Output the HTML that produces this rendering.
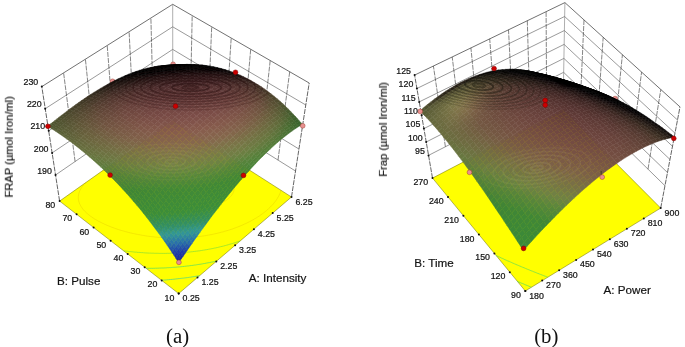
<!DOCTYPE html><html><head><meta charset="utf-8"><style>html,body{margin:0;padding:0;background:#fff}svg{display:block}
.te{stroke:#333;stroke-width:.7}.gh{stroke:#555;stroke-width:.6}.gv{stroke:#333;stroke-width:.6;stroke-dasharray:5 1}
.ev{stroke:#222;stroke-width:.7;stroke-dasharray:5 1}.eb{stroke:#777;stroke-width:.6}
text{font-family:"Liberation Sans",sans-serif;fill:#111}.tk text{font-size:8.4px;stroke:#111;stroke-width:.22}.ti text{font-size:11.1px;stroke:#111;stroke-width:.2}
.cap{font-family:"Liberation Serif",serif;font-size:20.8px}</style></head><body><svg width="685" height="347" viewBox="0 0 685 347"><g><line x1="41.8" y1="86.6" x2="172.7" y2="4.3" class="te"/><line x1="172.7" y1="4.3" x2="309.2" y2="83" class="te"/><line x1="45.2" y1="108.7" x2="172.7" y2="26.8" class="gh"/><line x1="172.7" y1="26.8" x2="305.8" y2="105" class="gh"/><line x1="48.7" y1="130.8" x2="172.7" y2="49.4" class="gh"/><line x1="172.7" y1="49.4" x2="302.4" y2="127" class="gh"/><line x1="52.1" y1="152.9" x2="172.8" y2="71.9" class="gh"/><line x1="172.8" y1="71.9" x2="298.9" y2="149" class="gh"/><line x1="55.5" y1="175" x2="172.8" y2="94.4" class="gh"/><line x1="172.8" y1="94.4" x2="295.5" y2="171" class="gh"/><line x1="75.1" y1="161.6" x2="63.6" y2="72.9" class="gv"/><line x1="94.6" y1="148.1" x2="85.4" y2="59.2" class="gv"/><line x1="114.2" y1="134.7" x2="107.2" y2="45.4" class="gv"/><line x1="133.7" y1="121.3" x2="129.1" y2="31.7" class="gv"/><line x1="153.2" y1="107.8" x2="150.9" y2="18" class="gv"/><line x1="278" y1="160.1" x2="289.7" y2="71.8" class="gv"/><line x1="260.5" y1="149.1" x2="270.2" y2="60.5" class="gv"/><line x1="242.9" y1="138.2" x2="250.7" y2="49.3" class="gv"/><line x1="225.4" y1="127.3" x2="231.2" y2="38" class="gv"/><line x1="207.9" y1="116.3" x2="211.7" y2="26.8" class="gv"/><line x1="190.3" y1="105.4" x2="192.2" y2="15.5" class="gv"/><line x1="59.6" y1="201.1" x2="41.8" y2="86.6" class="ev"/><line x1="291.5" y1="197" x2="309.2" y2="83" class="ev"/><line x1="172.8" y1="121" x2="172.7" y2="4.3" class="eb"/></g><path d="M178.7,293.6 L291.5,197 L172.8,121 L59.6,201.1 Z" fill="#ffff00" stroke="#6b6b00" stroke-width="0.5"/><g fill="none" stroke-width="0.8"><polyline points="199.6,275.7 199.2,275.8 197.6,276 197.3,276.1 195.9,276.3 195,276.5 194.3,276.6 192.7,276.8 192.6,276.8 190.9,277.1 190.4,277.2 189.3,277.3 188.2,277.5 187.6,277.6 185.9,277.8 185.9,277.8 184.2,278 183.7,278.1 182.5,278.2 181.5,278.3 180.8,278.4 179.3,278.6 179.1,278.6 177.3,278.8 177.1,278.8 175.6,279 175,279.1 173.9,279.2 172.8,279.3 172.1,279.4 170.7,279.5 170.4,279.5 168.6,279.7 168.5,279.7 166.8,279.8 166.4,279.9 165.1,280 164.3,280 163.3,280.1 162.2,280.2 161.5,280.2" stroke="#30d0a0" stroke-opacity="0.8"/><polyline points="216.7,261.1 216,261.2 214.5,261.5 214.2,261.6 212.9,261.9 211.8,262.1 211.3,262.2 209.7,262.5 209.4,262.6 208.1,262.8 207,263 206.5,263.1 204.9,263.4 204.6,263.5 203.2,263.7 202.3,263.9 201.6,264 200,264.3 199.9,264.3 198.3,264.5 197.7,264.6 196.6,264.8 195.4,265 194.9,265 193.2,265.3 193.2,265.3 191.5,265.5 191,265.6 189.8,265.7 188.8,265.9 188.1,265.9 186.6,266.1 186.4,266.1 184.7,266.3 184.4,266.4 182.9,266.5 182.3,266.6 181.2,266.7 180.1,266.8 179.4,266.9 178,267 177.7,267 175.9,267.2 175.9,267.2 174.1,267.3 173.8,267.3 172.3,267.4 171.7,267.5 170.5,267.6 169.7,267.6 168.7,267.7 167.6,267.7 166.8,267.8 165.6,267.9 165,267.9 163.5,268 163.2,268 161.5,268 161.3,268 159.5,268.1 159.5,268.1 157.6,268.2 157.5,268.2 155.7,268.2 155.5,268.2 153.8,268.3 153.5,268.3 151.9,268.3 151.6,268.3 150,268.3 149.6,268.3 148.1,268.3 147.7,268.3 146.2,268.3" stroke="#40d870" stroke-opacity="0.8"/><polyline points="167.4,124.8 168.7,124.7 169.5,124.7 170.5,124.6 171.5,124.6 172.4,124.5 173.5,124.5 174.2,124.4 175.6,124.4 176.1,124.4 177.6,124.3 177.9,124.3" stroke="#40d870" stroke-opacity="0.8"/><polyline points="240.2,240.9 239.6,241.1 238.2,241.6 237.2,242 236.8,242.1 235.4,242.6 234.3,242.9 234,243 232.5,243.5 231.4,243.8 231.1,243.9 229.6,244.3 228.6,244.6 228.1,244.8 226.6,245.2 225.9,245.4 225.2,245.6 223.6,246 223.3,246.1 222.1,246.4 220.7,246.7 220.6,246.7 219.1,247.1 218.2,247.3 217.5,247.5 216,247.8 215.7,247.9 214.4,248.1 213.2,248.4 212.8,248.5 211.2,248.8 210.8,248.9 209.6,249.1 208.4,249.3 208,249.4 206.4,249.7 206.1,249.7 204.7,250 203.8,250.1 203.1,250.2 201.5,250.5 201.4,250.5 199.7,250.8 199.2,250.8 198,251 197,251.1 196.3,251.2 194.8,251.4 194.6,251.4 192.9,251.6 192.6,251.7 191.2,251.8 190.4,251.9 189.4,252 188.3,252.1 187.7,252.2 186.2,252.3 185.9,252.4 184.1,252.5 184.1,252.5 182.3,252.7 182,252.7 180.5,252.8 180,252.8 178.7,252.9 177.9,252.9 176.8,253 175.9,253 175,253.1 173.9,253.1 173.1,253.2 171.9,253.2 171.2,253.2 169.9,253.3 169.3,253.3 168,253.3 167.4,253.3 166,253.4 165.5,253.4 164.1,253.4 163.5,253.4 162.2,253.4 161.6,253.4 160.3,253.4 159.6,253.4 158.4,253.3 157.6,253.3 156.5,253.3 155.6,253.3 154.6,253.3 153.6,253.2 152.8,253.2 151.6,253.2 150.9,253.1 149.5,253.1 149.1,253.1 147.5,253 147.3,253 145.5,252.9 145.4,252.9 143.7,252.8 143.3,252.7 141.9,252.6 141.2,252.6 140.1,252.5 139.1,252.4 138.3,252.4 136.9,252.3 136.6,252.2 134.8,252.1 134.7,252.1 133.1,251.9 132.5,251.8 131.3,251.7 130.3,251.6 129.6,251.5 128.1,251.4 127.9,251.3 126.2,251.1 125.9,251.1 124.5,250.9 123.6,250.8" stroke="#70d840" stroke-opacity="0.75"/><polyline points="145.8,140.1 146.8,140 148.2,139.7 148.4,139.7 150,139.5 150.6,139.4 151.6,139.3 153,139.1 153.2,139.1 154.9,138.9 155.3,138.8 156.5,138.7 157.6,138.5 158.2,138.5 159.8,138.3 159.9,138.3 161.5,138.1 162.2,138 163.2,137.9 164.4,137.8 164.9,137.7 166.6,137.5 166.6,137.5 168.3,137.4 168.8,137.3 170.1,137.2 171,137.1 171.8,137.1 173.1,137 173.6,136.9 175.2,136.8 175.3,136.8 177.1,136.6 177.3,136.6 178.9,136.5 179.4,136.5 180.7,136.4 181.4,136.4 182.6,136.3 183.5,136.2 184.4,136.2 185.5,136.1 186.3,136.1 187.5,136 188.2,136 189.5,136 190.1,135.9 191.4,135.9 192,135.9 193.4,135.8 193.9,135.8 195.3,135.8 195.8,135.8" stroke="#70d840" stroke-opacity="0.75"/><polyline points="101.3,171.6 102.1,171.1 103.2,170.6 104.3,170 105.4,169.5 106.5,168.9 107.7,168.4 108.2,168.1 108.8,167.8 110,167.3 111.1,166.8 112.3,166.3 113.4,165.8 113.5,165.8 114.7,165.3 115.9,164.8 117.1,164.4 118,164 118.3,163.9 119.5,163.4 120.8,163 122,162.5 122.1,162.5 123.3,162.1 124.6,161.6 125.9,161.2 125.9,161.2 127.1,160.8 128.5,160.3 129.5,160 129.8,159.9 131.1,159.5 132.4,159.1 132.9,159 133.8,158.7 135.1,158.3 136.2,158 136.5,157.9 137.9,157.6 139.2,157.2 139.3,157.2 140.6,156.8 142,156.5 142.3,156.4 143.5,156.1 144.9,155.8 145.3,155.7 146.3,155.4 147.8,155.1 148.1,155 149.2,154.8 150.7,154.4 150.9,154.4 152.2,154.1 153.6,153.8 153.7,153.8 155.2,153.5 156.2,153.3 156.7,153.2 158.2,152.9 158.8,152.8 159.8,152.7 161.3,152.4 161.3,152.4 162.9,152.1 163.8,152 164.5,151.9 166.1,151.6 166.2,151.6 167.7,151.4 168.6,151.2 169.3,151.1 170.9,150.9 171,150.9 172.6,150.7 173.2,150.6 174.3,150.5 175.5,150.3 176,150.3 177.7,150.1 177.7,150.1 179.4,149.9 179.9,149.8 181.1,149.7 182.1,149.6 182.9,149.6 184.2,149.4 184.6,149.4 186.3,149.3 186.4,149.3 188.2,149.1 188.4,149.1 190,149 190.4,149 191.9,148.9 192.4,148.9 193.8,148.8 194.4,148.8 195.7,148.7 196.4,148.7 197.6,148.6 198.3,148.6 199.5,148.6 200.2,148.6 201.5,148.6 202.1,148.5 203.5,148.5 204,148.5 205.5,148.5 205.8,148.5 207.6,148.5 207.6,148.5 209.4,148.6 209.7,148.6 211.2,148.6 211.8,148.6 213,148.7 214,148.7 214.7,148.7 216.2,148.8" stroke="#d8b000" stroke-opacity="0.35"/><polyline points="281,190.3 280.7,191.4 280.7,191.5 280.3,192.6 279.9,193.6 279.8,193.7 279.3,194.8 278.8,195.9 278.7,196.1 278.2,196.9 277.6,197.9 277,198.9 276.9,199 276.4,199.9 275.7,200.9 275,201.8 274.2,202.7 274,203 273.5,203.7 272.7,204.6 271.9,205.4 271,206.3 270.2,207.2 269.3,208 268.4,208.8 267.5,209.7 266.6,210.5 265.6,211.3 264.7,212 263.7,212.8 262.7,213.6 261.7,214.3 260.6,215 259.6,215.8 258.5,216.5 257.4,217.2 257.1,217.4 256.3,217.9 255.2,218.5 254,219.2 252.9,219.9 251.7,220.5 251.4,220.7 250.6,221.1 249.4,221.8 248.1,222.4 246.9,223 246.9,223 245.7,223.6 244.4,224.1 243.2,224.7 242.9,224.8 241.9,225.3 240.6,225.8 239.3,226.3 239.3,226.4 237.9,226.9 236.6,227.4 236,227.6 235.3,227.9 233.9,228.4 232.8,228.8 232.5,228.9 231.1,229.4 229.8,229.8 229.7,229.8 228.3,230.3 226.9,230.7 226.8,230.7 225.4,231.1 224.1,231.5 223.9,231.6 222.4,232 221.4,232.2 220.9,232.4 219.4,232.7 218.8,232.9 217.9,233.1 216.4,233.5 216.3,233.5 214.8,233.8 213.8,234.1 213.2,234.2 211.7,234.5 211.3,234.6 210.1,234.8 208.9,235 208.4,235.1 206.8,235.4 206.6,235.4 205.2,235.7 204.3,235.8 203.5,235.9 202,236.1 201.8,236.2 200.1,236.4 199.8,236.4 198.4,236.6 197.6,236.7 196.7,236.8 195.5,236.9 194.9,237 193.3,237.2 193.2,237.2 191.4,237.3 191.2,237.3 189.6,237.5 189.2,237.5 187.7,237.6 187.1,237.6 185.9,237.7 185.1,237.8 184,237.8 183.1,237.9 182.2,237.9 181.2,237.9 180.3,237.9 179.2,238 178.3,238 177.3,238 176.4,238 175.4,238 174.4,238 173.5,238 172.4,238 171.6,238 170.4,238 169.8,238 168.4,237.9 167.9,237.9 166.3,237.8 166.1,237.8 164.3,237.7 164.2,237.7 162.5,237.6 162.1,237.6 160.8,237.5 159.9,237.4 159,237.4 157.7,237.3 157.3,237.2 155.6,237.1 155.5,237.1 153.9,236.9 153.2,236.8 152.2,236.7 150.9,236.6 150.5,236.5 148.8,236.3 148.6,236.3 147.2,236.1 146.2,235.9 145.6,235.8 143.9,235.6 143.8,235.5 142.3,235.3 141.3,235.1 140.8,235 139.2,234.7 138.8,234.7 137.6,234.4 136.2,234.2 136.1,234.1 134.5,233.8 133.5,233.6 133,233.5 131.5,233.1 130.8,233 130,232.8 128.5,232.4 128,232.3 127,232 125.5,231.6 125.1,231.5 124.1,231.2 122.7,230.8 122,230.6 121.2,230.4 119.8,230 118.9,229.7 118.4,229.5 117,229.1 115.7,228.6 115.5,228.6 114.3,228.1 113,227.6 111.9,227.3 111.6,227.1 110.3,226.6 109,226.1 108,225.7 107.7,225.6 106.4,225 105.2,224.5 103.9,223.9 103.6,223.7 102.7,223.3 101.5,222.7 100.3,222.1 99.1,221.5 98.1,221 97.9,220.9 96.8,220.2 95.7,219.5 94.5,218.9 93.5,218.2 92.4,217.5 91.3,216.7 90.3,216 89.3,215.2 88.3,214.5 87.4,213.7 86.5,212.9 85.6,212 84.7,211.2 83.9,210.3 83.3,209.6 83.1,209.4 82.4,208.4 81.7,207.4 81,206.4 81,206.4 80.4,205.4 79.9,204.3 79.7,204 79.4,203.2 79,202 79,202 78.6,200.8 78.6,200.3 78.4,199.5 78.3,198.8 78.3,198.1 78.3,197.3 78.3,196.6 78.4,196 78.5,195 78.6,194.7 78.8,193.6 78.9,193.3 79.2,192.4 79.6,191.3 79.6,191.3 80,190.3 80.6,189.3 80.7,189.1 81.1,188.4 81.7,187.4 82.3,186.5 82.5,186.3 83,185.7 83.7,184.8 84.5,184 85.2,183.2 85.9,182.5" stroke="#d8b000" stroke-opacity="0.35"/><polyline points="168.4,205.1 167.9,204.8 166.7,204.2 165.7,203.6 164.6,202.9 163.6,202.2 162.7,201.4 161.9,200.6 161.4,200 161.1,199.7 160.4,198.8 159.9,197.7 159.7,197.4 159.4,196.6 159.1,195.6 159.1,195.4 159,194.2 159,194 159.1,192.9 159.2,192.4 159.4,191.7 159.8,190.6 159.9,190.4 160.4,189.6 161,188.6 161.7,187.7 162,187.4 162.4,186.9 163.2,186.1 164.1,185.3 165,184.6 166,183.9 167,183.2 168,182.6 169.1,181.9 169.2,181.9 170.2,181.4 171.4,180.8 172.6,180.2 173.8,179.7 174.2,179.6 175,179.2 176.3,178.7 177.6,178.3 177.8,178.2 179,177.8 180.4,177.4 181,177.2 181.8,177 183.2,176.6 183.8,176.5 184.7,176.3 186.2,175.9 186.5,175.9 187.8,175.6 188.9,175.4 189.4,175.4 191,175.1 191.3,175.1 192.7,174.9 193.5,174.8 194.4,174.7 195.7,174.5 196.1,174.5 197.8,174.4 198,174.4 199.8,174.3 199.8,174.3 201.7,174.2 201.8,174.2 203.6,174.2 203.8,174.2 205.4,174.2 205.9,174.2 207.1,174.3 208.1,174.3 208.8,174.4 210.4,174.5 210.5,174.5 212.1,174.7 212.8,174.8 213.7,174.9 215.2,175.1 215.5,175.2 216.7,175.4 218.1,175.7 218.5,175.8 219.5,176.1 220.8,176.4 222.1,176.8 222.2,176.9 223.3,177.3 224.5,177.8 225.7,178.3 226.8,178.9 227.9,179.5 228.9,180.1 229.8,180.8 230.7,181.6 231.5,182.4 232.2,183.2 232.5,183.7 232.8,184.2 233.4,185.2 233.6,185.8 233.8,186.3 234,187.5 234,187.5 234.1,188.9 234.1,188.9 234,190.2 233.9,190.6 233.7,191.4 233.3,192.5 233.3,192.6 232.8,193.6 232.2,194.5 231.5,195.5 231.5,195.5 230.7,196.4 229.9,197.2 229.1,198.1 228.2,198.8 227.2,199.6 226.2,200.3 225.2,201 224.1,201.7 223.2,202.2 223,202.3 221.8,203 220.6,203.5 219.4,204.1 218.7,204.4 218.1,204.6 216.8,205.2 215.5,205.7 215.2,205.7 214.1,206.1 212.7,206.6 212.2,206.7 211.2,207 209.7,207.4 209.4,207.4 208.2,207.7 206.9,208 206.7,208 205.1,208.3 204.5,208.4 203.4,208.6 202.2,208.8 201.8,208.9 200,209.1 200,209.1 198.3,209.2 197.9,209.3 196.4,209.4 195.9,209.4 194.5,209.5 193.9,209.5 192.6,209.5 192,209.5 190.6,209.5 190.2,209.5 188.5,209.4 188.4,209.4 186.6,209.3 186.3,209.3 184.9,209.2 184,209.1 183.3,209 181.7,208.8 181.6,208.8 180.1,208.6 179,208.4 178.6,208.3 177.1,208 176.1,207.7 175.7,207.6 174.3,207.2 172.9,206.8 172.8,206.8 171.6,206.4 170.3,205.9 169.1,205.4 168.4,205.1" stroke="#d09000" stroke-opacity="0.25"/></g><g fill="#111"><circle cx="178.7" cy="293.6" r="1"/><circle cx="197.5" cy="277.5" r="1"/><circle cx="216.3" cy="261.4" r="1"/><circle cx="235.1" cy="245.3" r="1"/><circle cx="253.9" cy="229.2" r="1"/><circle cx="272.7" cy="213.1" r="1"/><circle cx="291.5" cy="197" r="1"/><circle cx="178.7" cy="293.6" r="1"/><circle cx="161.7" cy="280.4" r="1"/><circle cx="144.7" cy="267.2" r="1"/><circle cx="127.7" cy="254" r="1"/><circle cx="110.6" cy="240.7" r="1"/><circle cx="93.6" cy="227.5" r="1"/><circle cx="76.6" cy="214.3" r="1"/><circle cx="59.6" cy="201.1" r="1"/><circle cx="41.8" cy="86.6" r="1"/><circle cx="45.2" cy="108.7" r="1"/><circle cx="48.7" cy="130.8" r="1"/><circle cx="52.1" cy="152.9" r="1"/><circle cx="55.5" cy="175" r="1"/></g><circle cx="173.1" cy="64.3" r="2.4" fill="#e89090" stroke="#a04030" stroke-width="0.5"/><circle cx="112.6" cy="81.3" r="2.4" fill="#e89090" stroke="#a04030" stroke-width="0.5"/><g stroke-width="0.5"><path d="M172.4 65 176 65 172.2 65.4 168.6 65.3Z" fill="#000000" stroke="#000000"/><path d="M168.7 65.2 172.4 65 168.6 65.3 164.9 65.5Z" fill="#000000" stroke="#000000"/><path d="M176.2 64.8 179.8 64.7 176 65 172.4 65Z" fill="#000000" stroke="#000000"/><path d="M165 65.6 168.7 65.2 164.9 65.5 161.3 65.8Z" fill="#000000" stroke="#000000"/><path d="M172.5 65.1 176.2 64.8 172.4 65 168.7 65.2Z" fill="#000000" stroke="#000000"/><path d="M180 64.7 183.6 64.5 179.8 64.7 176.2 64.8Z" fill="#000000" stroke="#000000"/><path d="M161.4 66.1 165 65.6 161.3 65.8 157.6 66.2Z" fill="#000000" stroke="#000000"/><path d="M168.8 65.5 172.5 65.1 168.7 65.2 165 65.6Z" fill="#000000" stroke="#000000"/><path d="M176.3 65 180 64.7 176.2 64.8 172.5 65.1Z" fill="#000000" stroke="#000000"/><path d="M183.8 64.6 187.4 64.4 183.6 64.5 180 64.7Z" fill="#000000" stroke="#000000"/><path d="M157.7 66.8 161.4 66.1 157.6 66.2 153.9 66.8Z" fill="#000000" stroke="#000000"/><path d="M165.2 66.1 168.8 65.5 165 65.6 161.4 66.1Z" fill="#000000" stroke="#000000"/><path d="M172.6 65.5 176.3 65 172.5 65.1 168.8 65.5Z" fill="#000000" stroke="#000000"/><path d="M180.1 65 183.8 64.6 180 64.7 176.3 65Z" fill="#000000" stroke="#000000"/><path d="M187.6 64.7 191.2 64.4 187.4 64.4 183.8 64.6Z" fill="#000000" stroke="#000000"/><path d="M154 67.5 157.7 66.8 153.9 66.8 150.3 67.5Z" fill="#000000" stroke="#000000"/><path d="M161.5 66.8 165.2 66.1 161.4 66.1 157.7 66.8Z" fill="#000000" stroke="#000000"/><path d="M169 66.1 172.6 65.5 168.8 65.5 165.2 66.1Z" fill="#000000" stroke="#000000"/><path d="M176.4 65.6 180.1 65 176.3 65 172.6 65.5Z" fill="#000000" stroke="#000000"/><path d="M183.9 65.2 187.6 64.7 183.8 64.6 180.1 65Z" fill="#000000" stroke="#000000"/><path d="M191.4 64.9 195.1 64.5 191.2 64.4 187.6 64.7Z" fill="#000000" stroke="#000000"/><path d="M150.4 68.5 154 67.5 150.3 67.5 146.6 68.4Z" fill="#000000" stroke="#000000"/><path d="M157.8 67.7 161.5 66.8 157.7 66.8 154 67.5Z" fill="#000000" stroke="#000000"/><path d="M165.3 66.9 169 66.1 165.2 66.1 161.5 66.8Z" fill="#000000" stroke="#000000"/><path d="M172.8 66.3 176.4 65.6 172.6 65.5 169 66.1Z" fill="#000000" stroke="#000000"/><path d="M180.3 65.8 183.9 65.2 180.1 65 176.4 65.6Z" fill="#000000" stroke="#000000"/><path d="M195.3 65.2 198.9 64.8 195.1 64.5 191.4 64.9Z" fill="#000000" stroke="#000000"/><path d="M187.8 65.4 191.4 64.9 187.6 64.7 183.9 65.2Z" fill="#000000" stroke="#000000"/><path d="M146.7 69.5 150.4 68.5 146.6 68.4 143 69.3Z" fill="#000000" stroke="#000000"/><path d="M154.2 68.6 157.8 67.7 154 67.5 150.4 68.5Z" fill="#000000" stroke="#000000"/><path d="M161.6 67.9 165.3 66.9 161.5 66.8 157.8 67.7Z" fill="#000000" stroke="#000000"/><path d="M169.1 67.2 172.8 66.3 169 66.1 165.3 66.9Z" fill="#000000" stroke="#000000"/><path d="M176.6 66.6 180.3 65.8 176.4 65.6 172.8 66.3Z" fill="#000000" stroke="#000000"/><path d="M199.1 65.6 202.7 65.1 198.9 64.8 195.3 65.2Z" fill="#000000" stroke="#000000"/><path d="M184.1 66.1 187.8 65.4 183.9 65.2 180.3 65.8Z" fill="#000000" stroke="#000000"/><path d="M191.6 65.8 195.3 65.2 191.4 64.9 187.8 65.4Z" fill="#000000" stroke="#000000"/><path d="M143.1 70.7 146.7 69.5 143 69.3 139.3 70.4Z" fill="#000000" stroke="#000000"/><path d="M150.5 69.8 154.2 68.6 150.4 68.5 146.7 69.5Z" fill="#000000" stroke="#000000"/><path d="M158 68.9 161.6 67.9 157.8 67.7 154.2 68.6Z" fill="#000000" stroke="#000000"/><path d="M165.4 68.2 169.1 67.2 165.3 66.9 161.6 67.9Z" fill="#000000" stroke="#000000"/><path d="M139.4 71.9 143.1 70.7 139.3 70.4 135.7 71.6Z" fill="#000000" stroke="#000000"/><path d="M172.9 67.5 176.6 66.6 172.8 66.3 169.1 67.2Z" fill="#000000" stroke="#000000"/><path d="M202.9 66.2 206.6 65.6 202.7 65.1 199.1 65.6Z" fill="#000000" stroke="#000000"/><path d="M180.4 67 184.1 66.1 180.3 65.8 176.6 66.6Z" fill="#000000" stroke="#000000"/><path d="M195.4 66.3 199.1 65.6 195.3 65.2 191.6 65.8Z" fill="#000000" stroke="#000000"/><path d="M187.9 66.6 191.6 65.8 187.8 65.4 184.1 66.1Z" fill="#000000" stroke="#000000"/><path d="M146.9 71 150.5 69.8 146.7 69.5 143.1 70.7Z" fill="#000000" stroke="#000000"/><path d="M154.3 70.1 158 68.9 154.2 68.6 150.5 69.8Z" fill="#000000" stroke="#000000"/><path d="M161.8 69.3 165.4 68.2 161.6 67.9 158 68.9Z" fill="#000000" stroke="#000000"/><path d="M135.8 73.3 139.4 71.9 135.7 71.6 132.1 72.9Z" fill="#000000" stroke="#000000"/><path d="M169.3 68.6 172.9 67.5 169.1 67.2 165.4 68.2Z" fill="#000000" stroke="#000000"/><path d="M176.8 68 180.4 67 176.6 66.6 172.9 67.5Z" fill="#000000" stroke="#000000"/><path d="M206.7 66.8 210.4 66.2 206.6 65.6 202.9 66.2Z" fill="#000000" stroke="#000000"/><path d="M143.2 72.3 146.9 71 143.1 70.7 139.4 71.9Z" fill="#000000" stroke="#000000"/><path d="M184.3 67.5 187.9 66.6 184.1 66.1 180.4 67Z" fill="#000000" stroke="#000000"/><path d="M199.3 66.9 202.9 66.2 199.1 65.6 195.4 66.3Z" fill="#000000" stroke="#000000"/><path d="M191.8 67.1 195.4 66.3 191.6 65.8 187.9 66.6Z" fill="#000000" stroke="#000000"/><path d="M150.7 71.4 154.3 70.1 150.5 69.8 146.9 71Z" fill="#000000" stroke="#000000"/><path d="M132.2 74.8 135.8 73.3 132.1 72.9 128.5 74.3Z" fill="#000000" stroke="#000000"/><path d="M158.1 70.6 161.8 69.3 158 68.9 154.3 70.1Z" fill="#000000" stroke="#000000"/><path d="M165.6 69.8 169.3 68.6 165.4 68.2 161.8 69.3Z" fill="#000000" stroke="#000000"/><path d="M139.6 73.8 143.2 72.3 139.4 71.9 135.8 73.3Z" fill="#000000" stroke="#000000"/><path d="M173.1 69.1 176.8 68 172.9 67.5 169.3 68.6Z" fill="#000000" stroke="#000000"/><path d="M210.6 67.6 214.2 66.9 210.4 66.2 206.7 66.8Z" fill="#000000" stroke="#000000"/><path d="M180.6 68.6 184.3 67.5 180.4 67 176.8 68Z" fill="#000000" stroke="#000000"/><path d="M203.1 67.6 206.7 66.8 202.9 66.2 199.3 66.9Z" fill="#000000" stroke="#000000"/><path d="M188.1 68.1 191.8 67.1 187.9 66.6 184.3 67.5Z" fill="#000000" stroke="#000000"/><path d="M195.6 67.8 199.3 66.9 195.4 66.3 191.8 67.1Z" fill="#000000" stroke="#000000"/><path d="M147 72.8 150.7 71.4 146.9 71 143.2 72.3Z" fill="#000000" stroke="#000000"/><path d="M128.6 76.4 132.2 74.8 128.5 74.3 124.9 75.8Z" fill="#020101" stroke="#020101"/><path d="M154.5 72 158.1 70.6 154.3 70.1 150.7 71.4Z" fill="#000000" stroke="#000000"/><path d="M136 75.3 139.6 73.8 135.8 73.3 132.2 74.8Z" fill="#020101" stroke="#020101"/><path d="M161.9 71.1 165.6 69.8 161.8 69.3 158.1 70.6Z" fill="#000000" stroke="#000000"/><path d="M169.4 70.4 173.1 69.1 169.3 68.6 165.6 69.8Z" fill="#000000" stroke="#000000"/><path d="M214.4 68.5 218 67.8 214.2 66.9 210.6 67.6Z" fill="#000000" stroke="#000000"/><path d="M143.4 74.4 147 72.8 143.2 72.3 139.6 73.8Z" fill="#020101" stroke="#020101"/><path d="M125.1 78 128.6 76.4 124.9 75.8 121.3 77.4Z" fill="#060404" stroke="#060404"/><path d="M176.9 69.8 180.6 68.6 176.8 68 173.1 69.1Z" fill="#000000" stroke="#000000"/><path d="M206.9 68.5 210.6 67.6 206.7 66.8 203.1 67.6Z" fill="#000000" stroke="#000000"/><path d="M184.4 69.2 188.1 68.1 184.3 67.5 180.6 68.6Z" fill="#000000" stroke="#000000"/><path d="M199.4 68.6 203.1 67.6 199.3 66.9 195.6 67.8Z" fill="#000000" stroke="#000000"/><path d="M191.9 68.8 195.6 67.8 191.8 67.1 188.1 68.1Z" fill="#000000" stroke="#000000"/><path d="M150.8 73.4 154.5 72 150.7 71.4 147 72.8Z" fill="#020101" stroke="#020101"/><path d="M132.4 77 136 75.3 132.2 74.8 128.6 76.4Z" fill="#060404" stroke="#060404"/><path d="M158.3 72.6 161.9 71.1 158.1 70.6 154.5 72Z" fill="#020101" stroke="#020101"/><path d="M121.5 79.8 125.1 78 121.3 77.4 117.8 79.1Z" fill="#0b0807" stroke="#0b0807"/><path d="M139.8 76 143.4 74.4 139.6 73.8 136 75.3Z" fill="#070404" stroke="#070404"/><path d="M165.7 71.8 169.4 70.4 165.6 69.8 161.9 71.1Z" fill="#020101" stroke="#020101"/><path d="M218.2 69.5 221.8 68.7 218 67.8 214.4 68.5Z" fill="#000000" stroke="#000000"/><path d="M173.2 71.1 176.9 69.8 173.1 69.1 169.4 70.4Z" fill="#010101" stroke="#010101"/><path d="M210.7 69.4 214.4 68.5 210.6 67.6 206.9 68.5Z" fill="#000000" stroke="#000000"/><path d="M180.7 70.5 184.4 69.2 180.6 68.6 176.9 69.8Z" fill="#010001" stroke="#010001"/><path d="M147.2 75.1 150.8 73.4 147 72.8 143.4 74.4Z" fill="#070404" stroke="#070404"/><path d="M203.2 69.5 206.9 68.5 203.1 67.6 199.4 68.6Z" fill="#000000" stroke="#000000"/><path d="M128.8 78.7 132.4 77 128.6 76.4 125.1 78Z" fill="#0c0807" stroke="#0c0807"/><path d="M188.2 70 191.9 68.8 188.1 68.1 184.4 69.2Z" fill="#010000" stroke="#010000"/><path d="M195.8 69.7 199.4 68.6 195.6 67.8 191.9 68.8Z" fill="#000000" stroke="#000000"/><path d="M154.6 74.2 158.3 72.6 154.5 72 150.8 73.4Z" fill="#070304" stroke="#070304"/><path d="M118 81.6 121.5 79.8 117.8 79.1 114.3 80.8Z" fill="#110c0a" stroke="#110c0a"/><path d="M136.2 77.7 139.8 76 136 75.3 132.4 77Z" fill="#0c0807" stroke="#0c0807"/><path d="M162.1 73.3 165.7 71.8 161.9 71.1 158.3 72.6Z" fill="#070304" stroke="#070304"/><path d="M221.9 70.7 225.6 69.8 221.8 68.7 218.2 69.5Z" fill="#010001" stroke="#010001"/><path d="M169.6 72.6 173.2 71.1 169.4 70.4 165.7 71.8Z" fill="#060304" stroke="#060304"/><path d="M125.3 80.5 128.8 78.7 125.1 78 121.5 79.8Z" fill="#120c0a" stroke="#120c0a"/><path d="M143.6 76.8 147.2 75.1 143.4 74.4 139.8 76Z" fill="#0d0808" stroke="#0d0808"/><path d="M214.5 70.5 218.2 69.5 214.4 68.5 210.7 69.4Z" fill="#020101" stroke="#020101"/><path d="M177.1 71.9 180.7 70.5 176.9 69.8 173.2 71.1Z" fill="#060303" stroke="#060303"/><path d="M207.1 70.5 210.7 69.4 206.9 68.5 203.2 69.5Z" fill="#030102" stroke="#030102"/><path d="M114.5 83.5 118 81.6 114.3 80.8 110.8 82.6Z" fill="#17110d" stroke="#17110d"/><path d="M184.6 71.4 188.2 70 184.4 69.2 180.7 70.5Z" fill="#050203" stroke="#050203"/><path d="M199.6 70.7 203.2 69.5 199.4 68.6 195.8 69.7Z" fill="#040202" stroke="#040202"/><path d="M192.1 71 195.8 69.7 191.9 68.8 188.2 70Z" fill="#050203" stroke="#050203"/><path d="M151 75.8 154.6 74.2 150.8 73.4 147.2 75.1Z" fill="#0d0708" stroke="#0d0708"/><path d="M132.6 79.5 136.2 77.7 132.4 77 128.8 78.7Z" fill="#130c0b" stroke="#130c0b"/><path d="M158.4 75 162.1 73.3 158.3 72.6 154.6 74.2Z" fill="#0e0708" stroke="#0e0708"/><path d="M121.8 82.4 125.3 80.5 121.5 79.8 118 81.6Z" fill="#18110e" stroke="#18110e"/><path d="M225.7 71.9 229.3 71 225.6 69.8 221.9 70.7Z" fill="#050203" stroke="#050203"/><path d="M140 78.6 143.6 76.8 139.8 76 136.2 77.7Z" fill="#140c0b" stroke="#140c0b"/><path d="M165.9 74.2 169.6 72.6 165.7 71.8 162.1 73.3Z" fill="#0e0708" stroke="#0e0708"/><path d="M111.1 85.4 114.5 83.5 110.8 82.6 107.3 84.5Z" fill="#1c1511" stroke="#1c1511"/><path d="M218.3 71.7 221.9 70.7 218.2 69.5 214.5 70.5Z" fill="#070304" stroke="#070304"/><path d="M173.4 73.5 177.1 71.9 173.2 71.1 169.6 72.6Z" fill="#0d0708" stroke="#0d0708"/><path d="M129.1 81.4 132.6 79.5 128.8 78.7 125.3 80.5Z" fill="#1a110f" stroke="#1a110f"/><path d="M147.4 77.6 151 75.8 147.2 75.1 143.6 76.8Z" fill="#150c0c" stroke="#150c0c"/><path d="M210.8 71.7 214.5 70.5 210.7 69.4 207.1 70.5Z" fill="#080405" stroke="#080405"/><path d="M180.9 72.9 184.6 71.4 180.7 70.5 177.1 71.9Z" fill="#0d0607" stroke="#0d0607"/><path d="M203.4 71.8 207.1 70.5 203.2 69.5 199.6 70.7Z" fill="#0a0506" stroke="#0a0506"/><path d="M188.4 72.4 192.1 71 188.2 70 184.6 71.4Z" fill="#0c0607" stroke="#0c0607"/><path d="M195.9 72 199.6 70.7 195.8 69.7 192.1 71Z" fill="#0b0506" stroke="#0b0506"/><path d="M118.3 84.4 121.8 82.4 118 81.6 114.5 83.5Z" fill="#1e1612" stroke="#1e1612"/><path d="M154.8 76.7 158.4 75 154.6 74.2 151 75.8Z" fill="#150c0c" stroke="#150c0c"/><path d="M136.4 80.5 140 78.6 136.2 77.7 132.6 79.5Z" fill="#1b110f" stroke="#1b110f"/><path d="M107.7 87.4 111.1 85.4 107.3 84.5 103.9 86.4Z" fill="#221a14" stroke="#221a14"/><path d="M229.4 73.3 233 72.3 229.3 71 225.7 71.9Z" fill="#0b0606" stroke="#0b0606"/><path d="M162.3 75.9 165.9 74.2 162.1 73.3 158.4 75Z" fill="#160c0c" stroke="#160c0c"/><path d="M125.6 83.4 129.1 81.4 125.3 80.5 121.8 82.4Z" fill="#201613" stroke="#201613"/><path d="M222 73 225.7 71.9 221.9 70.7 218.3 71.7Z" fill="#0e0708" stroke="#0e0708"/><path d="M143.8 79.5 147.4 77.6 143.6 76.8 140 78.6Z" fill="#1c1110" stroke="#1c1110"/><path d="M169.7 75.2 173.4 73.5 169.6 72.6 165.9 74.2Z" fill="#160b0c" stroke="#160b0c"/><path d="M114.9 86.4 118.3 84.4 114.5 83.5 111.1 85.4Z" fill="#241a15" stroke="#241a15"/><path d="M214.6 72.9 218.3 71.7 214.5 70.5 210.8 71.7Z" fill="#100809" stroke="#100809"/><path d="M177.2 74.5 180.9 72.9 177.1 71.9 173.4 73.5Z" fill="#150b0c" stroke="#150b0c"/><path d="M104.3 89.4 107.7 87.4 103.9 86.4 100.5 88.4Z" fill="#271f17" stroke="#271f17"/><path d="M207.2 73 210.8 71.7 207.1 70.5 203.4 71.8Z" fill="#11090a" stroke="#11090a"/><path d="M184.7 73.9 188.4 72.4 184.6 71.4 180.9 72.9Z" fill="#150b0c" stroke="#150b0c"/><path d="M151.2 78.6 154.8 76.7 151 75.8 147.4 77.6Z" fill="#1d1111" stroke="#1d1111"/><path d="M132.9 82.4 136.4 80.5 132.6 79.5 129.1 81.4Z" fill="#221613" stroke="#221613"/><path d="M199.7 73.2 203.4 71.8 199.6 70.7 195.9 72Z" fill="#130a0b" stroke="#130a0b"/><path d="M192.2 73.5 195.9 72 192.1 71 188.4 72.4Z" fill="#140a0b" stroke="#140a0b"/><path d="M233.1 74.8 236.7 73.8 233 72.3 229.4 73.3Z" fill="#120b0b" stroke="#120b0b"/><path d="M122.1 85.4 125.6 83.4 121.8 82.4 118.3 84.4Z" fill="#271a16" stroke="#271a16"/><path d="M158.6 77.7 162.3 75.9 158.4 75 154.8 76.7Z" fill="#1e1011" stroke="#1e1011"/><path d="M140.2 81.5 143.8 79.5 140 78.6 136.4 80.5Z" fill="#241514" stroke="#241514"/><path d="M111.4 88.5 114.9 86.4 111.1 85.4 107.7 87.4Z" fill="#2a1f18" stroke="#2a1f18"/><path d="M225.8 74.5 229.4 73.3 225.7 71.9 222 73Z" fill="#150c0c" stroke="#150c0c"/><path d="M100.9 91.5 104.3 89.4 100.5 88.4 97.2 90.4Z" fill="#2c231a" stroke="#2c231a"/><path d="M166.1 77 169.7 75.2 165.9 74.2 162.3 75.9Z" fill="#1e1011" stroke="#1e1011"/><path d="M218.4 74.3 222 73 218.3 71.7 214.6 72.9Z" fill="#180d0d" stroke="#180d0d"/><path d="M129.4 84.5 132.9 82.4 129.1 81.4 125.6 83.4Z" fill="#291a17" stroke="#291a17"/><path d="M173.6 76.3 177.2 74.5 173.4 73.5 169.7 75.2Z" fill="#1e1011" stroke="#1e1011"/><path d="M147.6 80.6 151.2 78.6 147.4 77.6 143.8 79.5Z" fill="#251515" stroke="#251515"/><path d="M211 74.3 214.6 72.9 210.8 71.7 207.2 73Z" fill="#1a0e0f" stroke="#1a0e0f"/><path d="M181.1 75.6 184.7 73.9 180.9 72.9 177.2 74.5Z" fill="#1e1011" stroke="#1e1011"/><path d="M236.8 76.4 240.4 75.3 236.7 73.8 233.1 74.8Z" fill="#1a100f" stroke="#1a100f"/><path d="M118.6 87.6 122.1 85.4 118.3 84.4 114.9 86.4Z" fill="#2d1f1a" stroke="#2d1f1a"/><path d="M203.5 74.5 207.2 73 203.4 71.8 199.7 73.2Z" fill="#1b0e0f" stroke="#1b0e0f"/><path d="M188.5 75.1 192.2 73.5 188.4 72.4 184.7 73.9Z" fill="#1d0f11" stroke="#1d0f11"/><path d="M196 74.7 199.7 73.2 195.9 72 192.2 73.5Z" fill="#1c0f10" stroke="#1c0f10"/><path d="M108.1 90.6 111.4 88.5 107.7 87.4 104.3 89.4Z" fill="#2f231b" stroke="#2f231b"/><path d="M155 79.7 158.6 77.7 154.8 76.7 151.2 78.6Z" fill="#261515" stroke="#261515"/><path d="M97.6 93.7 100.9 91.5 97.2 90.4 93.9 92.4Z" fill="#31281c" stroke="#31281c"/><path d="M136.7 83.5 140.2 81.5 136.4 80.5 132.9 82.4Z" fill="#2b1a18" stroke="#2b1a18"/><path d="M229.5 76.1 233.1 74.8 229.4 73.3 225.8 74.5Z" fill="#1d1111" stroke="#1d1111"/><path d="M162.5 78.9 166.1 77 162.3 75.9 158.6 77.7Z" fill="#261516" stroke="#261516"/><path d="M125.9 86.6 129.4 84.5 125.6 83.4 122.1 85.4Z" fill="#2f1f1b" stroke="#2f1f1b"/><path d="M144 82.6 147.6 80.6 143.8 79.5 140.2 81.5Z" fill="#2c1a19" stroke="#2c1a19"/><path d="M222.1 75.8 225.8 74.5 222 73 218.4 74.3Z" fill="#201212" stroke="#201212"/><path d="M115.2 89.7 118.6 87.6 114.9 86.4 111.4 88.5Z" fill="#32231d" stroke="#32231d"/><path d="M169.9 78.1 173.6 76.3 169.7 75.2 166.1 77Z" fill="#271516" stroke="#271516"/><path d="M104.7 92.8 108.1 90.6 104.3 89.4 100.9 91.5Z" fill="#34281e" stroke="#34281e"/><path d="M240.4 78.2 244 77 240.4 75.3 236.8 76.4Z" fill="#221513" stroke="#221513"/><path d="M94.4 95.8 97.6 93.7 93.9 92.4 90.6 94.5Z" fill="#352c1f" stroke="#352c1f"/><path d="M214.7 75.8 218.4 74.3 214.6 72.9 211 74.3Z" fill="#221213" stroke="#221213"/><path d="M177.4 77.5 181.1 75.6 177.2 74.5 173.6 76.3Z" fill="#271516" stroke="#271516"/><path d="M133.2 85.7 136.7 83.5 132.9 82.4 129.4 84.5Z" fill="#311e1c" stroke="#311e1c"/><path d="M151.4 81.7 155 79.7 151.2 78.6 147.6 80.6Z" fill="#2d1a1a" stroke="#2d1a1a"/><path d="M207.3 75.9 211 74.3 207.2 73 203.5 74.5Z" fill="#241314" stroke="#241314"/><path d="M184.9 76.9 188.5 75.1 184.7 73.9 181.1 75.6Z" fill="#261416" stroke="#261416"/><path d="M192.3 76.4 196 74.7 192.2 73.5 188.5 75.1Z" fill="#261415" stroke="#261415"/><path d="M199.8 76.1 203.5 74.5 199.7 73.2 196 74.7Z" fill="#251415" stroke="#251415"/><path d="M122.4 88.8 125.9 86.6 122.1 85.4 118.6 87.6Z" fill="#35231e" stroke="#35231e"/><path d="M233.1 77.7 236.8 76.4 233.1 74.8 229.5 76.1Z" fill="#251615" stroke="#251615"/><path d="M158.8 80.9 162.5 78.9 158.6 77.7 155 79.7Z" fill="#2e1a1a" stroke="#2e1a1a"/><path d="M111.8 91.9 115.2 89.7 111.4 88.5 108.1 90.6Z" fill="#372720" stroke="#372720"/><path d="M91.2 98 94.4 95.8 90.6 94.5 87.4 96.6Z" fill="#393021" stroke="#393021"/><path d="M101.4 95 104.7 92.8 100.9 91.5 97.6 93.7Z" fill="#382c21" stroke="#382c21"/><path d="M140.5 84.7 144 82.6 140.2 81.5 136.7 83.5Z" fill="#331e1d" stroke="#331e1d"/><path d="M244 80 247.6 78.8 244 77 240.4 78.2Z" fill="#291a17" stroke="#291a17"/><path d="M225.8 77.5 229.5 76.1 225.8 74.5 222.1 75.8Z" fill="#281717" stroke="#281717"/><path d="M166.3 80.1 169.9 78.1 166.1 77 162.5 78.9Z" fill="#2f1a1b" stroke="#2f1a1b"/><path d="M129.7 87.8 133.2 85.7 129.4 84.5 125.9 86.6Z" fill="#37231f" stroke="#37231f"/><path d="M147.9 83.8 151.4 81.7 147.6 80.6 144 82.6Z" fill="#341e1e" stroke="#341e1e"/><path d="M218.4 77.3 222.1 75.8 218.4 74.3 214.7 75.8Z" fill="#2a1718" stroke="#2a1718"/><path d="M173.7 79.4 177.4 77.5 173.6 76.3 169.9 78.1Z" fill="#2f1a1b" stroke="#2f1a1b"/><path d="M119 91 122.4 88.8 118.6 87.6 115.2 89.7Z" fill="#3a2721" stroke="#3a2721"/><path d="M88 100.2 91.2 98 87.4 96.6 84.3 98.7Z" fill="#3c3323" stroke="#3c3323"/><path d="M108.5 94.2 111.8 91.9 108.1 90.6 104.7 92.8Z" fill="#3c2b22" stroke="#3c2b22"/><path d="M181.2 78.8 184.9 76.9 181.1 75.6 177.4 77.5Z" fill="#2f191b" stroke="#2f191b"/><path d="M211 77.4 214.7 75.8 211 74.3 207.3 75.9Z" fill="#2c1819" stroke="#2c1819"/><path d="M98.2 97.2 101.4 95 97.6 93.7 94.4 95.8Z" fill="#3d3023" stroke="#3d3023"/><path d="M236.8 79.5 240.4 78.2 236.8 76.4 233.1 77.7Z" fill="#2d1b19" stroke="#2d1b19"/><path d="M188.7 78.3 192.3 76.4 188.5 75.1 184.9 76.9Z" fill="#2e191a" stroke="#2e191a"/><path d="M203.6 77.5 207.3 75.9 203.5 74.5 199.8 76.1Z" fill="#2d181a" stroke="#2d181a"/><path d="M196.1 77.8 199.8 76.1 196 74.7 192.3 76.4Z" fill="#2e191a" stroke="#2e191a"/><path d="M137 86.9 140.5 84.7 136.7 83.5 133.2 85.7Z" fill="#392320" stroke="#392320"/><path d="M155.2 83 158.8 80.9 155 79.7 151.4 81.7Z" fill="#351e1e" stroke="#351e1e"/><path d="M247.5 82 251.2 80.7 247.6 78.8 244 80Z" fill="#301f1b" stroke="#301f1b"/><path d="M126.2 90.1 129.7 87.8 125.9 86.6 122.4 88.8Z" fill="#3d2723" stroke="#3d2723"/><path d="M229.5 79.2 233.1 77.7 229.5 76.1 225.8 77.5Z" fill="#301c1b" stroke="#301c1b"/><path d="M162.7 82.2 166.3 80.1 162.5 78.9 158.8 80.9Z" fill="#361e1f" stroke="#361e1f"/><path d="M84.9 102.4 88 100.2 84.3 98.7 81.2 100.8Z" fill="#3f3725" stroke="#3f3725"/><path d="M115.6 93.3 119 91 115.2 89.7 111.8 91.9Z" fill="#3f2b24" stroke="#3f2b24"/><path d="M144.3 86 147.9 83.8 144 82.6 140.5 84.7Z" fill="#3b2321" stroke="#3b2321"/><path d="M95 99.5 98.2 97.2 94.4 95.8 91.2 98Z" fill="#403325" stroke="#403325"/><path d="M105.2 96.4 108.5 94.2 104.7 92.8 101.4 95Z" fill="#402f25" stroke="#402f25"/><path d="M222.1 79 225.8 77.5 222.1 75.8 218.4 77.3Z" fill="#321c1c" stroke="#321c1c"/><path d="M170.1 81.5 173.7 79.4 169.9 78.1 166.3 80.1Z" fill="#361e1f" stroke="#361e1f"/><path d="M240.4 81.4 244 80 240.4 78.2 236.8 79.5Z" fill="#34201d" stroke="#34201d"/><path d="M133.5 89.2 137 86.9 133.2 85.7 129.7 87.8Z" fill="#3f2724" stroke="#3f2724"/><path d="M177.6 80.8 181.2 78.8 177.4 77.5 173.7 79.4Z" fill="#361e1f" stroke="#361e1f"/><path d="M214.8 79 218.4 77.3 214.7 75.8 211 77.4Z" fill="#341d1d" stroke="#341d1d"/><path d="M251 84 254.6 82.7 251.2 80.7 247.5 82Z" fill="#36251f" stroke="#36251f"/><path d="M151.7 85.2 155.2 83 151.4 81.7 147.9 83.8Z" fill="#3c2322" stroke="#3c2322"/><path d="M81.9 104.6 84.9 102.4 81.2 100.8 78.1 103Z" fill="#423a27" stroke="#423a27"/><path d="M185 80.2 188.7 78.3 184.9 76.9 181.2 78.8Z" fill="#361e1f" stroke="#361e1f"/><path d="M207.4 79.1 211 77.4 207.3 75.9 203.6 77.5Z" fill="#351d1e" stroke="#351d1e"/><path d="M122.8 92.4 126.2 90.1 122.4 88.8 119 91Z" fill="#422b26" stroke="#422b26"/><path d="M192.5 79.7 196.1 77.8 192.3 76.4 188.7 78.3Z" fill="#361d1f" stroke="#361d1f"/><path d="M199.9 79.4 203.6 77.5 199.8 76.1 196.1 77.8Z" fill="#351d1e" stroke="#351d1e"/><path d="M91.8 101.8 95 99.5 91.2 98 88 100.2Z" fill="#433727" stroke="#433727"/><path d="M112.3 95.6 115.6 93.3 111.8 91.9 108.5 94.2Z" fill="#442e27" stroke="#442e27"/><path d="M101.9 98.8 105.2 96.4 101.4 95 98.2 97.2Z" fill="#443327" stroke="#443327"/><path d="M233.1 81.1 236.8 79.5 233.1 77.7 229.5 79.2Z" fill="#37211f" stroke="#37211f"/><path d="M159.1 84.4 162.7 82.2 158.8 80.9 155.2 83Z" fill="#3c2222" stroke="#3c2222"/><path d="M140.8 88.3 144.3 86 140.5 84.7 137 86.9Z" fill="#412725" stroke="#412725"/><path d="M243.9 83.4 247.5 82 244 80 240.4 81.4Z" fill="#3a2521" stroke="#3a2521"/><path d="M78.9 106.8 81.9 104.6 78.1 103 75.2 105.1Z" fill="#443d28" stroke="#443d28"/><path d="M225.8 80.8 229.5 79.2 225.8 77.5 222.1 79Z" fill="#392121" stroke="#392121"/><path d="M130 91.5 133.5 89.2 129.7 87.8 126.2 90.1Z" fill="#442b27" stroke="#442b27"/><path d="M254.5 86.2 258.1 84.8 254.6 82.7 251 84Z" fill="#3c2a22" stroke="#3c2a22"/><path d="M166.5 83.6 170.1 81.5 166.3 80.1 162.7 82.2Z" fill="#3d2223" stroke="#3d2223"/><path d="M88.7 104 91.8 101.8 88 100.2 84.9 102.4Z" fill="#463a29" stroke="#463a29"/><path d="M119.4 94.8 122.8 92.4 119 91 115.6 93.3Z" fill="#462e28" stroke="#462e28"/><path d="M148.1 87.5 151.7 85.2 147.9 83.8 144.3 86Z" fill="#422626" stroke="#422626"/><path d="M98.7 101.1 101.9 98.8 98.2 97.2 95 99.5Z" fill="#473629" stroke="#473629"/><path d="M109 98 112.3 95.6 108.5 94.2 105.2 96.4Z" fill="#483229" stroke="#483229"/><path d="M173.9 82.9 177.6 80.8 173.7 79.4 170.1 81.5Z" fill="#3d2223" stroke="#3d2223"/><path d="M218.5 80.8 222.1 79 218.4 77.3 214.8 79Z" fill="#3b2121" stroke="#3b2121"/><path d="M236.7 83 240.4 81.4 236.8 79.5 233.1 81.1Z" fill="#3e2523" stroke="#3e2523"/><path d="M181.4 82.3 185 80.2 181.2 78.8 177.6 80.8Z" fill="#3d2223" stroke="#3d2223"/><path d="M211.1 80.8 214.8 79 211 77.4 207.4 79.1Z" fill="#3c2122" stroke="#3c2122"/><path d="M76 109 78.9 106.8 75.2 105.1 72.3 107.2Z" fill="#47402a" stroke="#47402a"/><path d="M137.3 90.7 140.8 88.3 137 86.9 133.5 89.2Z" fill="#462a28" stroke="#462a28"/><path d="M188.8 81.8 192.5 79.7 188.7 78.3 185 80.2Z" fill="#3d2223" stroke="#3d2223"/><path d="M155.5 86.6 159.1 84.4 155.2 83 151.7 85.2Z" fill="#422626" stroke="#422626"/><path d="M203.7 81 207.4 79.1 203.6 77.5 199.9 79.4Z" fill="#3c2123" stroke="#3c2123"/><path d="M196.2 81.4 199.9 79.4 196.1 77.8 192.5 79.7Z" fill="#3d2123" stroke="#3d2123"/><path d="M257.9 88.4 261.5 86.9 258.1 84.8 254.5 86.2Z" fill="#412f25" stroke="#412f25"/><path d="M247.4 85.5 251 84 247.5 82 243.9 83.4Z" fill="#402a25" stroke="#402a25"/><path d="M85.7 106.3 88.7 104 84.9 102.4 81.9 104.6Z" fill="#493e2a" stroke="#493e2a"/><path d="M126.6 93.9 130 91.5 126.2 90.1 122.8 92.4Z" fill="#492e2a" stroke="#492e2a"/><path d="M95.6 103.4 98.7 101.1 95 99.5 91.8 101.8Z" fill="#4a3a2b" stroke="#4a3a2b"/><path d="M116.1 97.2 119.4 94.8 115.6 93.3 112.3 95.6Z" fill="#4b322b" stroke="#4b322b"/><path d="M229.4 82.8 233.1 81.1 229.5 79.2 225.8 80.8Z" fill="#402625" stroke="#402625"/><path d="M105.7 100.4 109 98 105.2 96.4 101.9 98.8Z" fill="#4b362b" stroke="#4b362b"/><path d="M162.9 85.9 166.5 83.6 162.7 82.2 159.1 84.4Z" fill="#432626" stroke="#432626"/><path d="M144.6 89.8 148.1 87.5 144.3 86 140.8 88.3Z" fill="#472a29" stroke="#472a29"/><path d="M73.2 111.2 76 109 72.3 107.2 69.4 109.3Z" fill="#48432b" stroke="#48432b"/><path d="M222.1 82.6 225.8 80.8 222.1 79 218.5 80.8Z" fill="#412625" stroke="#412625"/><path d="M170.3 85.1 173.9 82.9 170.1 81.5 166.5 83.6Z" fill="#432627" stroke="#432627"/><path d="M240.3 85.1 243.9 83.4 240.4 81.4 236.7 83Z" fill="#442a27" stroke="#442a27"/><path d="M82.7 108.6 85.7 106.3 81.9 104.6 78.9 106.8Z" fill="#4b412b" stroke="#4b412b"/><path d="M261.2 90.7 264.8 89.2 261.5 86.9 257.9 88.4Z" fill="#453428" stroke="#453428"/><path d="M133.8 93.1 137.3 90.7 133.5 89.2 130 91.5Z" fill="#4b2e2b" stroke="#4b2e2b"/><path d="M250.8 87.7 254.5 86.2 251 84 247.4 85.5Z" fill="#462f28" stroke="#462f28"/><path d="M92.5 105.8 95.6 103.4 91.8 101.8 88.7 104Z" fill="#4d3d2c" stroke="#4d3d2c"/><path d="M151.9 89 155.5 86.6 151.7 85.2 148.1 87.5Z" fill="#482a29" stroke="#482a29"/><path d="M177.7 84.5 181.4 82.3 177.6 80.8 173.9 82.9Z" fill="#432627" stroke="#432627"/><path d="M123.2 96.4 126.6 93.9 122.8 92.4 119.4 94.8Z" fill="#4d322c" stroke="#4d322c"/><path d="M214.8 82.7 218.5 80.8 214.8 79 211.1 80.8Z" fill="#422526" stroke="#422526"/><path d="M102.5 102.8 105.7 100.4 101.9 98.8 98.7 101.1Z" fill="#4f392d" stroke="#4f392d"/><path d="M112.8 99.6 116.1 97.2 112.3 95.6 109 98Z" fill="#4f352d" stroke="#4f352d"/><path d="M70.4 113.3 73.2 111.2 69.4 109.3 66.7 111.4Z" fill="#4a462c" stroke="#4a462c"/><path d="M185.1 83.9 188.8 81.8 185 80.2 181.4 82.3Z" fill="#432527" stroke="#432527"/><path d="M207.4 82.8 211.1 80.8 207.4 79.1 203.7 81Z" fill="#432526" stroke="#432526"/><path d="M192.6 83.5 196.2 81.4 192.5 79.7 188.8 81.8Z" fill="#432527" stroke="#432527"/><path d="M200 83.1 203.7 81 199.9 79.4 196.2 81.4Z" fill="#432527" stroke="#432527"/><path d="M233 84.8 236.7 83 233.1 81.1 229.4 82.8Z" fill="#472a28" stroke="#472a28"/><path d="M79.8 110.9 82.7 108.6 78.9 106.8 76 109Z" fill="#4d442d" stroke="#4d442d"/><path d="M141.1 92.2 144.6 89.8 140.8 88.3 137.3 90.7Z" fill="#4d2e2c" stroke="#4d2e2c"/><path d="M159.3 88.2 162.9 85.9 159.1 84.4 155.5 86.6Z" fill="#482a2a" stroke="#482a2a"/><path d="M264.4 93.1 268 91.6 264.8 89.2 261.2 90.7Z" fill="#48392a" stroke="#48392a"/><path d="M89.5 108.1 92.5 105.8 88.7 104 85.7 106.3Z" fill="#4f402e" stroke="#4f402e"/><path d="M243.8 87.3 247.4 85.5 243.9 83.4 240.3 85.1Z" fill="#492e2a" stroke="#492e2a"/><path d="M67.8 115.4 70.4 113.3 66.7 111.4 64 113.4Z" fill="#4b492d" stroke="#4b492d"/><path d="M130.4 95.5 133.8 93.1 130 91.5 126.6 93.9Z" fill="#50322d" stroke="#50322d"/><path d="M254.2 90 257.9 88.4 254.5 86.2 250.8 87.7Z" fill="#4b332b" stroke="#4b332b"/><path d="M99.4 105.2 102.5 102.8 98.7 101.1 95.6 103.4Z" fill="#513c2f" stroke="#513c2f"/><path d="M225.8 84.6 229.4 82.8 225.8 80.8 222.1 82.6Z" fill="#482a29" stroke="#482a29"/><path d="M166.7 87.5 170.3 85.1 166.5 83.6 162.9 85.9Z" fill="#49292a" stroke="#49292a"/><path d="M119.9 98.8 123.2 96.4 119.4 94.8 116.1 97.2Z" fill="#51352e" stroke="#51352e"/><path d="M109.5 102.1 112.8 99.6 109 98 105.7 100.4Z" fill="#52382f" stroke="#52382f"/><path d="M148.4 91.4 151.9 89 148.1 87.5 144.6 89.8Z" fill="#4d2d2c" stroke="#4d2d2c"/><path d="M77 113.1 79.8 110.9 76 109 73.2 111.2Z" fill="#4e462e" stroke="#4e462e"/><path d="M267.6 95.6 271.2 94 268 91.6 264.4 93.1Z" fill="#4b3e2b" stroke="#4b3e2b"/><path d="M174.1 86.8 177.7 84.5 173.9 82.9 170.3 85.1Z" fill="#49292a" stroke="#49292a"/><path d="M218.5 84.6 222.1 82.6 218.5 80.8 214.8 82.7Z" fill="#48292a" stroke="#48292a"/><path d="M65.2 117.4 67.8 115.4 64 113.4 61.4 115.4Z" fill="#4c4b2e" stroke="#4c4b2e"/><path d="M86.5 110.5 89.5 108.1 85.7 106.3 82.7 108.6Z" fill="#51432f" stroke="#51432f"/><path d="M236.6 86.9 240.3 85.1 236.7 83 233 84.8Z" fill="#4d2e2b" stroke="#4d2e2b"/><path d="M137.6 94.7 141.1 92.2 137.3 90.7 133.8 93.1Z" fill="#51312e" stroke="#51312e"/><path d="M181.5 86.2 185.1 83.9 181.4 82.3 177.7 84.5Z" fill="#49292a" stroke="#49292a"/><path d="M211.1 84.7 214.8 82.7 211.1 80.8 207.4 82.8Z" fill="#49292a" stroke="#49292a"/><path d="M257.6 92.4 261.2 90.7 257.9 88.4 254.2 90Z" fill="#4f382d" stroke="#4f382d"/><path d="M155.8 90.6 159.3 88.2 155.5 86.6 151.9 89Z" fill="#4e2d2d" stroke="#4e2d2d"/><path d="M96.3 107.6 99.4 105.2 95.6 103.4 92.5 105.8Z" fill="#543f30" stroke="#543f30"/><path d="M188.9 85.7 192.6 83.5 188.8 81.8 185.1 83.9Z" fill="#49292a" stroke="#49292a"/><path d="M247.2 89.5 250.8 87.7 247.4 85.5 243.8 87.3Z" fill="#4f332d" stroke="#4f332d"/><path d="M203.7 84.9 207.4 82.8 203.7 81 200 83.1Z" fill="#49292a" stroke="#49292a"/><path d="M127 98 130.4 95.5 126.6 93.9 123.2 96.4Z" fill="#543530" stroke="#543530"/><path d="M196.3 85.2 200 83.1 196.2 81.4 192.6 83.5Z" fill="#49292a" stroke="#49292a"/><path d="M74.2 115.3 77 113.1 73.2 111.2 70.4 113.3Z" fill="#50492f" stroke="#50492f"/><path d="M270.7 98.1 274.3 96.4 271.2 94 267.6 95.6Z" fill="#4d432d" stroke="#4d432d"/><path d="M106.3 104.5 109.5 102.1 105.7 100.4 102.5 102.8Z" fill="#553c31" stroke="#553c31"/><path d="M116.6 101.3 119.9 98.8 116.1 97.2 112.8 99.6Z" fill="#553830" stroke="#553830"/><path d="M62.7 119.4 65.2 117.4 61.4 115.4 58.9 117.3Z" fill="#4d4e2e" stroke="#4d4e2e"/><path d="M229.4 86.7 233 84.8 229.4 82.8 225.8 84.6Z" fill="#4d2e2c" stroke="#4d2e2c"/><path d="M163.1 89.9 166.7 87.5 162.9 85.9 159.3 88.2Z" fill="#4e2d2d" stroke="#4e2d2d"/><path d="M144.9 93.9 148.4 91.4 144.6 89.8 141.1 92.2Z" fill="#52312f" stroke="#52312f"/><path d="M83.6 112.8 86.5 110.5 82.7 108.6 79.8 110.9Z" fill="#534630" stroke="#534630"/><path d="M273.8 100.7 277.4 99 274.3 96.4 270.7 98.1Z" fill="#4f472e" stroke="#4f472e"/><path d="M260.8 94.9 264.4 93.1 261.2 90.7 257.6 92.4Z" fill="#523c2f" stroke="#523c2f"/><path d="M93.3 110 96.3 107.6 92.5 105.8 89.5 108.1Z" fill="#564331" stroke="#564331"/><path d="M71.5 117.5 74.2 115.3 70.4 113.3 67.8 115.4Z" fill="#514c30" stroke="#514c30"/><path d="M134.2 97.3 137.6 94.7 133.8 93.1 130.4 95.5Z" fill="#563431" stroke="#563431"/><path d="M240.1 89.1 243.8 87.3 240.3 85.1 236.6 86.9Z" fill="#52322f" stroke="#52322f"/><path d="M170.5 89.2 174.1 86.8 170.3 85.1 166.7 87.5Z" fill="#4e2d2d" stroke="#4e2d2d"/><path d="M222.1 86.6 225.8 84.6 222.1 82.6 218.5 84.6Z" fill="#4e2d2d" stroke="#4e2d2d"/><path d="M60.4 121.3 62.7 119.4 58.9 117.3 56.6 119.2Z" fill="#4e502f" stroke="#4e502f"/><path d="M250.6 91.9 254.2 90 250.8 87.7 247.2 89.5Z" fill="#53372f" stroke="#53372f"/><path d="M103.2 107 106.3 104.5 102.5 102.8 99.4 105.2Z" fill="#583f32" stroke="#583f32"/><path d="M123.7 100.6 127 98 123.2 96.4 119.9 98.8Z" fill="#583832" stroke="#583832"/><path d="M113.3 103.9 116.6 101.3 112.8 99.6 109.5 102.1Z" fill="#583b32" stroke="#583b32"/><path d="M152.2 93.1 155.8 90.6 151.9 89 148.4 91.4Z" fill="#52302f" stroke="#52302f"/><path d="M177.9 88.6 181.5 86.2 177.7 84.5 174.1 86.8Z" fill="#4f2d2d" stroke="#4f2d2d"/><path d="M80.8 115.1 83.6 112.8 79.8 110.9 77 113.1Z" fill="#544931" stroke="#544931"/><path d="M276.7 103.3 280.3 101.5 277.4 99 273.8 100.7Z" fill="#504c2f" stroke="#504c2f"/><path d="M214.8 86.7 218.5 84.6 214.8 82.7 211.1 84.7Z" fill="#4e2d2d" stroke="#4e2d2d"/><path d="M58.2 123.2 60.4 121.3 56.6 119.2 54.4 120.9Z" fill="#4e522f" stroke="#4e522f"/><path d="M185.3 88 188.9 85.7 185.1 83.9 181.5 86.2Z" fill="#4f2d2d" stroke="#4f2d2d"/><path d="M69 119.6 71.5 117.5 67.8 115.4 65.2 117.4Z" fill="#524e30" stroke="#524e30"/><path d="M264 97.4 267.6 95.6 264.4 93.1 260.8 94.9Z" fill="#544130" stroke="#544130"/><path d="M207.4 86.9 211.1 84.7 207.4 82.8 203.7 84.9Z" fill="#4f2d2d" stroke="#4f2d2d"/><path d="M232.9 88.9 236.6 86.9 233 84.8 229.4 86.7Z" fill="#53322f" stroke="#53322f"/><path d="M90.3 112.5 93.3 110 89.5 108.1 86.5 110.5Z" fill="#574632" stroke="#574632"/><path d="M192.7 87.5 196.3 85.2 192.6 83.5 188.9 85.7Z" fill="#4f2d2d" stroke="#4f2d2d"/><path d="M200.1 87.1 203.7 84.9 200 83.1 196.3 85.2Z" fill="#4f2d2d" stroke="#4f2d2d"/><path d="M141.5 96.5 144.9 93.9 141.1 92.2 137.6 94.7Z" fill="#563431" stroke="#563431"/><path d="M159.6 92.4 163.1 89.9 159.3 88.2 155.8 90.6Z" fill="#533030" stroke="#533030"/><path d="M279.6 105.9 283.2 104.1 280.3 101.5 276.7 103.3Z" fill="#505030" stroke="#505030"/><path d="M100.1 109.5 103.2 107 99.4 105.2 96.3 107.6Z" fill="#5a4233" stroke="#5a4233"/><path d="M253.9 94.3 257.6 92.4 254.2 90 250.6 91.9Z" fill="#573b32" stroke="#573b32"/><path d="M130.8 99.8 134.2 97.3 130.4 95.5 127 98Z" fill="#5a3833" stroke="#5a3833"/><path d="M243.5 91.5 247.2 89.5 243.8 87.3 240.1 89.1Z" fill="#573731" stroke="#573731"/><path d="M78 117.4 80.8 115.1 77 113.1 74.2 115.3Z" fill="#554c32" stroke="#554c32"/><path d="M110.1 106.4 113.3 103.9 109.5 102.1 106.3 104.5Z" fill="#5b3e34" stroke="#5b3e34"/><path d="M56.1 124.9 58.2 123.2 54.4 120.9 52.3 122.6Z" fill="#4f5430" stroke="#4f5430"/><path d="M120.4 103.2 123.7 100.6 119.9 98.8 116.6 101.3Z" fill="#5b3b34" stroke="#5b3b34"/><path d="M66.5 121.6 69 119.6 65.2 117.4 62.7 119.4Z" fill="#525031" stroke="#525031"/><path d="M282.3 108.6 285.9 106.7 283.2 104.1 279.6 105.9Z" fill="#505530" stroke="#505530"/><path d="M267.1 100 270.7 98.1 267.6 95.6 264 97.4Z" fill="#564632" stroke="#564632"/><path d="M225.7 88.8 229.4 86.7 225.8 84.6 222.1 86.6Z" fill="#533130" stroke="#533130"/><path d="M166.9 91.7 170.5 89.2 166.7 87.5 163.1 89.9Z" fill="#533030" stroke="#533030"/><path d="M148.7 95.7 152.2 93.1 148.4 91.4 144.9 93.9Z" fill="#573432" stroke="#573432"/><path d="M87.4 114.8 90.3 112.5 86.5 110.5 83.6 112.8Z" fill="#594933" stroke="#594933"/><path d="M285 111.2 288.5 109.3 285.9 106.7 282.3 108.6Z" fill="#4d5830" stroke="#4d5830"/><path d="M54.2 126.4 56.1 124.9 52.3 122.6 50.4 124.1Z" fill="#4f5630" stroke="#4f5630"/><path d="M174.3 91 177.9 88.6 174.1 86.8 170.5 89.2Z" fill="#543030" stroke="#543030"/><path d="M218.4 88.8 222.1 86.6 218.5 84.6 214.8 86.7Z" fill="#543130" stroke="#543130"/><path d="M75.3 119.6 78 117.4 74.2 115.3 71.5 117.5Z" fill="#564e32" stroke="#564e32"/><path d="M97 112 100.1 109.5 96.3 107.6 93.3 110Z" fill="#5c4534" stroke="#5c4534"/><path d="M138 99.1 141.5 96.5 137.6 94.7 134.2 97.3Z" fill="#5a3734" stroke="#5a3734"/><path d="M64.2 123.6 66.5 121.6 62.7 119.4 60.4 121.3Z" fill="#535331" stroke="#535331"/><path d="M287.5 113.8 291.1 111.9 288.5 109.3 285 111.2Z" fill="#495b2f" stroke="#495b2f"/><path d="M257.2 96.8 260.8 94.9 257.6 92.4 253.9 94.3Z" fill="#5a3f33" stroke="#5a3f33"/><path d="M236.4 91.2 240.1 89.1 236.6 86.9 232.9 88.9Z" fill="#583632" stroke="#583632"/><path d="M270.2 102.6 273.8 100.7 270.7 98.1 267.1 100Z" fill="#574b32" stroke="#574b32"/><path d="M107 109 110.1 106.4 106.3 104.5 103.2 107Z" fill="#5d4135" stroke="#5d4135"/><path d="M181.7 90.4 185.3 88 181.5 86.2 177.9 88.6Z" fill="#543030" stroke="#543030"/><path d="M246.9 93.9 250.6 91.9 247.2 89.5 243.5 91.5Z" fill="#5b3b34" stroke="#5b3b34"/><path d="M127.5 102.5 130.8 99.8 127 98 123.7 100.6Z" fill="#5d3b35" stroke="#5d3b35"/><path d="M289.9 116.3 293.4 114.4 291.1 111.9 287.5 113.8Z" fill="#455d2e" stroke="#455d2e"/><path d="M52.6 127.7 54.2 126.4 50.4 124.1 48.8 125.4Z" fill="#4e5730" stroke="#4e5730"/><path d="M211.1 88.9 214.8 86.7 211.1 84.7 207.4 86.9Z" fill="#543030" stroke="#543030"/><path d="M156 95 159.6 92.4 155.8 90.6 152.2 93.1Z" fill="#573333" stroke="#573333"/><path d="M117.1 105.8 120.4 103.2 116.6 101.3 113.3 103.9Z" fill="#5e3e35" stroke="#5e3e35"/><path d="M292.1 118.8 295.7 116.8 293.4 114.4 289.9 116.3Z" fill="#415f2d" stroke="#415f2d"/><path d="M189 89.9 192.7 87.5 188.9 85.7 185.3 88Z" fill="#543030" stroke="#543030"/><path d="M84.6 117.2 87.4 114.8 83.6 112.8 80.8 115.1Z" fill="#5a4c34" stroke="#5a4c34"/><path d="M203.8 89.2 207.4 86.9 203.7 84.9 200.1 87.1Z" fill="#543030" stroke="#543030"/><path d="M196.4 89.5 200.1 87.1 196.3 85.2 192.7 87.5Z" fill="#543030" stroke="#543030"/><path d="M294.2 121.2 297.7 119.1 295.7 116.8 292.1 118.8Z" fill="#3e612c" stroke="#3e612c"/><path d="M296.1 123.3 299.6 121.2 297.7 119.1 294.2 121.2Z" fill="#3b632c" stroke="#3b632c"/><path d="M51.6 128.7 52.6 127.7 48.8 125.4 47.8 126.3Z" fill="#4e5830" stroke="#4e5830"/><path d="M297.7 125.2 301.2 123.1 299.6 121.2 296.1 123.3Z" fill="#39642c" stroke="#39642c"/><path d="M298.7 126.5 302.3 124.4 301.2 123.1 297.7 125.2Z" fill="#36652c" stroke="#36652c"/><path d="M61.9 125.5 64.2 123.6 60.4 121.3 58.2 123.2Z" fill="#535532" stroke="#535532"/><path d="M273.1 105.2 276.7 103.3 273.8 100.7 270.2 102.6Z" fill="#584f33" stroke="#584f33"/><path d="M72.8 121.8 75.3 119.6 71.5 117.5 69 119.6Z" fill="#575133" stroke="#575133"/><path d="M229.2 91 232.9 88.9 229.4 86.7 225.7 88.8Z" fill="#583533" stroke="#583533"/><path d="M145.3 98.3 148.7 95.7 144.9 93.9 141.5 96.5Z" fill="#5b3734" stroke="#5b3734"/><path d="M94.1 114.5 97 112 93.3 110 90.3 112.5Z" fill="#5d4835" stroke="#5d4835"/><path d="M163.4 94.3 166.9 91.7 163.1 89.9 159.6 92.4Z" fill="#583333" stroke="#583333"/><path d="M260.4 99.4 264 97.4 260.8 94.9 257.2 96.8Z" fill="#5d4435" stroke="#5d4435"/><path d="M103.9 111.6 107 109 103.2 107 100.1 109.5Z" fill="#5f4436" stroke="#5f4436"/><path d="M134.6 101.7 138 99.1 134.2 97.3 130.8 99.8Z" fill="#5e3a36" stroke="#5e3a36"/><path d="M276 107.9 279.6 105.9 276.7 103.3 273.1 105.2Z" fill="#585334" stroke="#585334"/><path d="M239.9 93.6 243.5 91.5 240.1 89.1 236.4 91.2Z" fill="#5d3a35" stroke="#5d3a35"/><path d="M59.9 127.2 61.9 125.5 58.2 123.2 56.1 124.9Z" fill="#535732" stroke="#535732"/><path d="M81.8 119.6 84.6 117.2 80.8 115.1 78 117.4Z" fill="#5a4e34" stroke="#5a4e34"/><path d="M250.3 96.3 253.9 94.3 250.6 91.9 246.9 93.9Z" fill="#5e3f36" stroke="#5e3f36"/><path d="M113.9 108.4 117.1 105.8 113.3 103.9 110.1 106.4Z" fill="#604137" stroke="#604137"/><path d="M124.2 105.1 127.5 102.5 123.7 100.6 120.4 103.2Z" fill="#603e37" stroke="#603e37"/><path d="M222 91 225.7 88.8 222.1 86.6 218.4 88.8Z" fill="#593433" stroke="#593433"/><path d="M170.7 93.6 174.3 91 170.5 89.2 166.9 91.7Z" fill="#583333" stroke="#583333"/><path d="M70.3 123.9 72.8 121.8 69 119.6 66.5 121.6Z" fill="#575333" stroke="#575333"/><path d="M152.5 97.6 156 95 152.2 93.1 148.7 95.7Z" fill="#5b3635" stroke="#5b3635"/><path d="M278.7 110.6 282.3 108.6 279.6 105.9 276 107.9Z" fill="#575834" stroke="#575834"/><path d="M263.5 102 267.1 100 264 97.4 260.4 99.4Z" fill="#5e4836" stroke="#5e4836"/><path d="M91.2 117 94.1 114.5 90.3 112.5 87.4 114.8Z" fill="#5e4b36" stroke="#5e4b36"/><path d="M178 93 181.7 90.4 177.9 88.6 174.3 91Z" fill="#583333" stroke="#583333"/><path d="M58 128.8 59.9 127.2 56.1 124.9 54.2 126.4Z" fill="#535832" stroke="#535832"/><path d="M214.7 91.1 218.4 88.8 214.8 86.7 211.1 88.9Z" fill="#593433" stroke="#593433"/><path d="M281.4 113.3 285 111.2 282.3 108.6 278.7 110.6Z" fill="#565c34" stroke="#565c34"/><path d="M79.1 121.9 81.8 119.6 78 117.4 75.3 119.6Z" fill="#5b5135" stroke="#5b5135"/><path d="M68 125.9 70.3 123.9 66.5 121.6 64.2 123.6Z" fill="#575534" stroke="#575534"/><path d="M185.4 92.4 189 89.9 185.3 88 181.7 90.4Z" fill="#593333" stroke="#593333"/><path d="M141.8 101 145.3 98.3 141.5 96.5 138 99.1Z" fill="#5f3a36" stroke="#5f3a36"/><path d="M100.9 114.1 103.9 111.6 100.1 109.5 97 112Z" fill="#614738" stroke="#614738"/><path d="M232.8 93.4 236.4 91.2 232.9 88.9 229.2 91Z" fill="#5d3935" stroke="#5d3935"/><path d="M207.4 91.3 211.1 88.9 207.4 86.9 203.8 89.2Z" fill="#593333" stroke="#593333"/><path d="M192.8 92 196.4 89.5 192.7 87.5 189 89.9Z" fill="#593333" stroke="#593333"/><path d="M200.1 91.6 203.8 89.2 200.1 87.1 196.4 89.5Z" fill="#593333" stroke="#593333"/><path d="M253.5 98.9 257.2 96.8 253.9 94.3 250.3 96.3Z" fill="#614237" stroke="#614237"/><path d="M56.4 130.2 58 128.8 54.2 126.4 52.6 127.7Z" fill="#535a33" stroke="#535a33"/><path d="M159.8 96.9 163.4 94.3 159.6 92.4 156 95Z" fill="#5c3635" stroke="#5c3635"/><path d="M283.9 115.9 287.5 113.8 285 111.2 281.4 113.3Z" fill="#535f33" stroke="#535f33"/><path d="M110.8 111 113.9 108.4 110.1 106.4 107 109Z" fill="#624438" stroke="#624438"/><path d="M131.3 104.4 134.6 101.7 130.8 99.8 127.5 102.5Z" fill="#623d38" stroke="#623d38"/><path d="M266.5 104.7 270.2 102.6 267.1 100 263.5 102Z" fill="#5f4d37" stroke="#5f4d37"/><path d="M243.3 96 246.9 93.9 243.5 91.5 239.9 93.6Z" fill="#613e37" stroke="#613e37"/><path d="M120.9 107.8 124.2 105.1 120.4 103.2 117.1 105.8Z" fill="#634138" stroke="#634138"/><path d="M286.3 118.5 289.9 116.3 287.5 113.8 283.9 115.9Z" fill="#4f6132" stroke="#4f6132"/><path d="M88.4 119.4 91.2 117 87.4 114.8 84.6 117.2Z" fill="#5f4e37" stroke="#5f4e37"/><path d="M55.4 131.1 56.4 130.2 52.6 127.7 51.6 128.7Z" fill="#535b33" stroke="#535b33"/><path d="M65.8 127.9 68 125.9 64.2 123.6 61.9 125.5Z" fill="#575734" stroke="#575734"/><path d="M288.5 121 292.1 118.8 289.9 116.3 286.3 118.5Z" fill="#4a6430" stroke="#4a6430"/><path d="M76.6 124.1 79.1 121.9 75.3 119.6 72.8 121.8Z" fill="#5b5335" stroke="#5b5335"/><path d="M225.6 93.3 229.2 91 225.7 88.8 222 91Z" fill="#5d3836" stroke="#5d3836"/><path d="M290.6 123.4 294.2 121.2 292.1 118.8 288.5 121Z" fill="#45652f" stroke="#45652f"/><path d="M167.1 96.2 170.7 93.6 166.9 91.7 163.4 94.3Z" fill="#5c3635" stroke="#5c3635"/><path d="M292.5 125.6 296.1 123.3 294.2 121.2 290.6 123.4Z" fill="#42672f" stroke="#42672f"/><path d="M295.2 128.8 298.7 126.5 297.7 125.2 294.1 127.5Z" fill="#3c692e" stroke="#3c692e"/><path d="M294.1 127.5 297.7 125.2 296.1 123.3 292.5 125.6Z" fill="#3f682e" stroke="#3f682e"/><path d="M149.1 100.3 152.5 97.6 148.7 95.7 145.3 98.3Z" fill="#5f3937" stroke="#5f3937"/><path d="M269.5 107.4 273.1 105.2 270.2 102.6 266.5 104.7Z" fill="#5f5237" stroke="#5f5237"/><path d="M97.9 116.7 100.9 114.1 97 112 94.1 114.5Z" fill="#624a38" stroke="#624a38"/><path d="M256.7 101.5 260.4 99.4 257.2 96.8 253.5 98.9Z" fill="#644639" stroke="#644639"/><path d="M107.7 113.7 110.8 111 107 109 103.9 111.6Z" fill="#644739" stroke="#644739"/><path d="M138.5 103.7 141.8 101 138 99.1 134.6 101.7Z" fill="#623d38" stroke="#623d38"/><path d="M63.7 129.7 65.8 127.9 61.9 125.5 59.9 127.2Z" fill="#575934" stroke="#575934"/><path d="M218.3 93.4 222 91 218.4 88.8 214.7 91.1Z" fill="#5e3736" stroke="#5e3736"/><path d="M174.5 95.6 178 93 174.3 91 170.7 93.6Z" fill="#5d3635" stroke="#5d3635"/><path d="M236.2 95.8 239.9 93.6 236.4 91.2 232.8 93.4Z" fill="#623c38" stroke="#623c38"/><path d="M85.6 121.8 88.4 119.4 84.6 117.2 81.8 119.6Z" fill="#5f5137" stroke="#5f5137"/><path d="M246.6 98.6 250.3 96.3 246.9 93.9 243.3 96Z" fill="#654139" stroke="#654139"/><path d="M117.7 110.5 120.9 107.8 117.1 105.8 113.9 108.4Z" fill="#65433a" stroke="#65433a"/><path d="M128 107.2 131.3 104.4 127.5 102.5 124.2 105.1Z" fill="#654039" stroke="#654039"/><path d="M74.1 126.3 76.6 124.1 72.8 121.8 70.3 123.9Z" fill="#5b5636" stroke="#5b5636"/><path d="M272.4 110.1 276 107.9 273.1 105.2 269.5 107.4Z" fill="#5f5637" stroke="#5f5637"/><path d="M156.3 99.6 159.8 96.9 156 95 152.5 97.6Z" fill="#603937" stroke="#603937"/><path d="M181.8 95 185.4 92.4 181.7 90.4 178 93Z" fill="#5d3635" stroke="#5d3635"/><path d="M211.1 93.5 214.7 91.1 211.1 88.9 207.4 91.3Z" fill="#5e3736" stroke="#5e3736"/><path d="M61.8 131.3 63.7 129.7 59.9 127.2 58 128.8Z" fill="#575b34" stroke="#575b34"/><path d="M95 119.2 97.9 116.7 94.1 114.5 91.2 117Z" fill="#634d39" stroke="#634d39"/><path d="M189.1 94.5 192.8 92 189 89.9 185.4 92.4Z" fill="#5d3635" stroke="#5d3635"/><path d="M259.9 104.2 263.5 102 260.4 99.4 256.7 101.5Z" fill="#664a3a" stroke="#664a3a"/><path d="M203.8 93.8 207.4 91.3 203.8 89.2 200.1 91.6Z" fill="#5d3636" stroke="#5d3636"/><path d="M275.1 112.8 278.7 110.6 276 107.9 272.4 110.1Z" fill="#5e5a37" stroke="#5e5a37"/><path d="M196.5 94.1 200.1 91.6 196.4 89.5 192.8 92Z" fill="#5d3636" stroke="#5d3636"/><path d="M229.1 95.7 232.8 93.4 229.2 91 225.6 93.3Z" fill="#623b38" stroke="#623b38"/><path d="M83 124.2 85.6 121.8 81.8 119.6 79.1 121.9Z" fill="#605337" stroke="#605337"/><path d="M71.8 128.3 74.1 126.3 70.3 123.9 68 125.9Z" fill="#5b5836" stroke="#5b5836"/><path d="M145.6 103.1 149.1 100.3 145.3 98.3 141.8 101Z" fill="#633c39" stroke="#633c39"/><path d="M104.7 116.3 107.7 113.7 103.9 111.6 100.9 114.1Z" fill="#66493a" stroke="#66493a"/><path d="M163.6 98.9 167.1 96.2 163.4 94.3 159.8 96.9Z" fill="#603937" stroke="#603937"/><path d="M277.8 115.5 281.4 113.3 278.7 110.6 275.1 112.8Z" fill="#5d5e37" stroke="#5d5e37"/><path d="M60.3 132.7 61.8 131.3 58 128.8 56.4 130.2Z" fill="#575d35" stroke="#575d35"/><path d="M249.9 101.2 253.5 98.9 250.3 96.3 246.6 98.6Z" fill="#67453b" stroke="#67453b"/><path d="M135.1 106.5 138.5 103.7 134.6 101.7 131.3 104.4Z" fill="#663f3a" stroke="#663f3a"/><path d="M114.6 113.2 117.7 110.5 113.9 108.4 110.8 111Z" fill="#67463b" stroke="#67463b"/><path d="M239.6 98.3 243.3 96 239.9 93.6 236.2 95.8Z" fill="#66403a" stroke="#66403a"/><path d="M124.8 109.9 128 107.2 124.2 105.1 120.9 107.8Z" fill="#68433b" stroke="#68433b"/><path d="M280.3 118.2 283.9 115.9 281.4 113.3 277.8 115.5Z" fill="#5b6237" stroke="#5b6237"/><path d="M262.9 106.9 266.5 104.7 263.5 102 259.9 104.2Z" fill="#664f3b" stroke="#664f3b"/><path d="M59.2 133.7 60.3 132.7 56.4 130.2 55.4 131.1Z" fill="#575e35" stroke="#575e35"/><path d="M92.2 121.7 95 119.2 91.2 117 88.4 119.4Z" fill="#645039" stroke="#645039"/><path d="M221.9 95.7 225.6 93.3 222 91 218.3 93.4Z" fill="#623a39" stroke="#623a39"/><path d="M69.6 130.3 71.8 128.3 68 125.9 65.8 127.9Z" fill="#5b5a36" stroke="#5b5a36"/><path d="M282.7 120.9 286.3 118.5 283.9 115.9 280.3 118.2Z" fill="#576536" stroke="#576536"/><path d="M170.9 98.3 174.5 95.6 170.7 93.6 167.1 96.2Z" fill="#613838" stroke="#613838"/><path d="M80.4 126.5 83 124.2 79.1 121.9 76.6 124.1Z" fill="#605637" stroke="#605637"/><path d="M285 123.4 288.5 121 286.3 118.5 282.7 120.9Z" fill="#526734" stroke="#526734"/><path d="M152.9 102.4 156.3 99.6 152.5 97.6 149.1 100.3Z" fill="#633b3a" stroke="#633b3a"/><path d="M287 125.8 290.6 123.4 288.5 121 285 123.4Z" fill="#4c6932" stroke="#4c6932"/><path d="M291.6 131.3 295.2 128.8 294.1 127.5 290.5 130Z" fill="#426c30" stroke="#426c30"/><path d="M288.9 128 292.5 125.6 290.6 123.4 287 125.8Z" fill="#486b31" stroke="#486b31"/><path d="M290.5 130 294.1 127.5 292.5 125.6 288.9 128Z" fill="#446c31" stroke="#446c31"/><path d="M101.7 118.9 104.7 116.3 100.9 114.1 97.9 116.7Z" fill="#674c3b" stroke="#674c3b"/><path d="M265.9 109.7 269.5 107.4 266.5 104.7 262.9 106.9Z" fill="#66533b" stroke="#66533b"/><path d="M214.7 95.8 218.3 93.4 214.7 91.1 211.1 93.5Z" fill="#623a38" stroke="#623a38"/><path d="M178.2 97.7 181.8 95 178 93 174.5 95.6Z" fill="#613838" stroke="#613838"/><path d="M253.1 103.8 256.7 101.5 253.5 98.9 249.9 101.2Z" fill="#69493c" stroke="#69493c"/><path d="M67.5 132.2 69.6 130.3 65.8 127.9 63.7 129.7Z" fill="#5b5c36" stroke="#5b5c36"/><path d="M142.3 105.9 145.6 103.1 141.8 101 138.5 103.7Z" fill="#663f3b" stroke="#663f3b"/><path d="M232.5 98.2 236.2 95.8 232.8 93.4 229.1 95.7Z" fill="#663f3b" stroke="#663f3b"/><path d="M111.5 115.9 114.6 113.2 110.8 111 107.7 113.7Z" fill="#69493c" stroke="#69493c"/><path d="M89.4 124.2 92.2 121.7 88.4 119.4 85.6 121.8Z" fill="#645339" stroke="#645339"/><path d="M185.5 97.2 189.1 94.5 185.4 92.4 181.8 95Z" fill="#613938" stroke="#613938"/><path d="M207.4 96.1 211.1 93.5 207.4 91.3 203.8 93.8Z" fill="#623938" stroke="#623938"/><path d="M77.9 128.7 80.4 126.5 76.6 124.1 74.1 126.3Z" fill="#605838" stroke="#605838"/><path d="M242.9 100.9 246.6 98.6 243.3 96 239.6 98.3Z" fill="#6a443c" stroke="#6a443c"/><path d="M131.8 109.3 135.1 106.5 131.3 104.4 128 107.2Z" fill="#69423c" stroke="#69423c"/><path d="M121.5 112.7 124.8 109.9 120.9 107.8 117.7 110.5Z" fill="#6a463c" stroke="#6a463c"/><path d="M160.1 101.7 163.6 98.9 159.8 96.9 156.3 99.6Z" fill="#643b3a" stroke="#643b3a"/><path d="M192.8 96.8 196.5 94.1 192.8 92 189.1 94.5Z" fill="#613938" stroke="#613938"/><path d="M200.1 96.4 203.8 93.8 200.1 91.6 196.5 94.1Z" fill="#623938" stroke="#623938"/><path d="M268.7 112.4 272.4 110.1 269.5 107.4 265.9 109.7Z" fill="#65583a" stroke="#65583a"/><path d="M65.7 133.9 67.5 132.2 63.7 129.7 61.8 131.3Z" fill="#5b5e36" stroke="#5b5e36"/><path d="M98.8 121.5 101.7 118.9 97.9 116.7 95 119.2Z" fill="#684f3b" stroke="#684f3b"/><path d="M256.2 106.6 259.9 104.2 256.7 101.5 253.1 103.8Z" fill="#6b4d3d" stroke="#6b4d3d"/><path d="M225.4 98.2 229.1 95.7 225.6 93.3 221.9 95.7Z" fill="#663d3b" stroke="#663d3b"/><path d="M271.5 115.2 275.1 112.8 272.4 110.1 268.7 112.4Z" fill="#645c3a" stroke="#645c3a"/><path d="M75.6 130.9 77.9 128.7 74.1 126.3 71.8 128.3Z" fill="#5f5a38" stroke="#5f5a38"/><path d="M149.4 105.2 152.9 102.4 149.1 100.3 145.6 103.1Z" fill="#673e3b" stroke="#673e3b"/><path d="M86.8 126.6 89.4 124.2 85.6 121.8 83 124.2Z" fill="#64563a" stroke="#64563a"/><path d="M167.4 101.1 170.9 98.3 167.1 96.2 163.6 98.9Z" fill="#643b3a" stroke="#643b3a"/><path d="M64.1 135.3 65.7 133.9 61.8 131.3 60.3 132.7Z" fill="#5a5f36" stroke="#5a5f36"/><path d="M108.5 118.6 111.5 115.9 107.7 113.7 104.7 116.3Z" fill="#6a4c3d" stroke="#6a4c3d"/><path d="M274.1 118 277.8 115.5 275.1 112.8 271.5 115.2Z" fill="#62603a" stroke="#62603a"/><path d="M138.9 108.7 142.3 105.9 138.5 103.7 135.1 106.5Z" fill="#69423c" stroke="#69423c"/><path d="M246.2 103.6 249.9 101.2 246.6 98.6 242.9 100.9Z" fill="#6d473e" stroke="#6d473e"/><path d="M235.9 100.8 239.6 98.3 236.2 95.8 232.5 98.2Z" fill="#6a423d" stroke="#6a423d"/><path d="M118.4 115.5 121.5 112.7 117.7 110.5 114.6 113.2Z" fill="#6c493d" stroke="#6c493d"/><path d="M128.6 112.1 131.8 109.3 128 107.2 124.8 109.9Z" fill="#6c453d" stroke="#6c453d"/><path d="M218.2 98.3 221.9 95.7 218.3 93.4 214.7 95.8Z" fill="#663d3b" stroke="#663d3b"/><path d="M63 136.3 64.1 135.3 60.3 132.7 59.2 133.7Z" fill="#5a6036" stroke="#5a6036"/><path d="M174.6 100.5 178.2 97.7 174.5 95.6 170.9 98.3Z" fill="#653b3a" stroke="#653b3a"/><path d="M96 124.1 98.8 121.5 95 119.2 92.2 121.7Z" fill="#68523c" stroke="#68523c"/><path d="M259.3 109.3 262.9 106.9 259.9 104.2 256.2 106.6Z" fill="#6c503e" stroke="#6c503e"/><path d="M276.7 120.7 280.3 118.2 277.8 115.5 274.1 118Z" fill="#60643a" stroke="#60643a"/><path d="M73.4 132.9 75.6 130.9 71.8 128.3 69.6 130.3Z" fill="#5f5c38" stroke="#5f5c38"/><path d="M84.2 129 86.8 126.6 83 124.2 80.4 126.5Z" fill="#64583a" stroke="#64583a"/><path d="M156.6 104.6 160.1 101.7 156.3 99.6 152.9 102.4Z" fill="#673e3c" stroke="#673e3c"/><path d="M279.1 123.4 282.7 120.9 280.3 118.2 276.7 120.7Z" fill="#5e6839" stroke="#5e6839"/><path d="M211 98.5 214.7 95.8 211.1 93.5 207.4 96.1Z" fill="#663c3b" stroke="#663c3b"/><path d="M181.9 100 185.5 97.2 181.8 95 178.2 97.7Z" fill="#653b3a" stroke="#653b3a"/><path d="M281.3 125.9 285 123.4 282.7 120.9 279.1 123.4Z" fill="#596a37" stroke="#596a37"/><path d="M288 134 291.6 131.3 290.5 130 286.9 132.6Z" fill="#467032" stroke="#467032"/><path d="M283.4 128.4 287 125.8 285 123.4 281.3 125.9Z" fill="#536c36" stroke="#536c36"/><path d="M286.9 132.6 290.5 130 288.9 128 285.3 130.6Z" fill="#496f32" stroke="#496f32"/><path d="M285.3 130.6 288.9 128 287 125.8 283.4 128.4Z" fill="#4d6e33" stroke="#4d6e33"/><path d="M105.5 121.3 108.5 118.6 104.7 116.3 101.7 118.9Z" fill="#6b4e3d" stroke="#6b4e3d"/><path d="M189.2 99.5 192.8 96.8 189.1 94.5 185.5 97.2Z" fill="#653b3a" stroke="#653b3a"/><path d="M203.8 98.7 207.4 96.1 203.8 93.8 200.1 96.4Z" fill="#663c3a" stroke="#663c3a"/><path d="M196.5 99.1 200.1 96.4 196.5 94.1 192.8 96.8Z" fill="#653b3a" stroke="#653b3a"/><path d="M228.9 100.7 232.5 98.2 229.1 95.7 225.4 98.2Z" fill="#6a413d" stroke="#6a413d"/><path d="M71.3 134.8 73.4 132.9 69.6 130.3 67.5 132.2Z" fill="#5e5e38" stroke="#5e5e38"/><path d="M262.2 112.1 265.9 109.7 262.9 106.9 259.3 109.3Z" fill="#6c553e" stroke="#6c553e"/><path d="M146 108.1 149.4 105.2 145.6 103.1 142.3 105.9Z" fill="#6a413d" stroke="#6a413d"/><path d="M249.4 106.3 253.1 103.8 249.9 101.2 246.2 103.6Z" fill="#6f4b3f" stroke="#6f4b3f"/><path d="M115.3 118.2 118.4 115.5 114.6 113.2 111.5 115.9Z" fill="#6d4b3e" stroke="#6d4b3e"/><path d="M93.2 126.6 96 124.1 92.2 121.7 89.4 124.2Z" fill="#68553c" stroke="#68553c"/><path d="M163.9 104 167.4 101.1 163.6 98.9 160.1 101.7Z" fill="#683e3c" stroke="#683e3c"/><path d="M81.7 131.3 84.2 129 80.4 126.5 77.9 128.7Z" fill="#635b3a" stroke="#635b3a"/><path d="M239.3 103.4 242.9 100.9 239.6 98.3 235.9 100.8Z" fill="#6e463f" stroke="#6e463f"/><path d="M135.6 111.6 138.9 108.7 135.1 106.5 131.8 109.3Z" fill="#6c453e" stroke="#6c453e"/><path d="M125.4 115 128.6 112.1 124.8 109.9 121.5 112.7Z" fill="#6e483f" stroke="#6e483f"/><path d="M69.5 136.5 71.3 134.8 67.5 132.2 65.7 133.9Z" fill="#5e6038" stroke="#5e6038"/><path d="M265.1 115 268.7 112.4 265.9 109.7 262.2 112.1Z" fill="#6b5a3e" stroke="#6b5a3e"/><path d="M221.7 100.8 225.4 98.2 221.9 95.7 218.2 98.3Z" fill="#6a403d" stroke="#6a403d"/><path d="M102.6 124 105.5 121.3 101.7 118.9 98.8 121.5Z" fill="#6c513e" stroke="#6c513e"/><path d="M171.1 103.4 174.6 100.5 170.9 98.3 167.4 101.1Z" fill="#683e3c" stroke="#683e3c"/><path d="M252.5 109.1 256.2 106.6 253.1 103.8 249.4 106.3Z" fill="#704f40" stroke="#704f40"/><path d="M153.2 107.5 156.6 104.6 152.9 102.4 149.4 105.2Z" fill="#6a413e" stroke="#6a413e"/><path d="M79.4 133.4 81.7 131.3 77.9 128.7 75.6 130.9Z" fill="#635d3a" stroke="#635d3a"/><path d="M90.6 129.1 93.2 126.6 89.4 124.2 86.8 126.6Z" fill="#68583c" stroke="#68583c"/><path d="M267.8 117.8 271.5 115.2 268.7 112.4 265.1 115Z" fill="#6a5e3d" stroke="#6a5e3d"/><path d="M67.9 138 69.5 136.5 65.7 133.9 64.1 135.3Z" fill="#5d6238" stroke="#5d6238"/><path d="M112.3 121 115.3 118.2 111.5 115.9 108.5 118.6Z" fill="#6e4e3f" stroke="#6e4e3f"/><path d="M214.6 101 218.2 98.3 214.7 95.8 211 98.5Z" fill="#6a3f3d" stroke="#6a3f3d"/><path d="M232.3 103.4 235.9 100.8 232.5 98.2 228.9 100.7Z" fill="#6e443f" stroke="#6e443f"/><path d="M178.4 102.8 181.9 100 178.2 97.7 174.6 100.5Z" fill="#683e3c" stroke="#683e3c"/><path d="M142.7 111 146 108.1 142.3 105.9 138.9 108.7Z" fill="#6d443f" stroke="#6d443f"/><path d="M242.5 106.2 246.2 103.6 242.9 100.9 239.3 103.4Z" fill="#714a40" stroke="#714a40"/><path d="M122.2 117.8 125.4 115 121.5 112.7 118.4 115.5Z" fill="#704b40" stroke="#704b40"/><path d="M270.5 120.6 274.1 118 271.5 115.2 267.8 117.8Z" fill="#68623d" stroke="#68623d"/><path d="M66.8 139 67.9 138 64.1 135.3 63 136.3Z" fill="#5d6338" stroke="#5d6338"/><path d="M132.3 114.5 135.6 111.6 131.8 109.3 128.6 112.1Z" fill="#6f473f" stroke="#6f473f"/><path d="M207.4 101.2 211 98.5 207.4 96.1 203.8 98.7Z" fill="#6a3f3d" stroke="#6a3f3d"/><path d="M185.6 102.3 189.2 99.5 185.5 97.2 181.9 100Z" fill="#693e3c" stroke="#693e3c"/><path d="M77.2 135.5 79.4 133.4 75.6 130.9 73.4 132.9Z" fill="#625f3a" stroke="#625f3a"/><path d="M99.8 126.6 102.6 124 98.8 121.5 96 124.1Z" fill="#6c543e" stroke="#6c543e"/><path d="M255.6 111.9 259.3 109.3 256.2 106.6 252.5 109.1Z" fill="#715340" stroke="#715340"/><path d="M273 123.3 276.7 120.7 274.1 118 270.5 120.6Z" fill="#65663c" stroke="#65663c"/><path d="M160.4 106.9 163.9 104 160.1 101.7 156.6 104.6Z" fill="#6b403e" stroke="#6b403e"/><path d="M200.1 101.5 203.8 98.7 200.1 96.4 196.5 99.1Z" fill="#693e3c" stroke="#693e3c"/><path d="M192.9 101.9 196.5 99.1 192.8 96.8 189.2 99.5Z" fill="#693e3c" stroke="#693e3c"/><path d="M88 131.5 90.6 129.1 86.8 126.6 84.2 129Z" fill="#675b3c" stroke="#675b3c"/><path d="M275.4 126 279.1 123.4 276.7 120.7 273 123.3Z" fill="#636a3b" stroke="#636a3b"/><path d="M284.4 136.8 288 134 286.9 132.6 283.3 135.4Z" fill="#4a7234" stroke="#4a7234"/><path d="M277.7 128.6 281.3 125.9 279.1 123.4 275.4 126Z" fill="#5f6d3a" stroke="#5f6d3a"/><path d="M283.3 135.4 286.9 132.6 285.3 130.6 281.7 133.4Z" fill="#4d7234" stroke="#4d7234"/><path d="M279.8 131.1 283.4 128.4 281.3 125.9 277.7 128.6Z" fill="#596f38" stroke="#596f38"/><path d="M281.7 133.4 285.3 130.6 283.4 128.4 279.8 131.1Z" fill="#537036" stroke="#537036"/><path d="M225.2 103.4 228.9 100.7 225.4 98.2 221.7 100.8Z" fill="#6e433f" stroke="#6e433f"/><path d="M109.3 123.8 112.3 121 108.5 118.6 105.5 121.3Z" fill="#6f513f" stroke="#6f513f"/><path d="M75.2 137.5 77.2 135.5 73.4 132.9 71.3 134.8Z" fill="#62613a" stroke="#62613a"/><path d="M149.8 110.4 153.2 107.5 149.4 105.2 146 108.1Z" fill="#6e433f" stroke="#6e433f"/><path d="M245.7 108.9 249.4 106.3 246.2 103.6 242.5 106.2Z" fill="#734d42" stroke="#734d42"/><path d="M258.6 114.8 262.2 112.1 259.3 109.3 255.6 111.9Z" fill="#715641" stroke="#715641"/><path d="M167.6 106.3 171.1 103.4 167.4 101.1 163.9 104Z" fill="#6b403e" stroke="#6b403e"/><path d="M119.1 120.7 122.2 117.8 118.4 115.5 115.3 118.2Z" fill="#714e40" stroke="#714e40"/><path d="M235.6 106.1 239.3 103.4 235.9 100.8 232.3 103.4Z" fill="#714841" stroke="#714841"/><path d="M97 129.2 99.8 126.6 96 124.1 93.2 126.6Z" fill="#6c573e" stroke="#6c573e"/><path d="M85.6 133.9 88 131.5 84.2 129 81.7 131.3Z" fill="#675d3b" stroke="#675d3b"/><path d="M139.4 113.9 142.7 111 138.9 108.7 135.6 111.6Z" fill="#704740" stroke="#704740"/><path d="M129.1 117.4 132.3 114.5 128.6 112.1 125.4 115Z" fill="#724a41" stroke="#724a41"/><path d="M218.1 103.5 221.7 100.8 218.2 98.3 214.6 101Z" fill="#6d423f" stroke="#6d423f"/><path d="M73.3 139.3 75.2 137.5 71.3 134.8 69.5 136.5Z" fill="#61633a" stroke="#61633a"/><path d="M174.8 105.7 178.4 102.8 174.6 100.5 171.1 103.4Z" fill="#6c403e" stroke="#6c403e"/><path d="M261.4 117.6 265.1 115 262.2 112.1 258.6 114.8Z" fill="#705b40" stroke="#705b40"/><path d="M106.4 126.5 109.3 123.8 105.5 121.3 102.6 124Z" fill="#705340" stroke="#705340"/><path d="M157 109.8 160.4 106.9 156.6 104.6 153.2 107.5Z" fill="#6e4340" stroke="#6e4340"/><path d="M248.9 111.8 252.5 109.1 249.4 106.3 245.7 108.9Z" fill="#745142" stroke="#745142"/><path d="M210.9 103.7 214.6 101 211 98.5 207.4 101.2Z" fill="#6d423f" stroke="#6d423f"/><path d="M83.2 136.1 85.6 133.9 81.7 131.3 79.4 133.4Z" fill="#665f3b" stroke="#665f3b"/><path d="M71.7 140.8 73.3 139.3 69.5 136.5 67.9 138Z" fill="#60643a" stroke="#60643a"/><path d="M182.1 105.2 185.6 102.3 181.9 100 178.4 102.8Z" fill="#6c403e" stroke="#6c403e"/><path d="M94.4 131.7 97 129.2 93.2 126.6 90.6 129.1Z" fill="#6b5a3e" stroke="#6b5a3e"/><path d="M264.2 120.5 267.8 117.8 265.1 115 261.4 117.6Z" fill="#6e603f" stroke="#6e603f"/><path d="M228.6 106.1 232.3 103.4 228.9 100.7 225.2 103.4Z" fill="#714641" stroke="#714641"/><path d="M116.1 123.5 119.1 120.7 115.3 118.2 112.3 121Z" fill="#725041" stroke="#725041"/><path d="M203.7 104 207.4 101.2 203.8 98.7 200.1 101.5Z" fill="#6d413f" stroke="#6d413f"/><path d="M189.3 104.8 192.9 101.9 189.2 99.5 185.6 102.3Z" fill="#6c403e" stroke="#6c403e"/><path d="M146.5 113.4 149.8 110.4 146 108.1 142.7 111Z" fill="#704641" stroke="#704641"/><path d="M238.9 108.9 242.5 106.2 239.3 103.4 235.6 106.1Z" fill="#744c42" stroke="#744c42"/><path d="M196.5 104.4 200.1 101.5 196.5 99.1 192.9 101.9Z" fill="#6d413e" stroke="#6d413e"/><path d="M70.7 141.8 71.7 140.8 67.9 138 66.8 139Z" fill="#60653a" stroke="#60653a"/><path d="M126 120.3 129.1 117.4 125.4 115 122.2 117.8Z" fill="#734d42" stroke="#734d42"/><path d="M266.8 123.3 270.5 120.6 267.8 117.8 264.2 120.5Z" fill="#6c643f" stroke="#6c643f"/><path d="M136.1 116.9 139.4 113.9 135.6 111.6 132.3 114.5Z" fill="#734a41" stroke="#734a41"/><path d="M164.1 109.3 167.6 106.3 163.9 104 160.4 106.9Z" fill="#6e4340" stroke="#6e4340"/><path d="M81 138.3 83.2 136.1 79.4 133.4 77.2 135.5Z" fill="#65613b" stroke="#65613b"/><path d="M103.6 129.2 106.4 126.5 102.6 124 99.8 126.6Z" fill="#705640" stroke="#705640"/><path d="M251.9 114.6 255.6 111.9 252.5 109.1 248.9 111.8Z" fill="#755543" stroke="#755543"/><path d="M269.4 126.1 273 123.3 270.5 120.6 266.8 123.3Z" fill="#69683e" stroke="#69683e"/><path d="M91.8 134.2 94.4 131.7 90.6 129.1 88 131.5Z" fill="#6a5d3d" stroke="#6a5d3d"/><path d="M280.7 139.7 284.4 136.8 283.3 135.4 279.6 138.3Z" fill="#4d7535" stroke="#4d7535"/><path d="M221.5 106.2 225.2 103.4 221.7 100.8 218.1 103.5Z" fill="#714541" stroke="#714541"/><path d="M271.8 128.9 275.4 126 273 123.3 269.4 126.1Z" fill="#676c3d" stroke="#676c3d"/><path d="M279.6 138.3 283.3 135.4 281.7 133.4 278 136.3Z" fill="#517436" stroke="#517436"/><path d="M274.1 131.5 277.7 128.6 275.4 126 271.8 128.9Z" fill="#636f3d" stroke="#636f3d"/><path d="M278 136.3 281.7 133.4 279.8 131.1 276.1 134Z" fill="#577338" stroke="#577338"/><path d="M276.1 134 279.8 131.1 277.7 128.6 274.1 131.5Z" fill="#5d713a" stroke="#5d713a"/><path d="M113.1 126.3 116.1 123.5 112.3 121 109.3 123.8Z" fill="#725341" stroke="#725341"/><path d="M171.3 108.7 174.8 105.7 171.1 103.4 167.6 106.3Z" fill="#6f4340" stroke="#6f4340"/><path d="M153.6 112.8 157 109.8 153.2 107.5 149.8 110.4Z" fill="#714641" stroke="#714641"/><path d="M79 140.3 81 138.3 77.2 135.5 75.2 137.5Z" fill="#64633b" stroke="#64633b"/><path d="M242.1 111.7 245.7 108.9 242.5 106.2 238.9 108.9Z" fill="#774f44" stroke="#774f44"/><path d="M231.9 108.9 235.6 106.1 232.3 103.4 228.6 106.1Z" fill="#744a43" stroke="#744a43"/><path d="M254.9 117.5 258.6 114.8 255.6 111.9 251.9 114.6Z" fill="#755843" stroke="#755843"/><path d="M122.9 123.2 126 120.3 122.2 117.8 119.1 120.7Z" fill="#745042" stroke="#745042"/><path d="M214.4 106.4 218.1 103.5 214.6 101 210.9 103.7Z" fill="#714441" stroke="#714441"/><path d="M100.9 131.8 103.6 129.2 99.8 126.6 97 129.2Z" fill="#6f5940" stroke="#6f5940"/><path d="M89.4 136.6 91.8 134.2 88 131.5 85.6 133.9Z" fill="#6a603d" stroke="#6a603d"/><path d="M143.2 116.4 146.5 113.4 142.7 111 139.4 113.9Z" fill="#734942" stroke="#734942"/><path d="M132.9 119.9 136.1 116.9 132.3 114.5 129.1 117.4Z" fill="#754d43" stroke="#754d43"/><path d="M178.5 108.2 182.1 105.2 178.4 102.8 174.8 105.7Z" fill="#6f4340" stroke="#6f4340"/><path d="M77.1 142.1 79 140.3 75.2 137.5 73.3 139.3Z" fill="#63653b" stroke="#63653b"/><path d="M207.3 106.6 210.9 103.7 207.4 101.2 203.7 104Z" fill="#704441" stroke="#704441"/><path d="M257.8 120.4 261.4 117.6 258.6 114.8 254.9 117.5Z" fill="#745d43" stroke="#745d43"/><path d="M185.7 107.8 189.3 104.8 185.6 102.3 182.1 105.2Z" fill="#6f4340" stroke="#6f4340"/><path d="M160.7 112.3 164.1 109.3 160.4 106.9 157 109.8Z" fill="#714542" stroke="#714542"/><path d="M110.2 129.1 113.1 126.3 109.3 123.8 106.4 126.5Z" fill="#735542" stroke="#735542"/><path d="M200.1 106.9 203.7 104 200.1 101.5 196.5 104.4Z" fill="#704340" stroke="#704340"/><path d="M192.9 107.3 196.5 104.4 192.9 101.9 189.3 104.8Z" fill="#704340" stroke="#704340"/><path d="M245.2 114.6 248.9 111.8 245.7 108.9 242.1 111.7Z" fill="#785344" stroke="#785344"/><path d="M87.1 138.9 89.4 136.6 85.6 133.9 83.2 136.1Z" fill="#69623d" stroke="#69623d"/><path d="M75.6 143.7 77.1 142.1 73.3 139.3 71.7 140.8Z" fill="#62673b" stroke="#62673b"/><path d="M224.9 109 228.6 106.1 225.2 103.4 221.5 106.2Z" fill="#744943" stroke="#744943"/><path d="M98.2 134.4 100.9 131.8 97 129.2 94.4 131.7Z" fill="#6e5c3f" stroke="#6e5c3f"/><path d="M260.5 123.3 264.2 120.5 261.4 117.6 257.8 120.4Z" fill="#726242" stroke="#726242"/><path d="M119.9 126.1 122.9 123.2 119.1 120.7 116.1 123.5Z" fill="#755343" stroke="#755343"/><path d="M235.2 111.7 238.9 108.9 235.6 106.1 231.9 108.9Z" fill="#784e44" stroke="#784e44"/><path d="M150.2 115.9 153.6 112.8 149.8 110.4 146.5 113.4Z" fill="#744843" stroke="#744843"/><path d="M74.5 144.7 75.6 143.7 71.7 140.8 70.7 141.8Z" fill="#62683b" stroke="#62683b"/><path d="M167.9 111.8 171.3 108.7 167.6 106.3 164.1 109.3Z" fill="#724542" stroke="#724542"/><path d="M129.8 122.8 132.9 119.9 129.1 117.4 126 120.3Z" fill="#774f43" stroke="#774f43"/><path d="M263.2 126.2 266.8 123.3 264.2 120.5 260.5 123.3Z" fill="#706641" stroke="#706641"/><path d="M139.9 119.4 143.2 116.4 139.4 113.9 136.1 116.9Z" fill="#764c43" stroke="#764c43"/><path d="M84.9 141.1 87.1 138.9 83.2 136.1 81 138.3Z" fill="#68643d" stroke="#68643d"/><path d="M107.4 131.9 110.2 129.1 106.4 126.5 103.6 129.2Z" fill="#735842" stroke="#735842"/><path d="M217.9 109.1 221.5 106.2 218.1 103.5 214.4 106.4Z" fill="#744743" stroke="#744743"/><path d="M248.3 117.5 251.9 114.6 248.9 111.8 245.2 114.6Z" fill="#795745" stroke="#795745"/><path d="M265.7 129.1 269.4 126.1 266.8 123.3 263.2 126.2Z" fill="#6d6a40" stroke="#6d6a40"/><path d="M277.1 142.8 280.7 139.7 279.6 138.3 276 141.4Z" fill="#507736" stroke="#507736"/><path d="M95.7 137 98.2 134.4 94.4 131.7 91.8 134.2Z" fill="#6d5f3f" stroke="#6d5f3f"/><path d="M276 141.4 279.6 138.3 278 136.3 274.4 139.4Z" fill="#547738" stroke="#547738"/><path d="M268.1 131.8 271.8 128.9 269.4 126.1 265.7 129.1Z" fill="#6a6e3f" stroke="#6a6e3f"/><path d="M274.4 139.4 278 136.3 276.1 134 272.5 137Z" fill="#5a753a" stroke="#5a753a"/><path d="M175 111.3 178.5 108.2 174.8 105.7 171.3 108.7Z" fill="#724542" stroke="#724542"/><path d="M270.4 134.5 274.1 131.5 271.8 128.9 268.1 131.8Z" fill="#66713e" stroke="#66713e"/><path d="M272.5 137 276.1 134 274.1 131.5 270.4 134.5Z" fill="#61743c" stroke="#61743c"/><path d="M157.3 115.4 160.7 112.3 157 109.8 153.6 112.8Z" fill="#744843" stroke="#744843"/><path d="M82.8 143.1 84.9 141.1 81 138.3 79 140.3Z" fill="#66663d" stroke="#66663d"/><path d="M116.9 129 119.9 126.1 116.1 123.5 113.1 126.3Z" fill="#755543" stroke="#755543"/><path d="M210.8 109.3 214.4 106.4 210.9 103.7 207.3 106.6Z" fill="#744743" stroke="#744743"/><path d="M228.3 111.8 231.9 108.9 228.6 106.1 224.9 109Z" fill="#774c45" stroke="#774c45"/><path d="M238.4 114.6 242.1 111.7 238.9 108.9 235.2 111.7Z" fill="#7b5146" stroke="#7b5146"/><path d="M182.2 110.8 185.7 107.8 182.1 105.2 178.5 108.2Z" fill="#724542" stroke="#724542"/><path d="M251.2 120.4 254.9 117.5 251.9 114.6 248.3 117.5Z" fill="#795a45" stroke="#795a45"/><path d="M203.7 109.6 207.3 106.6 203.7 104 200.1 106.9Z" fill="#734642" stroke="#734642"/><path d="M146.9 119 150.2 115.9 146.5 113.4 143.2 116.4Z" fill="#764b44" stroke="#764b44"/><path d="M126.7 125.8 129.8 122.8 126 120.3 122.9 123.2Z" fill="#775244" stroke="#775244"/><path d="M93.2 139.4 95.7 137 91.8 134.2 89.4 136.6Z" fill="#6c623e" stroke="#6c623e"/><path d="M104.7 134.6 107.4 131.9 103.6 129.2 100.9 131.8Z" fill="#725c41" stroke="#725c41"/><path d="M189.4 110.4 192.9 107.3 189.3 104.8 185.7 107.8Z" fill="#734542" stroke="#734542"/><path d="M136.7 122.4 139.9 119.4 136.1 116.9 132.9 119.9Z" fill="#784f44" stroke="#784f44"/><path d="M196.5 110 200.1 106.9 196.5 104.4 192.9 107.3Z" fill="#734642" stroke="#734642"/><path d="M81 145 82.8 143.1 79 140.3 77.1 142.1Z" fill="#65683c" stroke="#65683c"/><path d="M164.4 114.9 167.9 111.8 164.1 109.3 160.7 112.3Z" fill="#754843" stroke="#754843"/><path d="M254.1 123.4 257.8 120.4 254.9 117.5 251.2 120.4Z" fill="#785f44" stroke="#785f44"/><path d="M221.3 111.9 224.9 109 221.5 106.2 217.9 109.1Z" fill="#774b45" stroke="#774b45"/><path d="M114 131.8 116.9 129 113.1 126.3 110.2 129.1Z" fill="#765843" stroke="#765843"/><path d="M241.5 117.5 245.2 114.6 242.1 111.7 238.4 114.6Z" fill="#7b5546" stroke="#7b5546"/><path d="M79.4 146.6 81 145 77.1 142.1 75.6 143.7Z" fill="#64693c" stroke="#64693c"/><path d="M90.9 141.8 93.2 139.4 89.4 136.6 87.1 138.9Z" fill="#6b643e" stroke="#6b643e"/><path d="M102 137.2 104.7 134.6 100.9 131.8 98.2 134.4Z" fill="#715f41" stroke="#715f41"/><path d="M256.9 126.3 260.5 123.3 257.8 120.4 254.1 123.4Z" fill="#756343" stroke="#756343"/><path d="M231.5 114.7 235.2 111.7 231.9 108.9 228.3 111.8Z" fill="#7a5046" stroke="#7a5046"/><path d="M154 118.5 157.3 115.4 153.6 112.8 150.2 115.9Z" fill="#774b44" stroke="#774b44"/><path d="M171.6 114.4 175 111.3 171.3 108.7 167.9 111.8Z" fill="#754843" stroke="#754843"/><path d="M123.7 128.8 126.7 125.8 122.9 123.2 119.9 126.1Z" fill="#785544" stroke="#785544"/><path d="M78.3 147.7 79.4 146.6 75.6 143.7 74.5 144.7Z" fill="#636b3c" stroke="#636b3c"/><path d="M214.2 112.1 217.9 109.1 214.4 106.4 210.8 109.3Z" fill="#774a45" stroke="#774a45"/><path d="M259.5 129.3 263.2 126.2 260.5 123.3 256.9 126.3Z" fill="#736842" stroke="#736842"/><path d="M143.7 122 146.9 119 143.2 116.4 139.9 119.4Z" fill="#794e45" stroke="#794e45"/><path d="M133.6 125.5 136.7 122.4 132.9 119.9 129.8 122.8Z" fill="#7a5245" stroke="#7a5245"/><path d="M273.4 146.1 277.1 142.8 276 141.4 272.3 144.6Z" fill="#517a37" stroke="#517a37"/><path d="M88.7 144 90.9 141.8 87.1 138.9 84.9 141.1Z" fill="#6a673e" stroke="#6a673e"/><path d="M244.6 120.5 248.3 117.5 245.2 114.6 241.5 117.5Z" fill="#7c5946" stroke="#7c5946"/><path d="M272.3 144.6 276 141.4 274.4 139.4 270.7 142.6Z" fill="#567939" stroke="#567939"/><path d="M262.1 132.1 265.7 129.1 263.2 126.2 259.5 129.3Z" fill="#6f6c41" stroke="#6f6c41"/><path d="M178.7 113.9 182.2 110.8 178.5 108.2 175 111.3Z" fill="#754844" stroke="#754844"/><path d="M111.2 134.6 114 131.8 110.2 129.1 107.4 131.9Z" fill="#755b43" stroke="#755b43"/><path d="M270.7 142.6 274.4 139.4 272.5 137 268.9 140.2Z" fill="#5c773b" stroke="#5c773b"/><path d="M264.5 134.9 268.1 131.8 265.7 129.1 262.1 132.1Z" fill="#6c7040" stroke="#6c7040"/><path d="M99.5 139.8 102 137.2 98.2 134.4 95.7 137Z" fill="#6f6240" stroke="#6f6240"/><path d="M268.9 140.2 272.5 137 270.4 134.5 266.8 137.6Z" fill="#63763d" stroke="#63763d"/><path d="M207.2 112.4 210.8 109.3 207.3 106.6 203.7 109.6Z" fill="#774944" stroke="#774944"/><path d="M266.8 137.6 270.4 134.5 268.1 131.8 264.5 134.9Z" fill="#69743f" stroke="#69743f"/><path d="M185.8 113.5 189.4 110.4 185.7 107.8 182.2 110.8Z" fill="#764844" stroke="#764844"/><path d="M161 118 164.4 114.9 160.7 112.3 157.3 115.4Z" fill="#774a45" stroke="#774a45"/><path d="M224.6 114.8 228.3 111.8 224.9 109 221.3 111.9Z" fill="#7a4e46" stroke="#7a4e46"/><path d="M200.1 112.7 203.7 109.6 200.1 106.9 196.5 110Z" fill="#764844" stroke="#764844"/><path d="M234.8 117.6 238.4 114.6 235.2 111.7 231.5 114.7Z" fill="#7d5347" stroke="#7d5347"/><path d="M193 113.1 196.5 110 192.9 107.3 189.4 110.4Z" fill="#764844" stroke="#764844"/><path d="M86.6 146.1 88.7 144 84.9 141.1 82.8 143.1Z" fill="#68693e" stroke="#68693e"/><path d="M120.7 131.7 123.7 128.8 119.9 126.1 116.9 129Z" fill="#785844" stroke="#785844"/><path d="M247.6 123.5 251.2 120.4 248.3 117.5 244.6 120.5Z" fill="#7b5c46" stroke="#7b5c46"/><path d="M150.7 121.6 154 118.5 150.2 115.9 146.9 119Z" fill="#794e46" stroke="#794e46"/><path d="M97 142.3 99.5 139.8 95.7 137 93.2 139.4Z" fill="#6e6540" stroke="#6e6540"/><path d="M130.5 128.5 133.6 125.5 129.8 122.8 126.7 125.8Z" fill="#7a5545" stroke="#7a5545"/><path d="M108.5 137.4 111.2 134.6 107.4 131.9 104.7 134.6Z" fill="#745e43" stroke="#745e43"/><path d="M140.5 125.1 143.7 122 139.9 119.4 136.7 122.4Z" fill="#7b5146" stroke="#7b5146"/><path d="M84.8 148 86.6 146.1 82.8 143.1 81 145Z" fill="#676a3d" stroke="#676a3d"/><path d="M168.1 117.5 171.6 114.4 167.9 111.8 164.4 114.9Z" fill="#784a45" stroke="#784a45"/><path d="M217.6 115 221.3 111.9 217.9 109.1 214.2 112.1Z" fill="#7a4d46" stroke="#7a4d46"/><path d="M250.4 126.5 254.1 123.4 251.2 120.4 247.6 123.5Z" fill="#7a6146" stroke="#7a6146"/><path d="M237.9 120.6 241.5 117.5 238.4 114.6 234.8 117.6Z" fill="#7e5748" stroke="#7e5748"/><path d="M117.8 134.6 120.7 131.7 116.9 129 114 131.8Z" fill="#785a45" stroke="#785a45"/><path d="M83.2 149.6 84.8 148 81 145 79.4 146.6Z" fill="#666c3d" stroke="#666c3d"/><path d="M94.7 144.7 97 142.3 93.2 139.4 90.9 141.8Z" fill="#6d673f" stroke="#6d673f"/><path d="M227.9 117.7 231.5 114.7 228.3 111.8 224.6 114.8Z" fill="#7d5248" stroke="#7d5248"/><path d="M175.2 117.1 178.7 113.9 175 111.3 171.6 114.4Z" fill="#784a45" stroke="#784a45"/><path d="M253.2 129.4 256.9 126.3 254.1 123.4 250.4 126.5Z" fill="#786545" stroke="#786545"/><path d="M105.8 140.1 108.5 137.4 104.7 134.6 102 137.2Z" fill="#736142" stroke="#736142"/><path d="M157.7 121.2 161 118 157.3 115.4 154 118.5Z" fill="#7a4d46" stroke="#7a4d46"/><path d="M210.6 115.2 214.2 112.1 210.8 109.3 207.2 112.4Z" fill="#7a4c46" stroke="#7a4c46"/><path d="M269.8 149.4 273.4 146.1 272.3 144.6 268.7 148Z" fill="#527c38" stroke="#527c38"/><path d="M82.1 150.8 83.2 149.6 79.4 146.6 78.3 147.7Z" fill="#656d3d" stroke="#656d3d"/><path d="M127.4 131.6 130.5 128.5 126.7 125.8 123.7 128.8Z" fill="#7a5746" stroke="#7a5746"/><path d="M255.9 132.4 259.5 129.3 256.9 126.3 253.2 129.4Z" fill="#756a43" stroke="#756a43"/><path d="M182.3 116.6 185.8 113.5 182.2 110.8 178.7 113.9Z" fill="#784a45" stroke="#784a45"/><path d="M268.7 148 272.3 144.6 270.7 142.6 267.1 145.9Z" fill="#577b39" stroke="#577b39"/><path d="M147.4 124.8 150.7 121.6 146.9 119 143.7 122Z" fill="#7c5147" stroke="#7c5147"/><path d="M203.6 115.5 207.2 112.4 203.7 109.6 200.1 112.7Z" fill="#794b46" stroke="#794b46"/><path d="M137.3 128.2 140.5 125.1 136.7 122.4 133.6 125.5Z" fill="#7c5447" stroke="#7c5447"/><path d="M267.1 145.9 270.7 142.6 268.9 140.2 265.2 143.5Z" fill="#5d793c" stroke="#5d793c"/><path d="M258.4 135.3 262.1 132.1 259.5 129.3 255.9 132.4Z" fill="#716e42" stroke="#716e42"/><path d="M240.9 123.6 244.6 120.5 241.5 117.5 237.9 120.6Z" fill="#7e5b48" stroke="#7e5b48"/><path d="M92.5 147 94.7 144.7 90.9 141.8 88.7 144Z" fill="#6b693f" stroke="#6b693f"/><path d="M189.4 116.2 193 113.1 189.4 110.4 185.8 113.5Z" fill="#794b46" stroke="#794b46"/><path d="M196.5 115.9 200.1 112.7 196.5 110 193 113.1Z" fill="#794b46" stroke="#794b46"/><path d="M265.2 143.5 268.9 140.2 266.8 137.6 263.1 140.9Z" fill="#64783e" stroke="#64783e"/><path d="M260.8 138.2 264.5 134.9 262.1 132.1 258.4 135.3Z" fill="#6e7241" stroke="#6e7241"/><path d="M263.1 140.9 266.8 137.6 264.5 134.9 260.8 138.2Z" fill="#6a7640" stroke="#6a7640"/><path d="M115 137.5 117.8 134.6 114 131.8 111.2 134.6Z" fill="#775d44" stroke="#775d44"/><path d="M221 117.9 224.6 114.8 221.3 111.9 217.6 115Z" fill="#7d5148" stroke="#7d5148"/><path d="M103.3 142.8 105.8 140.1 102 137.2 99.5 139.8Z" fill="#716541" stroke="#716541"/><path d="M164.7 120.7 168.1 117.5 164.4 114.9 161 118Z" fill="#7a4d46" stroke="#7a4d46"/><path d="M231.1 120.7 234.8 117.6 231.5 114.7 227.9 117.7Z" fill="#805649" stroke="#805649"/><path d="M90.5 149.2 92.5 147 88.7 144 86.6 146.1Z" fill="#696b3f" stroke="#696b3f"/><path d="M243.9 126.6 247.6 123.5 244.6 120.5 240.9 123.6Z" fill="#7e5e48" stroke="#7e5e48"/><path d="M124.5 134.6 127.4 131.6 123.7 128.8 120.7 131.7Z" fill="#7a5a46" stroke="#7a5a46"/><path d="M154.4 124.4 157.7 121.2 154 118.5 150.7 121.6Z" fill="#7c5047" stroke="#7c5047"/><path d="M171.8 120.3 175.2 117.1 171.6 114.4 168.1 117.5Z" fill="#7b4d47" stroke="#7b4d47"/><path d="M214 118.1 217.6 115 214.2 112.1 210.6 115.2Z" fill="#7d4f48" stroke="#7d4f48"/><path d="M100.8 145.3 103.3 142.8 99.5 139.8 97 142.3Z" fill="#706741" stroke="#706741"/><path d="M134.2 131.3 137.3 128.2 133.6 125.5 130.5 128.5Z" fill="#7d5747" stroke="#7d5747"/><path d="M112.2 140.3 115 137.5 111.2 134.6 108.5 137.4Z" fill="#766144" stroke="#766144"/><path d="M144.2 127.9 147.4 124.8 143.7 122 140.5 125.1Z" fill="#7e5448" stroke="#7e5448"/><path d="M88.6 151.1 90.5 149.2 86.6 146.1 84.8 148Z" fill="#686d3e" stroke="#686d3e"/><path d="M246.8 129.6 250.4 126.5 247.6 123.5 243.9 126.6Z" fill="#7c6347" stroke="#7c6347"/><path d="M234.2 123.7 237.9 120.6 234.8 117.6 231.1 120.7Z" fill="#805949" stroke="#805949"/><path d="M178.8 119.9 182.3 116.6 178.7 113.9 175.2 117.1Z" fill="#7b4d47" stroke="#7b4d47"/><path d="M224.3 120.9 227.9 117.7 224.6 114.8 221 117.9Z" fill="#805449" stroke="#805449"/><path d="M207 118.4 210.6 115.2 207.2 112.4 203.6 115.5Z" fill="#7c4e48" stroke="#7c4e48"/><path d="M87 152.8 88.6 151.1 84.8 148 83.2 149.6Z" fill="#676f3e" stroke="#676f3e"/><path d="M266.2 152.9 269.8 149.4 268.7 148 265.1 151.4Z" fill="#527d38" stroke="#527d38"/><path d="M249.6 132.7 253.2 129.4 250.4 126.5 246.8 129.6Z" fill="#796846" stroke="#796846"/><path d="M121.6 137.5 124.5 134.6 120.7 131.7 117.8 134.6Z" fill="#7a5d46" stroke="#7a5d46"/><path d="M98.5 147.8 100.8 145.3 97 142.3 94.7 144.7Z" fill="#6e6a40" stroke="#6e6a40"/><path d="M161.4 124 164.7 120.7 161 118 157.7 121.2Z" fill="#7d5048" stroke="#7d5048"/><path d="M185.9 119.5 189.4 116.2 185.8 113.5 182.3 116.6Z" fill="#7b4d47" stroke="#7b4d47"/><path d="M200 118.7 203.6 115.5 200.1 112.7 196.5 115.9Z" fill="#7c4e48" stroke="#7c4e48"/><path d="M265.1 151.4 268.7 148 267.1 145.9 263.5 149.3Z" fill="#567d39" stroke="#567d39"/><path d="M193 119.1 196.5 115.9 193 113.1 189.4 116.2Z" fill="#7c4d48" stroke="#7c4d48"/><path d="M109.6 143.1 112.2 140.3 108.5 137.4 105.8 140.1Z" fill="#746443" stroke="#746443"/><path d="M252.2 135.7 255.9 132.4 253.2 129.4 249.6 132.7Z" fill="#766d44" stroke="#766d44"/><path d="M86 153.9 87 152.8 83.2 149.6 82.1 150.8Z" fill="#65703e" stroke="#65703e"/><path d="M263.5 149.3 267.1 145.9 265.2 143.5 261.6 146.9Z" fill="#5d7b3c" stroke="#5d7b3c"/><path d="M131.2 134.4 134.2 131.3 130.5 128.5 127.4 131.6Z" fill="#7c5a47" stroke="#7c5a47"/><path d="M261.6 146.9 265.2 143.5 263.1 140.9 259.5 144.3Z" fill="#657a3f" stroke="#657a3f"/><path d="M151.1 127.6 154.4 124.4 150.7 121.6 147.4 124.8Z" fill="#7e5348" stroke="#7e5348"/><path d="M254.8 138.6 258.4 135.3 255.9 132.4 252.2 135.7Z" fill="#737143" stroke="#737143"/><path d="M237.3 126.8 240.9 123.6 237.9 120.6 234.2 123.7Z" fill="#805d49" stroke="#805d49"/><path d="M259.5 144.3 263.1 140.9 260.8 138.2 257.2 141.5Z" fill="#6b7841" stroke="#6b7841"/><path d="M257.2 141.5 260.8 138.2 258.4 135.3 254.8 138.6Z" fill="#6f7442" stroke="#6f7442"/><path d="M141 131.1 144.2 127.9 140.5 125.1 137.3 128.2Z" fill="#7f5748" stroke="#7f5748"/><path d="M96.3 150.1 98.5 147.8 94.7 144.7 92.5 147Z" fill="#6c6c40" stroke="#6c6c40"/><path d="M217.4 121.1 221 117.9 217.6 115 214 118.1Z" fill="#7f5349" stroke="#7f5349"/><path d="M168.4 123.6 171.8 120.3 168.1 117.5 164.7 120.7Z" fill="#7d5048" stroke="#7d5048"/><path d="M118.8 140.5 121.6 137.5 117.8 134.6 115 137.5Z" fill="#796045" stroke="#796045"/><path d="M227.5 123.9 231.1 120.7 227.9 117.7 224.3 120.9Z" fill="#82584a" stroke="#82584a"/><path d="M107.1 145.8 109.6 143.1 105.8 140.1 103.3 142.8Z" fill="#726742" stroke="#726742"/><path d="M240.3 129.9 243.9 126.6 240.9 123.6 237.3 126.8Z" fill="#806149" stroke="#806149"/><path d="M94.3 152.3 96.3 150.1 92.5 147 90.5 149.2Z" fill="#6a6e3f" stroke="#6a6e3f"/><path d="M210.4 121.4 214 118.1 210.6 115.2 207 118.4Z" fill="#7f5249" stroke="#7f5249"/><path d="M175.4 123.2 178.8 119.9 175.2 117.1 171.8 120.3Z" fill="#7d5048" stroke="#7d5048"/><path d="M128.2 137.5 131.2 134.4 127.4 131.6 124.5 134.6Z" fill="#7c5d47" stroke="#7c5d47"/><path d="M158.1 127.2 161.4 124 157.7 121.2 154.4 124.4Z" fill="#7f5349" stroke="#7f5349"/><path d="M138 134.3 141 131.1 137.3 128.2 134.2 131.3Z" fill="#7f5a48" stroke="#7f5a48"/><path d="M104.6 148.4 107.1 145.8 103.3 142.8 100.8 145.3Z" fill="#706a41" stroke="#706a41"/><path d="M147.9 130.8 151.1 127.6 147.4 124.8 144.2 127.9Z" fill="#805749" stroke="#805749"/><path d="M243.1 133 246.8 129.6 243.9 126.6 240.3 129.9Z" fill="#7e6548" stroke="#7e6548"/><path d="M203.5 121.7 207 118.4 203.6 115.5 200 118.7Z" fill="#7f5149" stroke="#7f5149"/><path d="M182.4 122.8 185.9 119.5 182.3 116.6 178.8 119.9Z" fill="#7e5049" stroke="#7e5049"/><path d="M116 143.4 118.8 140.5 115 137.5 112.2 140.3Z" fill="#776444" stroke="#776444"/><path d="M92.4 154.3 94.3 152.3 90.5 149.2 88.6 151.1Z" fill="#69703f" stroke="#69703f"/><path d="M262.5 156.5 266.2 152.9 265.1 151.4 261.4 155Z" fill="#517f38" stroke="#517f38"/><path d="M230.6 127 234.2 123.7 231.1 120.7 227.5 123.9Z" fill="#825c4a" stroke="#825c4a"/><path d="M220.7 124.2 224.3 120.9 221 117.9 217.4 121.1Z" fill="#82574a" stroke="#82574a"/><path d="M189.5 122.4 193 119.1 189.4 116.2 185.9 119.5Z" fill="#7e5049" stroke="#7e5049"/><path d="M196.5 122 200 118.7 196.5 115.9 193 119.1Z" fill="#7e5049" stroke="#7e5049"/><path d="M261.4 155 265.1 151.4 263.5 149.3 259.8 152.9Z" fill="#557e39" stroke="#557e39"/><path d="M245.9 136 249.6 132.7 246.8 129.6 243.1 133Z" fill="#7b6a47" stroke="#7b6a47"/><path d="M165 126.9 168.4 123.6 164.7 120.7 161.4 124Z" fill="#7f5349" stroke="#7f5349"/><path d="M90.9 156 92.4 154.3 88.6 151.1 87 152.8Z" fill="#67723e" stroke="#67723e"/><path d="M259.8 152.9 263.5 149.3 261.6 146.9 257.9 150.4Z" fill="#5c7d3c" stroke="#5c7d3c"/><path d="M125.3 140.5 128.2 137.5 124.5 134.6 121.6 137.5Z" fill="#7c6047" stroke="#7c6047"/><path d="M102.3 150.9 104.6 148.4 100.8 145.3 98.5 147.8Z" fill="#6f6d41" stroke="#6f6d41"/><path d="M248.6 139.1 252.2 135.7 249.6 132.7 245.9 136Z" fill="#776f45" stroke="#776f45"/><path d="M257.9 150.4 261.6 146.9 259.5 144.3 255.8 147.8Z" fill="#647c3f" stroke="#647c3f"/><path d="M113.4 146.2 116 143.4 112.2 140.3 109.6 143.1Z" fill="#756744" stroke="#756744"/><path d="M255.8 147.8 259.5 144.3 257.2 141.5 253.6 145Z" fill="#6b7a41" stroke="#6b7a41"/><path d="M89.8 157.2 90.9 156 87 152.8 86 153.9Z" fill="#66733e" stroke="#66733e"/><path d="M251.1 142.1 254.8 138.6 252.2 135.7 248.6 139.1Z" fill="#737344" stroke="#737344"/><path d="M253.6 145 257.2 141.5 254.8 138.6 251.1 142.1Z" fill="#6f7743" stroke="#6f7743"/><path d="M233.7 130.1 237.3 126.8 234.2 123.7 230.6 127Z" fill="#825f4a" stroke="#825f4a"/><path d="M213.8 124.4 217.4 121.1 214 118.1 210.4 121.4Z" fill="#82554a" stroke="#82554a"/><path d="M154.8 130.5 158.1 127.2 154.4 124.4 151.1 127.6Z" fill="#815649" stroke="#815649"/><path d="M134.9 137.4 138 134.3 134.2 131.3 131.2 134.4Z" fill="#7e5c48" stroke="#7e5c48"/><path d="M172 126.5 175.4 123.2 171.8 120.3 168.4 123.6Z" fill="#805349" stroke="#805349"/><path d="M144.8 134 147.9 130.8 144.2 127.9 141 131.1Z" fill="#805949" stroke="#805949"/><path d="M100.1 153.3 102.3 150.9 98.5 147.8 96.3 150.1Z" fill="#6d6f40" stroke="#6d6f40"/><path d="M223.9 127.2 227.5 123.9 224.3 120.9 220.7 124.2Z" fill="#845a4b" stroke="#845a4b"/><path d="M122.5 143.5 125.3 140.5 121.6 137.5 118.8 140.5Z" fill="#7a6346" stroke="#7a6346"/><path d="M206.9 124.7 210.4 121.4 207 118.4 203.5 121.7Z" fill="#82554a" stroke="#82554a"/><path d="M110.8 148.9 113.4 146.2 109.6 143.1 107.1 145.8Z" fill="#736b43" stroke="#736b43"/><path d="M236.6 133.2 240.3 129.9 237.3 126.8 233.7 130.1Z" fill="#81634a" stroke="#81634a"/><path d="M179 126.1 182.4 122.8 178.8 119.9 175.4 123.2Z" fill="#80534a" stroke="#80534a"/><path d="M98.1 155.5 100.1 153.3 96.3 150.1 94.3 152.3Z" fill="#6b7140" stroke="#6b7140"/><path d="M258.9 160.1 262.5 156.5 261.4 155 257.8 158.7Z" fill="#508038" stroke="#508038"/><path d="M199.9 125 203.5 121.7 200 118.7 196.5 122Z" fill="#81544a" stroke="#81544a"/><path d="M161.7 130.2 165 126.9 161.4 124 158.1 127.2Z" fill="#82564a" stroke="#82564a"/><path d="M186 125.7 189.5 122.4 185.9 119.5 182.4 122.8Z" fill="#81534a" stroke="#81534a"/><path d="M193 125.4 196.5 122 193 119.1 189.5 122.4Z" fill="#81534a" stroke="#81534a"/><path d="M132 140.5 134.9 137.4 131.2 134.4 128.2 137.5Z" fill="#7e5f48" stroke="#7e5f48"/><path d="M257.8 158.7 261.4 155 259.8 152.9 256.2 156.5Z" fill="#548039" stroke="#548039"/><path d="M239.5 136.4 243.1 133 240.3 129.9 236.6 133.2Z" fill="#7e6848" stroke="#7e6848"/><path d="M217.1 127.5 220.7 124.2 217.4 121.1 213.8 124.4Z" fill="#85594b" stroke="#85594b"/><path d="M227 130.4 230.6 127 227.5 123.9 223.9 127.2Z" fill="#835e4b" stroke="#835e4b"/><path d="M151.6 133.8 154.8 130.5 151.1 127.6 147.9 130.8Z" fill="#82594a" stroke="#82594a"/><path d="M141.7 137.3 144.8 134 141 131.1 138 134.3Z" fill="#805c49" stroke="#805c49"/><path d="M108.4 151.6 110.8 148.9 107.1 145.8 104.6 148.4Z" fill="#716d42" stroke="#716d42"/><path d="M96.2 157.5 98.1 155.5 94.3 152.3 92.4 154.3Z" fill="#69733f" stroke="#69733f"/><path d="M119.8 146.5 122.5 143.5 118.8 140.5 116 143.4Z" fill="#786745" stroke="#786745"/><path d="M256.2 156.5 259.8 152.9 257.9 150.4 254.3 154Z" fill="#5a7f3b" stroke="#5a7f3b"/><path d="M242.3 139.5 245.9 136 243.1 133 239.5 136.4Z" fill="#7b6d47" stroke="#7b6d47"/><path d="M254.3 154 257.9 150.4 255.8 147.8 252.2 151.4Z" fill="#627e3e" stroke="#627e3e"/><path d="M168.7 129.8 172 126.5 168.4 123.6 165 126.9Z" fill="#82564a" stroke="#82564a"/><path d="M245 142.5 248.6 139.1 245.9 136 242.3 139.5Z" fill="#777245" stroke="#777245"/><path d="M94.7 159.3 96.2 157.5 92.4 154.3 90.9 156Z" fill="#67753f" stroke="#67753f"/><path d="M252.2 151.4 255.8 147.8 253.6 145 249.9 148.5Z" fill="#6a7c41" stroke="#6a7c41"/><path d="M247.5 145.6 251.1 142.1 248.6 139.1 245 142.5Z" fill="#737544" stroke="#737544"/><path d="M249.9 148.5 253.6 145 251.1 142.1 247.5 145.6Z" fill="#6f7943" stroke="#6f7943"/><path d="M210.2 127.8 213.8 124.4 210.4 121.4 206.9 124.7Z" fill="#84584b" stroke="#84584b"/><path d="M106.1 154.1 108.4 151.6 104.6 148.4 102.3 150.9Z" fill="#6f6f41" stroke="#6f6f41"/><path d="M129.1 143.6 132 140.5 128.2 137.5 125.3 140.5Z" fill="#7d6347" stroke="#7d6347"/><path d="M230.1 133.5 233.7 130.1 230.6 127 227 130.4Z" fill="#83624b" stroke="#83624b"/><path d="M93.6 160.5 94.7 159.3 90.9 156 89.8 157.2Z" fill="#64763e" stroke="#64763e"/><path d="M117.1 149.3 119.8 146.5 116 143.4 113.4 146.2Z" fill="#766a44" stroke="#766a44"/><path d="M175.6 129.5 179 126.1 175.4 123.2 172 126.5Z" fill="#82564b" stroke="#82564b"/><path d="M158.5 133.5 161.7 130.2 158.1 127.2 154.8 130.5Z" fill="#83594b" stroke="#83594b"/><path d="M220.3 130.6 223.9 127.2 220.7 124.2 217.1 127.5Z" fill="#855d4c" stroke="#855d4c"/><path d="M138.6 140.5 141.7 137.3 138 134.3 134.9 137.4Z" fill="#805f49" stroke="#805f49"/><path d="M203.3 128.1 206.9 124.7 203.5 121.7 199.9 125Z" fill="#84574b" stroke="#84574b"/><path d="M148.4 137.1 151.6 133.8 147.9 130.8 144.8 134Z" fill="#825c4a" stroke="#825c4a"/><path d="M255.3 163.9 258.9 160.1 257.8 158.7 254.2 162.4Z" fill="#4e8238" stroke="#4e8238"/><path d="M103.9 156.6 106.1 154.1 102.3 150.9 100.1 153.3Z" fill="#6d7241" stroke="#6d7241"/><path d="M182.5 129.1 186 125.7 182.4 122.8 179 126.1Z" fill="#83564b" stroke="#83564b"/><path d="M196.4 128.4 199.9 125 196.5 122 193 125.4Z" fill="#84574b" stroke="#84574b"/><path d="M233 136.7 236.6 133.2 233.7 130.1 230.1 133.5Z" fill="#82664a" stroke="#82664a"/><path d="M189.5 128.8 193 125.4 189.5 122.4 186 125.7Z" fill="#83564b" stroke="#83564b"/><path d="M254.2 162.4 257.8 158.7 256.2 156.5 252.6 160.2Z" fill="#528139" stroke="#528139"/><path d="M126.3 146.7 129.1 143.6 125.3 140.5 122.5 143.5Z" fill="#7a6646" stroke="#7a6646"/><path d="M114.6 152.1 117.1 149.3 113.4 146.2 110.8 148.9Z" fill="#736d43" stroke="#736d43"/><path d="M165.3 133.2 168.7 129.8 165 126.9 161.7 130.2Z" fill="#84594b" stroke="#84594b"/><path d="M101.8 158.8 103.9 156.6 100.1 153.3 98.1 155.5Z" fill="#6a7440" stroke="#6a7440"/><path d="M252.6 160.2 256.2 156.5 254.3 154 250.7 157.7Z" fill="#57813a" stroke="#57813a"/><path d="M213.5 130.9 217.1 127.5 213.8 124.4 210.2 127.8Z" fill="#865c4c" stroke="#865c4c"/><path d="M235.9 139.9 239.5 136.4 236.6 133.2 233 136.7Z" fill="#7e6b49" stroke="#7e6b49"/><path d="M223.4 133.8 227 130.4 223.9 127.2 220.3 130.6Z" fill="#84604b" stroke="#84604b"/><path d="M135.7 143.6 138.6 140.5 134.9 137.4 132 140.5Z" fill="#7f6249" stroke="#7f6249"/><path d="M250.7 157.7 254.3 154 252.2 151.4 248.6 155Z" fill="#5f803d" stroke="#5f803d"/><path d="M178.7 262.6 179.8 261.1 178.7 259.3 177.6 260.9Z" fill="#16239c" stroke="#16239c"/><path d="M155.3 136.9 158.5 133.5 154.8 130.5 151.6 133.8Z" fill="#835c4b" stroke="#835c4b"/><path d="M238.7 143 242.3 139.5 239.5 136.4 235.9 139.9Z" fill="#7b7047" stroke="#7b7047"/><path d="M145.4 140.4 148.4 137.1 144.8 134 141.7 137.3Z" fill="#815f4a" stroke="#815f4a"/><path d="M100 160.9 101.8 158.8 98.1 155.5 96.2 157.5Z" fill="#687640" stroke="#687640"/><path d="M112.1 154.8 114.6 152.1 110.8 148.9 108.4 151.6Z" fill="#717042" stroke="#717042"/><path d="M248.6 155 252.2 151.4 249.9 148.5 246.3 152.2Z" fill="#677e40" stroke="#677e40"/><path d="M172.2 132.9 175.6 129.5 172 126.5 168.7 129.8Z" fill="#85594c" stroke="#85594c"/><path d="M123.5 149.7 126.3 146.7 122.5 143.5 119.8 146.5Z" fill="#786a45" stroke="#786a45"/><path d="M241.4 146.1 245 142.5 242.3 139.5 238.7 143Z" fill="#777446" stroke="#777446"/><path d="M246.3 152.2 249.9 148.5 247.5 145.6 243.9 149.2Z" fill="#6e7c43" stroke="#6e7c43"/><path d="M206.7 131.2 210.2 127.8 206.9 124.7 203.3 128.1Z" fill="#875b4c" stroke="#875b4c"/><path d="M243.9 149.2 247.5 145.6 245 142.5 241.4 146.1Z" fill="#737844" stroke="#737844"/><path d="M179.8 261.1 181.3 258.8 180.2 257.1 178.7 259.3Z" fill="#17289f" stroke="#17289f"/><path d="M98.4 162.6 100 160.9 96.2 157.5 94.7 159.3Z" fill="#65773e" stroke="#65773e"/><path d="M251.7 167.7 255.3 163.9 254.2 162.4 250.6 166.2Z" fill="#4b8338" stroke="#4b8338"/><path d="M226.5 137 230.1 133.5 227 130.4 223.4 133.8Z" fill="#84644b" stroke="#84644b"/><path d="M179.1 132.6 182.5 129.1 179 126.1 175.6 129.5Z" fill="#85594c" stroke="#85594c"/><path d="M109.8 157.4 112.1 154.8 108.4 151.6 106.1 154.1Z" fill="#6e7342" stroke="#6e7342"/><path d="M199.8 131.6 203.3 128.1 199.9 125 196.4 128.4Z" fill="#865a4c" stroke="#865a4c"/><path d="M132.8 146.8 135.7 143.6 132 140.5 129.1 143.6Z" fill="#7d6647" stroke="#7d6647"/><path d="M216.7 134.1 220.3 130.6 217.1 127.5 213.5 130.9Z" fill="#865f4c" stroke="#865f4c"/><path d="M97.4 163.9 98.4 162.6 94.7 159.3 93.6 160.5Z" fill="#62783d" stroke="#62783d"/><path d="M177.6 260.9 178.7 259.3 177 256.8 176 258.4Z" fill="#182aa0" stroke="#182aa0"/><path d="M162.1 136.6 165.3 133.2 161.7 130.2 158.5 133.5Z" fill="#845c4b" stroke="#845c4b"/><path d="M186 132.2 189.5 128.8 186 125.7 182.5 129.1Z" fill="#85594c" stroke="#85594c"/><path d="M250.6 166.2 254.2 162.4 252.6 160.2 249 164Z" fill="#4f8339" stroke="#4f8339"/><path d="M181.3 258.8 183.2 256.2 182 254.5 180.2 257.1Z" fill="#1a2ea3" stroke="#1a2ea3"/><path d="M192.9 131.9 196.4 128.4 193 125.4 189.5 128.8Z" fill="#865a4c" stroke="#865a4c"/><path d="M120.9 152.6 123.5 149.7 119.8 146.5 117.1 149.3Z" fill="#766e44" stroke="#766e44"/><path d="M142.3 143.6 145.4 140.4 141.7 137.3 138.6 140.5Z" fill="#816249" stroke="#816249"/><path d="M152.1 140.2 155.3 136.9 151.6 133.8 148.4 137.1Z" fill="#835f4a" stroke="#835f4a"/><path d="M229.4 140.2 233 136.7 230.1 133.5 226.5 137Z" fill="#81694a" stroke="#81694a"/><path d="M249 164 252.6 160.2 250.7 157.7 247.1 161.5Z" fill="#54823a" stroke="#54823a"/><path d="M178.7 259.3 180.2 257.1 178.6 254.6 177 256.8Z" fill="#1a2fa3" stroke="#1a2fa3"/><path d="M107.6 159.9 109.8 157.4 106.1 154.1 103.9 156.6Z" fill="#6c7541" stroke="#6c7541"/><path d="M183.2 256.2 185.2 253.3 184 251.6 182 254.5Z" fill="#1c35a7" stroke="#1c35a7"/><path d="M168.9 136.3 172.2 132.9 168.7 129.8 165.3 133.2Z" fill="#865c4c" stroke="#865c4c"/><path d="M209.9 134.4 213.5 130.9 210.2 127.8 206.7 131.2Z" fill="#865f4c" stroke="#865f4c"/><path d="M247.1 161.5 250.7 157.7 248.6 155 245 158.8Z" fill="#5b813c" stroke="#5b813c"/><path d="M130 149.9 132.8 146.8 129.1 143.6 126.3 146.7Z" fill="#7a6a46" stroke="#7a6a46"/><path d="M232.3 143.4 235.9 139.9 233 136.7 229.4 140.2Z" fill="#7e6e48" stroke="#7e6e48"/><path d="M118.3 155.4 120.9 152.6 117.1 149.3 114.6 152.1Z" fill="#737043" stroke="#737043"/><path d="M219.8 137.3 223.4 133.8 220.3 130.6 216.7 134.1Z" fill="#85634c" stroke="#85634c"/><path d="M180.2 257.1 182 254.5 180.4 252 178.6 254.6Z" fill="#1c35a7" stroke="#1c35a7"/><path d="M105.6 162.2 107.6 159.9 103.9 156.6 101.8 158.8Z" fill="#6a7740" stroke="#6a7740"/><path d="M245 158.8 248.6 155 246.3 152.2 242.7 155.9Z" fill="#64803f" stroke="#64803f"/><path d="M248.2 171.7 251.7 167.7 250.6 166.2 247.1 170.1Z" fill="#478437" stroke="#478437"/><path d="M235.1 146.6 238.7 143 235.9 139.9 232.3 143.4Z" fill="#7a7347" stroke="#7a7347"/><path d="M176 258.4 177 256.8 175.1 253.9 174.1 255.4Z" fill="#1b32a5" stroke="#1b32a5"/><path d="M242.7 155.9 246.3 152.2 243.9 149.2 240.3 152.9Z" fill="#6c7e42" stroke="#6c7e42"/><path d="M139.4 146.8 142.3 143.6 138.6 140.5 135.7 143.6Z" fill="#7f6649" stroke="#7f6649"/><path d="M158.9 140 162.1 136.6 158.5 133.5 155.3 136.9Z" fill="#845f4b" stroke="#845f4b"/><path d="M175.8 136 179.1 132.6 175.6 129.5 172.2 132.9Z" fill="#865c4c" stroke="#865c4c"/><path d="M185.2 253.3 187.3 250.2 186.2 248.5 184 251.6Z" fill="#1e3dac" stroke="#1e3dac"/><path d="M237.8 149.8 241.4 146.1 238.7 143 235.1 146.6Z" fill="#767745" stroke="#767745"/><path d="M203.2 134.8 206.7 131.2 203.3 128.1 199.8 131.6Z" fill="#875e4d" stroke="#875e4d"/><path d="M240.3 152.9 243.9 149.2 241.4 146.1 237.8 149.8Z" fill="#727b44" stroke="#727b44"/><path d="M149 143.5 152.1 140.2 148.4 137.1 145.4 140.4Z" fill="#82624a" stroke="#82624a"/><path d="M103.8 164.3 105.6 162.2 101.8 158.8 100 160.9Z" fill="#66793f" stroke="#66793f"/><path d="M247.1 170.1 250.6 166.2 249 164 245.5 167.9Z" fill="#4c8438" stroke="#4c8438"/><path d="M115.9 158.2 118.3 155.4 114.6 152.1 112.1 154.8Z" fill="#707343" stroke="#707343"/><path d="M182 254.5 184 251.6 182.4 249.1 180.4 252Z" fill="#1e3bac" stroke="#1e3bac"/><path d="M177 256.8 178.6 254.6 176.7 251.7 175.1 253.9Z" fill="#1c37a8" stroke="#1c37a8"/><path d="M182.6 135.7 186 132.2 182.5 129.1 179.1 132.6Z" fill="#875c4d" stroke="#875c4d"/><path d="M127.2 152.9 130 149.9 126.3 146.7 123.5 149.7Z" fill="#786e45" stroke="#786e45"/><path d="M196.3 135.1 199.8 131.6 196.4 128.4 192.9 131.9Z" fill="#875d4d" stroke="#875d4d"/><path d="M222.9 140.6 226.5 137 223.4 133.8 219.8 137.3Z" fill="#84674b" stroke="#84674b"/><path d="M189.5 135.4 192.9 131.9 189.5 128.8 186 132.2Z" fill="#875d4d" stroke="#875d4d"/><path d="M213.2 137.7 216.7 134.1 213.5 130.9 209.9 134.4Z" fill="#86624c" stroke="#86624c"/><path d="M102.2 166.1 103.8 164.3 100 160.9 98.4 162.6Z" fill="#62793d" stroke="#62793d"/><path d="M245.5 167.9 249 164 247.1 161.5 243.6 165.4Z" fill="#518339" stroke="#518339"/><path d="M187.3 250.2 189.6 246.9 188.5 245.2 186.2 248.5Z" fill="#214cac" stroke="#214cac"/><path d="M165.7 139.8 168.9 136.3 165.3 133.2 162.1 136.6Z" fill="#855f4c" stroke="#855f4c"/><path d="M113.6 160.8 115.9 158.2 112.1 154.8 109.8 157.4Z" fill="#6e7642" stroke="#6e7642"/><path d="M178.6 254.6 180.4 252 178.5 249 176.7 251.7Z" fill="#1e3dac" stroke="#1e3dac"/><path d="M101.1 167.3 102.2 166.1 98.4 162.6 97.4 163.9Z" fill="#5f7a3c" stroke="#5f7a3c"/><path d="M136.5 150 139.4 146.8 135.7 143.6 132.8 146.8Z" fill="#7c6a47" stroke="#7c6a47"/><path d="M184 251.6 186.2 248.5 184.6 246 182.4 249.1Z" fill="#2149ad" stroke="#2149ad"/><path d="M225.9 143.8 229.4 140.2 226.5 137 222.9 140.6Z" fill="#806c4a" stroke="#806c4a"/><path d="M243.6 165.4 247.1 161.5 245 158.8 241.5 162.6Z" fill="#56833b" stroke="#56833b"/><path d="M124.6 155.9 127.2 152.9 123.5 149.7 120.9 152.6Z" fill="#757144" stroke="#757144"/><path d="M244.7 175.6 248.2 171.7 247.1 170.1 243.5 174.1Z" fill="#438537" stroke="#438537"/><path d="M155.7 143.4 158.9 140 155.3 136.9 152.1 140.2Z" fill="#83624b" stroke="#83624b"/><path d="M174.1 255.4 175.1 253.9 173 250.7 171.9 252.2Z" fill="#1e3bab" stroke="#1e3bab"/><path d="M146 146.8 149 143.5 145.4 140.4 142.3 143.6Z" fill="#81654a" stroke="#81654a"/><path d="M206.4 138 209.9 134.4 206.7 131.2 203.2 134.8Z" fill="#87614d" stroke="#87614d"/><path d="M189.6 246.9 192 243.5 190.9 241.8 188.5 245.2Z" fill="#255dac" stroke="#255dac"/><path d="M241.5 162.6 245 158.8 242.7 155.9 239.2 159.7Z" fill="#5f823e" stroke="#5f823e"/><path d="M111.4 163.3 113.6 160.8 109.8 157.4 107.6 159.9Z" fill="#6b7841" stroke="#6b7841"/><path d="M172.5 139.5 175.8 136 172.2 132.9 168.9 136.3Z" fill="#865f4c" stroke="#865f4c"/><path d="M228.7 147.1 232.3 143.4 229.4 140.2 225.9 143.8Z" fill="#7d7248" stroke="#7d7248"/><path d="M180.4 252 182.4 249.1 180.5 246.2 178.5 249Z" fill="#214aac" stroke="#214aac"/><path d="M216.3 140.9 219.8 137.3 216.7 134.1 213.2 137.7Z" fill="#85664c" stroke="#85664c"/><path d="M243.5 174.1 247.1 170.1 245.5 167.9 241.9 171.9Z" fill="#488538" stroke="#488538"/><path d="M186.2 248.5 188.5 245.2 186.9 242.7 184.6 246Z" fill="#2459ac" stroke="#2459ac"/><path d="M175.1 253.9 176.7 251.7 174.5 248.5 173 250.7Z" fill="#1f42ad" stroke="#1f42ad"/><path d="M239.2 159.7 242.7 155.9 240.3 152.9 236.8 156.6Z" fill="#688041" stroke="#688041"/><path d="M231.5 150.3 235.1 146.6 232.3 143.4 228.7 147.1Z" fill="#797647" stroke="#797647"/><path d="M133.7 153.2 136.5 150 132.8 146.8 130 149.9Z" fill="#7a6e46" stroke="#7a6e46"/><path d="M199.7 138.3 203.2 134.8 199.8 131.6 196.3 135.1Z" fill="#87614d" stroke="#87614d"/><path d="M236.8 156.6 240.3 152.9 237.8 149.8 234.2 153.5Z" fill="#707e44" stroke="#707e44"/><path d="M122 158.8 124.6 155.9 120.9 152.6 118.3 155.4Z" fill="#727443" stroke="#727443"/><path d="M234.2 153.5 237.8 149.8 235.1 146.6 231.5 150.3Z" fill="#747a45" stroke="#747a45"/><path d="M179.3 139.2 182.6 135.7 179.1 132.6 175.8 136Z" fill="#875f4d" stroke="#875f4d"/><path d="M109.3 165.7 111.4 163.3 107.6 159.9 105.6 162.2Z" fill="#677a40" stroke="#677a40"/><path d="M241.9 171.9 245.5 167.9 243.6 165.4 240 169.3Z" fill="#4d8539" stroke="#4d8539"/><path d="M192 243.5 194.5 239.9 193.4 238.2 190.9 241.8Z" fill="#286eac" stroke="#286eac"/><path d="M192.9 138.6 196.3 135.1 192.9 131.9 189.5 135.4Z" fill="#87604d" stroke="#87604d"/><path d="M162.5 143.2 165.7 139.8 162.1 136.6 158.9 140Z" fill="#85624c" stroke="#85624c"/><path d="M186.1 138.9 189.5 135.4 186 132.2 182.6 135.7Z" fill="#87604d" stroke="#87604d"/><path d="M182.4 249.1 184.6 246 182.6 243.1 180.5 246.2Z" fill="#2459ac" stroke="#2459ac"/><path d="M176.7 251.7 178.5 249 176.3 245.9 174.5 248.5Z" fill="#224eac" stroke="#224eac"/><path d="M143 150.1 146 146.8 142.3 143.6 139.4 146.8Z" fill="#7e6a48" stroke="#7e6a48"/><path d="M241.2 179.6 244.7 175.6 243.5 174.1 240 178.1Z" fill="#408636" stroke="#408636"/><path d="M188.5 245.2 190.9 241.8 189.3 239.3 186.9 242.7Z" fill="#276aac" stroke="#276aac"/><path d="M219.3 144.2 222.9 140.6 219.8 137.3 216.3 140.9Z" fill="#836b4b" stroke="#836b4b"/><path d="M152.6 146.8 155.7 143.4 152.1 140.2 149 143.5Z" fill="#83654b" stroke="#83654b"/><path d="M107.5 167.8 109.3 165.7 105.6 162.2 103.8 164.3Z" fill="#627b3e" stroke="#627b3e"/><path d="M209.6 141.3 213.2 137.7 209.9 134.4 206.4 138Z" fill="#86654c" stroke="#86654c"/><path d="M119.6 161.6 122 158.8 118.3 155.4 115.9 158.2Z" fill="#6f7643" stroke="#6f7643"/><path d="M240 169.3 243.6 165.4 241.5 162.6 237.9 166.5Z" fill="#53843a" stroke="#53843a"/><path d="M130.9 156.3 133.7 153.2 130 149.9 127.2 152.9Z" fill="#777145" stroke="#777145"/><path d="M171.9 252.2 173 250.7 170.7 247.3 169.6 248.8Z" fill="#214cac" stroke="#214cac"/><path d="M194.5 239.9 197.2 236.2 196.1 234.5 193.4 238.2Z" fill="#2c7ca6" stroke="#2c7ca6"/><path d="M240 178.1 243.5 174.1 241.9 171.9 238.4 175.8Z" fill="#438637" stroke="#438637"/><path d="M106 169.6 107.5 167.8 103.8 164.3 102.2 166.1Z" fill="#5e7b3c" stroke="#5e7b3c"/><path d="M184.6 246 186.9 242.7 184.9 239.8 182.6 243.1Z" fill="#2769ac" stroke="#2769ac"/><path d="M178.5 249 180.5 246.2 178.4 243 176.3 245.9Z" fill="#255cac" stroke="#255cac"/><path d="M169.2 143 172.5 139.5 168.9 136.3 165.7 139.8Z" fill="#85624c" stroke="#85624c"/><path d="M222.3 147.5 225.9 143.8 222.9 140.6 219.3 144.2Z" fill="#7f7049" stroke="#7f7049"/><path d="M237.9 166.5 241.5 162.6 239.2 159.7 235.6 163.5Z" fill="#5a833c" stroke="#5a833c"/><path d="M190.9 241.8 193.4 238.2 191.8 235.7 189.3 239.3Z" fill="#2b78a8" stroke="#2b78a8"/><path d="M173 250.7 174.5 248.5 172.2 245.1 170.7 247.3Z" fill="#2356ac" stroke="#2356ac"/><path d="M104.9 170.9 106 169.6 102.2 166.1 101.1 167.3Z" fill="#5b7c3b" stroke="#5b7c3b"/><path d="M117.3 164.3 119.6 161.6 115.9 158.2 113.6 160.8Z" fill="#6c7942" stroke="#6c7942"/><path d="M203 141.6 206.4 138 203.2 134.8 199.7 138.3Z" fill="#86644d" stroke="#86644d"/><path d="M140.1 153.4 143 150.1 139.4 146.8 136.5 150Z" fill="#7b6e47" stroke="#7b6e47"/><path d="M235.6 163.5 239.2 159.7 236.8 156.6 233.2 160.5Z" fill="#63823f" stroke="#63823f"/><path d="M237.7 183.7 241.2 179.6 240 178.1 236.6 182.1Z" fill="#3f8737" stroke="#3f8737"/><path d="M238.4 175.8 241.9 171.9 240 169.3 236.5 173.3Z" fill="#498638" stroke="#498638"/><path d="M225.2 150.8 228.7 147.1 225.9 143.8 222.3 147.5Z" fill="#7b7547" stroke="#7b7547"/><path d="M159.3 146.7 162.5 143.2 158.9 140 155.7 143.4Z" fill="#84654b" stroke="#84654b"/><path d="M176 142.8 179.3 139.2 175.8 136 172.5 139.5Z" fill="#86634c" stroke="#86634c"/><path d="M197.2 236.2 199.9 232.4 198.8 230.8 196.1 234.5Z" fill="#2f8a9e" stroke="#2f8a9e"/><path d="M128.3 159.3 130.9 156.3 127.2 152.9 124.6 155.9Z" fill="#747444" stroke="#747444"/><path d="M212.8 144.6 216.3 140.9 213.2 137.7 209.6 141.3Z" fill="#84694c" stroke="#84694c"/><path d="M149.6 150.1 152.6 146.8 149 143.5 146 146.8Z" fill="#806949" stroke="#806949"/><path d="M180.5 246.2 182.6 243.1 180.5 239.9 178.4 243Z" fill="#286bac" stroke="#286bac"/><path d="M186.9 242.7 189.3 239.3 187.4 236.4 184.9 239.8Z" fill="#2a78a8" stroke="#2a78a8"/><path d="M233.2 160.5 236.8 156.6 234.2 153.5 230.7 157.3Z" fill="#6c8043" stroke="#6c8043"/><path d="M196.2 141.9 199.7 138.3 196.3 135.1 192.9 138.6Z" fill="#87644d" stroke="#87644d"/><path d="M228 154.1 231.5 150.3 228.7 147.1 225.2 150.8Z" fill="#777946" stroke="#777946"/><path d="M230.7 157.3 234.2 153.5 231.5 150.3 228 154.1Z" fill="#727d45" stroke="#727d45"/><path d="M174.5 248.5 176.3 245.9 174 242.5 172.2 245.1Z" fill="#2662ac" stroke="#2662ac"/><path d="M115.1 166.8 117.3 164.3 113.6 160.8 111.4 163.3Z" fill="#687b40" stroke="#687b40"/><path d="M193.4 238.2 196.1 234.5 194.4 232.1 191.8 235.7Z" fill="#2e86a0" stroke="#2e86a0"/><path d="M182.7 142.5 186.1 138.9 182.6 135.7 179.3 139.2Z" fill="#87634d" stroke="#87634d"/><path d="M189.5 142.2 192.9 138.6 189.5 135.4 186.1 138.9Z" fill="#87634d" stroke="#87634d"/><path d="M236.6 182.1 240 178.1 238.4 175.8 235 179.9Z" fill="#408736" stroke="#408736"/><path d="M236.5 173.3 240 169.3 237.9 166.5 234.4 170.4Z" fill="#4f8539" stroke="#4f8539"/><path d="M199.9 232.4 202.7 228.6 201.6 226.9 198.8 230.8Z" fill="#329796" stroke="#329796"/><path d="M137.3 156.6 140.1 153.4 136.5 150 133.7 153.2Z" fill="#787246" stroke="#787246"/><path d="M125.7 162.3 128.3 159.3 124.6 155.9 122 158.8Z" fill="#717743" stroke="#717743"/><path d="M169.6 248.8 170.7 247.3 168.2 243.7 167.2 245.2Z" fill="#2661ac" stroke="#2661ac"/><path d="M166 146.5 169.2 143 165.7 139.8 162.5 143.2Z" fill="#85654c" stroke="#85654c"/><path d="M113.1 169.2 115.1 166.8 111.4 163.3 109.3 165.7Z" fill="#637c3e" stroke="#637c3e"/><path d="M182.6 243.1 184.9 239.8 182.8 236.7 180.5 239.9Z" fill="#2b79a7" stroke="#2b79a7"/><path d="M215.8 147.9 219.3 144.2 216.3 140.9 212.8 144.6Z" fill="#816e4a" stroke="#816e4a"/><path d="M234.2 187.8 237.7 183.7 236.6 182.1 233.1 186.2Z" fill="#3f8937" stroke="#3f8937"/><path d="M189.3 239.3 191.8 235.7 189.9 232.9 187.4 236.4Z" fill="#2e85a1" stroke="#2e85a1"/><path d="M176.3 245.9 178.4 243 176.1 239.6 174 242.5Z" fill="#2970ac" stroke="#2970ac"/><path d="M206.2 144.9 209.6 141.3 206.4 138 203 141.6Z" fill="#86684c" stroke="#86684c"/><path d="M196.1 234.5 198.8 230.8 197.1 228.3 194.4 232.1Z" fill="#329499" stroke="#329499"/><path d="M234.4 170.4 237.9 166.5 235.6 163.5 232.1 167.5Z" fill="#55853b" stroke="#55853b"/><path d="M146.6 153.5 149.6 150.1 146 146.8 143 150.1Z" fill="#7d6e48" stroke="#7d6e48"/><path d="M235 179.9 238.4 175.8 236.5 173.3 233.1 177.3Z" fill="#448737" stroke="#448737"/><path d="M156.2 150.1 159.3 146.7 155.7 143.4 152.6 146.8Z" fill="#81694a" stroke="#81694a"/><path d="M202.7 228.6 205.6 224.7 204.4 223 201.6 226.9Z" fill="#329481" stroke="#329481"/><path d="M111.2 171.4 113.1 169.2 109.3 165.7 107.5 167.8Z" fill="#5e7d3c" stroke="#5e7d3c"/><path d="M170.7 247.3 172.2 245.1 169.8 241.5 168.2 243.7Z" fill="#276aac" stroke="#276aac"/><path d="M123.3 165.1 125.7 162.3 122 158.8 119.6 161.6Z" fill="#6e7a42" stroke="#6e7a42"/><path d="M218.8 151.3 222.3 147.5 219.3 144.2 215.8 147.9Z" fill="#7d7448" stroke="#7d7448"/><path d="M233.1 186.2 236.6 182.1 235 179.9 231.5 183.9Z" fill="#3f8837" stroke="#3f8837"/><path d="M172.7 146.3 176 142.8 172.5 139.5 169.2 143Z" fill="#85664c" stroke="#85664c"/><path d="M232.1 167.5 235.6 163.5 233.2 160.5 229.7 164.3Z" fill="#5d833d" stroke="#5d833d"/><path d="M184.9 239.8 187.4 236.4 185.2 233.3 182.8 236.7Z" fill="#2e86a1" stroke="#2e86a1"/><path d="M134.6 159.7 137.3 156.6 133.7 153.2 130.9 156.3Z" fill="#757545" stroke="#757545"/><path d="M191.8 235.7 194.4 232.1 192.5 229.2 189.9 232.9Z" fill="#31939a" stroke="#31939a"/><path d="M230.9 191.9 234.2 187.8 233.1 186.2 229.7 190.3Z" fill="#3e8a38" stroke="#3e8a38"/><path d="M199.5 145.3 203 141.6 199.7 138.3 196.2 141.9Z" fill="#86674d" stroke="#86674d"/><path d="M178.4 243 180.5 239.9 178.2 236.6 176.1 239.6Z" fill="#2b7ba6" stroke="#2b7ba6"/><path d="M198.8 230.8 201.6 226.9 199.9 224.5 197.1 228.3Z" fill="#329588" stroke="#329588"/><path d="M109.7 173.2 111.2 171.4 107.5 167.8 106 169.6Z" fill="#597e3b" stroke="#597e3b"/><path d="M205.6 224.7 208.5 220.7 207.4 219 204.4 223Z" fill="#32906d" stroke="#32906d"/><path d="M233.1 177.3 236.5 173.3 234.4 170.4 230.9 174.4Z" fill="#4a8638" stroke="#4a8638"/><path d="M221.7 154.6 225.2 150.8 222.3 147.5 218.8 151.3Z" fill="#797847" stroke="#797847"/><path d="M229.7 164.3 233.2 160.5 230.7 157.3 227.2 161.2Z" fill="#678241" stroke="#678241"/><path d="M172.2 245.1 174 242.5 171.6 238.9 169.8 241.5Z" fill="#2a75a9" stroke="#2a75a9"/><path d="M179.4 146.1 182.7 142.5 179.3 139.2 176 142.8Z" fill="#86664c" stroke="#86664c"/><path d="M209.3 148.3 212.8 144.6 209.6 141.3 206.2 144.9Z" fill="#826d4b" stroke="#826d4b"/><path d="M108.6 174.5 109.7 173.2 106 169.6 104.9 170.9Z" fill="#567e39" stroke="#567e39"/><path d="M192.8 145.6 196.2 141.9 192.9 138.6 189.5 142.2Z" fill="#86674d" stroke="#86674d"/><path d="M227.2 161.2 230.7 157.3 228 154.1 224.5 157.9Z" fill="#708044" stroke="#708044"/><path d="M224.5 157.9 228 154.1 225.2 150.8 221.7 154.6Z" fill="#747c46" stroke="#747c46"/><path d="M121 167.8 123.3 165.1 119.6 161.6 117.3 164.3Z" fill="#697c41" stroke="#697c41"/><path d="M186.1 145.9 189.5 142.2 186.1 138.9 182.7 142.5Z" fill="#86664d" stroke="#86664d"/><path d="M143.7 156.8 146.6 153.5 143 150.1 140.1 153.4Z" fill="#7a7247" stroke="#7a7247"/><path d="M162.9 150 166 146.5 162.5 143.2 159.3 146.7Z" fill="#83694b" stroke="#83694b"/><path d="M227.5 196.1 230.9 191.9 229.7 190.3 226.4 194.5Z" fill="#3e8b38" stroke="#3e8b38"/><path d="M231.5 183.9 235 179.9 233.1 177.3 229.6 181.3Z" fill="#408737" stroke="#408737"/><path d="M208.5 220.7 211.5 216.6 210.4 215 207.4 219Z" fill="#348e5d" stroke="#348e5d"/><path d="M201.6 226.9 204.4 223 202.8 220.6 199.9 224.5Z" fill="#329174" stroke="#329174"/><path d="M229.7 190.3 233.1 186.2 231.5 183.9 228.1 188Z" fill="#3f8937" stroke="#3f8937"/><path d="M194.4 232.1 197.1 228.3 195.2 225.5 192.5 229.2Z" fill="#32958b" stroke="#32958b"/><path d="M187.4 236.4 189.9 232.9 187.8 229.8 185.2 233.3Z" fill="#31939a" stroke="#31939a"/><path d="M153.2 153.5 156.2 150.1 152.6 146.8 149.6 150.1Z" fill="#7e6e49" stroke="#7e6e49"/><path d="M180.5 239.9 182.8 236.7 180.5 233.3 178.2 236.6Z" fill="#2e88a0" stroke="#2e88a0"/><path d="M131.9 162.8 134.6 159.7 130.9 156.3 128.3 159.3Z" fill="#727744" stroke="#727744"/><path d="M230.9 174.4 234.4 170.4 232.1 167.5 228.7 171.4Z" fill="#51863a" stroke="#51863a"/><path d="M167.2 245.2 168.2 243.7 165.7 240 164.6 241.5Z" fill="#2a74a9" stroke="#2a74a9"/><path d="M174 242.5 176.1 239.6 173.6 236.1 171.6 238.9Z" fill="#2c80a4" stroke="#2c80a4"/><path d="M224.2 200.2 227.5 196.1 226.4 194.5 223.1 198.6Z" fill="#3d8b39" stroke="#3d8b39"/><path d="M211.5 216.6 214.6 212.6 213.5 210.9 210.4 215Z" fill="#368e52" stroke="#368e52"/><path d="M118.8 170.4 121 167.8 117.3 164.3 115.1 166.8Z" fill="#647d3f" stroke="#647d3f"/><path d="M212.4 151.7 215.8 147.9 212.8 144.6 209.3 148.3Z" fill="#7f7349" stroke="#7f7349"/><path d="M204.4 223 207.4 219 205.8 216.6 202.8 220.6Z" fill="#338f61" stroke="#338f61"/><path d="M214.6 212.6 217.8 208.5 216.6 206.8 213.5 210.9Z" fill="#398e46" stroke="#398e46"/><path d="M221 204.3 224.2 200.2 223.1 198.6 219.8 202.7Z" fill="#3c8c39" stroke="#3c8c39"/><path d="M202.7 148.6 206.2 144.9 203 141.6 199.5 145.3Z" fill="#846c4b" stroke="#846c4b"/><path d="M217.8 208.5 221 204.3 219.8 202.7 216.6 206.8Z" fill="#3b8d3b" stroke="#3b8d3b"/><path d="M226.4 194.5 229.7 190.3 228.1 188 224.8 192.1Z" fill="#3e8a38" stroke="#3e8a38"/><path d="M169.5 149.9 172.7 146.3 169.2 143 166 146.5Z" fill="#84694b" stroke="#84694b"/><path d="M197.1 228.3 199.9 224.5 198 221.7 195.2 225.5Z" fill="#329276" stroke="#329276"/><path d="M168.2 243.7 169.8 241.5 167.2 237.8 165.7 240Z" fill="#2c7ca5" stroke="#2c7ca5"/><path d="M229.6 181.3 233.1 177.3 230.9 174.4 227.5 178.4Z" fill="#458737" stroke="#458737"/><path d="M228.7 171.4 232.1 167.5 229.7 164.3 226.2 168.3Z" fill="#57853b" stroke="#57853b"/><path d="M189.9 232.9 192.5 229.2 190.4 226.1 187.8 229.8Z" fill="#32958b" stroke="#32958b"/><path d="M140.9 160 143.7 156.8 140.1 153.4 137.3 156.6Z" fill="#777546" stroke="#777546"/><path d="M228.1 188 231.5 183.9 229.6 181.3 226.2 185.4Z" fill="#408837" stroke="#408837"/><path d="M182.8 236.7 185.2 233.3 182.9 230 180.5 233.3Z" fill="#329499" stroke="#329499"/><path d="M129.4 165.8 131.9 162.8 128.3 159.3 125.7 162.3Z" fill="#6f7a43" stroke="#6f7a43"/><path d="M116.8 172.8 118.8 170.4 115.1 166.8 113.1 169.2Z" fill="#5e7e3d" stroke="#5e7e3d"/><path d="M207.4 219 210.4 215 208.8 212.6 205.8 216.6Z" fill="#368e55" stroke="#368e55"/><path d="M176.1 239.6 178.2 236.6 175.8 233.1 173.6 236.1Z" fill="#2f8b9e" stroke="#2f8b9e"/><path d="M215.3 155 218.8 151.3 215.8 147.9 212.4 151.7Z" fill="#7b7748" stroke="#7b7748"/><path d="M223.1 198.6 226.4 194.5 224.8 192.1 221.5 196.3Z" fill="#3e8b38" stroke="#3e8b38"/><path d="M196.1 149 199.5 145.3 196.2 141.9 192.8 145.6Z" fill="#846b4c" stroke="#846b4c"/><path d="M159.8 153.5 162.9 150 159.3 146.7 156.2 150.1Z" fill="#806e49" stroke="#806e49"/><path d="M150.2 156.9 153.2 153.5 149.6 150.1 146.6 153.5Z" fill="#7b7247" stroke="#7b7247"/><path d="M176.2 149.7 179.4 146.1 176 142.8 172.7 146.3Z" fill="#846a4c" stroke="#846a4c"/><path d="M226.2 168.3 229.7 164.3 227.2 161.2 223.7 165Z" fill="#60843e" stroke="#60843e"/><path d="M199.9 224.5 202.8 220.6 200.9 217.8 198 221.7Z" fill="#338f63" stroke="#338f63"/><path d="M210.4 215 213.5 210.9 211.9 208.5 208.8 212.6Z" fill="#388e4a" stroke="#388e4a"/><path d="M114.9 175 116.8 172.8 113.1 169.2 111.2 171.4Z" fill="#597f3b" stroke="#597f3b"/><path d="M169.8 241.5 171.6 238.9 169 235.3 167.2 237.8Z" fill="#2e85a1" stroke="#2e85a1"/><path d="M219.8 202.7 223.1 198.6 221.5 196.3 218.2 200.4Z" fill="#3d8c39" stroke="#3d8c39"/><path d="M218.2 158.4 221.7 154.6 218.8 151.3 215.3 155Z" fill="#767b46" stroke="#767b46"/><path d="M213.5 210.9 216.6 206.8 215 204.5 211.9 208.5Z" fill="#3b8d3e" stroke="#3b8d3e"/><path d="M189.5 149.2 192.8 145.6 189.5 142.2 186.1 145.9Z" fill="#856b4c" stroke="#856b4c"/><path d="M192.5 229.2 195.2 225.5 193.1 222.4 190.4 226.1Z" fill="#329277" stroke="#329277"/><path d="M227.5 178.4 230.9 174.4 228.7 171.4 225.2 175.4Z" fill="#4c8639" stroke="#4c8639"/><path d="M182.8 149.5 186.1 145.9 182.7 142.5 179.4 146.1Z" fill="#856a4c" stroke="#856a4c"/><path d="M223.7 165 227.2 161.2 224.5 157.9 221 161.8Z" fill="#6a8242" stroke="#6a8242"/><path d="M216.6 206.8 219.8 202.7 218.2 200.4 215 204.5Z" fill="#3c8d39" stroke="#3c8d39"/><path d="M127 168.7 129.4 165.8 125.7 162.3 123.3 165.1Z" fill="#6b7d41" stroke="#6b7d41"/><path d="M224.8 192.1 228.1 188 226.2 185.4 222.9 189.5Z" fill="#3f8938" stroke="#3f8938"/><path d="M221 161.8 224.5 157.9 221.7 154.6 218.2 158.4Z" fill="#727f45" stroke="#727f45"/><path d="M205.9 152 209.3 148.3 206.2 144.9 202.7 148.6Z" fill="#80714a" stroke="#80714a"/><path d="M185.2 233.3 187.8 229.8 185.5 226.5 182.9 230Z" fill="#329589" stroke="#329589"/><path d="M113.4 176.9 114.9 175 111.2 171.4 109.7 173.2Z" fill="#547f39" stroke="#547f39"/><path d="M138.2 163.2 140.9 160 137.3 156.6 134.6 159.7Z" fill="#737844" stroke="#737844"/><path d="M226.2 185.4 229.6 181.3 227.5 178.4 224.1 182.5Z" fill="#408837" stroke="#408837"/><path d="M178.2 236.6 180.5 233.3 178.1 229.8 175.8 233.1Z" fill="#329797" stroke="#329797"/><path d="M202.8 220.6 205.8 216.6 203.9 213.8 200.9 217.8Z" fill="#358e57" stroke="#358e57"/><path d="M112.3 178.2 113.4 176.9 109.7 173.2 108.6 174.5Z" fill="#528039" stroke="#528039"/><path d="M164.6 241.5 165.7 240 163 236.2 161.9 237.7Z" fill="#2e85a0" stroke="#2e85a0"/><path d="M171.6 238.9 173.6 236.1 171 232.4 169 235.3Z" fill="#30909b" stroke="#30909b"/><path d="M166.4 153.4 169.5 149.9 166 146.5 162.9 150Z" fill="#816e4a" stroke="#816e4a"/><path d="M221.5 196.3 224.8 192.1 222.9 189.5 219.6 193.6Z" fill="#3e8a38" stroke="#3e8a38"/><path d="M195.2 225.5 198 221.7 195.9 218.6 193.1 222.4Z" fill="#328f64" stroke="#328f64"/><path d="M225.2 175.4 228.7 171.4 226.2 168.3 222.8 172.2Z" fill="#52863a" stroke="#52863a"/><path d="M124.6 171.4 127 168.7 123.3 165.1 121 167.8Z" fill="#647e3f" stroke="#647e3f"/><path d="M205.8 216.6 208.8 212.6 206.9 209.8 203.9 213.8Z" fill="#388e4c" stroke="#388e4c"/><path d="M147.3 160.3 150.2 156.9 146.6 153.5 143.7 156.8Z" fill="#787546" stroke="#787546"/><path d="M187.8 229.8 190.4 226.1 188.1 222.8 185.5 226.5Z" fill="#329276" stroke="#329276"/><path d="M156.7 157 159.8 153.5 156.2 150.1 153.2 153.5Z" fill="#7c7248" stroke="#7c7248"/><path d="M208.9 155.5 212.4 151.7 209.3 148.3 205.9 152Z" fill="#7c7648" stroke="#7c7648"/><path d="M199.3 152.4 202.7 148.6 199.5 145.3 196.1 149Z" fill="#81704a" stroke="#81704a"/><path d="M165.7 240 167.2 237.8 164.5 234 163 236.2Z" fill="#308c9d" stroke="#308c9d"/><path d="M218.2 200.4 221.5 196.3 219.6 193.6 216.3 197.7Z" fill="#3e8b39" stroke="#3e8b39"/><path d="M208.8 212.6 211.9 208.5 210 205.8 206.9 209.8Z" fill="#3a8e40" stroke="#3a8e40"/><path d="M135.6 166.3 138.2 163.2 134.6 159.7 131.9 162.8Z" fill="#707b43" stroke="#707b43"/><path d="M180.5 233.3 182.9 230 180.5 226.5 178.1 229.8Z" fill="#329486" stroke="#329486"/><path d="M222.9 189.5 226.2 185.4 224.1 182.5 220.8 186.6Z" fill="#408937" stroke="#408937"/><path d="M224.1 182.5 227.5 178.4 225.2 175.4 221.8 179.4Z" fill="#468738" stroke="#468738"/><path d="M215 204.5 218.2 200.4 216.3 197.7 213.1 201.7Z" fill="#3d8c39" stroke="#3d8c39"/><path d="M211.9 208.5 215 204.5 213.1 201.7 210 205.8Z" fill="#3c8d3a" stroke="#3c8d3a"/><path d="M222.8 172.2 226.2 168.3 223.7 165 220.2 169Z" fill="#59853c" stroke="#59853c"/><path d="M122.5 174.1 124.6 171.4 121 167.8 118.8 170.4Z" fill="#5e7f3d" stroke="#5e7f3d"/><path d="M173 153.3 176.2 149.7 172.7 146.3 169.5 149.9Z" fill="#816e4a" stroke="#816e4a"/><path d="M198 221.7 200.9 217.8 198.8 214.7 195.9 218.6Z" fill="#358e58" stroke="#358e58"/><path d="M173.6 236.1 175.8 233.1 173.2 229.4 171 232.4Z" fill="#329792" stroke="#329792"/><path d="M211.9 158.9 215.3 155 212.4 151.7 208.9 155.5Z" fill="#787a47" stroke="#787a47"/><path d="M192.8 152.7 196.1 149 192.8 145.6 189.5 149.2Z" fill="#82704a" stroke="#82704a"/><path d="M190.4 226.1 193.1 222.4 190.8 219.1 188.1 222.8Z" fill="#338f63" stroke="#338f63"/><path d="M167.2 237.8 169 235.3 166.3 231.5 164.5 234Z" fill="#329698" stroke="#329698"/><path d="M220.2 169 223.7 165 221 161.8 217.6 165.7Z" fill="#638440" stroke="#638440"/><path d="M179.6 153.1 182.8 149.5 179.4 146.1 176.2 149.7Z" fill="#826e4b" stroke="#826e4b"/><path d="M186.2 152.9 189.5 149.2 186.1 145.9 182.8 149.5Z" fill="#826f4b" stroke="#826f4b"/><path d="M219.6 193.6 222.9 189.5 220.8 186.6 217.5 190.6Z" fill="#3f8a38" stroke="#3f8a38"/><path d="M120.4 176.5 122.5 174.1 118.8 170.4 116.8 172.8Z" fill="#58803b" stroke="#58803b"/><path d="M144.5 163.6 147.3 160.3 143.7 156.8 140.9 160Z" fill="#747845" stroke="#747845"/><path d="M200.9 217.8 203.9 213.8 201.7 210.8 198.8 214.7Z" fill="#388e4c" stroke="#388e4c"/><path d="M214.8 162.3 218.2 158.4 215.3 155 211.9 158.9Z" fill="#737f45" stroke="#737f45"/><path d="M133 169.4 135.6 166.3 131.9 162.8 129.4 165.8Z" fill="#6c7e42" stroke="#6c7e42"/><path d="M217.6 165.7 221 161.8 218.2 158.4 214.8 162.3Z" fill="#6d8243" stroke="#6d8243"/><path d="M182.9 230 185.5 226.5 183 223 180.5 226.5Z" fill="#329173" stroke="#329173"/><path d="M163.3 157 166.4 153.4 162.9 150 159.8 153.5Z" fill="#7d7248" stroke="#7d7248"/><path d="M221.8 179.4 225.2 175.4 222.8 172.2 219.4 176.2Z" fill="#4d8739" stroke="#4d8739"/><path d="M202.5 155.8 205.9 152 202.7 148.6 199.3 152.4Z" fill="#7d7649" stroke="#7d7649"/><path d="M153.8 160.4 156.7 157 153.2 153.5 150.2 156.9Z" fill="#797647" stroke="#797647"/><path d="M220.8 186.6 224.1 182.5 221.8 179.4 218.5 183.5Z" fill="#408837" stroke="#408837"/><path d="M175.8 233.1 178.1 229.8 175.5 226.2 173.2 229.4Z" fill="#329481" stroke="#329481"/><path d="M118.6 178.7 120.4 176.5 116.8 172.8 114.9 175Z" fill="#548139" stroke="#548139"/><path d="M203.9 213.8 206.9 209.8 204.8 206.8 201.7 210.8Z" fill="#3a8e41" stroke="#3a8e41"/><path d="M216.3 197.7 219.6 193.6 217.5 190.6 214.2 194.7Z" fill="#3e8b38" stroke="#3e8b38"/><path d="M193.1 222.4 195.9 218.6 193.6 215.3 190.8 219.1Z" fill="#358e57" stroke="#358e57"/><path d="M161.9 237.7 163 236.2 160.2 232.3 159.1 233.8Z" fill="#329698" stroke="#329698"/><path d="M169 235.3 171 232.4 168.3 228.7 166.3 231.5Z" fill="#32958a" stroke="#32958a"/><path d="M206.9 209.8 210 205.8 207.8 202.8 204.8 206.8Z" fill="#3c8d3a" stroke="#3c8d3a"/><path d="M213.1 201.7 216.3 197.7 214.2 194.7 211 198.8Z" fill="#3e8c39" stroke="#3e8c39"/><path d="M130.6 172.3 133 169.4 129.4 165.8 127 168.7Z" fill="#657f40" stroke="#657f40"/><path d="M117 180.7 118.6 178.7 114.9 175 113.4 176.9Z" fill="#508139" stroke="#508139"/><path d="M210 205.8 213.1 201.7 211 198.8 207.8 202.8Z" fill="#3d8c39" stroke="#3d8c39"/><path d="M185.5 226.5 188.1 222.8 185.7 219.4 183 223Z" fill="#338f62" stroke="#338f62"/><path d="M219.4 176.2 222.8 172.2 220.2 169 216.8 172.9Z" fill="#54863b" stroke="#54863b"/><path d="M141.8 166.8 144.5 163.6 140.9 160 138.2 163.2Z" fill="#717c44" stroke="#717c44"/><path d="M169.8 156.9 173 153.3 169.5 149.9 166.4 153.4Z" fill="#7e7349" stroke="#7e7349"/><path d="M116 182 117 180.7 113.4 176.9 112.3 178.2Z" fill="#4e8138" stroke="#4e8138"/><path d="M205.5 159.3 208.9 155.5 205.9 152 202.5 155.8Z" fill="#797a47" stroke="#797a47"/><path d="M196 156.1 199.3 152.4 196.1 149 192.8 152.7Z" fill="#7e7549" stroke="#7e7549"/><path d="M163 236.2 164.5 234 161.7 230.2 160.2 232.3Z" fill="#32968e" stroke="#32968e"/><path d="M217.5 190.6 220.8 186.6 218.5 183.5 215.2 187.5Z" fill="#408937" stroke="#408937"/><path d="M195.9 218.6 198.8 214.7 196.5 211.5 193.6 215.3Z" fill="#388e4c" stroke="#388e4c"/><path d="M178.1 229.8 180.5 226.5 177.9 222.9 175.5 226.2Z" fill="#32906f" stroke="#32906f"/><path d="M218.5 183.5 221.8 179.4 219.4 176.2 216 180.2Z" fill="#478738" stroke="#478738"/><path d="M128.3 175.1 130.6 172.3 127 168.7 124.6 171.4Z" fill="#5e803d" stroke="#5e803d"/><path d="M171 232.4 173.2 229.4 170.5 225.7 168.3 228.7Z" fill="#32927a" stroke="#32927a"/><path d="M150.9 163.8 153.8 160.4 150.2 156.9 147.3 160.3Z" fill="#757946" stroke="#757946"/><path d="M216.8 172.9 220.2 169 217.6 165.7 214.2 169.6Z" fill="#5c853d" stroke="#5c853d"/><path d="M160.2 160.5 163.3 157 159.8 153.5 156.7 157Z" fill="#7a7647" stroke="#7a7647"/><path d="M176.4 156.8 179.6 153.1 176.2 149.7 173 153.3Z" fill="#7f7349" stroke="#7f7349"/><path d="M189.4 156.4 192.8 152.7 189.5 149.2 186.2 152.9Z" fill="#7f7449" stroke="#7f7449"/><path d="M208.5 162.7 211.9 158.9 208.9 155.5 205.5 159.3Z" fill="#757e46" stroke="#757e46"/><path d="M188.1 222.8 190.8 219.1 188.4 215.7 185.7 219.4Z" fill="#358e56" stroke="#358e56"/><path d="M198.8 214.7 201.7 210.8 199.5 207.6 196.5 211.5Z" fill="#3a8e40" stroke="#3a8e40"/><path d="M182.9 156.6 186.2 152.9 182.8 149.5 179.6 153.1Z" fill="#7f7349" stroke="#7f7349"/><path d="M214.2 194.7 217.5 190.6 215.2 187.5 211.9 191.6Z" fill="#3f8a38" stroke="#3f8a38"/><path d="M214.2 169.6 217.6 165.7 214.8 162.3 211.4 166.2Z" fill="#668441" stroke="#668441"/><path d="M139.2 170 141.8 166.8 138.2 163.2 135.6 166.3Z" fill="#6d7e43" stroke="#6d7e43"/><path d="M164.5 234 166.3 231.5 163.5 227.6 161.7 230.2Z" fill="#329381" stroke="#329381"/><path d="M211.4 166.2 214.8 162.3 211.9 158.9 208.5 162.7Z" fill="#708244" stroke="#708244"/><path d="M126.1 177.8 128.3 175.1 124.6 171.4 122.5 174.1Z" fill="#58813b" stroke="#58813b"/><path d="M180.5 226.5 183 223 180.5 219.4 177.9 222.9Z" fill="#338f60" stroke="#338f60"/><path d="M201.7 210.8 204.8 206.8 202.5 203.6 199.5 207.6Z" fill="#3c8d3a" stroke="#3c8d3a"/><path d="M211 198.8 214.2 194.7 211.9 191.6 208.7 195.6Z" fill="#3f8b38" stroke="#3f8b38"/><path d="M199.1 159.6 202.5 155.8 199.3 152.4 196 156.1Z" fill="#7a7948" stroke="#7a7948"/><path d="M216 180.2 219.4 176.2 216.8 172.9 213.5 176.9Z" fill="#4e873a" stroke="#4e873a"/><path d="M204.8 206.8 207.8 202.8 205.6 199.6 202.5 203.6Z" fill="#3d8c39" stroke="#3d8c39"/><path d="M215.2 187.5 218.5 183.5 216 180.2 212.7 184.3Z" fill="#418837" stroke="#418837"/><path d="M173.2 229.4 175.5 226.2 172.8 222.5 170.5 225.7Z" fill="#328f69" stroke="#328f69"/><path d="M207.8 202.8 211 198.8 208.7 195.6 205.6 199.6Z" fill="#3e8c39" stroke="#3e8c39"/><path d="M190.8 219.1 193.6 215.3 191.2 211.9 188.4 215.7Z" fill="#388e4b" stroke="#388e4b"/><path d="M124.1 180.3 126.1 177.8 122.5 174.1 120.4 176.5Z" fill="#538239" stroke="#538239"/><path d="M166.7 160.5 169.8 156.9 166.4 153.4 163.3 157Z" fill="#7b7647" stroke="#7b7647"/><path d="M148.1 167.1 150.9 163.8 147.3 160.3 144.5 163.6Z" fill="#727c44" stroke="#727c44"/><path d="M159.1 233.8 160.2 232.3 157.3 228.4 156.2 229.9Z" fill="#329380" stroke="#329380"/><path d="M136.6 173 139.2 170 135.6 166.3 133 169.4Z" fill="#658040" stroke="#658040"/><path d="M166.3 231.5 168.3 228.7 165.5 224.8 163.5 227.6Z" fill="#329172" stroke="#329172"/><path d="M157.3 164 160.2 160.5 156.7 157 153.8 160.4Z" fill="#767946" stroke="#767946"/><path d="M122.2 182.5 124.1 180.3 120.4 176.5 118.6 178.7Z" fill="#4f8239" stroke="#4f8239"/><path d="M183 223 185.7 219.4 183.1 215.8 180.5 219.4Z" fill="#368e55" stroke="#368e55"/><path d="M213.5 176.9 216.8 172.9 214.2 169.6 210.8 173.5Z" fill="#55863b" stroke="#55863b"/><path d="M193.6 215.3 196.5 211.5 194.1 208.1 191.2 211.9Z" fill="#3b8e40" stroke="#3b8e40"/><path d="M192.7 159.9 196 156.1 192.8 152.7 189.4 156.4Z" fill="#7b7848" stroke="#7b7848"/><path d="M202.2 163.1 205.5 159.3 202.5 155.8 199.1 159.6Z" fill="#767d46" stroke="#767d46"/><path d="M211.9 191.6 215.2 187.5 212.7 184.3 209.5 188.3Z" fill="#408937" stroke="#408937"/><path d="M160.2 232.3 161.7 230.2 158.8 226.2 157.3 228.4Z" fill="#329176" stroke="#329176"/><path d="M173.2 160.4 176.4 156.8 173 153.3 169.8 156.9Z" fill="#7b7748" stroke="#7b7748"/><path d="M120.7 184.5 122.2 182.5 118.6 178.7 117 180.7Z" fill="#4c8238" stroke="#4c8238"/><path d="M175.5 226.2 177.9 222.9 175.2 219.2 172.8 222.5Z" fill="#348e5d" stroke="#348e5d"/><path d="M134.2 176 136.6 173 133 169.4 130.6 172.3Z" fill="#5e813d" stroke="#5e813d"/><path d="M212.7 184.3 216 180.2 213.5 176.9 210.2 180.9Z" fill="#498838" stroke="#498838"/><path d="M119.6 185.8 120.7 184.5 117 180.7 116 182Z" fill="#498337" stroke="#498337"/><path d="M210.8 173.5 214.2 169.6 211.4 166.2 208 170.1Z" fill="#5e853e" stroke="#5e853e"/><path d="M186.2 160.1 189.4 156.4 186.2 152.9 182.9 156.6Z" fill="#7b7848" stroke="#7b7848"/><path d="M196.5 211.5 199.5 207.6 197 204.2 194.1 208.1Z" fill="#3c8d3a" stroke="#3c8d3a"/><path d="M168.3 228.7 170.5 225.7 167.7 221.8 165.5 224.8Z" fill="#328e63" stroke="#328e63"/><path d="M179.7 160.3 182.9 156.6 179.6 153.1 176.4 156.8Z" fill="#7b7748" stroke="#7b7748"/><path d="M205.1 166.6 208.5 162.7 205.5 159.3 202.2 163.1Z" fill="#718145" stroke="#718145"/><path d="M145.3 170.4 148.1 167.1 144.5 163.6 141.8 166.8Z" fill="#6d7f43" stroke="#6d7f43"/><path d="M208.7 195.6 211.9 191.6 209.5 188.3 206.3 192.3Z" fill="#3f8a38" stroke="#3f8a38"/><path d="M185.7 219.4 188.4 215.7 185.8 212.1 183.1 215.8Z" fill="#388e49" stroke="#388e49"/><path d="M208 170.1 211.4 166.2 208.5 162.7 205.1 166.6Z" fill="#688341" stroke="#688341"/><path d="M199.5 207.6 202.5 203.6 200 200.3 197 204.2Z" fill="#3d8c39" stroke="#3d8c39"/><path d="M161.7 230.2 163.5 227.6 160.6 223.7 158.8 226.2Z" fill="#328f69" stroke="#328f69"/><path d="M205.6 199.6 208.7 195.6 206.3 192.3 203.1 196.3Z" fill="#3f8b38" stroke="#3f8b38"/><path d="M163.7 164.1 166.7 160.5 163.3 157 160.2 160.5Z" fill="#777a46" stroke="#777a46"/><path d="M131.9 178.8 134.2 176 130.6 172.3 128.3 175.1Z" fill="#57823b" stroke="#57823b"/><path d="M202.5 203.6 205.6 199.6 203.1 196.3 200 200.3Z" fill="#3e8c39" stroke="#3e8c39"/><path d="M154.4 167.4 157.3 164 153.8 160.4 150.9 163.8Z" fill="#727d45" stroke="#727d45"/><path d="M177.9 222.9 180.5 219.4 177.8 215.7 175.2 219.2Z" fill="#368e52" stroke="#368e52"/><path d="M195.8 163.4 199.1 159.6 196 156.1 192.7 159.9Z" fill="#777c46" stroke="#777c46"/><path d="M210.2 180.9 213.5 176.9 210.8 173.5 207.5 177.5Z" fill="#50873a" stroke="#50873a"/><path d="M209.5 188.3 212.7 184.3 210.2 180.9 206.9 184.9Z" fill="#438837" stroke="#438837"/><path d="M188.4 215.7 191.2 211.9 188.6 208.4 185.8 212.1Z" fill="#3b8e3e" stroke="#3b8e3e"/><path d="M170.5 225.7 172.8 222.5 170 218.7 167.7 221.8Z" fill="#358e59" stroke="#358e59"/><path d="M142.7 173.6 145.3 170.4 141.8 166.8 139.2 170Z" fill="#668040" stroke="#668040"/><path d="M129.7 181.5 131.9 178.8 128.3 175.1 126.1 177.8Z" fill="#53823a" stroke="#53823a"/><path d="M156.2 229.9 157.3 228.4 154.3 224.4 153.2 225.9Z" fill="#328f68" stroke="#328f68"/><path d="M163.5 227.6 165.5 224.8 162.6 220.9 160.6 223.7Z" fill="#338e5f" stroke="#338e5f"/><path d="M170.1 164.1 173.2 160.4 169.8 156.9 166.7 160.5Z" fill="#777a46" stroke="#777a46"/><path d="M127.7 184.1 129.7 181.5 126.1 177.8 124.1 180.3Z" fill="#4e8339" stroke="#4e8339"/><path d="M180.5 219.4 183.1 215.8 180.4 212.1 177.8 215.7Z" fill="#398e47" stroke="#398e47"/><path d="M189.4 163.7 192.7 159.9 189.4 156.4 186.2 160.1Z" fill="#777c47" stroke="#777c47"/><path d="M191.2 211.9 194.1 208.1 191.5 204.6 188.6 208.4Z" fill="#3c8d3a" stroke="#3c8d3a"/><path d="M198.9 167 202.2 163.1 199.1 159.6 195.8 163.4Z" fill="#728145" stroke="#728145"/><path d="M207.5 177.5 210.8 173.5 208 170.1 204.7 174Z" fill="#57863b" stroke="#57863b"/><path d="M206.3 192.3 209.5 188.3 206.9 184.9 203.7 188.9Z" fill="#408937" stroke="#408937"/><path d="M151.6 170.8 154.4 167.4 150.9 163.8 148.1 167.1Z" fill="#6e8043" stroke="#6e8043"/><path d="M157.3 228.4 158.8 226.2 155.8 222.2 154.3 224.4Z" fill="#338e60" stroke="#338e60"/><path d="M140.2 176.7 142.7 173.6 139.2 170 136.6 173Z" fill="#5f823d" stroke="#5f823d"/><path d="M176.5 164 179.7 160.3 176.4 156.8 173.2 160.4Z" fill="#777b47" stroke="#777b47"/><path d="M125.8 186.3 127.7 184.1 124.1 180.3 122.2 182.5Z" fill="#4a8338" stroke="#4a8338"/><path d="M160.7 167.6 163.7 164.1 160.2 160.5 157.3 164Z" fill="#737d45" stroke="#737d45"/><path d="M183 163.9 186.2 160.1 182.9 156.6 179.7 160.3Z" fill="#777b47" stroke="#777b47"/><path d="M172.8 222.5 175.2 219.2 172.4 215.4 170 218.7Z" fill="#378e4f" stroke="#378e4f"/><path d="M204.7 174 208 170.1 205.1 166.6 201.8 170.5Z" fill="#60853f" stroke="#60853f"/><path d="M201.8 170.5 205.1 166.6 202.2 163.1 198.9 167Z" fill="#6a8342" stroke="#6a8342"/><path d="M194.1 208.1 197 204.2 194.4 200.7 191.5 204.6Z" fill="#3d8c39" stroke="#3d8c39"/><path d="M206.9 184.9 210.2 180.9 207.5 177.5 204.2 181.5Z" fill="#4a8839" stroke="#4a8839"/><path d="M203.1 196.3 206.3 192.3 203.7 188.9 200.6 192.9Z" fill="#408a38" stroke="#408a38"/><path d="M124.3 188.3 125.8 186.3 122.2 182.5 120.7 184.5Z" fill="#478437" stroke="#478437"/><path d="M165.5 224.8 167.7 221.8 164.8 218 162.6 220.9Z" fill="#358e55" stroke="#358e55"/><path d="M197 204.2 200 200.3 197.5 196.8 194.4 200.7Z" fill="#3e8c39" stroke="#3e8c39"/><path d="M200 200.3 203.1 196.3 200.6 192.9 197.5 196.8Z" fill="#3f8b38" stroke="#3f8b38"/><path d="M183.1 215.8 185.8 212.1 183.1 208.5 180.4 212.1Z" fill="#3b8e3c" stroke="#3b8e3c"/><path d="M123.2 189.7 124.3 188.3 120.7 184.5 119.6 185.8Z" fill="#448436" stroke="#448436"/><path d="M137.7 179.8 140.2 176.7 136.6 173 134.2 176Z" fill="#57833b" stroke="#57833b"/><path d="M158.8 226.2 160.6 223.7 157.6 219.8 155.8 222.2Z" fill="#358e59" stroke="#358e59"/><path d="M192.5 167.3 195.8 163.4 192.7 159.9 189.4 163.7Z" fill="#738045" stroke="#738045"/><path d="M148.8 174.1 151.6 170.8 148.1 167.1 145.3 170.4Z" fill="#668140" stroke="#668140"/><path d="M175.2 219.2 177.8 215.7 175 211.9 172.4 215.4Z" fill="#398e45" stroke="#398e45"/><path d="M167.1 167.7 170.1 164.1 166.7 160.5 163.7 164.1Z" fill="#737e45" stroke="#737e45"/><path d="M204.2 181.5 207.5 177.5 204.7 174 201.5 177.9Z" fill="#51873a" stroke="#51873a"/><path d="M203.7 188.9 206.9 184.9 204.2 181.5 201 185.4Z" fill="#448837" stroke="#448837"/><path d="M185.8 212.1 188.6 208.4 185.9 204.8 183.1 208.5Z" fill="#3c8d39" stroke="#3c8d39"/><path d="M135.4 182.6 137.7 179.8 134.2 176 131.9 178.8Z" fill="#52833a" stroke="#52833a"/><path d="M167.7 221.8 170 218.7 167.1 214.8 164.8 218Z" fill="#388e4c" stroke="#388e4c"/><path d="M157.8 171.1 160.7 167.6 157.3 164 154.4 167.4Z" fill="#6e8044" stroke="#6e8044"/><path d="M153.2 225.9 154.3 224.4 151.2 220.4 150.1 221.8Z" fill="#358e58" stroke="#358e58"/><path d="M186.2 167.5 189.4 163.7 186.2 160.1 183 163.9Z" fill="#737f45" stroke="#737f45"/><path d="M195.6 170.8 198.9 167 195.8 163.4 192.5 167.3Z" fill="#6c8343" stroke="#6c8343"/><path d="M160.6 223.7 162.6 220.9 159.7 217 157.6 219.8Z" fill="#368e51" stroke="#368e51"/><path d="M173.5 167.7 176.5 164 173.2 160.4 170.1 164.1Z" fill="#737e45" stroke="#737e45"/><path d="M201.5 177.9 204.7 174 201.8 170.5 198.6 174.4Z" fill="#58863c" stroke="#58863c"/><path d="M133.2 185.4 135.4 182.6 131.9 178.8 129.7 181.5Z" fill="#4e8439" stroke="#4e8439"/><path d="M188.6 208.4 191.5 204.6 188.8 201 185.9 204.8Z" fill="#3d8c39" stroke="#3d8c39"/><path d="M200.6 192.9 203.7 188.9 201 185.4 197.9 189.4Z" fill="#408937" stroke="#408937"/><path d="M146.2 177.4 148.8 174.1 145.3 170.4 142.7 173.6Z" fill="#5f823e" stroke="#5f823e"/><path d="M177.8 215.7 180.4 212.1 177.6 208.4 175 211.9Z" fill="#3c8d3a" stroke="#3c8d3a"/><path d="M179.8 167.6 183 163.9 179.7 160.3 176.5 164Z" fill="#737f45" stroke="#737f45"/><path d="M198.6 174.4 201.8 170.5 198.9 167 195.6 170.8Z" fill="#62853f" stroke="#62853f"/><path d="M154.3 224.4 155.8 222.2 152.8 218.2 151.2 220.4Z" fill="#368d53" stroke="#368d53"/><path d="M131.2 187.9 133.2 185.4 129.7 181.5 127.7 184.1Z" fill="#498438" stroke="#498438"/><path d="M191.5 204.6 194.4 200.7 191.8 197.2 188.8 201Z" fill="#3e8c39" stroke="#3e8c39"/><path d="M197.5 196.8 200.6 192.9 197.9 189.4 194.8 193.3Z" fill="#408a38" stroke="#408a38"/><path d="M201 185.4 204.2 181.5 201.5 177.9 198.2 181.9Z" fill="#4b8839" stroke="#4b8839"/><path d="M170 218.7 172.4 215.4 169.5 211.5 167.1 214.8Z" fill="#3a8d42" stroke="#3a8d42"/><path d="M194.4 200.7 197.5 196.8 194.8 193.3 191.8 197.2Z" fill="#3f8b38" stroke="#3f8b38"/><path d="M129.4 190.2 131.2 187.9 127.7 184.1 125.8 186.3Z" fill="#458437" stroke="#458437"/><path d="M164.1 171.2 167.1 167.7 163.7 164.1 160.7 167.6Z" fill="#6f8144" stroke="#6f8144"/><path d="M155 174.5 157.8 171.1 154.4 167.4 151.6 170.8Z" fill="#678241" stroke="#678241"/><path d="M162.6 220.9 164.8 218 161.8 214 159.7 217Z" fill="#398d48" stroke="#398d48"/><path d="M127.8 192.2 129.4 190.2 125.8 186.3 124.3 188.3Z" fill="#418536" stroke="#418536"/><path d="M143.7 180.5 146.2 177.4 142.7 173.6 140.2 176.7Z" fill="#57833b" stroke="#57833b"/><path d="M180.4 212.1 183.1 208.5 180.3 204.8 177.6 208.4Z" fill="#3d8d39" stroke="#3d8d39"/><path d="M189.3 171.1 192.5 167.3 189.4 163.7 186.2 167.5Z" fill="#6d8343" stroke="#6d8343"/><path d="M126.8 193.6 127.8 192.2 124.3 188.3 123.2 189.7Z" fill="#3f8536" stroke="#3f8536"/><path d="M155.8 222.2 157.6 219.8 154.6 215.8 152.8 218.2Z" fill="#388d4b" stroke="#388d4b"/><path d="M198.2 181.9 201.5 177.9 198.6 174.4 195.4 178.3Z" fill="#52873b" stroke="#52873b"/><path d="M197.9 189.4 201 185.4 198.2 181.9 195.1 185.8Z" fill="#458838" stroke="#458838"/><path d="M172.4 215.4 175 211.9 172.1 208.1 169.5 211.5Z" fill="#3c8d3a" stroke="#3c8d3a"/><path d="M141.2 183.6 143.7 180.5 140.2 176.7 137.7 179.8Z" fill="#52843a" stroke="#52843a"/><path d="M170.4 171.3 173.5 167.7 170.1 164.1 167.1 167.7Z" fill="#6f8244" stroke="#6f8244"/><path d="M150.1 221.8 151.2 220.4 148.1 216.3 147 217.8Z" fill="#388d4b" stroke="#388d4b"/><path d="M183.1 208.5 185.9 204.8 183.1 201.1 180.3 204.8Z" fill="#3d8c39" stroke="#3d8c39"/><path d="M192.4 174.7 195.6 170.8 192.5 167.3 189.3 171.1Z" fill="#638440" stroke="#638440"/><path d="M183 171.2 186.2 167.5 183 163.9 179.8 167.6Z" fill="#6e8244" stroke="#6e8244"/><path d="M195.4 178.3 198.6 174.4 195.6 170.8 192.4 174.7Z" fill="#59863c" stroke="#59863c"/><path d="M164.8 218 167.1 214.8 164.1 210.9 161.8 214Z" fill="#3b8d3e" stroke="#3b8d3e"/><path d="M152.3 177.8 155 174.5 151.6 170.8 148.8 174.1Z" fill="#5e833e" stroke="#5e833e"/><path d="M176.7 171.3 179.8 167.6 176.5 164 173.5 167.7Z" fill="#6e8244" stroke="#6e8244"/><path d="M157.6 219.8 159.7 217 156.6 213 154.6 215.8Z" fill="#398d43" stroke="#398d43"/><path d="M138.9 186.5 141.2 183.6 137.7 179.8 135.4 182.6Z" fill="#4d8439" stroke="#4d8439"/><path d="M194.8 193.3 197.9 189.4 195.1 185.8 192 189.7Z" fill="#408937" stroke="#408937"/><path d="M161.2 174.8 164.1 171.2 160.7 167.6 157.8 171.1Z" fill="#678241" stroke="#678241"/><path d="M185.9 204.8 188.8 201 186 197.3 183.1 201.1Z" fill="#3e8b38" stroke="#3e8b38"/><path d="M151.2 220.4 152.8 218.2 149.6 214.2 148.1 216.3Z" fill="#398d45" stroke="#398d45"/><path d="M191.8 197.2 194.8 193.3 192 189.7 189 193.5Z" fill="#408a38" stroke="#408a38"/><path d="M175 211.9 177.6 208.4 174.7 204.6 172.1 208.1Z" fill="#3d8d39" stroke="#3d8d39"/><path d="M188.8 201 191.8 197.2 189 193.5 186 197.3Z" fill="#3f8b38" stroke="#3f8b38"/><path d="M136.7 189.2 138.9 186.5 135.4 182.6 133.2 185.4Z" fill="#488538" stroke="#488538"/><path d="M195.1 185.8 198.2 181.9 195.4 178.3 192.2 182.2Z" fill="#4c8839" stroke="#4c8839"/><path d="M134.7 191.8 136.7 189.2 133.2 185.4 131.2 187.9Z" fill="#438537" stroke="#438537"/><path d="M149.7 181.1 152.3 177.8 148.8 174.1 146.2 177.4Z" fill="#57843b" stroke="#57843b"/><path d="M167.1 214.8 169.5 211.5 166.6 207.7 164.1 210.9Z" fill="#3c8d39" stroke="#3c8d39"/><path d="M186.2 174.9 189.3 171.1 186.2 167.5 183 171.2Z" fill="#648440" stroke="#648440"/><path d="M132.9 194.2 134.7 191.8 131.2 187.9 129.4 190.2Z" fill="#3f8636" stroke="#3f8636"/><path d="M159.7 217 161.8 214 158.8 210.1 156.6 213Z" fill="#3b8d3a" stroke="#3b8d3a"/><path d="M131.3 196.2 132.9 194.2 129.4 190.2 127.8 192.2Z" fill="#3f8636" stroke="#3f8636"/><path d="M130.3 197.6 131.3 196.2 127.8 192.2 126.8 193.6Z" fill="#3f8636" stroke="#3f8636"/><path d="M152.8 218.2 154.6 215.8 151.4 211.7 149.6 214.2Z" fill="#3b8d3e" stroke="#3b8d3e"/><path d="M167.5 174.9 170.4 171.3 167.1 167.7 164.1 171.2Z" fill="#668341" stroke="#668341"/><path d="M177.6 208.4 180.3 204.8 177.4 201 174.7 204.6Z" fill="#3e8c39" stroke="#3e8c39"/><path d="M192.2 182.2 195.4 178.3 192.4 174.7 189.2 178.5Z" fill="#53873b" stroke="#53873b"/><path d="M158.4 178.2 161.2 174.8 157.8 171.1 155 174.5Z" fill="#5e843e" stroke="#5e843e"/><path d="M189.2 178.5 192.4 174.7 189.3 171.1 186.2 174.9Z" fill="#5b863d" stroke="#5b863d"/><path d="M147 217.8 148.1 216.3 144.8 212.3 143.8 213.7Z" fill="#3b8c3d" stroke="#3b8c3d"/><path d="M179.9 175 183 171.2 179.8 167.6 176.7 171.3Z" fill="#658440" stroke="#658440"/><path d="M192 189.7 195.1 185.8 192.2 182.2 189.1 186Z" fill="#468838" stroke="#468838"/><path d="M147.1 184.3 149.7 181.1 146.2 177.4 143.7 180.5Z" fill="#51853a" stroke="#51853a"/><path d="M173.7 175 176.7 171.3 173.5 167.7 170.4 171.3Z" fill="#668341" stroke="#668341"/><path d="M169.5 211.5 172.1 208.1 169.1 204.3 166.6 207.7Z" fill="#3d8c39" stroke="#3d8c39"/><path d="M180.3 204.8 183.1 201.1 180.2 197.4 177.4 201Z" fill="#3e8b38" stroke="#3e8b38"/><path d="M161.8 214 164.1 210.9 161.1 207 158.8 210.1Z" fill="#3c8c39" stroke="#3c8c39"/><path d="M148.1 216.3 149.6 214.2 146.4 210.2 144.8 212.3Z" fill="#3c8c39" stroke="#3c8c39"/><path d="M154.6 215.8 156.6 213 153.4 209 151.4 211.7Z" fill="#3c8c39" stroke="#3c8c39"/><path d="M144.7 187.4 147.1 184.3 143.7 180.5 141.2 183.6Z" fill="#4c8539" stroke="#4c8539"/><path d="M189 193.5 192 189.7 189.1 186 186.1 189.9Z" fill="#418937" stroke="#418937"/><path d="M183.1 201.1 186 197.3 183.1 193.6 180.2 197.4Z" fill="#3f8a38" stroke="#3f8a38"/><path d="M186 197.3 189 193.5 186.1 189.9 183.1 193.6Z" fill="#408a37" stroke="#408a37"/><path d="M155.7 181.6 158.4 178.2 155 174.5 152.3 177.8Z" fill="#57853b" stroke="#57853b"/><path d="M189.1 186 192.2 182.2 189.2 178.5 186.1 182.4Z" fill="#4d8739" stroke="#4d8739"/><path d="M142.4 190.4 144.7 187.4 141.2 183.6 138.9 186.5Z" fill="#478638" stroke="#478638"/><path d="M164.6 178.5 167.5 174.9 164.1 171.2 161.2 174.8Z" fill="#5e843e" stroke="#5e843e"/><path d="M183.1 178.7 186.2 174.9 183 171.2 179.9 175Z" fill="#5c863d" stroke="#5c863d"/><path d="M133.7 201.6 134.8 200.2 131.3 196.2 130.3 197.6Z" fill="#3e8837" stroke="#3e8837"/><path d="M172.1 208.1 174.7 204.6 171.7 200.8 169.1 204.3Z" fill="#3e8c39" stroke="#3e8c39"/><path d="M134.8 200.2 136.3 198.1 132.9 194.2 131.3 196.2Z" fill="#3e8737" stroke="#3e8737"/><path d="M140.2 193.1 142.4 190.4 138.9 186.5 136.7 189.2Z" fill="#428636" stroke="#428636"/><path d="M143.8 213.7 144.8 212.3 141.5 208.2 140.5 209.6Z" fill="#3c8b39" stroke="#3c8b39"/><path d="M136.3 198.1 138.2 195.8 134.7 191.8 132.9 194.2Z" fill="#3f8737" stroke="#3f8737"/><path d="M149.6 214.2 151.4 211.7 148.2 207.7 146.4 210.2Z" fill="#3c8c39" stroke="#3c8c39"/><path d="M138.2 195.8 140.2 193.1 136.7 189.2 134.7 191.8Z" fill="#3f8636" stroke="#3f8636"/><path d="M186.1 182.4 189.2 178.5 186.2 174.9 183.1 178.7Z" fill="#54873b" stroke="#54873b"/><path d="M156.6 213 158.8 210.1 155.6 206.1 153.4 209Z" fill="#3c8c39" stroke="#3c8c39"/><path d="M164.1 210.9 166.6 207.7 163.5 203.8 161.1 207Z" fill="#3d8c39" stroke="#3d8c39"/><path d="M170.7 178.7 173.7 175 170.4 171.3 167.5 174.9Z" fill="#5d853d" stroke="#5d853d"/><path d="M176.9 178.7 179.9 175 176.7 171.3 173.7 175Z" fill="#5d853d" stroke="#5d853d"/><path d="M153.1 184.9 155.7 181.6 152.3 177.8 149.7 181.1Z" fill="#51853a" stroke="#51853a"/><path d="M144.8 212.3 146.4 210.2 143.1 206.1 141.5 208.2Z" fill="#3c8b39" stroke="#3c8b39"/><path d="M186.1 189.9 189.1 186 186.1 182.4 183.1 186.1Z" fill="#478838" stroke="#478838"/><path d="M174.7 204.6 177.4 201 174.5 197.2 171.7 200.8Z" fill="#3e8b38" stroke="#3e8b38"/><path d="M137.1 205.6 138.2 204.2 134.8 200.2 133.7 201.6Z" fill="#3d8938" stroke="#3d8938"/><path d="M140.5 209.6 141.5 208.2 138.2 204.2 137.1 205.6Z" fill="#3d8a38" stroke="#3d8a38"/><path d="M151.4 211.7 153.4 209 150.2 205 148.2 207.7Z" fill="#3d8b39" stroke="#3d8b39"/><path d="M161.8 182 164.6 178.5 161.2 174.8 158.4 178.2Z" fill="#56853b" stroke="#56853b"/><path d="M138.2 204.2 139.8 202.1 136.3 198.1 134.8 200.2Z" fill="#3e8937" stroke="#3e8937"/><path d="M150.5 188.2 153.1 184.9 149.7 181.1 147.1 184.3Z" fill="#4b8639" stroke="#4b8639"/><path d="M177.4 201 180.2 197.4 177.3 193.6 174.5 197.2Z" fill="#3f8a38" stroke="#3f8a38"/><path d="M183.1 193.6 186.1 189.9 183.1 186.1 180.2 189.9Z" fill="#418937" stroke="#418937"/><path d="M141.5 208.2 143.1 206.1 139.8 202.1 138.2 204.2Z" fill="#3d8a38" stroke="#3d8a38"/><path d="M166.6 207.7 169.1 204.3 166 200.4 163.5 203.8Z" fill="#3e8b38" stroke="#3e8b38"/><path d="M158.8 210.1 161.1 207 157.9 203.1 155.6 206.1Z" fill="#3d8b39" stroke="#3d8b39"/><path d="M180.1 182.4 183.1 178.7 179.9 175 176.9 178.7Z" fill="#55863b" stroke="#55863b"/><path d="M146.4 210.2 148.2 207.7 144.9 203.7 143.1 206.1Z" fill="#3d8b38" stroke="#3d8b38"/><path d="M139.8 202.1 141.6 199.7 138.2 195.8 136.3 198.1Z" fill="#3e8837" stroke="#3e8837"/><path d="M183.1 186.1 186.1 182.4 183.1 178.7 180.1 182.4Z" fill="#4e873a" stroke="#4e873a"/><path d="M180.2 197.4 183.1 193.6 180.2 189.9 177.3 193.6Z" fill="#408937" stroke="#408937"/><path d="M148.1 191.3 150.5 188.2 147.1 184.3 144.7 187.4Z" fill="#468637" stroke="#468637"/><path d="M141.6 199.7 143.6 197.1 140.2 193.1 138.2 195.8Z" fill="#3f8837" stroke="#3f8837"/><path d="M167.9 182.3 170.7 178.7 167.5 174.9 164.6 178.5Z" fill="#56863b" stroke="#56863b"/><path d="M143.6 197.1 145.8 194.3 142.4 190.4 140.2 193.1Z" fill="#3f8737" stroke="#3f8737"/><path d="M143.1 206.1 144.9 203.7 141.6 199.7 139.8 202.1Z" fill="#3e8938" stroke="#3e8938"/><path d="M145.8 194.3 148.1 191.3 144.7 187.4 142.4 190.4Z" fill="#408736" stroke="#408736"/><path d="M174 182.4 176.9 178.7 173.7 175 170.7 178.7Z" fill="#55863b" stroke="#55863b"/><path d="M153.4 209 155.6 206.1 152.4 202.2 150.2 205Z" fill="#3d8b38" stroke="#3d8b38"/><path d="M159 185.4 161.8 182 158.4 178.2 155.7 181.6Z" fill="#50863a" stroke="#50863a"/><path d="M169.1 204.3 171.7 200.8 168.7 197 166 200.4Z" fill="#3e8b38" stroke="#3e8b38"/><path d="M148.2 207.7 150.2 205 146.9 201.1 144.9 203.7Z" fill="#3d8a38" stroke="#3d8a38"/><path d="M161.1 207 163.5 203.8 160.4 199.9 157.9 203.1Z" fill="#3e8b38" stroke="#3e8b38"/><path d="M180.2 189.9 183.1 186.1 180.1 182.4 177.1 186.2Z" fill="#478838" stroke="#478838"/><path d="M144.9 203.7 146.9 201.1 143.6 197.1 141.6 199.7Z" fill="#3e8938" stroke="#3e8938"/><path d="M177.1 186.2 180.1 182.4 176.9 178.7 174 182.4Z" fill="#4f873a" stroke="#4f873a"/><path d="M171.7 200.8 174.5 197.2 171.4 193.4 168.7 197Z" fill="#3f8a38" stroke="#3f8a38"/><path d="M156.4 188.8 159 185.4 155.7 181.6 153.1 184.9Z" fill="#4b8639" stroke="#4b8639"/><path d="M155.6 206.1 157.9 203.1 154.7 199.1 152.4 202.2Z" fill="#3e8a38" stroke="#3e8a38"/><path d="M146.9 201.1 149.1 198.2 145.8 194.3 143.6 197.1Z" fill="#3f8837" stroke="#3f8837"/><path d="M177.3 193.6 180.2 189.9 177.1 186.2 174.2 189.8Z" fill="#418837" stroke="#418837"/><path d="M150.2 205 152.4 202.2 149.1 198.2 146.9 201.1Z" fill="#3e8a38" stroke="#3e8a38"/><path d="M165 185.8 167.9 182.3 164.6 178.5 161.8 182Z" fill="#50863a" stroke="#50863a"/><path d="M174.5 197.2 177.3 193.6 174.2 189.8 171.4 193.4Z" fill="#408937" stroke="#408937"/><path d="M163.5 203.8 166 200.4 162.9 196.5 160.4 199.9Z" fill="#3f8a38" stroke="#3f8a38"/><path d="M171.1 186 174 182.4 170.7 178.7 167.9 182.3Z" fill="#4f873a" stroke="#4f873a"/><path d="M153.9 192 156.4 188.8 153.1 184.9 150.5 188.2Z" fill="#458737" stroke="#458737"/><path d="M149.1 198.2 151.4 195.2 148.1 191.3 145.8 194.3Z" fill="#3f8837" stroke="#3f8837"/><path d="M151.4 195.2 153.9 192 150.5 188.2 148.1 191.3Z" fill="#408736" stroke="#408736"/><path d="M174.2 189.8 177.1 186.2 174 182.4 171.1 186Z" fill="#488838" stroke="#488838"/><path d="M152.4 202.2 154.7 199.1 151.4 195.2 149.1 198.2Z" fill="#3f8937" stroke="#3f8937"/><path d="M157.9 203.1 160.4 199.9 157.1 195.9 154.7 199.1Z" fill="#3f8a38" stroke="#3f8a38"/><path d="M162.3 189.3 165 185.8 161.8 182 159 185.4Z" fill="#4a8739" stroke="#4a8739"/><path d="M166 200.4 168.7 197 165.5 193.1 162.9 196.5Z" fill="#3f8937" stroke="#3f8937"/><path d="M171.4 193.4 174.2 189.8 171.1 186 168.3 189.6Z" fill="#428837" stroke="#428837"/><path d="M168.3 189.6 171.1 186 167.9 182.3 165 185.8Z" fill="#498738" stroke="#498738"/><path d="M154.7 199.1 157.1 195.9 153.9 192 151.4 195.2Z" fill="#3f8837" stroke="#3f8837"/><path d="M168.7 197 171.4 193.4 168.3 189.6 165.5 193.1Z" fill="#408937" stroke="#408937"/><path d="M159.7 192.7 162.3 189.3 159 185.4 156.4 188.8Z" fill="#448737" stroke="#448737"/><path d="M160.4 199.9 162.9 196.5 159.7 192.7 157.1 195.9Z" fill="#3f8937" stroke="#3f8937"/><path d="M157.1 195.9 159.7 192.7 156.4 188.8 153.9 192Z" fill="#408837" stroke="#408837"/><path d="M165.5 193.1 168.3 189.6 165 185.8 162.3 189.3Z" fill="#438837" stroke="#438837"/><path d="M162.9 196.5 165.5 193.1 162.3 189.3 159.7 192.7Z" fill="#408837" stroke="#408837"/></g><clipPath id="clipa"><path d="M47.5,126.9 49,125.5 50.5,124.2 52,122.9 53.5,122 55,120.7 56.5,119.4 58,118.1 59.5,117.2 61,115.9 62.5,114.7 64,113.4 65.5,112.6 67,111.4 68.5,110.1 70,108.9 71.5,108.1 73,106.9 74.5,105.8 76,104.6 77.5,103.8 79,102.7 80.5,101.6 82,100.4 83.5,99.7 85,98.6 86.5,97.5 88,96.5 89.5,95.4 91,94.7 92.5,93.7 94,92.7 95.5,91.7 97,90.7 98.5,89.7 100,89.1 101.5,88.2 103,87.2 104.5,86.3 106,85.4 107.5,84.6 109,84 110.5,83.2 112,82.3 113.5,81.5 115,80.8 116.5,80 118,79.2 119.5,78.5 121,78 122.5,77.3 124,76.6 125.5,76 127,75.3 128.5,74.7 130,74.1 131.5,73.5 133,73 134.5,72.4 136,71.9 137.5,71.4 139,70.9 140.5,70.5 142,70 143.5,69.6 145,69.2 146.5,68.8 148,68.5 149.5,68.2 151,67.9 152.5,67.6 154,67.3 155.5,67.1 157,66.9 158.5,66.7 160,66.5 161.5,66.3 163,66.2 164.5,66.1 166,66 167.5,65.9 169,65.8 170.5,65.7 172,65.6 173.5,65.5 175,65.4 176.5,65.3 178,65.3 179.5,65.2 181,65.2 182.5,65.1 184,65.1 185.5,65 187,65 188.5,65 190,65 191.5,65 193,65 194.5,65.1 196,65.2 197.5,65.2 199,65.3 200.5,65.5 202,65.6 203.5,65.8 205,66 206.5,66.2 208,66.4 209.5,66.6 211,66.8 212.5,67.1 214,67.4 215.5,67.7 217,68 218.5,68.4 220,68.8 221.5,69.2 223,69.5 224.5,69.9 226,70.4 227.5,70.9 229,71.3 230.5,71.8 232,72.4 233.5,72.8 235,73.5 236.5,74.1 238,74.8 239.5,75.3 241,76 242.5,76.8 244,77.3 245.5,78.1 247,78.9 248.5,79.5 250,80.4 251.5,81.3 253,82 254.5,82.9 256,83.9 257.5,84.6 259,85.7 260.5,86.8 262,87.5 263.5,88.7 265,89.4 266.5,90.6 268,91.9 269.5,92.7 271,94 272.5,95.3 274,96.2 275.5,97.6 277,99 278.5,100 280,101.4 281.5,102.9 283,103.9 284.5,105.5 286,107.1 287.5,108.2 289,109.8 290.5,111.5 292,112.7 293.5,114.4 295,116.2 296.5,118 298,119.3 299.5,121.1 301,123.1 301,124.9 299.5,125.7 298,126.9 296.5,127.8 295,128.7 293.5,129.7 292,130.7 290.5,132 289,133.1 287.5,134.2 286,135.3 284.5,136.5 283,137.6 281.5,138.8 280,140.1 278.5,141.3 277,142.6 275.5,143.9 274,145.3 272.5,146.6 271,148 269.5,149.4 268,150.9 266.5,152.4 265,153.8 263.5,155.4 262,156.9 260.5,158.5 259,160.1 257.5,161.7 256,163.3 254.5,165 253,166.1 251.5,167.8 250,169.5 248.5,171.2 247,173 245.5,174.7 244,176.5 242.5,177.8 241,179.6 239.5,181.4 238,183.3 236.5,185.2 235,187.1 233.5,188.4 232,190.3 230.5,192.3 229,194.2 227.5,196.2 226,198.2 224.5,199.6 223,201.6 221.5,203.7 220,205.7 218.5,207.8 217,209.2 215.5,211.3 214,213.4 212.5,215.5 211,217.7 209.5,219.1 208,221.3 206.5,223.5 205,225.6 203.5,227.8 202,229.3 200.5,231.5 199,233.8 197.5,236 196,238.3 194.5,239.8 193,242 191.5,244.3 190,246.6 188.5,248.9 187,250.4 185.5,252.7 184,255 182.5,257.4 181,259.7 179.5,261.2 178,262 176.5,259.4 175,256.8 173.5,255.1 172,252.5 170.5,250 169,248.3 167.5,245.8 166,243.3 164.5,241.7 163,239.2 161.5,236.8 160,235.2 158.5,232.9 157,231.3 155.5,229 154,226.6 152.5,225.1 151,222.9 149.5,221.4 148,219.1 146.5,216.9 145,215.5 143.5,213.3 142,211.2 140.5,209.8 139,207.7 137.5,206.3 136,204.3 134.5,202.2 133,200.9 131.5,198.9 130,197 128.5,195.7 127,193.7 125.5,191.8 124,190.6 122.5,188.7 121,186.9 119.5,185.7 118,183.9 116.5,182.1 115,181 113.5,179.3 112,177.5 110.5,176.4 109,174.8 107.5,173.1 106,172 104.5,170.4 103,168.9 101.5,167.3 100,166.3 98.5,164.8 97,163.3 95.5,161.8 94,160.8 92.5,159.4 91,157.9 89.5,156.6 88,155.6 86.5,154.3 85,152.9 83.5,151.6 82,150.3 80.5,149.4 79,148.2 77.5,146.9 76,145.7 74.5,144.5 73,143.3 71.5,142.1 70,141 68.5,139.8 67,139.1 65.5,138 64,136.9 62.5,135.8 61,134.8 59.5,133.7 58,132.7 56.5,131.7 55,130.7 53.5,129.7 52,128.8 50.5,127.8 49,126.9 47.5,126Z"/></clipPath><g clip-path="url(#clipa)"><g transform="translate(190.5 87.5) rotate(0)" fill="none" stroke="#200808"><ellipse cx="0" cy="0" rx="8" ry="1.6" stroke-width="2.2" stroke-opacity="0.35"/><ellipse cx="0" cy="0" rx="18.4" ry="3.8" stroke-width="1.8" stroke-opacity="0.45"/><ellipse cx="0" cy="0" rx="30.7" ry="6.6" stroke-width="1.8" stroke-opacity="0.4"/><ellipse cx="0" cy="0" rx="40.4" ry="9.2" stroke-width="1.8" stroke-opacity="0.38"/><ellipse cx="0" cy="0" rx="49.5" ry="11.8" stroke-width="1.6" stroke-opacity="0.34"/><ellipse cx="0" cy="0" rx="57.5" ry="14.2" stroke-width="1.5" stroke-opacity="0.3"/><ellipse cx="0" cy="0" rx="65" ry="16.8" stroke-width="1.4" stroke-opacity="0.26"/><ellipse cx="0" cy="0" rx="72" ry="19.5" stroke-width="1.3" stroke-opacity="0.22"/><ellipse cx="0" cy="0" rx="79" ry="22.5" stroke-width="1.2" stroke-opacity="0.18"/></g><g transform="translate(171.3 161.7) rotate(0)" fill="none" stroke="#e0e0a0"><ellipse cx="0" cy="0" rx="6" ry="2" stroke-width="2" stroke-opacity="0.07"/><ellipse cx="0" cy="0" rx="14" ry="4.6" stroke-width="1.8" stroke-opacity="0.07"/><ellipse cx="0" cy="0" rx="24" ry="8" stroke-width="1.8" stroke-opacity="0.065"/><ellipse cx="0" cy="0" rx="34" ry="11.2" stroke-width="1.8" stroke-opacity="0.06"/><ellipse cx="0" cy="0" rx="44" ry="14.5" stroke-width="1.6" stroke-opacity="0.05"/><ellipse cx="0" cy="0" rx="54" ry="18" stroke-width="1.5" stroke-opacity="0.045"/></g></g><circle cx="178.9" cy="262.3" r="2.4" fill="#e89090" stroke="#a04030" stroke-width="0.5"/><circle cx="302.7" cy="125.8" r="2.4" fill="#e89090" stroke="#a04030" stroke-width="0.5"/><circle cx="47.9" cy="126.3" r="2.4" fill="#cc0000" stroke="#800000" stroke-width="0.5"/><circle cx="243.5" cy="175.4" r="2.4" fill="#cc0000" stroke="#800000" stroke-width="0.5"/><circle cx="110.1" cy="175.1" r="2.4" fill="#cc0000" stroke="#800000" stroke-width="0.5"/><circle cx="235.5" cy="72.3" r="2.4" fill="#cc0000" stroke="#800000" stroke-width="0.5"/><circle cx="175.5" cy="106.2" r="2.4" fill="#cc0000" stroke="#800000" stroke-width="0.5"/><g class="tk" opacity="0.99"><text transform="matrix(1.05 0 0 1 182.6 301.1)">0.25</text><text transform="matrix(1.05 0 0 1 201.4 285)">1.25</text><text transform="matrix(1.05 0 0 1 220.2 268.9)">2.25</text><text transform="matrix(1.05 0 0 1 239 252.8)">3.25</text><text transform="matrix(1.05 0 0 1 257.8 236.7)">4.25</text><text transform="matrix(1.05 0 0 1 276.6 220.6)">5.25</text><text transform="matrix(1.05 0 0 1 295.4 204.5)">6.25</text><text transform="matrix(1.05 0 0 1 174.3 300.6)" text-anchor="end">10</text><text transform="matrix(1.05 0 0 1 157.3 287.4)" text-anchor="end">20</text><text transform="matrix(1.05 0 0 1 140.3 274.2)" text-anchor="end">30</text><text transform="matrix(1.05 0 0 1 123.3 261)" text-anchor="end">40</text><text transform="matrix(1.05 0 0 1 106.2 247.7)" text-anchor="end">50</text><text transform="matrix(1.05 0 0 1 89.2 234.5)" text-anchor="end">60</text><text transform="matrix(1.05 0 0 1 72.2 221.3)" text-anchor="end">70</text><text transform="matrix(1.05 0 0 1 55.2 208.1)" text-anchor="end">80</text><text transform="matrix(1.05 0 0 1 38.2 85.2)" text-anchor="end">230</text><text transform="matrix(1.05 0 0 1 41.6 107.3)" text-anchor="end">220</text><text transform="matrix(1.05 0 0 1 45.1 129.4)" text-anchor="end">210</text><text transform="matrix(1.05 0 0 1 48.5 151.5)" text-anchor="end">200</text><text transform="matrix(1.05 0 0 1 51.9 173.6)" text-anchor="end">190</text></g><g class="ti" opacity="0.99"><text transform="matrix(1.05 0 0 1 248.8 281.9)">A: Intensity</text><text transform="matrix(1.05 0 0 1 57 285.3)">B: Pulse</text><text transform="matrix(0 -1 1.05 0 12.3 197.4)">FRAP (µmol Iron/ml)</text></g><text class="cap" x="166.0" y="342.5">(a)</text><g><line x1="414.6" y1="75.1" x2="564.9" y2="2.6" class="te"/><line x1="564.9" y1="2.6" x2="680" y2="106.9" class="te"/><line x1="416.9" y1="88.5" x2="564.6" y2="16.5" class="gh"/><line x1="564.6" y1="16.5" x2="677.5" y2="120" class="gh"/><line x1="419.2" y1="101.9" x2="564.4" y2="30.5" class="gh"/><line x1="564.4" y1="30.5" x2="675" y2="133.2" class="gh"/><line x1="421.6" y1="115.2" x2="564.1" y2="44.4" class="gh"/><line x1="564.1" y1="44.4" x2="672.5" y2="146.3" class="gh"/><line x1="423.9" y1="128.6" x2="563.9" y2="58.4" class="gh"/><line x1="563.9" y1="58.4" x2="670" y2="159.5" class="gh"/><line x1="426.2" y1="142" x2="563.6" y2="72.3" class="gh"/><line x1="563.6" y1="72.3" x2="667.5" y2="172.6" class="gh"/><line x1="428.5" y1="155.4" x2="563.4" y2="86.3" class="gh"/><line x1="563.4" y1="86.3" x2="665" y2="185.8" class="gh"/><line x1="445.4" y1="146.7" x2="433.4" y2="66" class="gv"/><line x1="462.3" y1="138.1" x2="452.2" y2="57" class="gv"/><line x1="479.1" y1="129.5" x2="470.9" y2="47.9" class="gv"/><line x1="496" y1="120.8" x2="489.7" y2="38.8" class="gv"/><line x1="512.8" y1="112.2" x2="508.5" y2="29.8" class="gv"/><line x1="529.7" y1="103.6" x2="527.3" y2="20.7" class="gv"/><line x1="546.6" y1="94.9" x2="546.1" y2="11.7" class="gv"/><line x1="648" y1="169.2" x2="660.8" y2="89.5" class="gv"/><line x1="631.1" y1="152.6" x2="641.6" y2="72.1" class="gv"/><line x1="614.2" y1="136" x2="622.4" y2="54.8" class="gv"/><line x1="597.3" y1="119.4" x2="603.2" y2="37.4" class="gv"/><line x1="580.3" y1="102.9" x2="584" y2="20" class="gv"/><line x1="432.5" y1="178.1" x2="414.6" y2="75.1" class="ev"/><line x1="660.7" y1="208.1" x2="680" y2="106.9" class="ev"/><line x1="563" y1="110" x2="564.9" y2="2.6" class="eb"/></g><path d="M525.3,291 L660.7,208.1 L563,110 L432.5,178.1 Z" fill="#ffff00" stroke="#6b6b00" stroke-width="0.5"/><g fill="none" stroke-width="0.8"><polyline points="531.4,287.2 530.3,286.8 530.1,286.7 528.7,286.1 527.7,285.7 527.3,285.5 525.9,285 525.2,284.7 524.5,284.4 523.2,283.8 522.6,283.6 521.8,283.3 520.4,282.7 520,282.5 519,282.1 517.7,281.5 517.4,281.4" stroke="#40d870" stroke-opacity="0.8"/><polyline points="535.8,124.2 535.9,124.2 537.4,124.6 538,124.8 539,125 540.2,125.3 540.6,125.5 542.2,125.9 542.4,125.9 543.8,126.3 544.6,126.5 545.4,126.7 546.8,127.1 547,127.2 548.5,127.6 549.1,127.8 550.1,128.1 551.4,128.4 551.6,128.5 553.2,128.9 553.6,129.1 554.7,129.4 556,129.8 556.2,129.9 557.8,130.3 558.3,130.5 559.3,130.8 560.7,131.2 560.8,131.2 562.3,131.7 563,131.9 563.8,132.2 565.3,132.6 565.4,132.7 566.7,133.1 567.9,133.5 568.2,133.6 569.7,134 570.3,134.3 571.1,134.5 572.6,135 572.8,135.1 574,135.5 575.3,135.9 575.5,136 576.9,136.5 577.8,136.8 578.3,136.9 579.8,137.4 580.4,137.6 581.2,137.9 582.6,138.4 582.9,138.5 584,138.9 585.4,139.4 585.5,139.4 586.8,139.9 588.2,140.4 588.2,140.4 589.6,140.9 590.8,141.3 591,141.4 592.4,141.9 593.5,142.3 593.8,142.4 595.1,142.9 596.2,143.3" stroke="#40d870" stroke-opacity="0.8"/><polyline points="547.8,277.2 546.4,276.7 545.4,276.3 545,276.2 543.6,275.6 542.9,275.3 542.2,275.1 540.8,274.5 540.3,274.4 539.4,274 538,273.4 537.8,273.4 536.6,272.9 535.2,272.3 535.2,272.3 533.8,271.8 532.7,271.3 532.4,271.2 531,270.7 530.1,270.3 529.6,270.1 528.2,269.5 527.6,269.3 526.9,269 525.5,268.4 525,268.2 524.1,267.8 522.7,267.3 522.5,267.2 521.3,266.7 520,266.1 519.9,266.1 518.6,265.5 517.3,265 517.2,265 515.9,264.4 514.7,263.9 514.5,263.8 513.1,263.2 512.1,262.8 511.8,262.6 510.4,262 509.5,261.6 509.1,261.4 507.7,260.9 506.8,260.5 506.4,260.3 505,259.7 504.2,259.3 503.7,259 502.4,258.4 501.5,258.1 501,257.8 499.7,257.2 498.9,256.8 498.4,256.6 497.1,256 496.2,255.6" stroke="#50d860" stroke-opacity="0.8"/><polyline points="522.4,131.2 523.1,131.4 524.1,131.6 525.1,131.8 525.8,132 527.2,132.3 527.5,132.3 529.2,132.7 529.3,132.7 530.9,133.1 531.3,133.2 532.6,133.5 533.4,133.7 534.2,133.9 535.6,134.2 535.9,134.3 537.5,134.7 537.7,134.8 539.1,135.1 539.9,135.3 540.7,135.6 542.1,135.9 542.3,136 543.9,136.4 544.3,136.5 545.5,136.8 546.5,137.1 547.1,137.3 548.6,137.7 548.8,137.8 550.2,138.2 551.1,138.4 551.7,138.6 553.2,139.1 553.4,139.1 554.8,139.5 555.7,139.8 556.3,140 557.8,140.4 558.1,140.5 559.3,140.9 560.4,141.3 560.8,141.4 562.3,141.8 562.8,142 563.8,142.3 565.2,142.8 565.3,142.8 566.7,143.3 567.7,143.6 568.1,143.8 569.6,144.2 570.2,144.4 571,144.7 572.5,145.2 572.7,145.3 573.9,145.7 575.2,146.2 575.3,146.2 576.8,146.7 577.8,147.1 578.2,147.2 579.6,147.7 580.4,148 581,148.2 582.4,148.7 583,149 583.8,149.2 585.2,149.7 585.7,149.9 586.5,150.2 587.9,150.8 588.4,150.9 589.3,151.3 590.6,151.8 591.1,152 592,152.3 593.4,152.8 593.8,153 594.7,153.4 596.1,153.9 596.6,154.1 597.4,154.4 598.7,154.9 599.4,155.2 600.1,155.5 601.4,156 602.2,156.3 602.7,156.5 604.1,157.1 605.1,157.5 605.4,157.6 606.7,158.1 608,158.7 608,158.7 609.3,159.2 610.6,159.7 610.9,159.9 611.9,160.3 613.2,160.8 613.9,161.1" stroke="#50d860" stroke-opacity="0.8"/></g><g fill="#111"><circle cx="525.3" cy="291" r="1"/><circle cx="542.2" cy="280.6" r="1"/><circle cx="559.1" cy="270.3" r="1"/><circle cx="576.1" cy="259.9" r="1"/><circle cx="593" cy="249.6" r="1"/><circle cx="609.9" cy="239.2" r="1"/><circle cx="626.9" cy="228.8" r="1"/><circle cx="643.8" cy="218.5" r="1"/><circle cx="660.7" cy="208.1" r="1"/><circle cx="525.3" cy="291" r="1"/><circle cx="509.8" cy="272.2" r="1"/><circle cx="494.4" cy="253.4" r="1"/><circle cx="478.9" cy="234.6" r="1"/><circle cx="463.4" cy="215.7" r="1"/><circle cx="448" cy="196.9" r="1"/><circle cx="432.5" cy="178.1" r="1"/><circle cx="414.6" cy="75.1" r="1"/><circle cx="416.9" cy="88.5" r="1"/><circle cx="419.2" cy="101.9" r="1"/><circle cx="421.6" cy="115.2" r="1"/><circle cx="423.9" cy="128.6" r="1"/><circle cx="426.2" cy="142" r="1"/><circle cx="428.5" cy="155.4" r="1"/></g><circle cx="615.1" cy="98.6" r="2.4" fill="#e89090" stroke="#a04030" stroke-width="0.5"/><g stroke-width="0.5"><path d="M562.7 85 565.8 87.1 563.4 87.3 560.3 85.1Z" fill="#030210" stroke="#030210"/><path d="M565.1 84.9 568.2 87 565.8 87.1 562.7 85Z" fill="#02020b" stroke="#02020b"/><path d="M559.6 82.9 562.7 85 560.3 85.1 557.2 83Z" fill="#010109" stroke="#010109"/><path d="M567.6 85 570.7 87 568.2 87 565.1 84.9Z" fill="#010105" stroke="#010105"/><path d="M562 83 565.1 84.9 562.7 85 559.6 82.9Z" fill="#010003" stroke="#010003"/><path d="M556.4 81.1 559.6 82.9 557.2 83 554 81.1Z" fill="#000002" stroke="#000002"/><path d="M570 85.1 573.1 87.1 570.7 87 567.6 85Z" fill="#000001" stroke="#000001"/><path d="M564.4 83.1 567.6 85 565.1 84.9 562 83Z" fill="#000000" stroke="#000000"/><path d="M558.8 81.1 562 83 559.6 82.9 556.4 81.1Z" fill="#000000" stroke="#000000"/><path d="M553.1 79.3 556.4 81.1 554 81.1 550.8 79.3Z" fill="#000000" stroke="#000000"/><path d="M572.5 85.3 575.6 87.2 573.1 87.1 570 85.1Z" fill="#000000" stroke="#000000"/><path d="M566.9 83.2 570 85.1 567.6 85 564.4 83.1Z" fill="#000000" stroke="#000000"/><path d="M561.2 81.3 564.4 83.1 562 83 558.8 81.1Z" fill="#000000" stroke="#000000"/><path d="M555.5 79.5 558.8 81.1 556.4 81.1 553.1 79.3Z" fill="#000000" stroke="#000000"/><path d="M549.9 77.7 553.1 79.3 550.8 79.3 547.5 77.6Z" fill="#000000" stroke="#000000"/><path d="M575 85.6 578.1 87.5 575.6 87.2 572.5 85.3Z" fill="#000000" stroke="#000000"/><path d="M569.4 83.5 572.5 85.3 570 85.1 566.9 83.2Z" fill="#000000" stroke="#000000"/><path d="M563.7 81.5 566.9 83.2 564.4 83.1 561.2 81.3Z" fill="#000000" stroke="#000000"/><path d="M558 79.7 561.2 81.3 558.8 81.1 555.5 79.5Z" fill="#000000" stroke="#000000"/><path d="M577.6 86 580.7 87.8 578.1 87.5 575 85.6Z" fill="#000000" stroke="#000000"/><path d="M552.3 77.9 555.5 79.5 553.1 79.3 549.9 77.7Z" fill="#000000" stroke="#000000"/><path d="M546.5 76.3 549.9 77.7 547.5 77.6 544.2 76.1Z" fill="#000000" stroke="#000000"/><path d="M571.9 83.9 575 85.6 572.5 85.3 569.4 83.5Z" fill="#000000" stroke="#000000"/><path d="M566.2 81.9 569.4 83.5 566.9 83.2 563.7 81.5Z" fill="#000000" stroke="#000000"/><path d="M560.4 80 563.7 81.5 561.2 81.3 558 79.7Z" fill="#000000" stroke="#000000"/><path d="M580.1 86.4 583.2 88.2 580.7 87.8 577.6 86Z" fill="#000000" stroke="#000000"/><path d="M554.7 78.2 558 79.7 555.5 79.5 552.3 77.9Z" fill="#000000" stroke="#000000"/><path d="M548.9 76.5 552.3 77.9 549.9 77.7 546.5 76.3Z" fill="#000000" stroke="#000000"/><path d="M574.4 84.3 577.6 86 575 85.6 571.9 83.9Z" fill="#000000" stroke="#000000"/><path d="M543.2 75 546.5 76.3 544.2 76.1 540.8 74.7Z" fill="#000000" stroke="#000000"/><path d="M568.7 82.3 571.9 83.9 569.4 83.5 566.2 81.9Z" fill="#000000" stroke="#000000"/><path d="M562.9 80.4 566.2 81.9 563.7 81.5 560.4 80Z" fill="#000000" stroke="#000000"/><path d="M582.7 87 585.8 88.6 583.2 88.2 580.1 86.4Z" fill="#000000" stroke="#000000"/><path d="M557.2 78.6 560.4 80 558 79.7 554.7 78.2Z" fill="#000000" stroke="#000000"/><path d="M551.4 76.9 554.7 78.2 552.3 77.9 548.9 76.5Z" fill="#000000" stroke="#000000"/><path d="M577 84.8 580.1 86.4 577.6 86 574.4 84.3Z" fill="#000000" stroke="#000000"/><path d="M545.6 75.3 548.9 76.5 546.5 76.3 543.2 75Z" fill="#000000" stroke="#000000"/><path d="M539.8 73.8 543.2 75 540.8 74.7 537.4 73.5Z" fill="#000000" stroke="#000000"/><path d="M571.2 82.8 574.4 84.3 571.9 83.9 568.7 82.3Z" fill="#000000" stroke="#000000"/><path d="M565.4 80.9 568.7 82.3 566.2 81.9 562.9 80.4Z" fill="#000000" stroke="#000000"/><path d="M585.3 87.6 588.4 89.2 585.8 88.6 582.7 87Z" fill="#000000" stroke="#000000"/><path d="M559.6 79 562.9 80.4 560.4 80 557.2 78.6Z" fill="#000000" stroke="#000000"/><path d="M579.5 85.4 582.7 87 580.1 86.4 577 84.8Z" fill="#000000" stroke="#000000"/><path d="M553.8 77.3 557.2 78.6 554.7 78.2 551.4 76.9Z" fill="#000000" stroke="#000000"/><path d="M548 75.7 551.4 76.9 548.9 76.5 545.6 75.3Z" fill="#000000" stroke="#000000"/><path d="M573.8 83.4 577 84.8 574.4 84.3 571.2 82.8Z" fill="#000000" stroke="#000000"/><path d="M542.2 74.2 545.6 75.3 543.2 75 539.8 73.8Z" fill="#000000" stroke="#000000"/><path d="M536.3 72.8 539.8 73.8 537.4 73.5 534 72.4Z" fill="#000000" stroke="#000000"/><path d="M568 81.4 571.2 82.8 568.7 82.3 565.4 80.9Z" fill="#000000" stroke="#000000"/><path d="M587.9 88.3 591 89.8 588.4 89.2 585.3 87.6Z" fill="#000000" stroke="#000000"/><path d="M562.1 79.6 565.4 80.9 562.9 80.4 559.6 79Z" fill="#000000" stroke="#000000"/><path d="M582.1 86.1 585.3 87.6 582.7 87 579.5 85.4Z" fill="#000000" stroke="#000000"/><path d="M556.3 77.8 559.6 79 557.2 78.6 553.8 77.3Z" fill="#000000" stroke="#000000"/><path d="M550.5 76.2 553.8 77.3 551.4 76.9 548 75.7Z" fill="#000000" stroke="#000000"/><path d="M576.3 84.1 579.5 85.4 577 84.8 573.8 83.4Z" fill="#000000" stroke="#000000"/><path d="M544.6 74.7 548 75.7 545.6 75.3 542.2 74.2Z" fill="#000000" stroke="#000000"/><path d="M538.7 73.3 542.2 74.2 539.8 73.8 536.3 72.8Z" fill="#000000" stroke="#000000"/><path d="M532.9 71.9 536.3 72.8 534 72.4 530.5 71.5Z" fill="#000000" stroke="#000000"/><path d="M570.5 82.1 573.8 83.4 571.2 82.8 568 81.4Z" fill="#000000" stroke="#000000"/><path d="M590.6 89.1 593.7 90.5 591 89.8 587.9 88.3Z" fill="#000000" stroke="#000000"/><path d="M564.7 80.2 568 81.4 565.4 80.9 562.1 79.6Z" fill="#000000" stroke="#000000"/><path d="M584.8 86.9 587.9 88.3 585.3 87.6 582.1 86.1Z" fill="#000000" stroke="#000000"/><path d="M558.8 78.5 562.1 79.6 559.6 79 556.3 77.8Z" fill="#000000" stroke="#000000"/><path d="M552.9 76.8 556.3 77.8 553.8 77.3 550.5 76.2Z" fill="#000000" stroke="#000000"/><path d="M578.9 84.8 582.1 86.1 579.5 85.4 576.3 84.1Z" fill="#000000" stroke="#000000"/><path d="M547 75.2 550.5 76.2 548 75.7 544.6 74.7Z" fill="#000000" stroke="#000000"/><path d="M541.2 73.8 544.6 74.7 542.2 74.2 538.7 73.3Z" fill="#000000" stroke="#000000"/><path d="M573.1 82.8 576.3 84.1 573.8 83.4 570.5 82.1Z" fill="#000000" stroke="#000000"/><path d="M593.2 89.9 596.3 91.3 593.7 90.5 590.6 89.1Z" fill="#000000" stroke="#000000"/><path d="M535.3 72.5 538.7 73.3 536.3 72.8 532.9 71.9Z" fill="#000000" stroke="#000000"/><path d="M529.4 71.2 532.9 71.9 530.5 71.5 527 70.8Z" fill="#000000" stroke="#000000"/><path d="M567.2 80.9 570.5 82.1 568 81.4 564.7 80.2Z" fill="#000000" stroke="#000000"/><path d="M587.4 87.7 590.6 89.1 587.9 88.3 584.8 86.9Z" fill="#000000" stroke="#000000"/><path d="M561.3 79.2 564.7 80.2 562.1 79.6 558.8 78.5Z" fill="#000000" stroke="#000000"/><path d="M581.5 85.6 584.8 86.9 582.1 86.1 578.9 84.8Z" fill="#000000" stroke="#000000"/><path d="M555.4 77.5 558.8 78.5 556.3 77.8 552.9 76.8Z" fill="#000000" stroke="#000000"/><path d="M549.5 75.9 552.9 76.8 550.5 76.2 547 75.2Z" fill="#000000" stroke="#000000"/><path d="M595.9 90.8 599 92.2 596.3 91.3 593.2 89.9Z" fill="#000000" stroke="#000000"/><path d="M543.6 74.4 547 75.2 544.6 74.7 541.2 73.8Z" fill="#000000" stroke="#000000"/><path d="M575.7 83.6 578.9 84.8 576.3 84.1 573.1 82.8Z" fill="#000000" stroke="#000000"/><path d="M537.7 73.1 541.2 73.8 538.7 73.3 535.3 72.5Z" fill="#000000" stroke="#000000"/><path d="M531.8 71.8 535.3 72.5 532.9 71.9 529.4 71.2Z" fill="#000000" stroke="#000000"/><path d="M525.8 70.7 529.4 71.2 527 70.8 523.5 70.1Z" fill="#000000" stroke="#000000"/><path d="M569.8 81.7 573.1 82.8 570.5 82.1 567.2 80.9Z" fill="#000000" stroke="#000000"/><path d="M590 88.6 593.2 89.9 590.6 89.1 587.4 87.7Z" fill="#000000" stroke="#000000"/><path d="M563.9 79.9 567.2 80.9 564.7 80.2 561.3 79.2Z" fill="#000000" stroke="#000000"/><path d="M584.2 86.6 587.4 87.7 584.8 86.9 581.5 85.6Z" fill="#000000" stroke="#000000"/><path d="M557.9 78.2 561.3 79.2 558.8 78.5 555.4 77.5Z" fill="#000000" stroke="#000000"/><path d="M552 76.6 555.4 77.5 552.9 76.8 549.5 75.9Z" fill="#000000" stroke="#000000"/><path d="M598.6 91.8 601.7 93.1 599 92.2 595.9 90.8Z" fill="#000000" stroke="#000000"/><path d="M578.3 84.5 581.5 85.6 578.9 84.8 575.7 83.6Z" fill="#000000" stroke="#000000"/><path d="M546.1 75.1 549.5 75.9 547 75.2 543.6 74.4Z" fill="#000000" stroke="#000000"/><path d="M540.1 73.8 543.6 74.4 541.2 73.8 537.7 73.1Z" fill="#000000" stroke="#000000"/><path d="M534.2 72.5 537.7 73.1 535.3 72.5 531.8 71.8Z" fill="#000000" stroke="#000000"/><path d="M522.3 70.3 525.8 70.7 523.5 70.1 519.9 69.7Z" fill="#000000" stroke="#000000"/><path d="M528.2 71.3 531.8 71.8 529.4 71.2 525.8 70.7Z" fill="#000000" stroke="#000000"/><path d="M572.4 82.6 575.7 83.6 573.1 82.8 569.8 81.7Z" fill="#000000" stroke="#000000"/><path d="M592.7 89.6 595.9 90.8 593.2 89.9 590 88.6Z" fill="#000000" stroke="#000000"/><path d="M566.4 80.8 569.8 81.7 567.2 80.9 563.9 79.9Z" fill="#000000" stroke="#000000"/><path d="M586.8 87.5 590 88.6 587.4 87.7 584.2 86.6Z" fill="#000000" stroke="#000000"/><path d="M560.5 79.1 563.9 79.9 561.3 79.2 557.9 78.2Z" fill="#000000" stroke="#000000"/><path d="M601.3 92.9 604.4 94.1 601.7 93.1 598.6 91.8Z" fill="#000000" stroke="#000000"/><path d="M554.5 77.5 557.9 78.2 555.4 77.5 552 76.6Z" fill="#000000" stroke="#000000"/><path d="M580.9 85.5 584.2 86.6 581.5 85.6 578.3 84.5Z" fill="#000000" stroke="#000000"/><path d="M548.6 76 552 76.6 549.5 75.9 546.1 75.1Z" fill="#000000" stroke="#000000"/><path d="M542.6 74.6 546.1 75.1 543.6 74.4 540.1 73.8Z" fill="#000000" stroke="#000000"/><path d="M536.6 73.3 540.1 73.8 537.7 73.1 534.2 72.5Z" fill="#000000" stroke="#000000"/><path d="M518.7 70 522.3 70.3 519.9 69.7 516.3 69.4Z" fill="#000000" stroke="#000000"/><path d="M575 83.6 578.3 84.5 575.7 83.6 572.4 82.6Z" fill="#000000" stroke="#000000"/><path d="M595.4 90.7 598.6 91.8 595.9 90.8 592.7 89.6Z" fill="#000000" stroke="#000000"/><path d="M530.6 72.1 534.2 72.5 531.8 71.8 528.2 71.3Z" fill="#000000" stroke="#000000"/><path d="M524.6 71 528.2 71.3 525.8 70.7 522.3 70.3Z" fill="#000000" stroke="#000000"/><path d="M569 81.8 572.4 82.6 569.8 81.7 566.4 80.8Z" fill="#000000" stroke="#000000"/><path d="M589.5 88.6 592.7 89.6 590 88.6 586.8 87.5Z" fill="#000000" stroke="#000000"/><path d="M563 80 566.4 80.8 563.9 79.9 560.5 79.1Z" fill="#000000" stroke="#000000"/><path d="M604 94.1 607.2 95.2 604.4 94.1 601.3 92.9Z" fill="#000000" stroke="#000000"/><path d="M557.1 78.4 560.5 79.1 557.9 78.2 554.5 77.5Z" fill="#000000" stroke="#000000"/><path d="M583.6 86.6 586.8 87.5 584.2 86.6 580.9 85.5Z" fill="#000000" stroke="#000000"/><path d="M551.1 76.9 554.5 77.5 552 76.6 548.6 76Z" fill="#000000" stroke="#000000"/><path d="M545.1 75.4 548.6 76 546.1 75.1 542.6 74.6Z" fill="#000000" stroke="#000000"/><path d="M515.1 70 518.7 70 516.3 69.4 512.7 69.2Z" fill="#000000" stroke="#000000"/><path d="M598.1 91.9 601.3 92.9 598.6 91.8 595.4 90.7Z" fill="#000000" stroke="#000000"/><path d="M577.6 84.7 580.9 85.5 578.3 84.5 575 83.6Z" fill="#000000" stroke="#000000"/><path d="M539.1 74.1 542.6 74.6 540.1 73.8 536.6 73.3Z" fill="#000000" stroke="#000000"/><path d="M521 70.8 524.6 71 522.3 70.3 518.7 70Z" fill="#000000" stroke="#000000"/><path d="M533.1 72.9 536.6 73.3 534.2 72.5 530.6 72.1Z" fill="#000000" stroke="#000000"/><path d="M527 71.8 530.6 72.1 528.2 71.3 524.6 71Z" fill="#000000" stroke="#000000"/><path d="M571.6 82.8 575 83.6 572.4 82.6 569 81.8Z" fill="#000000" stroke="#000000"/><path d="M592.2 89.8 595.4 90.7 592.7 89.6 589.5 88.6Z" fill="#000000" stroke="#000000"/><path d="M565.6 81.1 569 81.8 566.4 80.8 563 80Z" fill="#000000" stroke="#000000"/><path d="M606.8 95.3 609.9 96.4 607.2 95.2 604 94.1Z" fill="#000000" stroke="#000000"/><path d="M586.2 87.7 589.5 88.6 586.8 87.5 583.6 86.6Z" fill="#000000" stroke="#000000"/><path d="M559.6 79.4 563 80 560.5 79.1 557.1 78.4Z" fill="#000000" stroke="#000000"/><path d="M553.6 77.9 557.1 78.4 554.5 77.5 551.1 76.9Z" fill="#000000" stroke="#000000"/><path d="M511.4 70 515.1 70 512.7 69.2 509.1 69.2Z" fill="#000000" stroke="#000000"/><path d="M600.9 93.1 604 94.1 601.3 92.9 598.1 91.9Z" fill="#000000" stroke="#000000"/><path d="M547.6 76.4 551.1 76.9 548.6 76 545.1 75.4Z" fill="#000000" stroke="#000000"/><path d="M580.3 85.8 583.6 86.6 580.9 85.5 577.6 84.7Z" fill="#000000" stroke="#000000"/><path d="M517.4 70.8 521 70.8 518.7 70 515.1 70Z" fill="#000000" stroke="#000000"/><path d="M541.5 75.1 545.1 75.4 542.6 74.6 539.1 74.1Z" fill="#000000" stroke="#000000"/><path d="M523.4 71.7 527 71.8 524.6 71 521 70.8Z" fill="#000000" stroke="#000000"/><path d="M535.5 73.8 539.1 74.1 536.6 73.3 533.1 72.9Z" fill="#000000" stroke="#000000"/><path d="M529.5 72.7 533.1 72.9 530.6 72.1 527 71.8Z" fill="#000000" stroke="#000000"/><path d="M574.3 83.9 577.6 84.7 575 83.6 571.6 82.8Z" fill="#000000" stroke="#000000"/><path d="M594.9 91 598.1 91.9 595.4 90.7 592.2 89.8Z" fill="#000000" stroke="#000000"/><path d="M568.2 82.2 571.6 82.8 569 81.8 565.6 81.1Z" fill="#000000" stroke="#000000"/><path d="M609.6 96.6 612.7 97.6 609.9 96.4 606.8 95.3Z" fill="#000000" stroke="#000000"/><path d="M588.9 88.9 592.2 89.8 589.5 88.6 586.2 87.7Z" fill="#000000" stroke="#000000"/><path d="M562.2 80.5 565.6 81.1 563 80 559.6 79.4Z" fill="#000000" stroke="#000000"/><path d="M556.2 78.9 559.6 79.4 557.1 78.4 553.6 77.9Z" fill="#000000" stroke="#000000"/><path d="M507.8 70.2 511.4 70 509.1 69.2 505.4 69.4Z" fill="#000000" stroke="#000000"/><path d="M603.6 94.4 606.8 95.3 604 94.1 600.9 93.1Z" fill="#000000" stroke="#000000"/><path d="M582.9 87 586.2 87.7 583.6 86.6 580.3 85.8Z" fill="#000000" stroke="#000000"/><path d="M550.1 77.5 553.6 77.9 551.1 76.9 547.6 76.4Z" fill="#000000" stroke="#000000"/><path d="M513.8 70.9 517.4 70.8 515.1 70 511.4 70Z" fill="#000000" stroke="#000000"/><path d="M544.1 76.1 547.6 76.4 545.1 75.4 541.5 75.1Z" fill="#000000" stroke="#000000"/><path d="M519.8 71.7 523.4 71.7 521 70.8 517.4 70.8Z" fill="#000000" stroke="#000000"/><path d="M538 74.8 541.5 75.1 539.1 74.1 535.5 73.8Z" fill="#000000" stroke="#000000"/><path d="M525.9 72.7 529.5 72.7 527 71.8 523.4 71.7Z" fill="#000000" stroke="#000000"/><path d="M531.9 73.7 535.5 73.8 533.1 72.9 529.5 72.7Z" fill="#000000" stroke="#000000"/><path d="M576.9 85.1 580.3 85.8 577.6 84.7 574.3 83.9Z" fill="#000000" stroke="#000000"/><path d="M597.6 92.3 600.9 93.1 598.1 91.9 594.9 91Z" fill="#000000" stroke="#000000"/><path d="M612.4 98 615.5 98.9 612.7 97.6 609.6 96.6Z" fill="#000000" stroke="#000000"/><path d="M570.9 83.4 574.3 83.9 571.6 82.8 568.2 82.2Z" fill="#000000" stroke="#000000"/><path d="M591.6 90.2 594.9 91 592.2 89.8 588.9 88.9Z" fill="#000000" stroke="#000000"/><path d="M564.8 81.7 568.2 82.2 565.6 81.1 562.2 80.5Z" fill="#000000" stroke="#000000"/><path d="M504.1 70.6 507.8 70.2 505.4 69.4 501.7 69.7Z" fill="#000000" stroke="#000000"/><path d="M558.7 80.1 562.2 80.5 559.6 79.4 556.2 78.9Z" fill="#000000" stroke="#000000"/><path d="M606.4 95.8 609.6 96.6 606.8 95.3 603.6 94.4Z" fill="#000000" stroke="#000000"/><path d="M585.6 88.3 588.9 88.9 586.2 87.7 582.9 87Z" fill="#000000" stroke="#000000"/><path d="M510.1 71.2 513.8 70.9 511.4 70 507.8 70.2Z" fill="#000000" stroke="#000000"/><path d="M552.7 78.6 556.2 78.9 553.6 77.9 550.1 77.5Z" fill="#000000" stroke="#000000"/><path d="M516.2 71.9 519.8 71.7 517.4 70.8 513.8 70.9Z" fill="#000000" stroke="#000000"/><path d="M546.6 77.2 550.1 77.5 547.6 76.4 544.1 76.1Z" fill="#000000" stroke="#000000"/><path d="M522.2 72.8 525.9 72.7 523.4 71.7 519.8 71.7Z" fill="#000000" stroke="#000000"/><path d="M540.5 75.9 544.1 76.1 541.5 75.1 538 74.8Z" fill="#000000" stroke="#000000"/><path d="M528.3 73.7 531.9 73.7 529.5 72.7 525.9 72.7Z" fill="#000000" stroke="#000000"/><path d="M534.4 74.8 538 74.8 535.5 73.8 531.9 73.7Z" fill="#000000" stroke="#000000"/><path d="M579.6 86.4 582.9 87 580.3 85.8 576.9 85.1Z" fill="#000000" stroke="#000000"/><path d="M600.4 93.7 603.6 94.4 600.9 93.1 597.6 92.3Z" fill="#000000" stroke="#000000"/><path d="M615.2 99.4 618.3 100.2 615.5 98.9 612.4 98Z" fill="#000000" stroke="#000000"/><path d="M573.5 84.6 576.9 85.1 574.3 83.9 570.9 83.4Z" fill="#000000" stroke="#000000"/><path d="M594.4 91.6 597.6 92.3 594.9 91 591.6 90.2Z" fill="#000000" stroke="#000000"/><path d="M500.4 71.1 504.1 70.6 501.7 69.7 498 70.1Z" fill="#000000" stroke="#000000"/><path d="M567.4 82.9 570.9 83.4 568.2 82.2 564.8 81.7Z" fill="#000000" stroke="#000000"/><path d="M609.2 97.2 612.4 98 609.6 96.6 606.4 95.8Z" fill="#000000" stroke="#000000"/><path d="M506.4 71.6 510.1 71.2 507.8 70.2 504.1 70.6Z" fill="#000000" stroke="#000000"/><path d="M561.3 81.3 564.8 81.7 562.2 80.5 558.7 80.1Z" fill="#000000" stroke="#000000"/><path d="M588.3 89.6 591.6 90.2 588.9 88.9 585.6 88.3Z" fill="#000000" stroke="#000000"/><path d="M512.5 72.3 516.2 71.9 513.8 70.9 510.1 71.2Z" fill="#000000" stroke="#000000"/><path d="M555.2 79.8 558.7 80.1 556.2 78.9 552.7 78.6Z" fill="#000000" stroke="#000000"/><path d="M518.6 73 522.2 72.8 519.8 71.7 516.2 71.9Z" fill="#000000" stroke="#000000"/><path d="M549.1 78.4 552.7 78.6 550.1 77.5 546.6 77.2Z" fill="#000000" stroke="#000000"/><path d="M582.3 87.8 585.6 88.3 582.9 87 579.6 86.4Z" fill="#000000" stroke="#000000"/><path d="M524.7 73.9 528.3 73.7 525.9 72.7 522.2 72.8Z" fill="#000000" stroke="#000000"/><path d="M543 77.1 546.6 77.2 544.1 76.1 540.5 75.9Z" fill="#000000" stroke="#000000"/><path d="M603.2 95.1 606.4 95.8 603.6 94.4 600.4 93.7Z" fill="#000000" stroke="#000000"/><path d="M530.8 74.9 534.4 74.8 531.9 73.7 528.3 73.7Z" fill="#000000" stroke="#000000"/><path d="M536.9 76 540.5 75.9 538 74.8 534.4 74.8Z" fill="#000000" stroke="#000000"/><path d="M618 100.9 621.1 101.7 618.3 100.2 615.2 99.4Z" fill="#000000" stroke="#000000"/><path d="M576.2 86 579.6 86.4 576.9 85.1 573.5 84.6Z" fill="#000000" stroke="#000000"/><path d="M496.7 71.8 500.4 71.1 498 70.1 494.3 70.7Z" fill="#020102" stroke="#020102"/><path d="M597.1 93.1 600.4 93.7 597.6 92.3 594.4 91.6Z" fill="#000000" stroke="#000000"/><path d="M570.1 84.3 573.5 84.6 570.9 83.4 567.4 82.9Z" fill="#000000" stroke="#000000"/><path d="M502.7 72.2 506.4 71.6 504.1 70.6 500.4 71.1Z" fill="#030202" stroke="#030202"/><path d="M612 98.7 615.2 99.4 612.4 98 609.2 97.2Z" fill="#000000" stroke="#000000"/><path d="M564 82.7 567.4 82.9 564.8 81.7 561.3 81.3Z" fill="#000000" stroke="#000000"/><path d="M591 91.1 594.4 91.6 591.6 90.2 588.3 89.6Z" fill="#000000" stroke="#000000"/><path d="M508.8 72.8 512.5 72.3 510.1 71.2 506.4 71.6Z" fill="#020102" stroke="#020102"/><path d="M557.8 81.2 561.3 81.3 558.7 80.1 555.2 79.8Z" fill="#000000" stroke="#000000"/><path d="M514.9 73.4 518.6 73 516.2 71.9 512.5 72.3Z" fill="#020101" stroke="#020101"/><path d="M551.7 79.7 555.2 79.8 552.7 78.6 549.1 78.4Z" fill="#000000" stroke="#000000"/><path d="M605.9 96.6 609.2 97.2 606.4 95.8 603.2 95.1Z" fill="#000000" stroke="#000000"/><path d="M521 74.2 524.7 73.9 522.2 72.8 518.6 73Z" fill="#010001" stroke="#010001"/><path d="M585 89.2 588.3 89.6 585.6 88.3 582.3 87.8Z" fill="#000000" stroke="#000000"/><path d="M545.6 78.4 549.1 78.4 546.6 77.2 543 77.1Z" fill="#000000" stroke="#000000"/><path d="M527.2 75.1 530.8 74.9 528.3 73.7 524.7 73.9Z" fill="#000000" stroke="#000000"/><path d="M539.4 77.2 543 77.1 540.5 75.9 536.9 76Z" fill="#000000" stroke="#000000"/><path d="M492.9 72.6 496.7 71.8 494.3 70.7 490.6 71.4Z" fill="#050404" stroke="#050404"/><path d="M533.3 76.1 536.9 76 534.4 74.8 530.8 74.9Z" fill="#000000" stroke="#000000"/><path d="M620.8 102.5 624 103.2 621.1 101.7 618 100.9Z" fill="#000000" stroke="#000000"/><path d="M578.8 87.4 582.3 87.8 579.6 86.4 576.2 86Z" fill="#000000" stroke="#000000"/><path d="M599.9 94.6 603.2 95.1 600.4 93.7 597.1 93.1Z" fill="#000000" stroke="#000000"/><path d="M499 72.9 502.7 72.2 500.4 71.1 496.7 71.8Z" fill="#070605" stroke="#070605"/><path d="M572.7 85.7 576.2 86 573.5 84.6 570.1 84.3Z" fill="#000000" stroke="#000000"/><path d="M614.8 100.3 618 100.9 615.2 99.4 612 98.7Z" fill="#000000" stroke="#000000"/><path d="M505.1 73.4 508.8 72.8 506.4 71.6 502.7 72.2Z" fill="#070505" stroke="#070505"/><path d="M593.8 92.6 597.1 93.1 594.4 91.6 591 91.1Z" fill="#000000" stroke="#000000"/><path d="M566.6 84.1 570.1 84.3 567.4 82.9 564 82.7Z" fill="#000000" stroke="#000000"/><path d="M511.2 74 514.9 73.4 512.5 72.3 508.8 72.8Z" fill="#070404" stroke="#070404"/><path d="M489.2 73.5 492.9 72.6 490.6 71.4 486.9 72.3Z" fill="#090706" stroke="#090706"/><path d="M560.4 82.6 564 82.7 561.3 81.3 557.8 81.2Z" fill="#000000" stroke="#000000"/><path d="M517.4 74.7 521 74.2 518.6 73 514.9 73.4Z" fill="#060304" stroke="#060304"/><path d="M608.7 98.2 612 98.7 609.2 97.2 605.9 96.6Z" fill="#000000" stroke="#000000"/><path d="M554.3 81.1 557.8 81.2 555.2 79.8 551.7 79.7Z" fill="#000000" stroke="#000000"/><path d="M587.7 90.7 591 91.1 588.3 89.6 585 89.2Z" fill="#000000" stroke="#000000"/><path d="M523.5 75.5 527.2 75.1 524.7 73.9 521 74.2Z" fill="#040203" stroke="#040203"/><path d="M548.1 79.8 551.7 79.7 549.1 78.4 545.6 78.4Z" fill="#000000" stroke="#000000"/><path d="M529.7 76.4 533.3 76.1 530.8 74.9 527.2 75.1Z" fill="#030202" stroke="#030202"/><path d="M623.7 104.1 626.8 104.7 624 103.2 620.8 102.5Z" fill="#000000" stroke="#000000"/><path d="M542 78.6 545.6 78.4 543 77.1 539.4 77.2Z" fill="#010001" stroke="#010001"/><path d="M535.8 77.4 539.4 77.2 536.9 76 533.3 76.1Z" fill="#020101" stroke="#020101"/><path d="M495.3 73.8 499 72.9 496.7 71.8 492.9 72.6Z" fill="#0d0b09" stroke="#0d0b09"/><path d="M581.5 88.9 585 89.2 582.3 87.8 578.8 87.4Z" fill="#000000" stroke="#000000"/><path d="M602.6 96.2 605.9 96.6 603.2 95.1 599.9 94.6Z" fill="#000000" stroke="#000000"/><path d="M501.4 74.2 505.1 73.4 502.7 72.2 499 72.9Z" fill="#0e0b09" stroke="#0e0b09"/><path d="M575.4 87.2 578.8 87.4 576.2 86 572.7 85.7Z" fill="#000000" stroke="#000000"/><path d="M617.6 101.9 620.8 102.5 618 100.9 614.8 100.3Z" fill="#000000" stroke="#000000"/><path d="M485.4 74.6 489.2 73.5 486.9 72.3 483.1 73.4Z" fill="#0c0a08" stroke="#0c0a08"/><path d="M507.5 74.7 511.2 74 508.8 72.8 505.1 73.4Z" fill="#0d0a09" stroke="#0d0a09"/><path d="M596.5 94.2 599.9 94.6 597.1 93.1 593.8 92.6Z" fill="#000000" stroke="#000000"/><path d="M569.2 85.6 572.7 85.7 570.1 84.3 566.6 84.1Z" fill="#000000" stroke="#000000"/><path d="M513.7 75.3 517.4 74.7 514.9 73.4 511.2 74Z" fill="#0d0908" stroke="#0d0908"/><path d="M563.1 84.1 566.6 84.1 564 82.7 560.4 82.6Z" fill="#000000" stroke="#000000"/><path d="M491.5 74.8 495.3 73.8 492.9 72.6 489.2 73.5Z" fill="#14110d" stroke="#14110d"/><path d="M611.5 99.8 614.8 100.3 612 98.7 608.7 98.2Z" fill="#000000" stroke="#000000"/><path d="M590.4 92.3 593.8 92.6 591 91.1 587.7 90.7Z" fill="#000000" stroke="#000000"/><path d="M519.8 76 523.5 75.5 521 74.2 517.4 74.7Z" fill="#0b0707" stroke="#0b0707"/><path d="M556.9 82.6 560.4 82.6 557.8 81.2 554.3 81.1Z" fill="#010001" stroke="#010001"/><path d="M626.5 105.8 629.7 106.3 626.8 104.7 623.7 104.1Z" fill="#000000" stroke="#000000"/><path d="M526 76.9 529.7 76.4 527.2 75.1 523.5 75.5Z" fill="#0a0606" stroke="#0a0606"/><path d="M550.7 81.3 554.3 81.1 551.7 79.7 548.1 79.8Z" fill="#030102" stroke="#030102"/><path d="M532.2 77.8 535.8 77.4 533.3 76.1 529.7 76.4Z" fill="#080505" stroke="#080505"/><path d="M544.5 80 548.1 79.8 545.6 78.4 542 78.6Z" fill="#040203" stroke="#040203"/><path d="M538.4 78.9 542 78.6 539.4 77.2 535.8 77.4Z" fill="#060304" stroke="#060304"/><path d="M497.6 75.1 501.4 74.2 499 72.9 495.3 73.8Z" fill="#15120e" stroke="#15120e"/><path d="M584.3 90.5 587.7 90.7 585 89.2 581.5 88.9Z" fill="#000000" stroke="#000000"/><path d="M481.7 75.9 485.4 74.6 483.1 73.4 479.4 74.6Z" fill="#110e0b" stroke="#110e0b"/><path d="M605.4 97.8 608.7 98.2 605.9 96.6 602.6 96.2Z" fill="#000000" stroke="#000000"/><path d="M578.1 88.8 581.5 88.9 578.8 87.4 575.4 87.2Z" fill="#000000" stroke="#000000"/><path d="M503.8 75.6 507.5 74.7 505.1 73.4 501.4 74.2Z" fill="#15110d" stroke="#15110d"/><path d="M620.5 103.6 623.7 104.1 620.8 102.5 617.6 101.9Z" fill="#000000" stroke="#000000"/><path d="M599.3 95.9 602.6 96.2 599.9 94.6 596.5 94.2Z" fill="#000000" stroke="#000000"/><path d="M487.8 76 491.5 74.8 489.2 73.5 485.4 74.6Z" fill="#1b1711" stroke="#1b1711"/><path d="M571.9 87.2 575.4 87.2 572.7 85.7 569.2 85.6Z" fill="#010001" stroke="#010001"/><path d="M509.9 76.1 513.7 75.3 511.2 74 507.5 74.7Z" fill="#150f0d" stroke="#150f0d"/><path d="M565.7 85.6 569.2 85.6 566.6 84.1 563.1 84.1Z" fill="#030102" stroke="#030102"/><path d="M516.1 76.7 519.8 76 517.4 74.7 513.7 75.3Z" fill="#140e0c" stroke="#140e0c"/><path d="M614.4 101.6 617.6 101.9 614.8 100.3 611.5 99.8Z" fill="#000000" stroke="#000000"/><path d="M477.9 77.3 481.7 75.9 479.4 74.6 475.6 75.9Z" fill="#15110d" stroke="#15110d"/><path d="M593.2 94 596.5 94.2 593.8 92.6 590.4 92.3Z" fill="#000000" stroke="#000000"/><path d="M493.9 76.2 497.6 75.1 495.3 73.8 491.5 74.8Z" fill="#1d1912" stroke="#1d1912"/><path d="M559.5 84.2 563.1 84.1 560.4 82.6 556.9 82.6Z" fill="#050203" stroke="#050203"/><path d="M522.3 77.5 526 76.9 523.5 75.5 519.8 76Z" fill="#120c0b" stroke="#120c0b"/><path d="M629.4 107.6 632.6 108 629.7 106.3 626.5 105.8Z" fill="#000000" stroke="#000000"/><path d="M553.3 82.8 556.9 82.6 554.3 81.1 550.7 81.3Z" fill="#070404" stroke="#070404"/><path d="M528.5 78.3 532.2 77.8 529.7 76.4 526 76.9Z" fill="#100a0a" stroke="#100a0a"/><path d="M547.1 81.5 550.7 81.3 548.1 79.8 544.5 80Z" fill="#0a0506" stroke="#0a0506"/><path d="M534.7 79.3 538.4 78.9 535.8 77.4 532.2 77.8Z" fill="#0e0909" stroke="#0e0909"/><path d="M540.9 80.4 544.5 80 542 78.6 538.4 78.9Z" fill="#0c0707" stroke="#0c0707"/><path d="M587 92.2 590.4 92.3 587.7 90.7 584.3 90.5Z" fill="#010000" stroke="#010000"/><path d="M608.3 99.5 611.5 99.8 608.7 98.2 605.4 97.8Z" fill="#000000" stroke="#000000"/><path d="M500 76.6 503.8 75.6 501.4 74.2 497.6 75.1Z" fill="#1e1812" stroke="#1e1812"/><path d="M484 77.3 487.8 76 485.4 74.6 481.7 75.9Z" fill="#221e15" stroke="#221e15"/><path d="M623.3 105.4 626.5 105.8 623.7 104.1 620.5 103.6Z" fill="#000000" stroke="#000000"/><path d="M580.8 90.5 584.3 90.5 581.5 88.9 578.1 88.8Z" fill="#020101" stroke="#020101"/><path d="M474.2 78.8 477.9 77.3 475.6 75.9 471.9 77.3Z" fill="#191510" stroke="#191510"/><path d="M506.2 77 509.9 76.1 507.5 74.7 503.8 75.6Z" fill="#1d1612" stroke="#1d1612"/><path d="M602.1 97.6 605.4 97.8 602.6 96.2 599.3 95.9Z" fill="#000000" stroke="#000000"/><path d="M574.6 88.8 578.1 88.8 575.4 87.2 571.9 87.2Z" fill="#040203" stroke="#040203"/><path d="M490.1 77.4 493.9 76.2 491.5 74.8 487.8 76Z" fill="#252017" stroke="#252017"/><path d="M512.4 77.6 516.1 76.7 513.7 75.3 509.9 76.1Z" fill="#1c1411" stroke="#1c1411"/><path d="M617.2 103.3 620.5 103.6 617.6 101.9 614.4 101.6Z" fill="#000000" stroke="#000000"/><path d="M568.4 87.3 571.9 87.2 569.2 85.6 565.7 85.6Z" fill="#070304" stroke="#070304"/><path d="M595.9 95.7 599.3 95.9 596.5 94.2 593.2 94Z" fill="#010001" stroke="#010001"/><path d="M518.6 78.2 522.3 77.5 519.8 76 516.1 76.7Z" fill="#1a1310" stroke="#1a1310"/><path d="M480.2 78.7 484 77.3 481.7 75.9 477.9 77.3Z" fill="#292419" stroke="#292419"/><path d="M632.3 109.4 635.5 109.8 632.6 108 629.4 107.6Z" fill="#000000" stroke="#000000"/><path d="M562.2 85.8 565.7 85.6 563.1 84.1 559.5 84.2Z" fill="#0a0506" stroke="#0a0506"/><path d="M496.3 77.7 500 76.6 497.6 75.1 493.9 76.2Z" fill="#261f17" stroke="#261f17"/><path d="M470.4 80.4 474.2 78.8 471.9 77.3 468.1 78.9Z" fill="#1e1912" stroke="#1e1912"/><path d="M524.8 79 528.5 78.3 526 76.9 522.3 77.5Z" fill="#19110f" stroke="#19110f"/><path d="M556 84.4 559.5 84.2 556.9 82.6 553.3 82.8Z" fill="#0d0708" stroke="#0d0708"/><path d="M531 79.9 534.7 79.3 532.2 77.8 528.5 78.3Z" fill="#170f0d" stroke="#170f0d"/><path d="M549.7 83.2 553.3 82.8 550.7 81.3 547.1 81.5Z" fill="#0f0909" stroke="#0f0909"/><path d="M537.3 80.9 540.9 80.4 538.4 78.9 534.7 79.3Z" fill="#140d0c" stroke="#140d0c"/><path d="M589.7 93.9 593.2 94 590.4 92.3 587 92.2Z" fill="#030102" stroke="#030102"/><path d="M543.5 82 547.1 81.5 544.5 80 540.9 80.4Z" fill="#120b0b" stroke="#120b0b"/><path d="M611.1 101.3 614.4 101.6 611.5 99.8 608.3 99.5Z" fill="#000000" stroke="#000000"/><path d="M502.5 78.1 506.2 77 503.8 75.6 500 76.6Z" fill="#251d16" stroke="#251d16"/><path d="M486.4 78.8 490.1 77.4 487.8 76 484 77.3Z" fill="#2d271b" stroke="#2d271b"/><path d="M626.2 107.2 629.4 107.6 626.5 105.8 623.3 105.4Z" fill="#000000" stroke="#000000"/><path d="M583.5 92.2 587 92.2 584.3 90.5 580.8 90.5Z" fill="#060304" stroke="#060304"/><path d="M476.5 80.3 480.2 78.7 477.9 77.3 474.2 78.8Z" fill="#302b1d" stroke="#302b1d"/><path d="M466.6 82.2 470.4 80.4 468.1 78.9 464.3 80.7Z" fill="#221c15" stroke="#221c15"/><path d="M508.7 78.6 512.4 77.6 509.9 76.1 506.2 77Z" fill="#241b15" stroke="#241b15"/><path d="M604.9 99.4 608.3 99.5 605.4 97.8 602.1 97.6Z" fill="#020101" stroke="#020101"/><path d="M577.3 90.5 580.8 90.5 578.1 88.8 574.6 88.8Z" fill="#090505" stroke="#090505"/><path d="M492.5 79 496.3 77.7 493.9 76.2 490.1 77.4Z" fill="#2e261b" stroke="#2e261b"/><path d="M514.9 79.2 518.6 78.2 516.1 76.7 512.4 77.6Z" fill="#231915" stroke="#231915"/><path d="M620.1 105.2 623.3 105.4 620.5 103.6 617.2 103.3Z" fill="#000000" stroke="#000000"/><path d="M571.1 89 574.6 88.8 571.9 87.2 568.4 87.3Z" fill="#0c0707" stroke="#0c0707"/><path d="M598.7 97.5 602.1 97.6 599.3 95.9 595.9 95.7Z" fill="#040203" stroke="#040203"/><path d="M521.1 79.8 524.8 79 522.3 77.5 518.6 78.2Z" fill="#211714" stroke="#211714"/><path d="M635.2 111.2 638.4 111.6 635.5 109.8 632.3 109.4Z" fill="#000000" stroke="#000000"/><path d="M482.6 80.3 486.4 78.8 484 77.3 480.2 78.7Z" fill="#352e20" stroke="#352e20"/><path d="M564.9 87.5 568.4 87.3 565.7 85.6 562.2 85.8Z" fill="#0f0909" stroke="#0f0909"/><path d="M462.9 84.2 466.6 82.2 464.3 80.7 460.6 82.5Z" fill="#261f17" stroke="#261f17"/><path d="M498.7 79.3 502.5 78.1 500 76.6 496.3 77.7Z" fill="#2d241b" stroke="#2d241b"/><path d="M472.7 82.1 476.5 80.3 474.2 78.8 470.4 80.4Z" fill="#373221" stroke="#373221"/><path d="M527.3 80.6 531 79.9 528.5 78.3 524.8 79Z" fill="#1f1512" stroke="#1f1512"/><path d="M558.6 86.1 562.2 85.8 559.5 84.2 556 84.4Z" fill="#130b0b" stroke="#130b0b"/><path d="M533.6 81.5 537.3 80.9 534.7 79.3 531 79.9Z" fill="#1d1311" stroke="#1d1311"/><path d="M592.5 95.7 595.9 95.7 593.2 94 589.7 93.9Z" fill="#070405" stroke="#070405"/><path d="M552.3 84.8 556 84.4 553.3 82.8 549.7 83.2Z" fill="#160d0d" stroke="#160d0d"/><path d="M613.9 103.2 617.2 103.3 614.4 101.6 611.1 101.3Z" fill="#020101" stroke="#020101"/><path d="M539.8 82.6 543.5 82 540.9 80.4 537.3 80.9Z" fill="#1b1110" stroke="#1b1110"/><path d="M546.1 83.7 549.7 83.2 547.1 81.5 543.5 82Z" fill="#180f0e" stroke="#180f0e"/><path d="M504.9 79.7 508.7 78.6 506.2 77 502.5 78.1Z" fill="#2c221a" stroke="#2c221a"/><path d="M629.1 109.1 632.3 109.4 629.4 107.6 626.2 107.2Z" fill="#010000" stroke="#010000"/><path d="M488.8 80.4 492.5 79 490.1 77.4 486.4 78.8Z" fill="#352d20" stroke="#352d20"/><path d="M459.1 86.2 462.9 84.2 460.6 82.5 456.8 84.5Z" fill="#292219" stroke="#292219"/><path d="M586.3 94 589.7 93.9 587 92.2 583.5 92.2Z" fill="#0b0607" stroke="#0b0607"/><path d="M607.7 101.2 611.1 101.3 608.3 99.5 604.9 99.4Z" fill="#050203" stroke="#050203"/><path d="M478.8 82 482.6 80.3 480.2 78.7 476.5 80.3Z" fill="#3c3624" stroke="#3c3624"/><path d="M468.9 83.9 472.7 82.1 470.4 80.4 466.6 82.2Z" fill="#3d3825" stroke="#3d3825"/><path d="M511.1 80.2 514.9 79.2 512.4 77.6 508.7 78.6Z" fill="#2b2019" stroke="#2b2019"/><path d="M580 92.4 583.5 92.2 580.8 90.5 577.3 90.5Z" fill="#0e0809" stroke="#0e0809"/><path d="M494.9 80.6 498.7 79.3 496.3 77.7 492.5 79Z" fill="#352b1f" stroke="#352b1f"/><path d="M623 107.1 626.2 107.2 623.3 105.4 620.1 105.2Z" fill="#020102" stroke="#020102"/><path d="M455.3 88.4 459.1 86.2 456.8 84.5 453.1 86.7Z" fill="#2c251a" stroke="#2c251a"/><path d="M517.4 80.8 521.1 79.8 518.6 78.2 514.9 79.2Z" fill="#291e18" stroke="#291e18"/><path d="M573.8 90.8 577.3 90.5 574.6 88.8 571.1 89Z" fill="#120a0b" stroke="#120a0b"/><path d="M601.5 99.4 604.9 99.4 602.1 97.6 598.7 97.5Z" fill="#090505" stroke="#090505"/><path d="M638.2 113.2 641.4 113.4 638.4 111.6 635.2 111.2Z" fill="#000000" stroke="#000000"/><path d="M523.6 81.5 527.3 80.6 524.8 79 521.1 79.8Z" fill="#281c17" stroke="#281c17"/><path d="M567.5 89.3 571.1 89 568.4 87.3 564.9 87.5Z" fill="#150d0d" stroke="#150d0d"/><path d="M485 82 488.8 80.4 486.4 78.8 482.6 80.3Z" fill="#3d3524" stroke="#3d3524"/><path d="M465.2 85.9 468.9 83.9 466.6 82.2 462.9 84.2Z" fill="#433e28" stroke="#433e28"/><path d="M501.1 81 504.9 79.7 502.5 78.1 498.7 79.3Z" fill="#34281e" stroke="#34281e"/><path d="M529.9 82.4 533.6 81.5 531 79.9 527.3 80.6Z" fill="#261a16" stroke="#261a16"/><path d="M475.1 83.8 478.8 82 476.5 80.3 472.7 82.1Z" fill="#443e29" stroke="#443e29"/><path d="M561.3 87.9 564.9 87.5 562.2 85.8 558.6 86.1Z" fill="#190f0e" stroke="#190f0e"/><path d="M451.6 90.7 455.3 88.4 453.1 86.7 449.3 88.9Z" fill="#2e271c" stroke="#2e271c"/><path d="M595.3 97.6 598.7 97.5 595.9 95.7 592.5 95.7Z" fill="#0c0707" stroke="#0c0707"/><path d="M616.8 105.1 620.1 105.2 617.2 103.3 613.9 103.2Z" fill="#050303" stroke="#050303"/><path d="M536.2 83.3 539.8 82.6 537.3 80.9 533.6 81.5Z" fill="#241815" stroke="#241815"/><path d="M555 86.6 558.6 86.1 556 84.4 552.3 84.8Z" fill="#1c1110" stroke="#1c1110"/><path d="M542.4 84.3 546.1 83.7 543.5 82 539.8 82.6Z" fill="#211613" stroke="#211613"/><path d="M548.7 85.4 552.3 84.8 549.7 83.2 546.1 83.7Z" fill="#1f1312" stroke="#1f1312"/><path d="M632 111.1 635.2 111.2 632.3 109.4 629.1 109.1Z" fill="#020101" stroke="#020101"/><path d="M507.4 81.4 511.1 80.2 508.7 78.6 504.9 79.7Z" fill="#32261d" stroke="#32261d"/><path d="M447.9 93.1 451.6 90.7 449.3 88.9 445.6 91.3Z" fill="#30291d" stroke="#30291d"/><path d="M589 95.9 592.5 95.7 589.7 93.9 586.3 94Z" fill="#10090a" stroke="#10090a"/><path d="M491.2 82.1 494.9 80.6 492.5 79 488.8 80.4Z" fill="#3d3224" stroke="#3d3224"/><path d="M461.4 88 465.2 85.9 462.9 84.2 459.1 86.2Z" fill="#48442b" stroke="#48442b"/><path d="M610.6 103.2 613.9 103.2 611.1 101.3 607.7 101.2Z" fill="#090506" stroke="#090506"/><path d="M481.2 83.7 485 82 482.6 80.3 478.8 82Z" fill="#463d29" stroke="#463d29"/><path d="M471.3 85.7 475.1 83.8 472.7 82.1 468.9 83.9Z" fill="#4c452d" stroke="#4c452d"/><path d="M444.1 95.7 447.9 93.1 445.6 91.3 441.9 93.8Z" fill="#312a1d" stroke="#312a1d"/><path d="M513.6 81.9 517.4 80.8 514.9 79.2 511.1 80.2Z" fill="#31241c" stroke="#31241c"/><path d="M582.8 94.2 586.3 94 583.5 92.2 580 92.4Z" fill="#140c0c" stroke="#140c0c"/><path d="M625.8 109.1 629.1 109.1 626.2 107.2 623 107.1Z" fill="#050303" stroke="#050303"/><path d="M457.7 90.2 461.4 88 459.1 86.2 455.3 88.4Z" fill="#4d492e" stroke="#4d492e"/><path d="M497.4 82.4 501.1 81 498.7 79.3 494.9 80.6Z" fill="#3b2f23" stroke="#3b2f23"/><path d="M440.4 98.3 444.1 95.7 441.9 93.8 438.2 96.4Z" fill="#352e20" stroke="#352e20"/><path d="M576.5 92.7 580 92.4 577.3 90.5 573.8 90.8Z" fill="#180e0e" stroke="#180e0e"/><path d="M519.9 82.6 523.6 81.5 521.1 79.8 517.4 80.8Z" fill="#2f221b" stroke="#2f221b"/><path d="M604.3 101.3 607.7 101.2 604.9 99.4 601.5 99.4Z" fill="#0d0808" stroke="#0d0808"/><path d="M641.1 115.2 644.3 115.3 641.4 113.4 638.2 113.2Z" fill="#020101" stroke="#020101"/><path d="M436.7 101.1 440.4 98.3 438.2 96.4 434.5 99.1Z" fill="#3b3624" stroke="#3b3624"/><path d="M570.2 91.2 573.8 90.8 571.1 89 567.5 89.3Z" fill="#1c1110" stroke="#1c1110"/><path d="M526.2 83.3 529.9 82.4 527.3 80.6 523.6 81.5Z" fill="#2e201b" stroke="#2e201b"/><path d="M467.5 87.7 471.3 85.7 468.9 83.9 465.2 85.9Z" fill="#534d31" stroke="#534d31"/><path d="M433.1 103.9 436.7 101.1 434.5 99.1 430.8 101.9Z" fill="#423e28" stroke="#423e28"/><path d="M487.4 83.8 491.2 82.1 488.8 80.4 485 82Z" fill="#453a28" stroke="#453a28"/><path d="M422.1 113.1 425.7 110 423.5 107.8 419.9 110.9Z" fill="#545833" stroke="#545833"/><path d="M429.4 106.9 433.1 103.9 430.8 101.9 427.1 104.8Z" fill="#48462b" stroke="#48462b"/><path d="M425.7 110 429.4 106.9 427.1 104.8 423.5 107.8Z" fill="#4e4f2f" stroke="#4e4f2f"/><path d="M563.9 89.8 567.5 89.3 564.9 87.5 561.3 87.9Z" fill="#1f1312" stroke="#1f1312"/><path d="M453.9 92.6 457.7 90.2 455.3 88.4 451.6 90.7Z" fill="#504c30" stroke="#504c30"/><path d="M532.5 84.2 536.2 83.3 533.6 81.5 529.9 82.4Z" fill="#2c1e19" stroke="#2c1e19"/><path d="M477.4 85.6 481.2 83.7 478.8 82 475.1 83.8Z" fill="#4e452e" stroke="#4e452e"/><path d="M503.6 82.7 507.4 81.4 504.9 79.7 501.1 81Z" fill="#3a2c21" stroke="#3a2c21"/><path d="M598.1 99.5 601.5 99.4 598.7 97.5 595.3 97.6Z" fill="#120a0a" stroke="#120a0a"/><path d="M619.6 107.1 623 107.1 620.1 105.2 616.8 105.1Z" fill="#090506" stroke="#090506"/><path d="M557.6 88.5 561.3 87.9 558.6 86.1 555 86.6Z" fill="#221514" stroke="#221514"/><path d="M538.8 85.1 542.4 84.3 539.8 82.6 536.2 83.3Z" fill="#2a1c18" stroke="#2a1c18"/><path d="M551.4 87.3 555 86.6 552.3 84.8 548.7 85.4Z" fill="#251815" stroke="#251815"/><path d="M545 86.1 548.7 85.4 546.1 83.7 542.4 84.3Z" fill="#281a17" stroke="#281a17"/><path d="M634.9 113.1 638.2 113.2 635.2 111.2 632 111.1Z" fill="#050303" stroke="#050303"/><path d="M450.2 95.1 453.9 92.6 451.6 90.7 447.9 93.1Z" fill="#534f31" stroke="#534f31"/><path d="M591.8 97.8 595.3 97.6 592.5 95.7 589 95.9Z" fill="#160d0d" stroke="#160d0d"/><path d="M509.9 83.2 513.6 81.9 511.1 80.2 507.4 81.4Z" fill="#382921" stroke="#382921"/><path d="M463.7 89.9 467.5 87.7 465.2 85.9 461.4 88Z" fill="#595435" stroke="#595435"/><path d="M493.6 84 497.4 82.4 494.9 80.6 491.2 82.1Z" fill="#433627" stroke="#433627"/><path d="M613.4 105.2 616.8 105.1 613.9 103.2 610.6 103.2Z" fill="#0e0808" stroke="#0e0808"/><path d="M446.4 97.7 450.2 95.1 447.9 93.1 444.1 95.7Z" fill="#545132" stroke="#545132"/><path d="M473.7 87.5 477.4 85.6 475.1 83.8 471.3 85.7Z" fill="#564e33" stroke="#564e33"/><path d="M483.6 85.5 487.4 83.8 485 82 481.2 83.7Z" fill="#4e422d" stroke="#4e422d"/><path d="M585.5 96.2 589 95.9 586.3 94 582.8 94.2Z" fill="#1a100f" stroke="#1a100f"/><path d="M516.1 83.8 519.9 82.6 517.4 80.8 513.6 81.9Z" fill="#372720" stroke="#372720"/><path d="M628.7 111.1 632 111.1 629.1 109.1 625.8 109.1Z" fill="#090506" stroke="#090506"/><path d="M442.7 100.4 446.4 97.7 444.1 95.7 440.4 98.3Z" fill="#555233" stroke="#555233"/><path d="M460 92.2 463.7 89.9 461.4 88 457.7 90.2Z" fill="#5e5a38" stroke="#5e5a38"/><path d="M607.2 103.3 610.6 103.2 607.7 101.2 604.3 101.3Z" fill="#120b0b" stroke="#120b0b"/><path d="M579.3 94.6 582.8 94.2 580 92.4 576.5 92.7Z" fill="#1e1211" stroke="#1e1211"/><path d="M499.8 84.2 503.6 82.7 501.1 81 497.4 82.4Z" fill="#413226" stroke="#413226"/><path d="M522.4 84.4 526.2 83.3 523.6 81.5 519.9 82.6Z" fill="#36251f" stroke="#36251f"/><path d="M644.1 117.2 647.3 117.3 644.3 115.3 641.1 115.2Z" fill="#030202" stroke="#030202"/><path d="M439 103.2 442.7 100.4 440.4 98.3 436.7 101.1Z" fill="#575534" stroke="#575534"/><path d="M424.4 115.4 428 112.2 425.7 110 422.1 113.1Z" fill="#5a5e37" stroke="#5a5e37"/><path d="M435.3 106.1 439 103.2 436.7 101.1 433.1 103.9Z" fill="#585734" stroke="#585734"/><path d="M573 93.1 576.5 92.7 573.8 90.8 570.2 91.2Z" fill="#221513" stroke="#221513"/><path d="M428 112.2 431.7 109.1 429.4 106.9 425.7 110Z" fill="#595b36" stroke="#595b36"/><path d="M431.7 109.1 435.3 106.1 433.1 103.9 429.4 106.9Z" fill="#595935" stroke="#595935"/><path d="M528.7 85.2 532.5 84.2 529.9 82.4 526.2 83.3Z" fill="#34231e" stroke="#34231e"/><path d="M469.9 89.6 473.7 87.5 471.3 85.7 467.5 87.7Z" fill="#5e5637" stroke="#5e5637"/><path d="M489.8 85.6 493.6 84 491.2 82.1 487.4 83.8Z" fill="#4b3d2c" stroke="#4b3d2c"/><path d="M456.2 94.6 460 92.2 457.7 90.2 453.9 92.6Z" fill="#625e3a" stroke="#625e3a"/><path d="M566.6 91.7 570.2 91.2 567.5 89.3 563.9 89.8Z" fill="#251715" stroke="#251715"/><path d="M600.9 101.6 604.3 101.3 601.5 99.4 598.1 99.5Z" fill="#170e0e" stroke="#170e0e"/><path d="M622.5 109.1 625.8 109.1 623 107.1 619.6 107.1Z" fill="#0e0908" stroke="#0e0908"/><path d="M535 86.1 538.8 85.1 536.2 83.3 532.5 84.2Z" fill="#32211d" stroke="#32211d"/><path d="M479.8 87.4 483.6 85.5 481.2 83.7 477.4 85.6Z" fill="#564b32" stroke="#564b32"/><path d="M506.1 84.6 509.9 83.2 507.4 81.4 503.6 82.7Z" fill="#3f2f25" stroke="#3f2f25"/><path d="M560.3 90.4 563.9 89.8 561.3 87.9 557.6 88.5Z" fill="#281917" stroke="#281917"/><path d="M541.4 87 545 86.1 542.4 84.3 538.8 85.1Z" fill="#301f1c" stroke="#301f1c"/><path d="M554 89.2 557.6 88.5 555 86.6 551.4 87.3Z" fill="#2b1b19" stroke="#2b1b19"/><path d="M547.7 88.1 551.4 87.3 548.7 85.4 545 86.1Z" fill="#2e1d1a" stroke="#2e1d1a"/><path d="M637.9 115.2 641.1 115.2 638.2 113.2 634.9 113.1Z" fill="#070505" stroke="#070505"/><path d="M452.5 97.1 456.2 94.6 453.9 92.6 450.2 95.1Z" fill="#64613b" stroke="#64613b"/><path d="M594.6 99.8 598.1 99.5 595.3 97.6 591.8 97.8Z" fill="#1b1110" stroke="#1b1110"/><path d="M466.1 91.9 469.9 89.6 467.5 87.7 463.7 89.9Z" fill="#665e3b" stroke="#665e3b"/><path d="M512.4 85.1 516.1 83.8 513.6 81.9 509.9 83.2Z" fill="#3e2c24" stroke="#3e2c24"/><path d="M616.3 107.2 619.6 107.1 616.8 105.1 613.4 105.2Z" fill="#130c0b" stroke="#130c0b"/><path d="M496.1 85.8 499.8 84.2 497.4 82.4 493.6 84Z" fill="#49382a" stroke="#49382a"/><path d="M448.8 99.8 452.5 97.1 450.2 95.1 446.4 97.7Z" fill="#65623c" stroke="#65623c"/><path d="M588.3 98.2 591.8 97.8 589 95.9 585.5 96.2Z" fill="#201412" stroke="#201412"/><path d="M476 89.5 479.8 87.4 477.4 85.6 473.7 87.5Z" fill="#5f5437" stroke="#5f5437"/><path d="M486 87.5 489.8 85.6 487.4 83.8 483.6 85.5Z" fill="#544531" stroke="#544531"/><path d="M518.7 85.7 522.4 84.4 519.9 82.6 516.1 83.8Z" fill="#3d2a23" stroke="#3d2a23"/><path d="M445 102.5 448.8 99.8 446.4 97.7 442.7 100.4Z" fill="#65623b" stroke="#65623b"/><path d="M631.7 113.2 634.9 113.1 632 111.1 628.7 111.1Z" fill="#0d0808" stroke="#0d0808"/><path d="M462.3 94.2 466.1 91.9 463.7 89.9 460 92.2Z" fill="#6b653f" stroke="#6b653f"/><path d="M426.7 117.8 430.3 114.6 428 112.2 424.4 115.4Z" fill="#5e6139" stroke="#5e6139"/><path d="M610 105.4 613.4 105.2 610.6 103.2 607.2 103.3Z" fill="#180f0e" stroke="#180f0e"/><path d="M582 96.6 585.5 96.2 582.8 94.2 579.3 94.6Z" fill="#241615" stroke="#241615"/><path d="M441.3 105.4 445 102.5 442.7 100.4 439 103.2Z" fill="#64623b" stroke="#64623b"/><path d="M502.3 86.2 506.1 84.6 503.6 82.7 499.8 84.2Z" fill="#473429" stroke="#473429"/><path d="M430.3 114.6 434 111.4 431.7 109.1 428 112.2Z" fill="#606139" stroke="#606139"/><path d="M437.6 108.3 441.3 105.4 439 103.2 435.3 106.1Z" fill="#62613a" stroke="#62613a"/><path d="M525 86.4 528.7 85.2 526.2 83.3 522.4 84.4Z" fill="#3b2822" stroke="#3b2822"/><path d="M647 119.3 650.2 119.3 647.3 117.3 644.1 117.2Z" fill="#050303" stroke="#050303"/><path d="M434 111.4 437.6 108.3 435.3 106.1 431.7 109.1Z" fill="#61613a" stroke="#61613a"/><path d="M575.7 95.2 579.3 94.6 576.5 92.7 573 93.1Z" fill="#271817" stroke="#271817"/><path d="M531.3 87.1 535 86.1 532.5 84.2 528.7 85.2Z" fill="#3a2621" stroke="#3a2621"/><path d="M472.3 91.6 476 89.5 473.7 87.5 469.9 89.6Z" fill="#685d3c" stroke="#685d3c"/><path d="M458.6 96.7 462.3 94.2 460 92.2 456.2 94.6Z" fill="#6f6941" stroke="#6f6941"/><path d="M492.3 87.6 496.1 85.8 493.6 84 489.8 85.6Z" fill="#513f2f" stroke="#513f2f"/><path d="M603.7 103.6 607.2 103.3 604.3 101.3 600.9 101.6Z" fill="#1c1211" stroke="#1c1211"/><path d="M569.4 93.8 573 93.1 570.2 91.2 566.6 91.7Z" fill="#2b1b19" stroke="#2b1b19"/><path d="M625.4 111.2 628.7 111.1 625.8 109.1 622.5 109.1Z" fill="#120c0b" stroke="#120c0b"/><path d="M537.7 88 541.4 87 538.8 85.1 535 86.1Z" fill="#382420" stroke="#382420"/><path d="M482.3 89.4 486 87.5 483.6 85.5 479.8 87.4Z" fill="#5d4e36" stroke="#5d4e36"/><path d="M508.6 86.6 512.4 85.1 509.9 83.2 506.1 84.6Z" fill="#453127" stroke="#453127"/><path d="M563 92.4 566.6 91.7 563.9 89.8 560.3 90.4Z" fill="#2e1d1a" stroke="#2e1d1a"/><path d="M544 89 547.7 88.1 545 86.1 541.4 87Z" fill="#36221f" stroke="#36221f"/><path d="M556.7 91.2 560.3 90.4 557.6 88.5 554 89.2Z" fill="#311e1c" stroke="#311e1c"/><path d="M550.3 90.1 554 89.2 551.4 87.3 547.7 88.1Z" fill="#34201e" stroke="#34201e"/><path d="M454.8 99.3 458.6 96.7 456.2 94.6 452.5 97.1Z" fill="#716c42" stroke="#716c42"/><path d="M640.8 117.3 644.1 117.2 641.1 115.2 637.9 115.2Z" fill="#0b0707" stroke="#0b0707"/><path d="M597.4 101.9 600.9 101.6 598.1 99.5 594.6 99.8Z" fill="#211513" stroke="#211513"/><path d="M468.5 93.9 472.3 91.6 469.9 89.6 466.1 91.9Z" fill="#706640" stroke="#706640"/><path d="M514.9 87.1 518.7 85.7 516.1 83.8 512.4 85.1Z" fill="#432e27" stroke="#432e27"/><path d="M619.2 109.3 622.5 109.1 619.6 107.1 616.3 107.2Z" fill="#18100e" stroke="#18100e"/><path d="M498.5 87.8 502.3 86.2 499.8 84.2 496.1 85.8Z" fill="#4e3a2d" stroke="#4e3a2d"/><path d="M451.1 101.9 454.8 99.3 452.5 97.1 448.8 99.8Z" fill="#716d42" stroke="#716d42"/><path d="M591.1 100.3 594.6 99.8 591.8 97.8 588.3 98.2Z" fill="#251816" stroke="#251816"/><path d="M478.5 91.5 482.3 89.4 479.8 87.4 476 89.5Z" fill="#67573b" stroke="#67573b"/><path d="M429 120.3 432.6 117 430.3 114.6 426.7 117.8Z" fill="#62643b" stroke="#62643b"/><path d="M447.4 104.8 451.1 101.9 448.8 99.8 445 102.5Z" fill="#6f6c41" stroke="#6f6c41"/><path d="M488.5 89.5 492.3 87.6 489.8 85.6 486 87.5Z" fill="#594733" stroke="#594733"/><path d="M521.2 87.7 525 86.4 522.4 84.4 518.7 85.7Z" fill="#422c26" stroke="#422c26"/><path d="M634.6 115.3 637.9 115.2 634.9 113.1 631.7 113.2Z" fill="#110b0a" stroke="#110b0a"/><path d="M432.6 117 436.3 113.8 434 111.4 430.3 114.6Z" fill="#64653c" stroke="#64653c"/><path d="M443.7 107.7 447.4 104.8 445 102.5 441.3 105.4Z" fill="#6d6a40" stroke="#6d6a40"/><path d="M464.7 96.3 468.5 93.9 466.1 91.9 462.3 94.2Z" fill="#756c44" stroke="#756c44"/><path d="M436.3 113.8 440 110.7 437.6 108.3 434 111.4Z" fill="#67663d" stroke="#67663d"/><path d="M440 110.7 443.7 107.7 441.3 105.4 437.6 108.3Z" fill="#6a683e" stroke="#6a683e"/><path d="M612.9 107.5 616.3 107.2 613.4 105.2 610 105.4Z" fill="#1d1311" stroke="#1d1311"/><path d="M584.8 98.7 588.3 98.2 585.5 96.2 582 96.6Z" fill="#291a18" stroke="#291a18"/><path d="M504.8 88.2 508.6 86.6 506.1 84.6 502.3 86.2Z" fill="#4b352b" stroke="#4b352b"/><path d="M650 121.4 653.2 121.4 650.2 119.3 647 119.3Z" fill="#070505" stroke="#070505"/><path d="M527.6 88.4 531.3 87.1 528.7 85.2 525 86.4Z" fill="#412a25" stroke="#412a25"/><path d="M578.4 97.3 582 96.6 579.3 94.6 575.7 95.2Z" fill="#2d1c1a" stroke="#2d1c1a"/><path d="M461 98.8 464.7 96.3 462.3 94.2 458.6 96.7Z" fill="#797146" stroke="#797146"/><path d="M474.7 93.7 478.5 91.5 476 89.5 472.3 91.6Z" fill="#6f6040" stroke="#6f6040"/><path d="M533.9 89.2 537.7 88 535 86.1 531.3 87.1Z" fill="#3f2824" stroke="#3f2824"/><path d="M606.6 105.8 610 105.4 607.2 103.3 603.7 103.6Z" fill="#221614" stroke="#221614"/><path d="M494.8 89.7 498.5 87.8 496.1 85.8 492.3 87.6Z" fill="#554031" stroke="#554031"/><path d="M628.3 113.4 631.7 113.2 628.7 111.1 625.4 111.2Z" fill="#170f0e" stroke="#170f0e"/><path d="M572.1 95.9 575.7 95.2 573 93.1 569.4 93.8Z" fill="#311e1c" stroke="#311e1c"/><path d="M484.7 91.5 488.5 89.5 486 87.5 482.3 89.4Z" fill="#624f39" stroke="#624f39"/><path d="M540.3 90.1 544 89 541.4 87 537.7 88Z" fill="#3d2723" stroke="#3d2723"/><path d="M511.1 88.6 514.9 87.1 512.4 85.1 508.6 86.6Z" fill="#4a322a" stroke="#4a322a"/><path d="M565.7 94.5 569.4 93.8 566.6 91.7 563 92.4Z" fill="#34201e" stroke="#34201e"/><path d="M546.6 91.1 550.3 90.1 547.7 88.1 544 89Z" fill="#3b2522" stroke="#3b2522"/><path d="M559.4 93.3 563 92.4 560.3 90.4 556.7 91.2Z" fill="#37221f" stroke="#37221f"/><path d="M457.2 101.5 461 98.8 458.6 96.7 454.8 99.3Z" fill="#7a7447" stroke="#7a7447"/><path d="M553 92.1 556.7 91.2 554 89.2 550.3 90.1Z" fill="#392321" stroke="#392321"/><path d="M643.8 119.4 647 119.3 644.1 117.2 640.8 117.3Z" fill="#0e0a09" stroke="#0e0a09"/><path d="M600.2 104.1 603.7 103.6 600.9 101.6 597.4 101.9Z" fill="#261916" stroke="#261916"/><path d="M470.9 96.1 474.7 93.7 472.3 91.6 468.5 93.9Z" fill="#776944" stroke="#776944"/><path d="M453.5 104.2 457.2 101.5 454.8 99.3 451.1 101.9Z" fill="#7a7447" stroke="#7a7447"/><path d="M431.3 122.8 435 119.5 432.6 117 429 120.3Z" fill="#65673c" stroke="#65673c"/><path d="M622 111.5 625.4 111.2 622.5 109.1 619.2 109.3Z" fill="#1c1311" stroke="#1c1311"/><path d="M517.5 89.1 521.2 87.7 518.7 85.7 514.9 87.1Z" fill="#483029" stroke="#483029"/><path d="M501 89.9 504.8 88.2 502.3 86.2 498.5 87.8Z" fill="#523a2f" stroke="#523a2f"/><path d="M449.7 107.1 453.5 104.2 451.1 101.9 447.4 104.8Z" fill="#777245" stroke="#777245"/><path d="M435 119.5 438.6 116.3 436.3 113.8 432.6 117Z" fill="#68683e" stroke="#68683e"/><path d="M593.9 102.5 597.4 101.9 594.6 99.8 591.1 100.3Z" fill="#2b1b19" stroke="#2b1b19"/><path d="M480.9 93.7 484.7 91.5 482.3 89.4 478.5 91.5Z" fill="#6b583e" stroke="#6b583e"/><path d="M446 110 449.7 107.1 447.4 104.8 443.7 107.7Z" fill="#736f43" stroke="#736f43"/><path d="M438.6 116.3 442.3 113.1 440 110.7 436.3 113.8Z" fill="#6b6a3f" stroke="#6b6a3f"/><path d="M491 91.6 494.8 89.7 492.3 87.6 488.5 89.5Z" fill="#5d4735" stroke="#5d4735"/><path d="M442.3 113.1 446 110 443.7 107.7 440 110.7Z" fill="#6f6c41" stroke="#6f6c41"/><path d="M523.8 89.8 527.6 88.4 525 86.4 521.2 87.7Z" fill="#472e28" stroke="#472e28"/><path d="M467.1 98.5 470.9 96.1 468.5 93.9 464.7 96.3Z" fill="#7d7048" stroke="#7d7048"/><path d="M637.5 117.5 640.8 117.3 637.9 115.2 634.6 115.3Z" fill="#150f0d" stroke="#150f0d"/><path d="M615.7 109.7 619.2 109.3 616.3 107.2 612.9 107.5Z" fill="#221714" stroke="#221714"/><path d="M587.6 100.9 591.1 100.3 588.3 98.2 584.8 98.7Z" fill="#2f1d1b" stroke="#2f1d1b"/><path d="M507.4 90.3 511.1 88.6 508.6 86.6 504.8 88.2Z" fill="#50362e" stroke="#50362e"/><path d="M653 123.6 656.2 123.5 653.2 121.4 650 121.4Z" fill="#0a0706" stroke="#0a0706"/><path d="M530.2 90.5 533.9 89.2 531.3 87.1 527.6 88.4Z" fill="#452c28" stroke="#452c28"/><path d="M581.2 99.4 584.8 98.7 582 96.6 578.4 97.3Z" fill="#331f1d" stroke="#331f1d"/><path d="M463.4 101.1 467.1 98.5 464.7 96.3 461 98.8Z" fill="#80754a" stroke="#80754a"/><path d="M477.1 95.9 480.9 93.7 478.5 91.5 474.7 93.7Z" fill="#746142" stroke="#746142"/><path d="M536.5 91.3 540.3 90.1 537.7 88 533.9 89.2Z" fill="#442b27" stroke="#442b27"/><path d="M609.4 108 612.9 107.5 610 105.4 606.6 105.8Z" fill="#271a16" stroke="#271a16"/><path d="M497.3 91.8 501 89.9 498.5 87.8 494.8 89.7Z" fill="#594033" stroke="#594033"/><path d="M631.3 115.6 634.6 115.3 631.7 113.2 628.3 113.4Z" fill="#1b1310" stroke="#1b1310"/><path d="M574.8 98 578.4 97.3 575.7 95.2 572.1 95.9Z" fill="#36211f" stroke="#36211f"/><path d="M487.2 93.7 491 91.6 488.5 89.5 484.7 91.5Z" fill="#664e3a" stroke="#664e3a"/><path d="M542.9 92.2 546.6 91.1 544 89 540.3 90.1Z" fill="#422926" stroke="#422926"/><path d="M459.6 103.8 463.4 101.1 461 98.8 457.2 101.5Z" fill="#81774a" stroke="#81774a"/><path d="M568.5 96.7 572.1 95.9 569.4 93.8 565.7 94.5Z" fill="#392321" stroke="#392321"/><path d="M513.7 90.7 517.5 89.1 514.9 87.1 511.1 88.6Z" fill="#4e342c" stroke="#4e342c"/><path d="M549.3 93.2 553 92.1 550.3 90.1 546.6 91.1Z" fill="#402825" stroke="#402825"/><path d="M562.1 95.4 565.7 94.5 563 92.4 559.4 93.3Z" fill="#3c2422" stroke="#3c2422"/><path d="M433.7 125.5 437.4 122.1 435 119.5 431.3 122.8Z" fill="#67693d" stroke="#67693d"/><path d="M555.7 94.3 559.4 93.3 556.7 91.2 553 92.1Z" fill="#3e2623" stroke="#3e2623"/><path d="M646.8 121.7 650 121.4 647 119.3 643.8 119.4Z" fill="#110c0b" stroke="#110c0b"/><path d="M455.9 106.6 459.6 103.8 457.2 101.5 453.5 104.2Z" fill="#80774a" stroke="#80774a"/><path d="M603.1 106.3 606.6 105.8 603.7 103.6 600.2 104.1Z" fill="#2c1c19" stroke="#2c1c19"/><path d="M473.3 98.3 477.1 95.9 474.7 93.7 470.9 96.1Z" fill="#7b6947" stroke="#7b6947"/><path d="M437.4 122.1 441 118.8 438.6 116.3 435 119.5Z" fill="#6b6a3f" stroke="#6b6a3f"/><path d="M624.9 113.8 628.3 113.4 625.4 111.2 622 111.5Z" fill="#211714" stroke="#211714"/><path d="M452.1 109.5 455.9 106.6 453.5 104.2 449.7 107.1Z" fill="#7c7648" stroke="#7c7648"/><path d="M520.1 91.3 523.8 89.8 521.2 87.7 517.5 89.1Z" fill="#4c322c" stroke="#4c322c"/><path d="M441 118.8 444.7 115.6 442.3 113.1 438.6 116.3Z" fill="#6f6c41" stroke="#6f6c41"/><path d="M503.6 92.1 507.4 90.3 504.8 88.2 501 89.9Z" fill="#553b31" stroke="#553b31"/><path d="M448.4 112.5 452.1 109.5 449.7 107.1 446 110Z" fill="#787246" stroke="#787246"/><path d="M444.7 115.6 448.4 112.5 446 110 442.3 113.1Z" fill="#736f43" stroke="#736f43"/><path d="M483.4 95.9 487.2 93.7 484.7 91.5 480.9 93.7Z" fill="#6e563f" stroke="#6e563f"/><path d="M596.7 104.7 600.2 104.1 597.4 101.9 593.9 102.5Z" fill="#301f1c" stroke="#301f1c"/><path d="M493.5 93.8 497.3 91.8 494.8 89.7 491 91.6Z" fill="#604637" stroke="#604637"/><path d="M469.6 100.8 473.3 98.3 470.9 96.1 467.1 98.5Z" fill="#806f4a" stroke="#806f4a"/><path d="M526.4 91.9 530.2 90.5 527.6 88.4 523.8 89.8Z" fill="#4b302b" stroke="#4b302b"/><path d="M640.5 119.7 643.8 119.4 640.8 117.3 637.5 117.5Z" fill="#19120f" stroke="#19120f"/><path d="M618.6 112 622 111.5 619.2 109.3 615.7 109.7Z" fill="#271b17" stroke="#271b17"/><path d="M590.4 103.1 593.9 102.5 591.1 100.3 587.6 100.9Z" fill="#34201e" stroke="#34201e"/><path d="M509.9 92.5 513.7 90.7 511.1 88.6 507.4 90.3Z" fill="#53382f" stroke="#53382f"/><path d="M532.8 92.7 536.5 91.3 533.9 89.2 530.2 90.5Z" fill="#4a2f2a" stroke="#4a2f2a"/><path d="M465.8 103.5 469.6 100.8 467.1 98.5 463.4 101.1Z" fill="#84744c" stroke="#84744c"/><path d="M656 125.9 659.3 125.6 656.2 123.5 653 123.6Z" fill="#0c0808" stroke="#0c0808"/><path d="M584 101.7 587.6 100.9 584.8 98.7 581.2 99.4Z" fill="#382220" stroke="#382220"/><path d="M479.6 98.2 483.4 95.9 480.9 93.7 477.1 95.9Z" fill="#755e43" stroke="#755e43"/><path d="M436.1 128.2 439.8 124.8 437.4 122.1 433.7 125.5Z" fill="#696a3e" stroke="#696a3e"/><path d="M539.2 93.5 542.9 92.2 540.3 90.1 536.5 91.3Z" fill="#482d29" stroke="#482d29"/><path d="M612.3 110.2 615.7 109.7 612.9 107.5 609.4 108Z" fill="#2c1d19" stroke="#2c1d19"/><path d="M499.8 94 503.6 92.1 501 89.9 497.3 91.8Z" fill="#5b4034" stroke="#5b4034"/><path d="M577.6 100.3 581.2 99.4 578.4 97.3 574.8 98Z" fill="#3b2422" stroke="#3b2422"/><path d="M634.2 117.9 637.5 117.5 634.6 115.3 631.3 115.6Z" fill="#201713" stroke="#201713"/><path d="M462 106.2 465.8 103.5 463.4 101.1 459.6 103.8Z" fill="#84774c" stroke="#84774c"/><path d="M489.7 95.9 493.5 93.8 491 91.6 487.2 93.7Z" fill="#674c3b" stroke="#674c3b"/><path d="M545.6 94.4 549.3 93.2 546.6 91.1 542.9 92.2Z" fill="#462c28" stroke="#462c28"/><path d="M571.2 98.9 574.8 98 572.1 95.9 568.5 96.7Z" fill="#3e2623" stroke="#3e2623"/><path d="M516.3 93 520.1 91.3 517.5 89.1 513.7 90.7Z" fill="#51352e" stroke="#51352e"/><path d="M439.8 124.8 443.4 121.5 441 118.8 437.4 122.1Z" fill="#6c6b40" stroke="#6c6b40"/><path d="M552 95.4 555.7 94.3 553 92.1 549.3 93.2Z" fill="#452a27" stroke="#452a27"/><path d="M564.8 97.7 568.5 96.7 565.7 94.5 562.1 95.4Z" fill="#402725" stroke="#402725"/><path d="M458.3 109.1 462 106.2 459.6 103.8 455.9 106.6Z" fill="#82774b" stroke="#82774b"/><path d="M558.4 96.5 562.1 95.4 559.4 93.3 555.7 94.3Z" fill="#422926" stroke="#422926"/><path d="M443.4 121.5 447.1 118.2 444.7 115.6 441 118.8Z" fill="#716d42" stroke="#716d42"/><path d="M475.8 100.7 479.6 98.2 477.1 95.9 473.3 98.3Z" fill="#7c6647" stroke="#7c6647"/><path d="M454.6 112 458.3 109.1 455.9 106.6 452.1 109.5Z" fill="#7f7549" stroke="#7f7549"/><path d="M649.8 123.9 653 123.6 650 121.4 646.8 121.7Z" fill="#150f0d" stroke="#150f0d"/><path d="M605.9 108.6 609.4 108 606.6 105.8 603.1 106.3Z" fill="#31201c" stroke="#31201c"/><path d="M447.1 118.2 450.8 115.1 448.4 112.5 444.7 115.6Z" fill="#757044" stroke="#757044"/><path d="M450.8 115.1 454.6 112 452.1 109.5 448.4 112.5Z" fill="#7a7347" stroke="#7a7347"/><path d="M627.9 116 631.3 115.6 628.3 113.4 624.9 113.8Z" fill="#261b16" stroke="#261b16"/><path d="M522.6 93.5 526.4 91.9 523.8 89.8 520.1 91.3Z" fill="#50342e" stroke="#50342e"/><path d="M506.1 94.3 509.9 92.5 507.4 90.3 503.6 92.1Z" fill="#583b32" stroke="#583b32"/><path d="M485.9 98.2 489.7 95.9 487.2 93.7 483.4 95.9Z" fill="#6e533f" stroke="#6e533f"/><path d="M599.6 107 603.1 106.3 600.2 104.1 596.7 104.7Z" fill="#35221e" stroke="#35221e"/><path d="M472 103.2 475.8 100.7 473.3 98.3 469.6 100.8Z" fill="#816c4a" stroke="#816c4a"/><path d="M496 96.1 499.8 94 497.3 91.8 493.5 93.8Z" fill="#614537" stroke="#614537"/><path d="M529 94.2 532.8 92.7 530.2 90.5 526.4 91.9Z" fill="#4f322d" stroke="#4f322d"/><path d="M643.5 122 646.8 121.7 643.8 119.4 640.5 119.7Z" fill="#1d1511" stroke="#1d1511"/><path d="M621.5 114.3 624.9 113.8 622 111.5 618.6 112Z" fill="#2b1e19" stroke="#2b1e19"/><path d="M593.2 105.4 596.7 104.7 593.9 102.5 590.4 103.1Z" fill="#392321" stroke="#392321"/><path d="M438.5 131 442.2 127.6 439.8 124.8 436.1 128.2Z" fill="#6a6b3f" stroke="#6a6b3f"/><path d="M468.2 105.9 472 103.2 469.6 100.8 465.8 103.5Z" fill="#83704b" stroke="#83704b"/><path d="M512.5 94.7 516.3 93 513.7 90.7 509.9 92.5Z" fill="#563931" stroke="#563931"/><path d="M535.4 94.9 539.2 93.5 536.5 91.3 532.8 92.7Z" fill="#4d312c" stroke="#4d312c"/><path d="M482.1 100.6 485.9 98.2 483.4 95.9 479.6 98.2Z" fill="#755a43" stroke="#755a43"/><path d="M586.8 104 590.4 103.1 587.6 100.9 584 101.7Z" fill="#3c2522" stroke="#3c2522"/><path d="M659.1 128.1 662.3 127.8 659.3 125.6 656 125.9Z" fill="#0f0a09" stroke="#0f0a09"/><path d="M442.2 127.6 445.9 124.2 443.4 121.5 439.8 124.8Z" fill="#6d6c40" stroke="#6d6c40"/><path d="M464.5 108.7 468.2 105.9 465.8 103.5 462 106.2Z" fill="#84734c" stroke="#84734c"/><path d="M541.8 95.8 545.6 94.4 542.9 92.2 539.2 93.5Z" fill="#4c2f2b" stroke="#4c2f2b"/><path d="M502.3 96.3 506.1 94.3 503.6 92.1 499.8 94Z" fill="#5d3f35" stroke="#5d3f35"/><path d="M615.2 112.6 618.6 112 615.7 109.7 612.3 110.2Z" fill="#31211c" stroke="#31211c"/><path d="M580.4 102.6 584 101.7 581.2 99.4 577.6 100.3Z" fill="#3f2724" stroke="#3f2724"/><path d="M492.2 98.3 496 96.1 493.5 93.8 489.7 95.9Z" fill="#674a3b" stroke="#674a3b"/><path d="M445.9 124.2 449.6 120.9 447.1 118.2 443.4 121.5Z" fill="#716d42" stroke="#716d42"/><path d="M637.1 120.2 640.5 119.7 637.5 117.5 634.2 117.9Z" fill="#241a15" stroke="#241a15"/><path d="M460.7 111.6 464.5 108.7 462 106.2 458.3 109.1Z" fill="#82734b" stroke="#82734b"/><path d="M548.3 96.7 552 95.4 549.3 93.2 545.6 94.4Z" fill="#4a2e2a" stroke="#4a2e2a"/><path d="M573.9 101.2 577.6 100.3 574.8 98 571.2 98.9Z" fill="#422826" stroke="#422826"/><path d="M518.9 95.2 522.6 93.5 520.1 91.3 516.3 93Z" fill="#553730" stroke="#553730"/><path d="M449.6 120.9 453.3 117.7 450.8 115.1 447.1 118.2Z" fill="#766f44" stroke="#766f44"/><path d="M457 114.6 460.7 111.6 458.3 109.1 454.6 112Z" fill="#7f7349" stroke="#7f7349"/><path d="M453.3 117.7 457 114.6 454.6 112 450.8 115.1Z" fill="#7b7147" stroke="#7b7147"/><path d="M554.7 97.7 558.4 96.5 555.7 94.3 552 95.4Z" fill="#492c29" stroke="#492c29"/><path d="M567.5 100 571.2 98.9 568.5 96.7 564.8 97.7Z" fill="#442a27" stroke="#442a27"/><path d="M561.1 98.8 564.8 97.7 562.1 95.4 558.4 96.5Z" fill="#472b28" stroke="#472b28"/><path d="M478.3 103.1 482.1 100.6 479.6 98.2 475.8 100.7Z" fill="#7b6046" stroke="#7b6046"/><path d="M608.8 110.9 612.3 110.2 609.4 108 605.9 108.6Z" fill="#35231f" stroke="#35231f"/><path d="M652.8 126.2 656 125.9 653 123.6 649.8 123.9Z" fill="#18120f" stroke="#18120f"/><path d="M525.3 95.8 529 94.2 526.4 91.9 522.6 93.5Z" fill="#53352f" stroke="#53352f"/><path d="M630.8 118.4 634.2 117.9 631.3 115.6 627.9 116Z" fill="#2a1e19" stroke="#2a1e19"/><path d="M508.7 96.7 512.5 94.7 509.9 92.5 506.1 94.3Z" fill="#5a3c33" stroke="#5a3c33"/><path d="M488.4 100.6 492.2 98.3 489.7 95.9 485.9 98.2Z" fill="#6d503e" stroke="#6d503e"/><path d="M474.5 105.7 478.3 103.1 475.8 100.7 472 103.2Z" fill="#7f6648" stroke="#7f6648"/><path d="M441 133.9 444.6 130.4 442.2 127.6 438.5 131Z" fill="#6a6c3f" stroke="#6a6c3f"/><path d="M602.4 109.3 605.9 108.6 603.1 106.3 599.6 107Z" fill="#3a2521" stroke="#3a2521"/><path d="M498.5 98.5 502.3 96.3 499.8 94 496 96.1Z" fill="#624438" stroke="#624438"/><path d="M531.7 96.5 535.4 94.9 532.8 92.7 529 94.2Z" fill="#52342f" stroke="#52342f"/><path d="M470.7 108.5 474.5 105.7 472 103.2 468.2 105.9Z" fill="#816a4a" stroke="#816a4a"/><path d="M444.6 130.4 448.3 127 445.9 124.2 442.2 127.6Z" fill="#6d6b40" stroke="#6d6b40"/><path d="M646.4 124.4 649.8 123.9 646.8 121.7 643.5 122Z" fill="#211814" stroke="#211814"/><path d="M596 107.8 599.6 107 596.7 104.7 593.2 105.4Z" fill="#3d2623" stroke="#3d2623"/><path d="M624.4 116.6 627.9 116 624.9 113.8 621.5 114.3Z" fill="#30211c" stroke="#30211c"/><path d="M515.1 97.1 518.9 95.2 516.3 93 512.5 94.7Z" fill="#593a33" stroke="#593a33"/><path d="M484.6 103.1 488.4 100.6 485.9 98.2 482.1 100.6Z" fill="#735641" stroke="#735641"/><path d="M538.1 97.3 541.8 95.8 539.2 93.5 535.4 94.9Z" fill="#51322e" stroke="#51322e"/><path d="M467 111.3 470.7 108.5 468.2 105.9 464.5 108.7Z" fill="#816d4a" stroke="#816d4a"/><path d="M448.3 127 452 123.7 449.6 120.9 445.9 124.2Z" fill="#716c42" stroke="#716c42"/><path d="M589.6 106.3 593.2 105.4 590.4 103.1 586.8 104Z" fill="#412825" stroke="#412825"/><path d="M452 123.7 455.7 120.4 453.3 117.7 449.6 120.9Z" fill="#756d44" stroke="#756d44"/><path d="M463.2 114.2 467 111.3 464.5 108.7 460.7 111.6Z" fill="#806e49" stroke="#806e49"/><path d="M662.1 130.5 665.3 130.1 662.3 127.8 659.1 128.1Z" fill="#110c0b" stroke="#110c0b"/><path d="M504.9 98.7 508.7 96.7 506.1 94.3 502.3 96.3Z" fill="#5f4036" stroke="#5f4036"/><path d="M494.7 100.7 498.5 98.5 496 96.1 492.2 98.3Z" fill="#67483b" stroke="#67483b"/><path d="M544.5 98.1 548.3 96.7 545.6 94.4 541.8 95.8Z" fill="#50312d" stroke="#50312d"/><path d="M455.7 120.4 459.5 117.3 457 114.6 453.3 117.7Z" fill="#796e46" stroke="#796e46"/><path d="M459.5 117.3 463.2 114.2 460.7 111.6 457 114.6Z" fill="#7d6e48" stroke="#7d6e48"/><path d="M583.2 104.9 586.8 104 584 101.7 580.4 102.6Z" fill="#432926" stroke="#432926"/><path d="M618.1 114.9 621.5 114.3 618.6 112 615.2 112.6Z" fill="#35241f" stroke="#35241f"/><path d="M640.1 122.5 643.5 122 640.5 119.7 637.1 120.2Z" fill="#281d18" stroke="#281d18"/><path d="M551 99.1 554.7 97.7 552 95.4 548.3 96.7Z" fill="#4e302c" stroke="#4e302c"/><path d="M521.5 97.6 525.3 95.8 522.6 93.5 518.9 95.2Z" fill="#583832" stroke="#583832"/><path d="M576.7 103.6 580.4 102.6 577.6 100.3 573.9 101.2Z" fill="#462b28" stroke="#462b28"/><path d="M480.8 105.6 484.6 103.1 482.1 100.6 478.3 103.1Z" fill="#775b44" stroke="#775b44"/><path d="M557.4 100.1 561.1 98.8 558.4 96.5 554.7 97.7Z" fill="#4c2f2b" stroke="#4c2f2b"/><path d="M570.3 102.4 573.9 101.2 571.2 98.9 567.5 100Z" fill="#482c29" stroke="#482c29"/><path d="M563.8 101.2 567.5 100 564.8 97.7 561.1 98.8Z" fill="#4a2d2a" stroke="#4a2d2a"/><path d="M443.4 136.9 447.1 133.3 444.6 130.4 441 133.9Z" fill="#6a6c3f" stroke="#6a6c3f"/><path d="M611.7 113.3 615.2 112.6 612.3 110.2 608.8 110.9Z" fill="#3a2621" stroke="#3a2621"/><path d="M655.8 128.6 659.1 128.1 656 125.9 652.8 126.2Z" fill="#1c1511" stroke="#1c1511"/><path d="M477 108.3 480.8 105.6 478.3 103.1 474.5 105.7Z" fill="#7b6046" stroke="#7b6046"/><path d="M511.3 99.1 515.1 97.1 512.5 94.7 508.7 96.7Z" fill="#5d3d35" stroke="#5d3d35"/><path d="M527.9 98.2 531.7 96.5 529 94.2 525.3 95.8Z" fill="#573731" stroke="#573731"/><path d="M490.9 103.1 494.7 100.7 492.2 98.3 488.4 100.6Z" fill="#6c4d3d" stroke="#6c4d3d"/><path d="M633.7 120.8 637.1 120.2 634.2 117.9 630.8 118.4Z" fill="#2e221b" stroke="#2e221b"/><path d="M447.1 133.3 450.8 129.9 448.3 127 444.6 130.4Z" fill="#6d6b40" stroke="#6d6b40"/><path d="M501.1 100.9 504.9 98.7 502.3 96.3 498.5 98.5Z" fill="#634338" stroke="#634338"/><path d="M605.3 111.7 608.8 110.9 605.9 108.6 602.4 109.3Z" fill="#3e2723" stroke="#3e2723"/><path d="M473.2 111.1 477 108.3 474.5 105.7 470.7 108.5Z" fill="#7d6347" stroke="#7d6347"/><path d="M450.8 129.9 454.5 126.5 452 123.7 448.3 127Z" fill="#706a41" stroke="#706a41"/><path d="M534.3 98.9 538.1 97.3 535.4 94.9 531.7 96.5Z" fill="#563531" stroke="#563531"/><path d="M469.4 114 473.2 111.1 470.7 108.5 467 111.3Z" fill="#7d6648" stroke="#7d6648"/><path d="M598.8 110.2 602.4 109.3 599.6 107 596 107.8Z" fill="#412925" stroke="#412925"/><path d="M454.5 126.5 458.2 123.2 455.7 120.4 452 123.7Z" fill="#736a43" stroke="#736a43"/><path d="M627.4 119 630.8 118.4 627.9 116 624.4 116.6Z" fill="#34251e" stroke="#34251e"/><path d="M487.1 105.6 490.9 103.1 488.4 100.6 484.6 103.1Z" fill="#705240" stroke="#705240"/><path d="M649.4 126.7 652.8 126.2 649.8 123.9 646.4 124.4Z" fill="#241b16" stroke="#241b16"/><path d="M517.7 99.5 521.5 97.6 518.9 95.2 515.1 97.1Z" fill="#5c3b34" stroke="#5c3b34"/><path d="M465.7 116.9 469.4 114 467 111.3 463.2 114.2Z" fill="#7c6847" stroke="#7c6847"/><path d="M458.2 123.2 461.9 120 459.5 117.3 455.7 120.4Z" fill="#776a44" stroke="#776a44"/><path d="M540.8 99.7 544.5 98.1 541.8 95.8 538.1 97.3Z" fill="#543430" stroke="#543430"/><path d="M461.9 120 465.7 116.9 463.2 114.2 459.5 117.3Z" fill="#7a6946" stroke="#7a6946"/><path d="M592.4 108.8 596 107.8 593.2 105.4 589.6 106.3Z" fill="#442a27" stroke="#442a27"/><path d="M445.9 139.9 449.6 136.3 447.1 133.3 443.4 136.9Z" fill="#6a6d3f" stroke="#6a6d3f"/><path d="M497.3 103.2 501.1 100.9 498.5 98.5 494.7 100.7Z" fill="#67473b" stroke="#67473b"/><path d="M507.5 101.2 511.3 99.1 508.7 96.7 504.9 98.7Z" fill="#604037" stroke="#604037"/><path d="M547.2 100.6 551 99.1 548.3 96.7 544.5 98.1Z" fill="#53332f" stroke="#53332f"/><path d="M586 107.4 589.6 106.3 586.8 104 583.2 104.9Z" fill="#472c29" stroke="#472c29"/><path d="M665.2 132.8 668.4 132.4 665.3 130.1 662.1 130.5Z" fill="#130e0c" stroke="#130e0c"/><path d="M621 117.4 624.4 116.6 621.5 114.3 618.1 114.9Z" fill="#392721" stroke="#392721"/><path d="M483.3 108.2 487.1 105.6 484.6 103.1 480.8 105.6Z" fill="#745642" stroke="#745642"/><path d="M553.7 101.5 557.4 100.1 554.7 97.7 551 99.1Z" fill="#52322e" stroke="#52322e"/><path d="M524.1 100.1 527.9 98.2 525.3 95.8 521.5 97.6Z" fill="#5b3933" stroke="#5b3933"/><path d="M579.5 106.1 583.2 104.9 580.4 102.6 576.7 103.6Z" fill="#4a2d2a" stroke="#4a2d2a"/><path d="M643.1 125 646.4 124.4 643.5 122 640.1 122.5Z" fill="#2c211a" stroke="#2c211a"/><path d="M560.1 102.5 563.8 101.2 561.1 98.8 557.4 100.1Z" fill="#50302d" stroke="#50302d"/><path d="M573 104.8 576.7 103.6 573.9 101.2 570.3 102.4Z" fill="#4c2e2b" stroke="#4c2e2b"/><path d="M449.6 136.3 453.3 132.8 450.8 129.9 447.1 133.3Z" fill="#6c6b40" stroke="#6c6b40"/><path d="M566.6 103.6 570.3 102.4 567.5 100 563.8 101.2Z" fill="#4e2f2c" stroke="#4e2f2c"/><path d="M479.5 110.9 483.3 108.2 480.8 105.6 477 108.3Z" fill="#775a44" stroke="#775a44"/><path d="M614.5 115.8 618.1 114.9 615.2 112.6 611.7 113.3Z" fill="#3e2923" stroke="#3e2923"/><path d="M493.5 105.7 497.3 103.2 494.7 100.7 490.9 103.1Z" fill="#6b4b3d" stroke="#6b4b3d"/><path d="M513.9 101.6 517.7 99.5 515.1 97.1 511.3 99.1Z" fill="#5f3e36" stroke="#5f3e36"/><path d="M453.3 132.8 457 129.4 454.5 126.5 450.8 129.9Z" fill="#6f6941" stroke="#6f6941"/><path d="M530.5 100.7 534.3 98.9 531.7 96.5 527.9 98.2Z" fill="#5a3833" stroke="#5a3833"/><path d="M658.8 131 662.1 130.5 659.1 128.1 655.8 128.6Z" fill="#1f1712" stroke="#1f1712"/><path d="M503.6 103.5 507.5 101.2 504.9 98.7 501.1 100.9Z" fill="#644339" stroke="#644339"/><path d="M475.7 113.8 479.5 110.9 477 108.3 473.2 111.1Z" fill="#795d45" stroke="#795d45"/><path d="M636.7 123.2 640.1 122.5 637.1 120.2 633.7 120.8Z" fill="#32251d" stroke="#32251d"/><path d="M457 129.4 460.7 126.1 458.2 123.2 454.5 126.5Z" fill="#726842" stroke="#726842"/><path d="M608.1 114.2 611.7 113.3 608.8 110.9 605.3 111.7Z" fill="#422a26" stroke="#422a26"/><path d="M472 116.7 475.7 113.8 473.2 111.1 469.4 114Z" fill="#796045" stroke="#796045"/><path d="M460.7 126.1 464.4 122.9 461.9 120 458.2 123.2Z" fill="#746643" stroke="#746643"/><path d="M537 101.4 540.8 99.7 538.1 97.3 534.3 98.9Z" fill="#593732" stroke="#593732"/><path d="M448.4 143 452.1 139.4 449.6 136.3 445.9 139.9Z" fill="#6a6e3f" stroke="#6a6e3f"/><path d="M468.2 119.7 472 116.7 469.4 114 465.7 116.9Z" fill="#786345" stroke="#786345"/><path d="M464.4 122.9 468.2 119.7 465.7 116.9 461.9 120Z" fill="#776444" stroke="#776444"/><path d="M489.6 108.2 493.5 105.7 490.9 103.1 487.1 105.6Z" fill="#6e4e3f" stroke="#6e4e3f"/><path d="M601.7 112.7 605.3 111.7 602.4 109.3 598.8 110.2Z" fill="#452c28" stroke="#452c28"/><path d="M520.3 102.1 524.1 100.1 521.5 97.6 517.7 99.5Z" fill="#5e3c35" stroke="#5e3c35"/><path d="M630.3 121.5 633.7 120.8 630.8 118.4 627.4 119Z" fill="#382820" stroke="#382820"/><path d="M543.4 102.2 547.2 100.6 544.5 98.1 540.8 99.7Z" fill="#583632" stroke="#583632"/><path d="M652.4 129.2 655.8 128.6 652.8 126.2 649.4 126.7Z" fill="#281e18" stroke="#281e18"/><path d="M499.8 105.8 503.6 103.5 501.1 100.9 497.3 103.2Z" fill="#67463b" stroke="#67463b"/><path d="M452.1 139.4 455.8 135.9 453.3 132.8 449.6 136.3Z" fill="#6c6b40" stroke="#6c6b40"/><path d="M595.2 111.2 598.8 110.2 596 107.8 592.4 108.8Z" fill="#482d29" stroke="#482d29"/><path d="M510.1 103.8 513.9 101.6 511.3 99.1 507.5 101.2Z" fill="#624038" stroke="#624038"/><path d="M485.8 110.9 489.6 108.2 487.1 105.6 483.3 108.2Z" fill="#715240" stroke="#715240"/><path d="M549.9 103.1 553.7 101.5 551 99.1 547.2 100.6Z" fill="#563431" stroke="#563431"/><path d="M588.8 109.9 592.4 108.8 589.6 106.3 586 107.4Z" fill="#4b2e2b" stroke="#4b2e2b"/><path d="M623.9 119.9 627.4 119 624.4 116.6 621 117.4Z" fill="#3d2a23" stroke="#3d2a23"/><path d="M526.7 102.6 530.5 100.7 527.9 98.2 524.1 100.1Z" fill="#5d3a35" stroke="#5d3a35"/><path d="M556.4 104 560.1 102.5 557.4 100.1 553.7 101.5Z" fill="#553330" stroke="#553330"/><path d="M455.8 135.9 459.5 132.4 457 129.4 453.3 132.8Z" fill="#6e6940" stroke="#6e6940"/><path d="M582.3 108.6 586 107.4 583.2 104.9 579.5 106.1Z" fill="#4d2f2c" stroke="#4d2f2c"/><path d="M668.2 135.2 671.5 134.7 668.4 132.4 665.2 132.8Z" fill="#16100d" stroke="#16100d"/><path d="M562.9 105 566.6 103.6 563.8 101.2 560.1 102.5Z" fill="#53322f" stroke="#53322f"/><path d="M575.8 107.3 579.5 106.1 576.7 103.6 573 104.8Z" fill="#4f302d" stroke="#4f302d"/><path d="M482.1 113.7 485.8 110.9 483.3 108.2 479.5 110.9Z" fill="#735642" stroke="#735642"/><path d="M646.1 127.4 649.4 126.7 646.4 124.4 643.1 125Z" fill="#2f241c" stroke="#2f241c"/><path d="M569.3 106.1 573 104.8 570.3 102.4 566.6 103.6Z" fill="#51312e" stroke="#51312e"/><path d="M496 108.3 499.8 105.8 497.3 103.2 493.5 105.7Z" fill="#6a493c" stroke="#6a493c"/><path d="M459.5 132.4 463.2 129.1 460.7 126.1 457 129.4Z" fill="#706641" stroke="#706641"/><path d="M450.9 146.2 454.6 142.6 452.1 139.4 448.4 143Z" fill="#6a6f3f" stroke="#6a6f3f"/><path d="M617.4 118.3 621 117.4 618.1 114.9 614.5 115.8Z" fill="#422b26" stroke="#422b26"/><path d="M516.5 104.2 520.3 102.1 517.7 99.5 513.9 101.6Z" fill="#613e37" stroke="#613e37"/><path d="M478.3 116.5 482.1 113.7 479.5 110.9 475.7 113.8Z" fill="#755943" stroke="#755943"/><path d="M533.2 103.2 537 101.4 534.3 98.9 530.5 100.7Z" fill="#5c3934" stroke="#5c3934"/><path d="M506.2 106.1 510.1 103.8 507.5 101.2 503.6 103.5Z" fill="#65433a" stroke="#65433a"/><path d="M463.2 129.1 467 125.8 464.4 122.9 460.7 126.1Z" fill="#726442" stroke="#726442"/><path d="M474.5 119.5 478.3 116.5 475.7 113.8 472 116.7Z" fill="#765c43" stroke="#765c43"/><path d="M467 125.8 470.7 122.6 468.2 119.7 464.4 122.9Z" fill="#746143" stroke="#746143"/><path d="M470.7 122.6 474.5 119.5 472 116.7 468.2 119.7Z" fill="#755f43" stroke="#755f43"/><path d="M639.7 125.7 643.1 125 640.1 122.5 636.7 123.2Z" fill="#36281f" stroke="#36281f"/><path d="M661.9 133.4 665.2 132.8 662.1 130.5 658.8 131Z" fill="#211a14" stroke="#211a14"/><path d="M611 116.7 614.5 115.8 611.7 113.3 608.1 114.2Z" fill="#462d28" stroke="#462d28"/><path d="M454.6 142.6 458.3 139 455.8 135.9 452.1 139.4Z" fill="#6c6c40" stroke="#6c6c40"/><path d="M492.2 110.9 496 108.3 493.5 105.7 489.6 108.2Z" fill="#6d4d3e" stroke="#6d4d3e"/><path d="M539.7 104 543.4 102.2 540.8 99.7 537 101.4Z" fill="#5b3834" stroke="#5b3834"/><path d="M522.9 104.7 526.7 102.6 524.1 100.1 520.3 102.1Z" fill="#613d37" stroke="#613d37"/><path d="M604.5 115.2 608.1 114.2 605.3 111.7 601.7 112.7Z" fill="#492e2a" stroke="#492e2a"/><path d="M546.1 104.8 549.9 103.1 547.2 100.6 543.4 102.2Z" fill="#5a3733" stroke="#5a3733"/><path d="M502.4 108.5 506.2 106.1 503.6 103.5 499.8 105.8Z" fill="#68463b" stroke="#68463b"/><path d="M633.2 124 636.7 123.2 633.7 120.8 630.3 121.5Z" fill="#3c2a22" stroke="#3c2a22"/><path d="M458.3 139 462 135.5 459.5 132.4 455.8 135.9Z" fill="#6e6940" stroke="#6e6940"/><path d="M488.4 113.6 492.2 110.9 489.6 108.2 485.8 110.9Z" fill="#6f5040" stroke="#6f5040"/><path d="M512.7 106.4 516.5 104.2 513.9 101.6 510.1 103.8Z" fill="#644139" stroke="#644139"/><path d="M655.5 131.7 658.8 131 655.8 128.6 652.4 129.2Z" fill="#2b2119" stroke="#2b2119"/><path d="M598.1 113.8 601.7 112.7 598.8 110.2 595.2 111.2Z" fill="#4c2f2b" stroke="#4c2f2b"/><path d="M453.5 149.5 457.2 145.8 454.6 142.6 450.9 146.2Z" fill="#69713f" stroke="#69713f"/><path d="M552.6 105.6 556.4 104 553.7 101.5 549.9 103.1Z" fill="#593633" stroke="#593633"/><path d="M462 135.5 465.8 132.1 463.2 129.1 459.5 132.4Z" fill="#706640" stroke="#706640"/><path d="M591.6 112.4 595.2 111.2 592.4 108.8 588.8 109.9Z" fill="#4e302c" stroke="#4e302c"/><path d="M529.4 105.2 533.2 103.2 530.5 100.7 526.7 102.6Z" fill="#603c36" stroke="#603c36"/><path d="M484.6 116.5 488.4 113.6 485.8 110.9 482.1 113.7Z" fill="#715341" stroke="#715341"/><path d="M559.1 106.6 562.9 105 560.1 102.5 556.4 104Z" fill="#573532" stroke="#573532"/><path d="M626.8 122.4 630.3 121.5 627.4 119 623.9 119.9Z" fill="#412c25" stroke="#412c25"/><path d="M585.1 111.1 588.8 109.9 586 107.4 582.3 108.6Z" fill="#51312e" stroke="#51312e"/><path d="M565.6 107.6 569.3 106.1 566.6 103.6 562.9 105Z" fill="#563431" stroke="#563431"/><path d="M465.8 132.1 469.5 128.8 467 125.8 463.2 129.1Z" fill="#716241" stroke="#716241"/><path d="M578.6 109.9 582.3 108.6 579.5 106.1 575.8 107.3Z" fill="#53322f" stroke="#53322f"/><path d="M572.1 108.7 575.8 107.3 573 104.8 569.3 106.1Z" fill="#543330" stroke="#543330"/><path d="M498.6 111 502.4 108.5 499.8 105.8 496 108.3Z" fill="#6b493d" stroke="#6b493d"/><path d="M480.8 119.4 484.6 116.5 482.1 113.7 478.3 116.5Z" fill="#735642" stroke="#735642"/><path d="M649.1 129.9 652.4 129.2 649.4 126.7 646.1 127.4Z" fill="#33271e" stroke="#33271e"/><path d="M671.3 137.7 674.6 137.1 671.5 134.7 668.2 135.2Z" fill="#18120f" stroke="#18120f"/><path d="M457.2 145.8 460.9 142.2 458.3 139 454.6 142.6Z" fill="#6c6d40" stroke="#6c6d40"/><path d="M469.5 128.8 473.3 125.6 470.7 122.6 467 125.8Z" fill="#725f42" stroke="#725f42"/><path d="M477 122.4 480.8 119.4 478.3 116.5 474.5 119.5Z" fill="#745942" stroke="#745942"/><path d="M519.1 106.8 522.9 104.7 520.3 102.1 516.5 104.2Z" fill="#643f39" stroke="#643f39"/><path d="M473.3 125.6 477 122.4 474.5 119.5 470.7 122.6Z" fill="#735c42" stroke="#735c42"/><path d="M508.8 108.8 512.7 106.4 510.1 103.8 506.2 106.1Z" fill="#67433b" stroke="#67433b"/><path d="M535.9 105.9 539.7 104 537 101.4 533.2 103.2Z" fill="#5f3b36" stroke="#5f3b36"/><path d="M620.4 120.8 623.9 119.9 621 117.4 617.4 118.3Z" fill="#462e28" stroke="#462e28"/><path d="M494.8 113.7 498.6 111 496 108.3 492.2 110.9Z" fill="#6d4c3e" stroke="#6d4c3e"/><path d="M460.9 142.2 464.6 138.7 462 135.5 458.3 139Z" fill="#6e6940" stroke="#6e6940"/><path d="M456 152.8 459.7 149.1 457.2 145.8 453.5 149.5Z" fill="#697340" stroke="#697340"/><path d="M642.6 128.2 646.1 127.4 643.1 125 639.7 125.7Z" fill="#3a2b21" stroke="#3a2b21"/><path d="M613.9 119.3 617.4 118.3 614.5 115.8 611 116.7Z" fill="#492f2a" stroke="#492f2a"/><path d="M542.4 106.6 546.1 104.8 543.4 102.2 539.7 104Z" fill="#5e3a35" stroke="#5e3a35"/><path d="M664.9 135.9 668.2 135.2 665.2 132.8 661.9 133.4Z" fill="#241c16" stroke="#241c16"/><path d="M525.6 107.3 529.4 105.2 526.7 102.6 522.9 104.7Z" fill="#633e38" stroke="#633e38"/><path d="M491 116.5 494.8 113.7 492.2 110.9 488.4 113.6Z" fill="#6f4f3f" stroke="#6f4f3f"/><path d="M505 111.2 508.8 108.8 506.2 106.1 502.4 108.5Z" fill="#69463c" stroke="#69463c"/><path d="M464.6 138.7 468.3 135.2 465.8 132.1 462 135.5Z" fill="#6f6640" stroke="#6f6640"/><path d="M607.4 117.8 611 116.7 608.1 114.2 604.5 115.2Z" fill="#4c302b" stroke="#4c302b"/><path d="M548.9 107.4 552.6 105.6 549.9 103.1 546.1 104.8Z" fill="#5d3935" stroke="#5d3935"/><path d="M515.3 109.1 519.1 106.8 516.5 104.2 512.7 106.4Z" fill="#66423a" stroke="#66423a"/><path d="M636.2 126.6 639.7 125.7 636.7 123.2 633.2 124Z" fill="#402d25" stroke="#402d25"/><path d="M459.7 149.1 463.4 145.4 460.9 142.2 457.2 145.8Z" fill="#6c6f40" stroke="#6c6f40"/><path d="M487.2 119.3 491 116.5 488.4 113.6 484.6 116.5Z" fill="#715240" stroke="#715240"/><path d="M468.3 135.2 472.1 131.8 469.5 128.8 465.8 132.1Z" fill="#716241" stroke="#716241"/><path d="M600.9 116.4 604.5 115.2 601.7 112.7 598.1 113.8Z" fill="#4f312d" stroke="#4f312d"/><path d="M555.4 108.3 559.1 106.6 556.4 104 552.6 105.6Z" fill="#5b3834" stroke="#5b3834"/><path d="M658.5 134.2 661.9 133.4 658.8 131 655.5 131.7Z" fill="#2e241b" stroke="#2e241b"/><path d="M532.1 107.9 535.9 105.9 533.2 103.2 529.4 105.2Z" fill="#623d38" stroke="#623d38"/><path d="M483.4 122.3 487.2 119.3 484.6 116.5 480.8 119.4Z" fill="#725441" stroke="#725441"/><path d="M472.1 131.8 475.8 128.6 473.3 125.6 469.5 128.8Z" fill="#725f41" stroke="#725f41"/><path d="M594.4 115 598.1 113.8 595.2 111.2 591.6 112.4Z" fill="#51322e" stroke="#51322e"/><path d="M561.9 109.2 565.6 107.6 562.9 105 559.1 106.6Z" fill="#5a3733" stroke="#5a3733"/><path d="M475.8 128.6 479.6 125.4 477 122.4 473.3 125.6Z" fill="#735b42" stroke="#735b42"/><path d="M479.6 125.4 483.4 122.3 480.8 119.4 477 122.4Z" fill="#735742" stroke="#735742"/><path d="M501.2 113.8 505 111.2 502.4 108.5 498.6 111Z" fill="#6c493d" stroke="#6c493d"/><path d="M587.9 113.8 591.6 112.4 588.8 109.9 585.1 111.1Z" fill="#54332f" stroke="#54332f"/><path d="M568.4 110.3 572.1 108.7 569.3 106.1 565.6 107.6Z" fill="#593633" stroke="#593633"/><path d="M629.7 125 633.2 124 630.3 121.5 626.8 122.4Z" fill="#452f27" stroke="#452f27"/><path d="M458.6 156.2 462.3 152.4 459.7 149.1 456 152.8Z" fill="#697540" stroke="#697540"/><path d="M581.4 112.5 585.1 111.1 582.3 108.6 578.6 109.9Z" fill="#563431" stroke="#563431"/><path d="M574.9 111.4 578.6 109.9 575.8 107.3 572.1 108.7Z" fill="#573532" stroke="#573532"/><path d="M463.4 145.4 467.2 141.9 464.6 138.7 460.9 142.2Z" fill="#6e6b40" stroke="#6e6b40"/><path d="M521.8 109.6 525.6 107.3 522.9 104.7 519.1 106.8Z" fill="#65403a" stroke="#65403a"/><path d="M511.5 111.5 515.3 109.1 512.7 106.4 508.8 108.8Z" fill="#69443b" stroke="#69443b"/><path d="M538.6 108.6 542.4 106.6 539.7 104 535.9 105.9Z" fill="#613c37" stroke="#613c37"/><path d="M652.1 132.5 655.5 131.7 652.4 129.2 649.1 129.9Z" fill="#362920" stroke="#362920"/><path d="M497.4 116.6 501.2 113.8 498.6 111 494.8 113.7Z" fill="#6e4c3e" stroke="#6e4c3e"/><path d="M623.3 123.4 626.8 122.4 623.9 119.9 620.4 120.8Z" fill="#49302a" stroke="#49302a"/><path d="M467.2 141.9 470.9 138.4 468.3 135.2 464.6 138.7Z" fill="#6f6741" stroke="#6f6741"/><path d="M462.3 152.4 466 148.7 463.4 145.4 459.7 149.1Z" fill="#6b7140" stroke="#6b7140"/><path d="M545.1 109.3 548.9 107.4 546.1 104.8 542.4 106.6Z" fill="#603b37" stroke="#603b37"/><path d="M493.6 119.4 497.4 116.6 494.8 113.7 491 116.5Z" fill="#6f4e3f" stroke="#6f4e3f"/><path d="M616.8 121.9 620.4 120.8 617.4 118.3 613.9 119.3Z" fill="#4c322c" stroke="#4c322c"/><path d="M528.3 110.1 532.1 107.9 529.4 105.2 525.6 107.3Z" fill="#653f39" stroke="#653f39"/><path d="M470.9 138.4 474.6 135 472.1 131.8 468.3 135.2Z" fill="#716341" stroke="#716341"/><path d="M507.7 114.1 511.5 111.5 508.8 108.8 505 111.2Z" fill="#6b473d" stroke="#6b473d"/><path d="M645.6 130.8 649.1 129.9 646.1 127.4 642.6 128.2Z" fill="#3d2d23" stroke="#3d2d23"/><path d="M517.9 111.9 521.8 109.6 519.1 106.8 515.3 109.1Z" fill="#68433b" stroke="#68433b"/><path d="M461.2 159.6 464.9 155.8 462.3 152.4 458.6 156.2Z" fill="#687740" stroke="#687740"/><path d="M489.8 122.3 493.6 119.4 491 116.5 487.2 119.3Z" fill="#715140" stroke="#715140"/><path d="M668 138.4 671.3 137.7 668.2 135.2 664.9 135.9Z" fill="#271e17" stroke="#271e17"/><path d="M551.6 110.1 555.4 108.3 552.6 105.6 548.9 107.4Z" fill="#5f3a36" stroke="#5f3a36"/><path d="M474.6 135 478.4 131.7 475.8 128.6 472.1 131.8Z" fill="#725f41" stroke="#725f41"/><path d="M610.3 120.5 613.9 119.3 611 116.7 607.4 117.8Z" fill="#4f332d" stroke="#4f332d"/><path d="M486 125.3 489.8 122.3 487.2 119.3 483.4 122.3Z" fill="#725441" stroke="#725441"/><path d="M466 148.7 469.7 145.1 467.2 141.9 463.4 145.4Z" fill="#6e6d41" stroke="#6e6d41"/><path d="M478.4 131.7 482.2 128.4 479.6 125.4 475.8 128.6Z" fill="#725b42" stroke="#725b42"/><path d="M482.2 128.4 486 125.3 483.4 122.3 479.6 125.4Z" fill="#735742" stroke="#735742"/><path d="M558.1 111 561.9 109.2 559.1 106.6 555.4 108.3Z" fill="#5e3936" stroke="#5e3936"/><path d="M603.8 119.1 607.4 117.8 604.5 115.2 600.9 116.4Z" fill="#52332f" stroke="#52332f"/><path d="M639.2 129.2 642.6 128.2 639.7 125.7 636.2 126.6Z" fill="#433026" stroke="#433026"/><path d="M534.8 110.7 538.6 108.6 535.9 105.9 532.1 107.9Z" fill="#643e39" stroke="#643e39"/><path d="M503.8 116.7 507.7 114.1 505 111.2 501.2 113.8Z" fill="#6d493e" stroke="#6d493e"/><path d="M564.6 111.9 568.4 110.3 565.6 107.6 561.9 109.2Z" fill="#5c3835" stroke="#5c3835"/><path d="M597.3 117.7 600.9 116.4 598.1 113.8 594.4 115Z" fill="#543430" stroke="#543430"/><path d="M661.6 136.7 664.9 135.9 661.9 133.4 658.5 134.2Z" fill="#31261d" stroke="#31261d"/><path d="M469.7 145.1 473.5 141.6 470.9 138.4 467.2 141.9Z" fill="#6f6941" stroke="#6f6941"/><path d="M464.9 155.8 468.6 152.1 466 148.7 462.3 152.4Z" fill="#6b7340" stroke="#6b7340"/><path d="M571.2 113 574.9 111.4 572.1 108.7 568.4 110.3Z" fill="#5b3734" stroke="#5b3734"/><path d="M590.8 116.4 594.4 115 591.6 112.4 587.9 113.8Z" fill="#563531" stroke="#563531"/><path d="M524.4 112.3 528.3 110.1 525.6 107.3 521.8 109.6Z" fill="#67423b" stroke="#67423b"/><path d="M514.1 114.4 517.9 111.9 515.3 109.1 511.5 111.5Z" fill="#6a453c" stroke="#6a453c"/><path d="M577.7 114.1 581.4 112.5 578.6 109.9 574.9 111.4Z" fill="#5a3733" stroke="#5a3733"/><path d="M584.2 115.2 587.9 113.8 585.1 111.1 581.4 112.5Z" fill="#583632" stroke="#583632"/><path d="M632.7 127.6 636.2 126.6 633.2 124 629.7 125Z" fill="#483129" stroke="#483129"/><path d="M500 119.5 503.8 116.7 501.2 113.8 497.4 116.6Z" fill="#6f4c3f" stroke="#6f4c3f"/><path d="M541.3 111.3 545.1 109.3 542.4 106.6 538.6 108.6Z" fill="#633d39" stroke="#633d39"/><path d="M463.8 163.1 467.5 159.3 464.9 155.8 461.2 159.6Z" fill="#66793f" stroke="#66793f"/><path d="M473.5 141.6 477.2 138.2 474.6 135 470.9 138.4Z" fill="#716441" stroke="#716441"/><path d="M655.1 135.1 658.5 134.2 655.5 131.7 652.1 132.5Z" fill="#392c21" stroke="#392c21"/><path d="M496.2 122.3 500 119.5 497.4 116.6 493.6 119.4Z" fill="#704f40" stroke="#704f40"/><path d="M626.2 126.1 629.7 125 626.8 122.4 623.3 123.4Z" fill="#4c332b" stroke="#4c332b"/><path d="M468.6 152.1 472.3 148.5 469.7 145.1 466 148.7Z" fill="#6e6f41" stroke="#6e6f41"/><path d="M477.2 138.2 481 134.8 478.4 131.7 474.6 135Z" fill="#726041" stroke="#726041"/><path d="M547.8 112.1 551.6 110.1 548.9 107.4 545.1 109.3Z" fill="#623c38" stroke="#623c38"/><path d="M510.3 117 514.1 114.4 511.5 111.5 507.7 114.1Z" fill="#6c483e" stroke="#6c483e"/><path d="M530.9 112.9 534.8 110.7 532.1 107.9 528.3 110.1Z" fill="#66413b" stroke="#66413b"/><path d="M492.4 125.3 496.2 122.3 493.6 119.4 489.8 122.3Z" fill="#715241" stroke="#715241"/><path d="M481 134.8 484.8 131.6 482.2 128.4 478.4 131.7Z" fill="#735c42" stroke="#735c42"/><path d="M520.6 114.8 524.4 112.3 521.8 109.6 517.9 111.9Z" fill="#6a443c" stroke="#6a443c"/><path d="M488.6 128.4 492.4 125.3 489.8 122.3 486 125.3Z" fill="#725541" stroke="#725541"/><path d="M619.7 124.6 623.3 123.4 620.4 120.8 616.8 121.9Z" fill="#4f342d" stroke="#4f342d"/><path d="M484.8 131.6 488.6 128.4 486 125.3 482.2 128.4Z" fill="#735842" stroke="#735842"/><path d="M467.5 159.3 471.2 155.6 468.6 152.1 464.9 155.8Z" fill="#6b7541" stroke="#6b7541"/><path d="M554.3 112.9 558.1 111 555.4 108.3 551.6 110.1Z" fill="#613c38" stroke="#613c38"/><path d="M648.6 133.4 652.1 132.5 649.1 129.9 645.6 130.8Z" fill="#403025" stroke="#403025"/><path d="M472.3 148.5 476.1 144.9 473.5 141.6 469.7 145.1Z" fill="#6f6a41" stroke="#6f6a41"/><path d="M466.4 166.7 470.1 162.8 467.5 159.3 463.8 163.1Z" fill="#647b3f" stroke="#647b3f"/><path d="M613.2 123.2 616.8 121.9 613.9 119.3 610.3 120.5Z" fill="#52352f" stroke="#52352f"/><path d="M506.5 119.7 510.3 117 507.7 114.1 503.8 116.7Z" fill="#6e4a3f" stroke="#6e4a3f"/><path d="M560.9 113.8 564.6 111.9 561.9 109.2 558.1 111Z" fill="#603b37" stroke="#603b37"/><path d="M537.5 113.5 541.3 111.3 538.6 108.6 534.8 110.7Z" fill="#66403a" stroke="#66403a"/><path d="M606.7 121.8 610.3 120.5 607.4 117.8 603.8 119.1Z" fill="#553630" stroke="#553630"/><path d="M476.1 144.9 479.8 141.5 477.2 138.2 473.5 141.6Z" fill="#716641" stroke="#716641"/><path d="M642.2 131.8 645.6 130.8 642.6 128.2 639.2 129.2Z" fill="#463228" stroke="#463228"/><path d="M567.4 114.7 571.2 113 568.4 110.3 564.6 111.9Z" fill="#5f3a36" stroke="#5f3a36"/><path d="M516.8 117.3 520.6 114.8 517.9 111.9 514.1 114.4Z" fill="#6c463d" stroke="#6c463d"/><path d="M600.1 120.5 603.8 119.1 600.9 116.4 597.3 117.7Z" fill="#573631" stroke="#573631"/><path d="M471.2 155.6 475 151.9 472.3 148.5 468.6 152.1Z" fill="#6d7141" stroke="#6d7141"/><path d="M527.1 115.2 530.9 112.9 528.3 110.1 524.4 112.3Z" fill="#69433c" stroke="#69433c"/><path d="M502.6 122.5 506.5 119.7 503.8 116.7 500 119.5Z" fill="#704d40" stroke="#704d40"/><path d="M574 115.7 577.7 114.1 574.9 111.4 571.2 113Z" fill="#5d3935" stroke="#5d3935"/><path d="M593.6 119.2 597.3 117.7 594.4 115 590.8 116.4Z" fill="#593733" stroke="#593733"/><path d="M580.5 116.8 584.2 115.2 581.4 112.5 577.7 114.1Z" fill="#5c3835" stroke="#5c3835"/><path d="M587.1 118 590.8 116.4 587.9 113.8 584.2 115.2Z" fill="#5b3834" stroke="#5b3834"/><path d="M544 114.1 547.8 112.1 545.1 109.3 541.3 111.3Z" fill="#653f3a" stroke="#653f3a"/><path d="M479.8 141.5 483.6 138.1 481 134.8 477.2 138.2Z" fill="#726242" stroke="#726242"/><path d="M664.6 139.3 668 138.4 664.9 135.9 661.6 136.7Z" fill="#34291e" stroke="#34291e"/><path d="M470.1 162.8 473.9 159.1 471.2 155.6 467.5 159.3Z" fill="#6a7841" stroke="#6a7841"/><path d="M498.8 125.4 502.6 122.5 500 119.5 496.2 122.3Z" fill="#715040" stroke="#715040"/><path d="M635.7 130.3 639.2 129.2 636.2 126.6 632.7 127.6Z" fill="#4b342b" stroke="#4b342b"/><path d="M469.1 170.3 472.8 166.4 470.1 162.8 466.4 166.7Z" fill="#617c3e" stroke="#617c3e"/><path d="M483.6 138.1 487.4 134.8 484.8 131.6 481 134.8Z" fill="#735d42" stroke="#735d42"/><path d="M495 128.4 498.8 125.4 496.2 122.3 492.4 125.3Z" fill="#725341" stroke="#725341"/><path d="M475 151.9 478.7 148.3 476.1 144.9 472.3 148.5Z" fill="#706c41" stroke="#706c41"/><path d="M487.4 134.8 491.2 131.5 488.6 128.4 484.8 131.6Z" fill="#745942" stroke="#745942"/><path d="M512.9 119.9 516.8 117.3 514.1 114.4 510.3 117Z" fill="#6e493e" stroke="#6e493e"/><path d="M491.2 131.5 495 128.4 492.4 125.3 488.6 128.4Z" fill="#735642" stroke="#735642"/><path d="M550.5 114.9 554.3 112.9 551.6 110.1 547.8 112.1Z" fill="#643e39" stroke="#643e39"/><path d="M533.6 115.8 537.5 113.5 534.8 110.7 530.9 112.9Z" fill="#68423c" stroke="#68423c"/><path d="M629.1 128.8 632.7 127.6 629.7 125 626.2 126.1Z" fill="#4f352d" stroke="#4f352d"/><path d="M523.3 117.7 527.1 115.2 524.4 112.3 520.6 114.8Z" fill="#6b453d" stroke="#6b453d"/><path d="M658.1 137.7 661.6 136.7 658.5 134.2 655.1 135.1Z" fill="#3c2f23" stroke="#3c2f23"/><path d="M473.9 159.1 477.6 155.4 475 151.9 471.2 155.6Z" fill="#6d7341" stroke="#6d7341"/><path d="M478.7 148.3 482.5 144.8 479.8 141.5 476.1 144.9Z" fill="#716842" stroke="#716842"/><path d="M557.1 115.7 560.9 113.8 558.1 111 554.3 112.9Z" fill="#633d39" stroke="#633d39"/><path d="M622.6 127.3 626.2 126.1 623.3 123.4 619.7 124.6Z" fill="#52362f" stroke="#52362f"/><path d="M509.1 122.7 512.9 119.9 510.3 117 506.5 119.7Z" fill="#704b3f" stroke="#704b3f"/><path d="M472.8 166.4 476.5 162.6 473.9 159.1 470.1 162.8Z" fill="#697a40" stroke="#697a40"/><path d="M471.7 174 475.4 170.1 472.8 166.4 469.1 170.3Z" fill="#5d7e3c" stroke="#5d7e3c"/><path d="M540.2 116.4 544 114.1 541.3 111.3 537.5 113.5Z" fill="#67413b" stroke="#67413b"/><path d="M651.7 136.1 655.1 135.1 652.1 132.5 648.6 133.4Z" fill="#433227" stroke="#433227"/><path d="M616.1 125.9 619.7 124.6 616.8 121.9 613.2 123.2Z" fill="#553730" stroke="#553730"/><path d="M563.6 116.6 567.4 114.7 564.6 111.9 560.9 113.8Z" fill="#623c38" stroke="#623c38"/><path d="M482.5 144.8 486.2 141.3 483.6 138.1 479.8 141.5Z" fill="#736342" stroke="#736342"/><path d="M505.3 125.5 509.1 122.7 506.5 119.7 502.6 122.5Z" fill="#714e40" stroke="#714e40"/><path d="M519.4 120.3 523.3 117.7 520.6 114.8 516.8 117.3Z" fill="#6e473e" stroke="#6e473e"/><path d="M609.6 124.5 613.2 123.2 610.3 120.5 606.7 121.8Z" fill="#573732" stroke="#573732"/><path d="M529.8 118.2 533.6 115.8 530.9 112.9 527.1 115.2Z" fill="#6b443d" stroke="#6b443d"/><path d="M570.2 117.6 574 115.7 571.2 113 567.4 114.7Z" fill="#613b37" stroke="#613b37"/><path d="M477.6 155.4 481.3 151.7 478.7 148.3 475 151.9Z" fill="#6f6f42" stroke="#6f6f42"/><path d="M486.2 141.3 490 138 487.4 134.8 483.6 138.1Z" fill="#745f42" stroke="#745f42"/><path d="M501.5 128.5 505.3 125.5 502.6 122.5 498.8 125.4Z" fill="#725141" stroke="#725141"/><path d="M603 123.2 606.7 121.8 603.8 119.1 600.1 120.5Z" fill="#5a3833" stroke="#5a3833"/><path d="M576.8 118.6 580.5 116.8 577.7 114.1 574 115.7Z" fill="#603b37" stroke="#603b37"/><path d="M645.1 134.5 648.6 133.4 645.6 130.8 642.2 131.8Z" fill="#49352a" stroke="#49352a"/><path d="M596.5 122 600.1 120.5 597.3 117.7 593.6 119.2Z" fill="#5c3934" stroke="#5c3934"/><path d="M546.7 117 550.5 114.9 547.8 112.1 544 114.1Z" fill="#67403b" stroke="#67403b"/><path d="M583.3 119.6 587.1 118 584.2 115.2 580.5 116.8Z" fill="#5e3a36" stroke="#5e3a36"/><path d="M490 138 493.8 134.7 491.2 131.5 487.4 134.8Z" fill="#755a43" stroke="#755a43"/><path d="M589.9 120.8 593.6 119.2 590.8 116.4 587.1 118Z" fill="#5d3935" stroke="#5d3935"/><path d="M497.6 131.6 501.5 128.5 498.8 125.4 495 128.4Z" fill="#735442" stroke="#735442"/><path d="M493.8 134.7 497.6 131.6 495 128.4 491.2 131.5Z" fill="#745742" stroke="#745742"/><path d="M476.5 162.6 480.2 158.9 477.6 155.4 473.9 159.1Z" fill="#6d7641" stroke="#6d7641"/><path d="M474.4 177.7 478.1 173.7 475.4 170.1 471.7 174Z" fill="#597f3b" stroke="#597f3b"/><path d="M515.6 123 519.4 120.3 516.8 117.3 512.9 119.9Z" fill="#704a3f" stroke="#704a3f"/><path d="M475.4 170.1 479.1 166.2 476.5 162.6 472.8 166.4Z" fill="#667c40" stroke="#667c40"/><path d="M481.3 151.7 485.1 148.2 482.5 144.8 478.7 148.3Z" fill="#716a42" stroke="#716a42"/><path d="M638.6 133 642.2 131.8 639.2 129.2 635.7 130.3Z" fill="#4e362d" stroke="#4e362d"/><path d="M536.3 118.7 540.2 116.4 537.5 113.5 533.6 115.8Z" fill="#6a433d" stroke="#6a433d"/><path d="M553.3 117.8 557.1 115.7 554.3 112.9 550.5 114.9Z" fill="#663f3a" stroke="#663f3a"/><path d="M526 120.7 529.8 118.2 527.1 115.2 523.3 117.7Z" fill="#6d463e" stroke="#6d463e"/><path d="M511.8 125.8 515.6 123 512.9 119.9 509.1 122.7Z" fill="#714c40" stroke="#714c40"/><path d="M485.1 148.2 488.9 144.7 486.2 141.3 482.5 144.8Z" fill="#736642" stroke="#736642"/><path d="M632.1 131.5 635.7 130.3 632.7 127.6 629.1 128.8Z" fill="#52372f" stroke="#52372f"/><path d="M480.2 158.9 484 155.2 481.3 151.7 477.6 155.4Z" fill="#6f7142" stroke="#6f7142"/><path d="M559.8 118.6 563.6 116.6 560.9 113.8 557.1 115.7Z" fill="#653e3a" stroke="#653e3a"/><path d="M477 181.4 480.7 177.5 478.1 173.7 474.4 177.7Z" fill="#55803a" stroke="#55803a"/><path d="M661.2 140.3 664.6 139.3 661.6 136.7 658.1 137.7Z" fill="#3f3124" stroke="#3f3124"/><path d="M488.9 144.7 492.7 141.3 490 138 486.2 141.3Z" fill="#746143" stroke="#746143"/><path d="M507.9 128.7 511.8 125.8 509.1 122.7 505.3 125.5Z" fill="#724f41" stroke="#724f41"/><path d="M625.6 130.1 629.1 128.8 626.2 126.1 622.6 127.3Z" fill="#553830" stroke="#553830"/><path d="M479.1 166.2 482.9 162.5 480.2 158.9 476.5 162.6Z" fill="#6c7841" stroke="#6c7841"/><path d="M542.9 119.3 546.7 117 544 114.1 540.2 116.4Z" fill="#69423c" stroke="#69423c"/><path d="M478.1 173.7 481.8 169.9 479.1 166.2 475.4 170.1Z" fill="#637e3f" stroke="#637e3f"/><path d="M522.1 123.3 526 120.7 523.3 117.7 519.4 120.3Z" fill="#6f483f" stroke="#6f483f"/><path d="M566.4 119.5 570.2 117.6 567.4 114.7 563.6 116.6Z" fill="#643e39" stroke="#643e39"/><path d="M492.7 141.3 496.5 138 493.8 134.7 490 138Z" fill="#755c43" stroke="#755c43"/><path d="M504.1 131.7 507.9 128.7 505.3 125.5 501.5 128.5Z" fill="#745242" stroke="#745242"/><path d="M532.5 121.2 536.3 118.7 533.6 115.8 529.8 118.2Z" fill="#6c453e" stroke="#6c453e"/><path d="M619 128.7 622.6 127.3 619.7 124.6 616.1 125.9Z" fill="#583932" stroke="#583932"/><path d="M484 155.2 487.8 151.6 485.1 148.2 481.3 151.7Z" fill="#716d42" stroke="#716d42"/><path d="M496.5 138 500.3 134.8 497.6 131.6 493.8 134.7Z" fill="#755843" stroke="#755843"/><path d="M500.3 134.8 504.1 131.7 501.5 128.5 497.6 131.6Z" fill="#745542" stroke="#745542"/><path d="M654.7 138.8 658.1 137.7 655.1 135.1 651.7 136.1Z" fill="#463528" stroke="#463528"/><path d="M573 120.4 576.8 118.6 574 115.7 570.2 117.6Z" fill="#633d39" stroke="#633d39"/><path d="M612.5 127.4 616.1 125.9 613.2 123.2 609.6 124.5Z" fill="#5a3933" stroke="#5a3933"/><path d="M579.6 121.5 583.3 119.6 580.5 116.8 576.8 118.6Z" fill="#623c38" stroke="#623c38"/><path d="M549.5 120 553.3 117.8 550.5 114.9 546.7 117Z" fill="#68413c" stroke="#68413c"/><path d="M479.7 185.2 483.4 181.3 480.7 177.5 477 181.4Z" fill="#528139" stroke="#528139"/><path d="M605.9 126.1 609.6 124.5 606.7 121.8 603 123.2Z" fill="#5c3a34" stroke="#5c3a34"/><path d="M518.3 126.1 522.1 123.3 519.4 120.3 515.6 123Z" fill="#714b40" stroke="#714b40"/><path d="M586.2 122.5 589.9 120.8 587.1 118 583.3 119.6Z" fill="#603c37" stroke="#603c37"/><path d="M599.3 124.8 603 123.2 600.1 120.5 596.5 122Z" fill="#5e3a35" stroke="#5e3a35"/><path d="M482.9 162.5 486.6 158.8 484 155.2 480.2 158.9Z" fill="#6f7442" stroke="#6f7442"/><path d="M592.7 123.7 596.5 122 593.6 119.2 589.9 120.8Z" fill="#5f3b36" stroke="#5f3b36"/><path d="M487.8 151.6 491.5 148.1 488.9 144.7 485.1 148.2Z" fill="#736842" stroke="#736842"/><path d="M648.2 137.3 651.7 136.1 648.6 133.4 645.1 134.5Z" fill="#4c372b" stroke="#4c372b"/><path d="M480.7 177.5 484.5 173.6 481.8 169.9 478.1 173.7Z" fill="#5f7f3d" stroke="#5f7f3d"/><path d="M481.8 169.9 485.6 166.1 482.9 162.5 479.1 166.2Z" fill="#6b7b41" stroke="#6b7b41"/><path d="M539.1 121.7 542.9 119.3 540.2 116.4 536.3 118.7Z" fill="#6c443e" stroke="#6c443e"/><path d="M528.7 123.7 532.5 121.2 529.8 118.2 526 120.7Z" fill="#6e473f" stroke="#6e473f"/><path d="M556 120.7 559.8 118.6 557.1 115.7 553.3 117.8Z" fill="#68403b" stroke="#68403b"/><path d="M514.5 128.9 518.3 126.1 515.6 123 511.8 125.8Z" fill="#724d41" stroke="#724d41"/><path d="M491.5 148.1 495.3 144.7 492.7 141.3 488.9 144.7Z" fill="#756343" stroke="#756343"/><path d="M641.6 135.8 645.1 134.5 642.2 131.8 638.6 133Z" fill="#51382e" stroke="#51382e"/><path d="M482.4 189.1 486.1 185.1 483.4 181.3 479.7 185.2Z" fill="#4f8139" stroke="#4f8139"/><path d="M486.6 158.8 490.4 155.1 487.8 151.6 484 155.2Z" fill="#716f42" stroke="#716f42"/><path d="M510.6 131.9 514.5 128.9 511.8 125.8 507.9 128.7Z" fill="#745042" stroke="#745042"/><path d="M495.3 144.7 499.2 141.3 496.5 138 492.7 141.3Z" fill="#765e43" stroke="#765e43"/><path d="M562.6 121.6 566.4 119.5 563.6 116.6 559.8 118.6Z" fill="#67403b" stroke="#67403b"/><path d="M635.1 134.3 638.6 133 635.7 130.3 632.1 131.5Z" fill="#543930" stroke="#543930"/><path d="M506.8 134.9 510.6 131.9 507.9 128.7 504.1 131.7Z" fill="#755342" stroke="#755342"/><path d="M499.2 141.3 503 138.1 500.3 134.8 496.5 138Z" fill="#765a44" stroke="#765a44"/><path d="M545.6 122.3 549.5 120 546.7 117 542.9 119.3Z" fill="#6b433d" stroke="#6b433d"/><path d="M483.4 181.3 487.2 177.3 484.5 173.6 480.7 177.5Z" fill="#5b803c" stroke="#5b803c"/><path d="M524.8 126.4 528.7 123.7 526 120.7 522.1 123.3Z" fill="#704a40" stroke="#704a40"/><path d="M503 138.1 506.8 134.9 504.1 131.7 500.3 134.8Z" fill="#765743" stroke="#765743"/><path d="M485.6 166.1 489.3 162.4 486.6 158.8 482.9 162.5Z" fill="#6e7642" stroke="#6e7642"/><path d="M484.5 173.6 488.2 169.8 485.6 166.1 481.8 169.9Z" fill="#687d41" stroke="#687d41"/><path d="M535.2 124.2 539.1 121.7 536.3 118.7 532.5 121.2Z" fill="#6e463f" stroke="#6e463f"/><path d="M569.2 122.4 573 120.4 570.2 117.6 566.4 119.5Z" fill="#663f3a" stroke="#663f3a"/><path d="M628.5 132.9 632.1 131.5 629.1 128.8 625.6 130.1Z" fill="#573a32" stroke="#573a32"/><path d="M490.4 155.1 494.2 151.6 491.5 148.1 487.8 151.6Z" fill="#736b43" stroke="#736b43"/><path d="M485.1 193 488.8 189 486.1 185.1 482.4 189.1Z" fill="#4c8238" stroke="#4c8238"/><path d="M575.8 123.4 579.6 121.5 576.8 118.6 573 120.4Z" fill="#653e3a" stroke="#653e3a"/><path d="M621.9 131.5 625.6 130.1 622.6 127.3 619 128.7Z" fill="#5a3b33" stroke="#5a3b33"/><path d="M521 129.2 524.8 126.4 522.1 123.3 518.3 126.1Z" fill="#724c41" stroke="#724c41"/><path d="M552.2 123 556 120.7 553.3 117.8 549.5 120Z" fill="#6a423d" stroke="#6a423d"/><path d="M615.4 130.2 619 128.7 616.1 125.9 612.5 127.4Z" fill="#5c3b34" stroke="#5c3b34"/><path d="M582.4 124.4 586.2 122.5 583.3 119.6 579.6 121.5Z" fill="#643e39" stroke="#643e39"/><path d="M494.2 151.6 498 148.1 495.3 144.7 491.5 148.1Z" fill="#756543" stroke="#756543"/><path d="M489.3 162.4 493.1 158.7 490.4 155.1 486.6 158.8Z" fill="#717143" stroke="#717143"/><path d="M486.1 185.1 489.9 181.1 487.2 177.3 483.4 181.3Z" fill="#56813a" stroke="#56813a"/><path d="M657.7 141.5 661.2 140.3 658.1 137.7 654.7 138.8Z" fill="#48372a" stroke="#48372a"/><path d="M608.8 129 612.5 127.4 609.6 124.5 605.9 126.1Z" fill="#5e3c36" stroke="#5e3c36"/><path d="M589 125.5 592.7 123.7 589.9 120.8 586.2 122.5Z" fill="#623d38" stroke="#623d38"/><path d="M602.2 127.7 605.9 126.1 603 123.2 599.3 124.8Z" fill="#603c37" stroke="#603c37"/><path d="M595.6 126.6 599.3 124.8 596.5 122 592.7 123.7Z" fill="#613d37" stroke="#613d37"/><path d="M517.1 132.1 521 129.2 518.3 126.1 514.5 128.9Z" fill="#744f42" stroke="#744f42"/><path d="M531.4 126.8 535.2 124.2 532.5 121.2 528.7 123.7Z" fill="#704940" stroke="#704940"/><path d="M487.8 196.9 491.5 192.9 488.8 189 485.1 193Z" fill="#488237" stroke="#488237"/><path d="M541.8 124.8 545.6 122.3 542.9 119.3 539.1 121.7Z" fill="#6d453e" stroke="#6d453e"/><path d="M488.2 169.8 492 166 489.3 162.4 485.6 166.1Z" fill="#6d7942" stroke="#6d7942"/><path d="M487.2 177.3 490.9 173.5 488.2 169.8 484.5 173.6Z" fill="#657f40" stroke="#657f40"/><path d="M498 148.1 501.8 144.7 499.2 141.3 495.3 144.7Z" fill="#766044" stroke="#766044"/><path d="M558.8 123.8 562.6 121.6 559.8 118.6 556 120.7Z" fill="#69423c" stroke="#69423c"/><path d="M513.3 135.1 517.1 132.1 514.5 128.9 510.6 131.9Z" fill="#755242" stroke="#755242"/><path d="M651.2 140 654.7 138.8 651.7 136.1 648.2 137.3Z" fill="#4e392d" stroke="#4e392d"/><path d="M501.8 144.7 505.6 141.4 503 138.1 499.2 141.3Z" fill="#775c44" stroke="#775c44"/><path d="M509.5 138.2 513.3 135.1 510.6 131.9 506.8 134.9Z" fill="#765543" stroke="#765543"/><path d="M493.1 158.7 496.9 155.1 494.2 151.6 490.4 155.1Z" fill="#736d43" stroke="#736d43"/><path d="M505.6 141.4 509.5 138.2 506.8 134.9 503 138.1Z" fill="#765844" stroke="#765844"/><path d="M488.8 189 492.6 185 489.9 181.1 486.1 185.1Z" fill="#53823a" stroke="#53823a"/><path d="M527.5 129.6 531.4 126.8 528.7 123.7 524.8 126.4Z" fill="#724b41" stroke="#724b41"/><path d="M490.5 200.9 494.2 196.8 491.5 192.9 487.8 196.9Z" fill="#448337" stroke="#448337"/><path d="M565.4 124.6 569.2 122.4 566.4 119.5 562.6 121.6Z" fill="#68413c" stroke="#68413c"/><path d="M644.6 138.6 648.2 137.3 645.1 134.5 641.6 135.8Z" fill="#533a30" stroke="#533a30"/><path d="M548.4 125.4 552.2 123 549.5 120 545.6 122.3Z" fill="#6c453e" stroke="#6c453e"/><path d="M492 166 495.8 162.3 493.1 158.7 489.3 162.4Z" fill="#707443" stroke="#707443"/><path d="M538 127.3 541.8 124.8 539.1 121.7 535.2 124.2Z" fill="#6f4840" stroke="#6f4840"/><path d="M489.9 181.1 493.6 177.3 490.9 173.5 487.2 177.3Z" fill="#60803e" stroke="#60803e"/><path d="M496.9 155.1 500.7 151.6 498 148.1 494.2 151.6Z" fill="#756843" stroke="#756843"/><path d="M490.9 173.5 494.7 169.7 492 166 488.2 169.8Z" fill="#6c7c42" stroke="#6c7c42"/><path d="M638 137.2 641.6 135.8 638.6 133 635.1 134.3Z" fill="#573b32" stroke="#573b32"/><path d="M572 125.5 575.8 123.4 573 120.4 569.2 122.4Z" fill="#67403b" stroke="#67403b"/><path d="M523.7 132.4 527.5 129.6 524.8 126.4 521 129.2Z" fill="#744d42" stroke="#744d42"/><path d="M493.2 204.9 496.9 200.8 494.2 196.8 490.5 200.9Z" fill="#418436" stroke="#418436"/><path d="M491.5 192.9 495.3 188.9 492.6 185 488.8 189Z" fill="#508239" stroke="#508239"/><path d="M631.5 135.8 635.1 134.3 632.1 131.5 628.5 132.9Z" fill="#5a3c33" stroke="#5a3c33"/><path d="M500.7 151.6 504.5 148.2 501.8 144.7 498 148.1Z" fill="#766344" stroke="#766344"/><path d="M578.6 126.4 582.4 124.4 579.6 121.5 575.8 123.4Z" fill="#67403b" stroke="#67403b"/><path d="M555 126.1 558.8 123.8 556 120.7 552.2 123Z" fill="#6c443e" stroke="#6c443e"/><path d="M519.9 135.4 523.7 132.4 521 129.2 517.1 132.1Z" fill="#755042" stroke="#755042"/><path d="M495.8 162.3 499.6 158.7 496.9 155.1 493.1 158.7Z" fill="#736f43" stroke="#736f43"/><path d="M624.9 134.4 628.5 132.9 625.6 130.1 621.9 131.5Z" fill="#5c3d34" stroke="#5c3d34"/><path d="M585.2 127.4 589 125.5 586.2 122.5 582.4 124.4Z" fill="#653f3a" stroke="#653f3a"/><path d="M534.1 130 538 127.3 535.2 124.2 531.4 126.8Z" fill="#714a41" stroke="#714a41"/><path d="M504.5 148.2 508.3 144.8 505.6 141.4 501.8 144.7Z" fill="#775e44" stroke="#775e44"/><path d="M492.6 185 496.3 181.1 493.6 177.3 489.9 181.1Z" fill="#5c813c" stroke="#5c813c"/><path d="M544.6 127.9 548.4 125.4 545.6 122.3 541.8 124.8Z" fill="#6f473f" stroke="#6f473f"/><path d="M618.3 133.1 621.9 131.5 619 128.7 615.4 130.2Z" fill="#5e3d36" stroke="#5e3d36"/><path d="M516 138.4 519.9 135.4 517.1 132.1 513.3 135.1Z" fill="#765343" stroke="#765343"/><path d="M495.9 208.9 499.7 204.8 496.9 200.8 493.2 204.9Z" fill="#3f8436" stroke="#3f8436"/><path d="M591.9 128.4 595.6 126.6 592.7 123.7 589 125.5Z" fill="#643f39" stroke="#643f39"/><path d="M508.3 144.8 512.2 141.6 509.5 138.2 505.6 141.4Z" fill="#775a44" stroke="#775a44"/><path d="M494.7 169.7 498.5 166 495.8 162.3 492 166Z" fill="#6f7743" stroke="#6f7743"/><path d="M512.2 141.6 516 138.4 513.3 135.1 509.5 138.2Z" fill="#775644" stroke="#775644"/><path d="M611.7 131.9 615.4 130.2 612.5 127.4 608.8 129Z" fill="#603d37" stroke="#603d37"/><path d="M598.5 129.5 602.2 127.7 599.3 124.8 595.6 126.6Z" fill="#633e39" stroke="#633e39"/><path d="M493.6 177.3 497.4 173.4 494.7 169.7 490.9 173.5Z" fill="#697e41" stroke="#697e41"/><path d="M605.1 130.7 608.8 129 605.9 126.1 602.2 127.7Z" fill="#623e38" stroke="#623e38"/><path d="M494.2 196.8 498 192.8 495.3 188.9 491.5 192.9Z" fill="#4c8338" stroke="#4c8338"/><path d="M561.6 126.8 565.4 124.6 562.6 121.6 558.8 123.8Z" fill="#6b433d" stroke="#6b433d"/><path d="M499.6 158.7 503.4 155.1 500.7 151.6 496.9 155.1Z" fill="#756b43" stroke="#756b43"/><path d="M530.3 132.8 534.1 130 531.4 126.8 527.5 129.6Z" fill="#734c41" stroke="#734c41"/><path d="M498.6 213 502.4 208.8 499.7 204.8 495.9 208.9Z" fill="#3e8536" stroke="#3e8536"/><path d="M568.2 127.7 572 125.5 569.2 122.4 565.4 124.6Z" fill="#6a423d" stroke="#6a423d"/><path d="M551.2 128.5 555 126.1 552.2 123 548.4 125.4Z" fill="#6e463f" stroke="#6e463f"/><path d="M495.3 188.9 499 184.9 496.3 181.1 492.6 185Z" fill="#57823b" stroke="#57823b"/><path d="M654.2 142.8 657.7 141.5 654.7 138.8 651.2 140Z" fill="#513b2e" stroke="#513b2e"/><path d="M540.7 130.5 544.6 127.9 541.8 124.8 538 127.3Z" fill="#714940" stroke="#714940"/><path d="M503.4 155.1 507.2 151.7 504.5 148.2 500.7 151.6Z" fill="#766544" stroke="#766544"/><path d="M498.5 166 502.3 162.3 499.6 158.7 495.8 162.3Z" fill="#727243" stroke="#727243"/><path d="M496.9 200.8 500.7 196.7 498 192.8 494.2 196.8Z" fill="#498338" stroke="#498338"/><path d="M526.4 135.7 530.3 132.8 527.5 129.6 523.7 132.4Z" fill="#754f42" stroke="#754f42"/><path d="M496.3 181.1 500.1 177.2 497.4 173.4 493.6 177.3Z" fill="#668040" stroke="#668040"/><path d="M501.4 217 505.1 212.9 502.4 208.8 498.6 213Z" fill="#3e8536" stroke="#3e8536"/><path d="M497.4 173.4 501.2 169.7 498.5 166 494.7 169.7Z" fill="#6e7a43" stroke="#6e7a43"/><path d="M647.6 141.4 651.2 140 648.2 137.3 644.6 138.6Z" fill="#553c31" stroke="#553c31"/><path d="M574.8 128.5 578.6 126.4 575.8 123.4 572 125.5Z" fill="#69423c" stroke="#69423c"/><path d="M507.2 151.7 511 148.3 508.3 144.8 504.5 148.2Z" fill="#786044" stroke="#786044"/><path d="M522.6 138.7 526.4 135.7 523.7 132.4 519.9 135.4Z" fill="#765243" stroke="#765243"/><path d="M511 148.3 514.9 145 512.2 141.6 508.3 144.8Z" fill="#785c45" stroke="#785c45"/><path d="M557.8 129.2 561.6 126.8 558.8 123.8 555 126.1Z" fill="#6d453f" stroke="#6d453f"/><path d="M641 140 644.6 138.6 641.6 135.8 638 137.2Z" fill="#593d33" stroke="#593d33"/><path d="M518.7 141.8 522.6 138.7 519.9 135.4 516 138.4Z" fill="#775544" stroke="#775544"/><path d="M499.7 204.8 503.4 200.7 500.7 196.7 496.9 200.8Z" fill="#458437" stroke="#458437"/><path d="M498 192.8 501.8 188.8 499 184.9 495.3 188.9Z" fill="#54833a" stroke="#54833a"/><path d="M504.1 221.2 507.9 217 505.1 212.9 501.4 217Z" fill="#3d8637" stroke="#3d8637"/><path d="M581.5 129.4 585.2 127.4 582.4 124.4 578.6 126.4Z" fill="#68413c" stroke="#68413c"/><path d="M502.3 162.3 506.1 158.7 503.4 155.1 499.6 158.7Z" fill="#746d43" stroke="#746d43"/><path d="M514.9 145 518.7 141.8 516 138.4 512.2 141.6Z" fill="#785844" stroke="#785844"/><path d="M536.9 133.3 540.7 130.5 538 127.3 534.1 130Z" fill="#734b41" stroke="#734b41"/><path d="M547.3 131.1 551.2 128.5 548.4 125.4 544.6 127.9Z" fill="#704840" stroke="#704840"/><path d="M634.4 138.7 638 137.2 635.1 134.3 631.5 135.8Z" fill="#5c3e34" stroke="#5c3e34"/><path d="M588.1 130.4 591.9 128.4 589 125.5 585.2 127.4Z" fill="#67413b" stroke="#67413b"/><path d="M499 184.9 502.8 181.1 500.1 177.2 496.3 181.1Z" fill="#61813f" stroke="#61813f"/><path d="M501.2 169.7 505 166 502.3 162.3 498.5 166Z" fill="#717443" stroke="#717443"/><path d="M627.8 137.4 631.5 135.8 628.5 132.9 624.9 134.4Z" fill="#5e3e36" stroke="#5e3e36"/><path d="M506.8 225.3 510.6 221.1 507.9 217 504.1 221.2Z" fill="#3d8737" stroke="#3d8737"/><path d="M594.7 131.5 598.5 129.5 595.6 126.6 591.9 128.4Z" fill="#66403a" stroke="#66403a"/><path d="M500.1 177.2 503.9 173.4 501.2 169.7 497.4 173.4Z" fill="#6d7d43" stroke="#6d7d43"/><path d="M564.4 130 568.2 127.7 565.4 124.6 561.6 126.8Z" fill="#6c443e" stroke="#6c443e"/><path d="M506.1 158.7 509.9 155.2 507.2 151.7 503.4 155.1Z" fill="#766844" stroke="#766844"/><path d="M502.4 208.8 506.2 204.8 503.4 200.7 499.7 204.8Z" fill="#418436" stroke="#418436"/><path d="M621.2 136.1 624.9 134.4 621.9 131.5 618.3 133.1Z" fill="#603f37" stroke="#603f37"/><path d="M533 136.1 536.9 133.3 534.1 130 530.3 132.8Z" fill="#744d42" stroke="#744d42"/><path d="M601.3 132.5 605.1 130.7 602.2 127.7 598.5 129.5Z" fill="#65403a" stroke="#65403a"/><path d="M614.6 134.9 618.3 133.1 615.4 130.2 611.7 131.9Z" fill="#623f38" stroke="#623f38"/><path d="M608 133.7 611.7 131.9 608.8 129 605.1 130.7Z" fill="#643f39" stroke="#643f39"/><path d="M500.7 196.7 504.5 192.8 501.8 188.8 498 192.8Z" fill="#508339" stroke="#508339"/><path d="M509.6 229.4 513.4 225.3 510.6 221.1 506.8 225.3Z" fill="#3d8737" stroke="#3d8737"/><path d="M509.9 155.2 513.8 151.8 511 148.3 507.2 151.7Z" fill="#786345" stroke="#786345"/><path d="M553.9 131.7 557.8 129.2 555 126.1 551.2 128.5Z" fill="#6f4740" stroke="#6f4740"/><path d="M543.5 133.8 547.3 131.1 544.6 127.9 540.7 130.5Z" fill="#724a41" stroke="#724a41"/><path d="M529.1 139.1 533 136.1 530.3 132.8 526.4 135.7Z" fill="#765043" stroke="#765043"/><path d="M571 130.8 574.8 128.5 572 125.5 568.2 127.7Z" fill="#6c443e" stroke="#6c443e"/><path d="M505.1 212.9 508.9 208.8 506.2 204.8 502.4 208.8Z" fill="#3f8536" stroke="#3f8536"/><path d="M505 166 508.8 162.4 506.1 158.7 502.3 162.3Z" fill="#747044" stroke="#747044"/><path d="M501.8 188.8 505.5 184.9 502.8 181.1 499 184.9Z" fill="#5d823d" stroke="#5d823d"/><path d="M512.3 233.6 516.1 229.4 513.4 225.3 509.6 229.4Z" fill="#3c8838" stroke="#3c8838"/><path d="M513.8 151.8 517.6 148.5 514.9 145 511 148.3Z" fill="#795e45" stroke="#795e45"/><path d="M525.3 142.1 529.1 139.1 526.4 135.7 522.6 138.7Z" fill="#775344" stroke="#775344"/><path d="M503.4 200.7 507.2 196.7 504.5 192.8 500.7 196.7Z" fill="#4d8439" stroke="#4d8439"/><path d="M517.6 148.5 521.4 145.2 518.7 141.8 514.9 145Z" fill="#785a45" stroke="#785a45"/><path d="M503.9 173.4 507.7 169.7 505 166 501.2 169.7Z" fill="#707743" stroke="#707743"/><path d="M521.4 145.2 525.3 142.1 522.6 138.7 518.7 141.8Z" fill="#785644" stroke="#785644"/><path d="M502.8 181.1 506.6 177.2 503.9 173.4 500.1 177.2Z" fill="#6a7f42" stroke="#6a7f42"/><path d="M577.7 131.6 581.5 129.4 578.6 126.4 574.8 128.5Z" fill="#6b433d" stroke="#6b433d"/><path d="M515.1 237.8 518.9 233.6 516.1 229.4 512.3 233.6Z" fill="#3b8838" stroke="#3b8838"/><path d="M507.9 217 511.7 212.9 508.9 208.8 505.1 212.9Z" fill="#3f8636" stroke="#3f8636"/><path d="M539.6 136.6 543.5 133.8 540.7 130.5 536.9 133.3Z" fill="#744c42" stroke="#744c42"/><path d="M560.6 132.4 564.4 130 561.6 126.8 557.8 129.2Z" fill="#6f463f" stroke="#6f463f"/><path d="M508.8 162.4 512.6 158.8 509.9 155.2 506.1 158.7Z" fill="#766b44" stroke="#766b44"/><path d="M517.8 242 521.6 237.8 518.9 233.6 515.1 237.8Z" fill="#3b8938" stroke="#3b8938"/><path d="M650.6 144.3 654.2 142.8 651.2 140 647.6 141.4Z" fill="#583e32" stroke="#583e32"/><path d="M550.1 134.3 553.9 131.7 551.2 128.5 547.3 131.1Z" fill="#714941" stroke="#714941"/><path d="M584.3 132.6 588.1 130.4 585.2 127.4 581.5 129.4Z" fill="#6a433d" stroke="#6a433d"/><path d="M504.5 192.8 508.3 188.8 505.5 184.9 501.8 188.8Z" fill="#58833b" stroke="#58833b"/><path d="M506.2 204.8 510 200.7 507.2 196.7 503.4 200.7Z" fill="#498438" stroke="#498438"/><path d="M510.6 221.1 514.4 217 511.7 212.9 507.9 217Z" fill="#3e8637" stroke="#3e8637"/><path d="M644 142.9 647.6 141.4 644.6 138.6 641 140Z" fill="#5b3f34" stroke="#5b3f34"/><path d="M535.7 139.4 539.6 136.6 536.9 133.3 533 136.1Z" fill="#764f43" stroke="#764f43"/><path d="M520.6 246.2 524.4 242 521.6 237.8 517.8 242Z" fill="#3a893a" stroke="#3a893a"/><path d="M507.7 169.7 511.5 166.1 508.8 162.4 505 166Z" fill="#737244" stroke="#737244"/><path d="M512.6 158.8 516.5 155.4 513.8 151.8 509.9 155.2Z" fill="#786545" stroke="#786545"/><path d="M590.9 133.5 594.7 131.5 591.9 128.4 588.1 130.4Z" fill="#69423c" stroke="#69423c"/><path d="M505.5 184.9 509.3 181.1 506.6 177.2 502.8 181.1Z" fill="#678141" stroke="#678141"/><path d="M567.2 133.1 571 130.8 568.2 127.7 564.4 130Z" fill="#6e463f" stroke="#6e463f"/><path d="M506.6 177.2 510.4 173.5 507.7 169.7 503.9 173.4Z" fill="#6f7a43" stroke="#6f7a43"/><path d="M637.4 141.6 641 140 638 137.2 634.4 138.7Z" fill="#5e4036" stroke="#5e4036"/><path d="M597.6 134.5 601.3 132.5 598.5 129.5 594.7 131.5Z" fill="#68423b" stroke="#68423b"/><path d="M523.3 250.5 527.1 246.2 524.4 242 520.6 246.2Z" fill="#388a42" stroke="#388a42"/><path d="M513.4 225.3 517.2 221.1 514.4 217 510.6 221.1Z" fill="#3e8737" stroke="#3e8737"/><path d="M516.5 155.4 520.3 152 517.6 148.5 513.8 151.8Z" fill="#796045" stroke="#796045"/><path d="M531.9 142.4 535.7 139.4 533 136.1 529.1 139.1Z" fill="#775243" stroke="#775243"/><path d="M630.8 140.3 634.4 138.7 631.5 135.8 627.8 137.4Z" fill="#604037" stroke="#604037"/><path d="M508.9 208.8 512.7 204.7 510 200.7 506.2 204.8Z" fill="#458537" stroke="#458537"/><path d="M604.2 135.6 608 133.7 605.1 130.7 601.3 132.5Z" fill="#67413b" stroke="#67413b"/><path d="M624.2 139.1 627.8 137.4 624.9 134.4 621.2 136.1Z" fill="#624138" stroke="#624138"/><path d="M546.2 137.1 550.1 134.3 547.3 131.1 543.5 133.8Z" fill="#734c42" stroke="#734c42"/><path d="M507.2 196.7 511 192.8 508.3 188.8 504.5 192.8Z" fill="#54843a" stroke="#54843a"/><path d="M610.9 136.7 614.6 134.9 611.7 131.9 608 133.7Z" fill="#66413a" stroke="#66413a"/><path d="M617.5 137.9 621.2 136.1 618.3 133.1 614.6 134.9Z" fill="#644139" stroke="#644139"/><path d="M556.7 135 560.6 132.4 557.8 129.2 553.9 131.7Z" fill="#714841" stroke="#714841"/><path d="M520.3 152 524.2 148.7 521.4 145.2 517.6 148.5Z" fill="#795c45" stroke="#795c45"/><path d="M528 145.5 531.9 142.4 529.1 139.1 525.3 142.1Z" fill="#785544" stroke="#785544"/><path d="M524.2 148.7 528 145.5 525.3 142.1 521.4 145.2Z" fill="#785845" stroke="#785845"/><path d="M511.5 166.1 515.4 162.5 512.6 158.8 508.8 162.4Z" fill="#756e44" stroke="#756e44"/><path d="M573.8 133.9 577.7 131.6 574.8 128.5 571 130.8Z" fill="#6d453f" stroke="#6d453f"/><path d="M516.1 229.4 519.9 225.2 517.2 221.1 513.4 225.3Z" fill="#3d8737" stroke="#3d8737"/><path d="M508.3 188.8 512.1 185 509.3 181.1 505.5 184.9Z" fill="#62823f" stroke="#62823f"/><path d="M511.7 212.9 515.5 208.8 512.7 204.7 508.9 208.8Z" fill="#418536" stroke="#418536"/><path d="M510.4 173.5 514.3 169.8 511.5 166.1 507.7 169.7Z" fill="#727544" stroke="#727544"/><path d="M542.4 139.9 546.2 137.1 543.5 133.8 539.6 136.6Z" fill="#754e43" stroke="#754e43"/><path d="M509.3 181.1 513.2 177.3 510.4 173.5 506.6 177.2Z" fill="#6e7d43" stroke="#6e7d43"/><path d="M518.9 233.6 522.7 229.4 519.9 225.2 516.1 229.4Z" fill="#3d8838" stroke="#3d8838"/><path d="M510 200.7 513.8 196.7 511 192.8 507.2 196.7Z" fill="#50843a" stroke="#50843a"/><path d="M515.4 162.5 519.2 159 516.5 155.4 512.6 158.8Z" fill="#776845" stroke="#776845"/><path d="M580.5 134.8 584.3 132.6 581.5 129.4 577.7 131.6Z" fill="#6c453e" stroke="#6c453e"/><path d="M563.4 135.6 567.2 133.1 564.4 130 560.6 132.4Z" fill="#704840" stroke="#704840"/><path d="M552.9 137.6 556.7 135 553.9 131.7 550.1 134.3Z" fill="#734b42" stroke="#734b42"/><path d="M514.4 217 518.2 212.9 515.5 208.8 511.7 212.9Z" fill="#3f8636" stroke="#3f8636"/><path d="M521.6 237.8 525.4 233.6 522.7 229.4 518.9 233.6Z" fill="#3c8938" stroke="#3c8938"/><path d="M538.5 142.8 542.4 139.9 539.6 136.6 535.7 139.4Z" fill="#775043" stroke="#775043"/><path d="M519.2 159 523.1 155.6 520.3 152 516.5 155.4Z" fill="#796345" stroke="#796345"/><path d="M587.1 135.7 590.9 133.5 588.1 130.4 584.3 132.6Z" fill="#6b443e" stroke="#6b443e"/><path d="M511 192.8 514.8 188.9 512.1 185 508.3 188.8Z" fill="#5d833d" stroke="#5d833d"/><path d="M514.3 169.8 518.1 166.2 515.4 162.5 511.5 166.1Z" fill="#757044" stroke="#757044"/><path d="M512.7 204.7 516.5 200.7 513.8 196.7 510 200.7Z" fill="#4d8539" stroke="#4d8539"/><path d="M534.6 145.9 538.5 142.8 535.7 139.4 531.9 142.4Z" fill="#785444" stroke="#785444"/><path d="M523.1 155.6 526.9 152.3 524.2 148.7 520.3 152Z" fill="#7a5e46" stroke="#7a5e46"/><path d="M524.4 242 528.2 237.8 525.4 233.6 521.6 237.8Z" fill="#3c8938" stroke="#3c8938"/><path d="M570 136.4 573.8 133.9 571 130.8 567.2 133.1Z" fill="#6f4740" stroke="#6f4740"/><path d="M593.8 136.7 597.6 134.5 594.7 131.5 590.9 133.5Z" fill="#6b443d" stroke="#6b443d"/><path d="M517.2 221.1 521 217 518.2 212.9 514.4 217Z" fill="#3f8637" stroke="#3f8637"/><path d="M512.1 185 515.9 181.1 513.2 177.3 509.3 181.1Z" fill="#6b8042" stroke="#6b8042"/><path d="M530.8 149 534.6 145.9 531.9 142.4 528 145.5Z" fill="#795745" stroke="#795745"/><path d="M513.2 177.3 517 173.6 514.3 169.8 510.4 173.5Z" fill="#717844" stroke="#717844"/><path d="M526.9 152.3 530.8 149 528 145.5 524.2 148.7Z" fill="#795a45" stroke="#795a45"/><path d="M549 140.4 552.9 137.6 550.1 134.3 546.2 137.1Z" fill="#754d42" stroke="#754d42"/><path d="M600.5 137.7 604.2 135.6 601.3 132.5 597.6 134.5Z" fill="#6a433c" stroke="#6a433c"/><path d="M527.1 246.2 531 242 528.2 237.8 524.4 242Z" fill="#3b8a38" stroke="#3b8a38"/><path d="M647 145.9 650.6 144.3 647.6 141.4 644 142.9Z" fill="#5d4135" stroke="#5d4135"/><path d="M559.5 138.3 563.4 135.6 560.6 132.4 556.7 135Z" fill="#724a41" stroke="#724a41"/><path d="M518.1 166.2 521.9 162.7 519.2 159 515.4 162.5Z" fill="#776b45" stroke="#776b45"/><path d="M640.4 144.6 644 142.9 641 140 637.4 141.6Z" fill="#604237" stroke="#604237"/><path d="M607.1 138.7 610.9 136.7 608 133.7 604.2 135.6Z" fill="#69433c" stroke="#69433c"/><path d="M515.5 208.8 519.3 204.8 516.5 200.7 512.7 204.7Z" fill="#498538" stroke="#498538"/><path d="M513.8 196.7 517.6 192.8 514.8 188.9 511 192.8Z" fill="#58843b" stroke="#58843b"/><path d="M519.9 225.2 523.7 221.1 521 217 517.2 221.1Z" fill="#3e8737" stroke="#3e8737"/><path d="M633.8 143.3 637.4 141.6 634.4 138.7 630.8 140.3Z" fill="#624238" stroke="#624238"/><path d="M613.8 139.8 617.5 137.9 614.6 134.9 610.9 136.7Z" fill="#68433b" stroke="#68433b"/><path d="M576.7 137.2 580.5 134.8 577.7 131.6 573.8 133.9Z" fill="#6f473f" stroke="#6f473f"/><path d="M627.1 142.1 630.8 140.3 627.8 137.4 624.2 139.1Z" fill="#644239" stroke="#644239"/><path d="M620.5 140.9 624.2 139.1 621.2 136.1 617.5 137.9Z" fill="#66423a" stroke="#66423a"/><path d="M545.1 143.3 549 140.4 546.2 137.1 542.4 139.9Z" fill="#764f43" stroke="#764f43"/><path d="M517 173.6 520.8 169.9 518.1 166.2 514.3 169.8Z" fill="#747344" stroke="#747344"/><path d="M521.9 162.7 525.8 159.2 523.1 155.6 519.2 159Z" fill="#786645" stroke="#786645"/><path d="M514.8 188.9 518.7 185 515.9 181.1 512.1 185Z" fill="#678241" stroke="#678241"/><path d="M522.7 229.4 526.5 225.3 523.7 221.1 519.9 225.2Z" fill="#3e8837" stroke="#3e8837"/><path d="M515.9 181.1 519.7 177.4 517 173.6 513.2 177.3Z" fill="#707b44" stroke="#707b44"/><path d="M566.2 138.9 570 136.4 567.2 133.1 563.4 135.6Z" fill="#714941" stroke="#714941"/><path d="M518.2 212.9 522 208.8 519.3 204.8 515.5 208.8Z" fill="#458637" stroke="#458637"/><path d="M583.3 138 587.1 135.7 584.3 132.6 580.5 134.8Z" fill="#6e463f" stroke="#6e463f"/><path d="M555.6 141 559.5 138.3 556.7 135 552.9 137.6Z" fill="#744c42" stroke="#744c42"/><path d="M541.3 146.3 545.1 143.3 542.4 139.9 538.5 142.8Z" fill="#785244" stroke="#785244"/><path d="M525.8 159.2 529.7 155.8 526.9 152.3 523.1 155.6Z" fill="#7a6046" stroke="#7a6046"/><path d="M516.5 200.7 520.3 196.8 517.6 192.8 513.8 196.7Z" fill="#54843a" stroke="#54843a"/><path d="M537.4 149.4 541.3 146.3 538.5 142.8 534.6 145.9Z" fill="#785545" stroke="#785545"/><path d="M525.4 233.6 529.3 229.4 526.5 225.3 522.7 229.4Z" fill="#3d8837" stroke="#3d8837"/><path d="M529.7 155.8 533.5 152.6 530.8 149 526.9 152.3Z" fill="#7a5c46" stroke="#7a5c46"/><path d="M533.5 152.6 537.4 149.4 534.6 145.9 530.8 149Z" fill="#795945" stroke="#795945"/><path d="M520.8 169.9 524.7 166.4 521.9 162.7 518.1 166.2Z" fill="#766e44" stroke="#766e44"/><path d="M590 138.9 593.8 136.7 590.9 133.5 587.1 135.7Z" fill="#6d463e" stroke="#6d463e"/><path d="M521 217 524.8 212.9 522 208.8 518.2 212.9Z" fill="#408636" stroke="#408636"/><path d="M517.6 192.8 521.4 188.9 518.7 185 514.8 188.9Z" fill="#62833f" stroke="#62833f"/><path d="M551.8 143.8 555.6 141 552.9 137.6 549 140.4Z" fill="#764e43" stroke="#764e43"/><path d="M572.8 139.7 576.7 137.2 573.8 133.9 570 136.4Z" fill="#714941" stroke="#714941"/><path d="M528.2 237.8 532 233.6 529.3 229.4 525.4 233.6Z" fill="#3d8938" stroke="#3d8938"/><path d="M519.7 177.4 523.6 173.7 520.8 169.9 517 173.6Z" fill="#737644" stroke="#737644"/><path d="M519.3 204.8 523.1 200.8 520.3 196.8 516.5 200.7Z" fill="#50853a" stroke="#50853a"/><path d="M518.7 185 522.5 181.2 519.7 177.4 515.9 181.1Z" fill="#6f7e43" stroke="#6f7e43"/><path d="M596.7 139.8 600.5 137.7 597.6 134.5 593.8 136.7Z" fill="#6c453e" stroke="#6c453e"/><path d="M562.3 141.6 566.2 138.9 563.4 135.6 559.5 138.3Z" fill="#734b42" stroke="#734b42"/><path d="M524.7 166.4 528.6 162.9 525.8 159.2 521.9 162.7Z" fill="#786945" stroke="#786945"/><path d="M523.7 221.1 527.6 217 524.8 212.9 521 217Z" fill="#3f8736" stroke="#3f8736"/><path d="M531 242 534.8 237.8 532 233.6 528.2 237.8Z" fill="#3c8938" stroke="#3c8938"/><path d="M603.4 140.8 607.1 138.7 604.2 135.6 600.5 137.7Z" fill="#6b453d" stroke="#6b453d"/><path d="M547.9 146.7 551.8 143.8 549 140.4 545.1 143.3Z" fill="#775144" stroke="#775144"/><path d="M579.5 140.4 583.3 138 580.5 134.8 576.7 137.2Z" fill="#704840" stroke="#704840"/><path d="M528.6 162.9 532.4 159.5 529.7 155.8 525.8 159.2Z" fill="#7a6346" stroke="#7a6346"/><path d="M520.3 196.8 524.2 192.9 521.4 188.9 517.6 192.8Z" fill="#5d843d" stroke="#5d843d"/><path d="M610 141.9 613.8 139.8 610.9 136.7 607.1 138.7Z" fill="#6a453c" stroke="#6a453c"/><path d="M522 208.8 525.9 204.8 523.1 200.8 519.3 204.8Z" fill="#4c8539" stroke="#4c8539"/><path d="M523.6 173.7 527.4 170.1 524.7 166.4 520.8 169.9Z" fill="#757144" stroke="#757144"/><path d="M544 149.8 547.9 146.7 545.1 143.3 541.3 146.3Z" fill="#785444" stroke="#785444"/><path d="M616.7 142.9 620.5 140.9 617.5 137.9 613.8 139.8Z" fill="#69443c" stroke="#69443c"/><path d="M526.5 225.3 530.3 221.1 527.6 217 523.7 221.1Z" fill="#3f8737" stroke="#3f8737"/><path d="M643.4 147.6 647 145.9 644 142.9 640.4 144.6Z" fill="#624438" stroke="#624438"/><path d="M532.4 159.5 536.3 156.1 533.5 152.6 529.7 155.8Z" fill="#7a5e46" stroke="#7a5e46"/><path d="M623.4 144 627.1 142.1 624.2 139.1 620.5 140.9Z" fill="#68443b" stroke="#68443b"/><path d="M558.4 144.4 562.3 141.6 559.5 138.3 555.6 141Z" fill="#754e43" stroke="#754e43"/><path d="M636.7 146.4 640.4 144.6 637.4 141.6 633.8 143.3Z" fill="#644439" stroke="#644439"/><path d="M630.1 145.2 633.8 143.3 630.8 140.3 627.1 142.1Z" fill="#66443a" stroke="#66443a"/><path d="M521.4 188.9 525.3 185.1 522.5 181.2 518.7 185Z" fill="#6c8142" stroke="#6c8142"/><path d="M540.2 152.9 544 149.8 541.3 146.3 537.4 149.4Z" fill="#795745" stroke="#795745"/><path d="M569 142.3 572.8 139.7 570 136.4 566.2 138.9Z" fill="#734b42" stroke="#734b42"/><path d="M522.5 181.2 526.4 177.5 523.6 173.7 519.7 177.4Z" fill="#727944" stroke="#727944"/><path d="M536.3 156.1 540.2 152.9 537.4 149.4 533.5 152.6Z" fill="#7a5b46" stroke="#7a5b46"/><path d="M586.2 141.3 590 138.9 587.1 135.7 583.3 138Z" fill="#6f4840" stroke="#6f4840"/><path d="M529.3 229.4 533.1 225.3 530.3 221.1 526.5 225.3Z" fill="#3e8837" stroke="#3e8837"/><path d="M524.8 212.9 528.6 208.9 525.9 204.8 522 208.8Z" fill="#488638" stroke="#488638"/><path d="M527.4 170.1 531.3 166.6 528.6 162.9 524.7 166.4Z" fill="#786c45" stroke="#786c45"/><path d="M523.1 200.8 526.9 196.9 524.2 192.9 520.3 196.8Z" fill="#58853b" stroke="#58853b"/><path d="M554.6 147.2 558.4 144.4 555.6 141 551.8 143.8Z" fill="#775044" stroke="#775044"/><path d="M592.9 142.1 596.7 139.8 593.8 136.7 590 138.9Z" fill="#6f473f" stroke="#6f473f"/><path d="M575.7 143 579.5 140.4 576.7 137.2 572.8 139.7Z" fill="#724a41" stroke="#724a41"/><path d="M532 233.6 535.9 229.4 533.1 225.3 529.3 229.4Z" fill="#3e8837" stroke="#3e8837"/><path d="M524.2 192.9 528 189.1 525.3 185.1 521.4 188.9Z" fill="#678241" stroke="#678241"/><path d="M526.4 177.5 530.2 173.9 527.4 170.1 523.6 173.7Z" fill="#757444" stroke="#757444"/><path d="M531.3 166.6 535.2 163.1 532.4 159.5 528.6 162.9Z" fill="#796646" stroke="#796646"/><path d="M565.1 145 569 142.3 566.2 138.9 562.3 141.6Z" fill="#754d43" stroke="#754d43"/><path d="M527.6 217 531.4 213 528.6 208.9 524.8 212.9Z" fill="#448637" stroke="#448637"/><path d="M525.3 185.1 529.1 181.4 526.4 177.5 522.5 181.2Z" fill="#717c44" stroke="#717c44"/><path d="M550.7 150.2 554.6 147.2 551.8 143.8 547.9 146.7Z" fill="#785344" stroke="#785344"/><path d="M599.6 143.1 603.4 140.8 600.5 137.7 596.7 139.8Z" fill="#6e473f" stroke="#6e473f"/><path d="M525.9 204.8 529.7 200.9 526.9 196.9 523.1 200.8Z" fill="#54853b" stroke="#54853b"/><path d="M535.2 163.1 539.1 159.8 536.3 156.1 532.4 159.5Z" fill="#7b6146" stroke="#7b6146"/><path d="M534.8 237.8 538.7 233.6 535.9 229.4 532 233.6Z" fill="#3d8938" stroke="#3d8938"/><path d="M546.8 153.3 550.7 150.2 547.9 146.7 544 149.8Z" fill="#795645" stroke="#795645"/><path d="M539.1 159.8 542.9 156.5 540.2 152.9 536.3 156.1Z" fill="#7b5d46" stroke="#7b5d46"/><path d="M542.9 156.5 546.8 153.3 544 149.8 540.2 152.9Z" fill="#7a5945" stroke="#7a5945"/><path d="M606.3 144 610 141.9 607.1 138.7 603.4 140.8Z" fill="#6d463e" stroke="#6d463e"/><path d="M582.4 143.8 586.2 141.3 583.3 138 579.5 140.4Z" fill="#714a41" stroke="#714a41"/><path d="M530.3 221.1 534.2 217.1 531.4 213 527.6 217Z" fill="#408736" stroke="#408736"/><path d="M530.2 173.9 534.1 170.3 531.3 166.6 527.4 170.1Z" fill="#776f45" stroke="#776f45"/><path d="M561.2 147.8 565.1 145 562.3 141.6 558.4 144.4Z" fill="#764f43" stroke="#764f43"/><path d="M526.9 196.9 530.8 193 528 189.1 524.2 192.9Z" fill="#62833f" stroke="#62833f"/><path d="M613 145 616.7 142.9 613.8 139.8 610 141.9Z" fill="#6c463d" stroke="#6c463d"/><path d="M571.8 145.6 575.7 143 572.8 139.7 569 142.3Z" fill="#744c42" stroke="#744c42"/><path d="M528.6 208.9 532.5 204.9 529.7 200.9 525.9 204.8Z" fill="#50863a" stroke="#50863a"/><path d="M529.1 181.4 533 177.7 530.2 173.9 526.4 177.5Z" fill="#737744" stroke="#737744"/><path d="M528 189.1 531.9 185.3 529.1 181.4 525.3 185.1Z" fill="#6f7f44" stroke="#6f7f44"/><path d="M619.7 146.1 623.4 144 620.5 140.9 616.7 142.9Z" fill="#6b463d" stroke="#6b463d"/><path d="M589 144.6 592.9 142.1 590 138.9 586.2 141.3Z" fill="#714940" stroke="#714940"/><path d="M533.1 225.3 537 221.2 534.2 217.1 530.3 221.1Z" fill="#408737" stroke="#408737"/><path d="M534.1 170.3 538 166.8 535.2 163.1 531.3 166.6Z" fill="#796945" stroke="#796945"/><path d="M626.3 147.2 630.1 145.2 627.1 142.1 623.4 144Z" fill="#69463c" stroke="#69463c"/><path d="M557.4 150.7 561.2 147.8 558.4 144.4 554.6 147.2Z" fill="#785244" stroke="#785244"/><path d="M633 148.3 636.7 146.4 633.8 143.3 630.1 145.2Z" fill="#67463b" stroke="#67463b"/><path d="M639.7 149.5 643.4 147.6 640.4 144.6 636.7 146.4Z" fill="#65463a" stroke="#65463a"/><path d="M529.7 200.9 533.6 197 530.8 193 526.9 196.9Z" fill="#5d843d" stroke="#5d843d"/><path d="M531.4 213 535.3 209 532.5 204.9 528.6 208.9Z" fill="#4c8639" stroke="#4c8639"/><path d="M538 166.8 541.8 163.4 539.1 159.8 535.2 163.1Z" fill="#7a6446" stroke="#7a6446"/><path d="M578.5 146.4 582.4 143.8 579.5 140.4 575.7 143Z" fill="#734c42" stroke="#734c42"/><path d="M553.5 153.8 557.4 150.7 554.6 147.2 550.7 150.2Z" fill="#795545" stroke="#795545"/><path d="M535.9 229.4 539.7 225.3 537 221.2 533.1 225.3Z" fill="#3f8837" stroke="#3f8837"/><path d="M567.9 148.4 571.8 145.6 569 142.3 565.1 145Z" fill="#764e43" stroke="#764e43"/><path d="M595.8 145.4 599.6 143.1 596.7 139.8 592.9 142.1Z" fill="#704940" stroke="#704940"/><path d="M533 177.7 536.9 174.1 534.1 170.3 530.2 173.9Z" fill="#767245" stroke="#767245"/><path d="M541.8 163.4 545.7 160.1 542.9 156.5 539.1 159.8Z" fill="#7b5f46" stroke="#7b5f46"/><path d="M549.6 156.9 553.5 153.8 550.7 150.2 546.8 153.3Z" fill="#7a5845" stroke="#7a5845"/><path d="M530.8 193 534.7 189.2 531.9 185.3 528 189.1Z" fill="#6b8143" stroke="#6b8143"/><path d="M545.7 160.1 549.6 156.9 546.8 153.3 542.9 156.5Z" fill="#7b5b46" stroke="#7b5b46"/><path d="M531.9 185.3 535.8 181.6 533 177.7 529.1 181.4Z" fill="#727a44" stroke="#727a44"/><path d="M602.5 146.3 606.3 144 603.4 140.8 599.6 143.1Z" fill="#6f483f" stroke="#6f483f"/><path d="M538.7 233.6 542.5 229.5 539.7 225.3 535.9 229.4Z" fill="#3f8837" stroke="#3f8837"/><path d="M534.2 217.1 538 213.1 535.3 209 531.4 213Z" fill="#488638" stroke="#488638"/><path d="M532.5 204.9 536.4 201 533.6 197 529.7 200.9Z" fill="#57853b" stroke="#57853b"/><path d="M536.9 174.1 540.7 170.6 538 166.8 534.1 170.3Z" fill="#786d45" stroke="#786d45"/><path d="M564.1 151.3 567.9 148.4 565.1 145 561.2 147.8Z" fill="#785144" stroke="#785144"/><path d="M585.2 147.1 589 144.6 586.2 141.3 582.4 143.8Z" fill="#734b41" stroke="#734b41"/><path d="M609.2 147.3 613 145 610 141.9 606.3 144Z" fill="#6e483f" stroke="#6e483f"/><path d="M574.6 149.1 578.5 146.4 575.7 143 571.8 145.6Z" fill="#754e43" stroke="#754e43"/><path d="M533.6 197 537.4 193.2 534.7 189.2 530.8 193Z" fill="#678341" stroke="#678341"/><path d="M535.8 181.6 539.6 177.9 536.9 174.1 533 177.7Z" fill="#757545" stroke="#757545"/><path d="M537 221.2 540.8 217.2 538 213.1 534.2 217.1Z" fill="#448737" stroke="#448737"/><path d="M540.7 170.6 544.6 167.2 541.8 163.4 538 166.8Z" fill="#7a6746" stroke="#7a6746"/><path d="M560.2 154.3 564.1 151.3 561.2 147.8 557.4 150.7Z" fill="#795445" stroke="#795445"/><path d="M615.9 148.3 619.7 146.1 616.7 142.9 613 145Z" fill="#6d483e" stroke="#6d483e"/><path d="M534.7 189.2 538.5 185.5 535.8 181.6 531.9 185.3Z" fill="#717d44" stroke="#717d44"/><path d="M535.3 209 539.1 205 536.4 201 532.5 204.9Z" fill="#54863b" stroke="#54863b"/><path d="M591.9 147.9 595.8 145.4 592.9 142.1 589 144.6Z" fill="#724b41" stroke="#724b41"/><path d="M544.6 167.2 548.5 163.8 545.7 160.1 541.8 163.4Z" fill="#7b6246" stroke="#7b6246"/><path d="M556.3 157.4 560.2 154.3 557.4 150.7 553.5 153.8Z" fill="#7a5745" stroke="#7a5745"/><path d="M622.6 149.3 626.3 147.2 623.4 144 619.7 146.1Z" fill="#6c483d" stroke="#6c483d"/><path d="M548.5 163.8 552.4 160.5 549.6 156.9 545.7 160.1Z" fill="#7b5e46" stroke="#7b5e46"/><path d="M552.4 160.5 556.3 157.4 553.5 153.8 549.6 156.9Z" fill="#7a5a46" stroke="#7a5a46"/><path d="M570.8 151.9 574.6 149.1 571.8 145.6 567.9 148.4Z" fill="#775044" stroke="#775044"/><path d="M629.3 150.3 633 148.3 630.1 145.2 626.3 147.2Z" fill="#6b483d" stroke="#6b483d"/><path d="M539.7 225.3 543.6 221.3 540.8 217.2 537 221.2Z" fill="#408737" stroke="#408737"/><path d="M581.3 149.8 585.2 147.1 582.4 143.8 578.5 146.4Z" fill="#754d42" stroke="#754d42"/><path d="M539.6 177.9 543.5 174.4 540.7 170.6 536.9 174.1Z" fill="#777045" stroke="#777045"/><path d="M636 151.4 639.7 149.5 636.7 146.4 633 148.3Z" fill="#69483c" stroke="#69483c"/><path d="M536.4 201 540.2 197.1 537.4 193.2 533.6 197Z" fill="#62843f" stroke="#62843f"/><path d="M598.6 148.8 602.5 146.3 599.6 143.1 595.8 145.4Z" fill="#714a41" stroke="#714a41"/><path d="M538 213.1 541.9 209.1 539.1 205 535.3 209Z" fill="#50863a" stroke="#50863a"/><path d="M538.5 185.5 542.4 181.8 539.6 177.9 535.8 181.6Z" fill="#747845" stroke="#747845"/><path d="M537.4 193.2 541.3 189.4 538.5 185.5 534.7 189.2Z" fill="#6f8044" stroke="#6f8044"/><path d="M542.5 229.5 546.4 225.4 543.6 221.3 539.7 225.3Z" fill="#408837" stroke="#408837"/><path d="M566.9 154.8 570.8 151.9 567.9 148.4 564.1 151.3Z" fill="#785344" stroke="#785344"/><path d="M543.5 174.4 547.4 170.9 544.6 167.2 540.7 170.6Z" fill="#796a46" stroke="#796a46"/><path d="M605.4 149.6 609.2 147.3 606.3 144 602.5 146.3Z" fill="#714a40" stroke="#714a40"/><path d="M588.1 150.5 591.9 147.9 589 144.6 585.2 147.1Z" fill="#744d42" stroke="#744d42"/><path d="M577.5 152.5 581.3 149.8 578.5 146.4 574.6 149.1Z" fill="#774f43" stroke="#774f43"/><path d="M539.1 205 543 201.1 540.2 197.1 536.4 201Z" fill="#5c853d" stroke="#5c853d"/><path d="M540.8 217.2 544.7 213.2 541.9 209.1 538 213.1Z" fill="#4b8739" stroke="#4b8739"/><path d="M563 157.8 566.9 154.8 564.1 151.3 560.2 154.3Z" fill="#795645" stroke="#795645"/><path d="M547.4 170.9 551.3 167.5 548.5 163.8 544.6 167.2Z" fill="#7b6546" stroke="#7b6546"/><path d="M542.4 181.8 546.3 178.2 543.5 174.4 539.6 177.9Z" fill="#767345" stroke="#767345"/><path d="M612.1 150.6 615.9 148.3 613 145 609.2 147.3Z" fill="#704a3f" stroke="#704a3f"/><path d="M559.1 161 563 157.8 560.2 154.3 556.3 157.4Z" fill="#7a5946" stroke="#7a5946"/><path d="M551.3 167.5 555.2 164.2 552.4 160.5 548.5 163.8Z" fill="#7c6047" stroke="#7c6047"/><path d="M540.2 197.1 544.1 193.3 541.3 189.4 537.4 193.2Z" fill="#6b8243" stroke="#6b8243"/><path d="M555.2 164.2 559.1 161 556.3 157.4 552.4 160.5Z" fill="#7b5c46" stroke="#7b5c46"/><path d="M541.3 189.4 545.2 185.7 542.4 181.8 538.5 185.5Z" fill="#727b44" stroke="#727b44"/><path d="M594.8 151.3 598.6 148.8 595.8 145.4 591.9 147.9Z" fill="#734c42" stroke="#734c42"/><path d="M618.8 151.5 622.6 149.3 619.7 146.1 615.9 148.3Z" fill="#6f4a3f" stroke="#6f4a3f"/><path d="M573.6 155.4 577.5 152.5 574.6 149.1 570.8 151.9Z" fill="#785244" stroke="#785244"/><path d="M543.6 221.3 547.5 217.3 544.7 213.2 540.8 217.2Z" fill="#478738" stroke="#478738"/><path d="M541.9 209.1 545.8 205.2 543 201.1 539.1 205Z" fill="#57863b" stroke="#57863b"/><path d="M546.3 178.2 550.2 174.7 547.4 170.9 543.5 174.4Z" fill="#786e45" stroke="#786e45"/><path d="M584.2 153.2 588.1 150.5 585.2 147.1 581.3 149.8Z" fill="#764f43" stroke="#764f43"/><path d="M625.5 152.5 629.3 150.3 626.3 147.2 622.6 149.3Z" fill="#6d4a3e" stroke="#6d4a3e"/><path d="M601.5 152.1 605.4 149.6 602.5 146.3 598.6 148.8Z" fill="#734c41" stroke="#734c41"/><path d="M569.7 158.4 573.6 155.4 570.8 151.9 566.9 154.8Z" fill="#795545" stroke="#795545"/><path d="M543 201.1 546.9 197.3 544.1 193.3 540.2 197.1Z" fill="#668441" stroke="#668441"/><path d="M632.3 153.6 636 151.4 633 148.3 629.3 150.3Z" fill="#6c4a3d" stroke="#6c4a3d"/><path d="M545.2 185.7 549.1 182.1 546.3 178.2 542.4 181.8Z" fill="#757645" stroke="#757645"/><path d="M550.2 174.7 554.1 171.2 551.3 167.5 547.4 170.9Z" fill="#7a6846" stroke="#7a6846"/><path d="M546.4 225.4 550.3 221.4 547.5 217.3 543.6 221.3Z" fill="#438737" stroke="#438737"/><path d="M544.1 193.3 548 189.6 545.2 185.7 541.3 189.4Z" fill="#717e44" stroke="#717e44"/><path d="M544.7 213.2 548.6 209.2 545.8 205.2 541.9 209.1Z" fill="#53863b" stroke="#53863b"/><path d="M565.8 161.5 569.7 158.4 566.9 154.8 563 157.8Z" fill="#7a5846" stroke="#7a5846"/><path d="M554.1 171.2 558 167.9 555.2 164.2 551.3 167.5Z" fill="#7b6347" stroke="#7b6347"/><path d="M580.3 156 584.2 153.2 581.3 149.8 577.5 152.5Z" fill="#785144" stroke="#785144"/><path d="M590.9 153.9 594.8 151.3 591.9 147.9 588.1 150.5Z" fill="#754e43" stroke="#754e43"/><path d="M561.9 164.6 565.8 161.5 563 157.8 559.1 161Z" fill="#7b5b46" stroke="#7b5b46"/><path d="M558 167.9 561.9 164.6 559.1 161 555.2 164.2Z" fill="#7c5f47" stroke="#7c5f47"/><path d="M608.3 153 612.1 150.6 609.2 147.3 605.4 149.6Z" fill="#724c41" stroke="#724c41"/><path d="M549.1 182.1 553 178.5 550.2 174.7 546.3 178.2Z" fill="#777145" stroke="#777145"/><path d="M545.8 205.2 549.7 201.3 546.9 197.3 543 201.1Z" fill="#61853f" stroke="#61853f"/><path d="M547.5 217.3 551.4 213.3 548.6 209.2 544.7 213.2Z" fill="#4f873a" stroke="#4f873a"/><path d="M615 153.9 618.8 151.5 615.9 148.3 612.1 150.6Z" fill="#714b40" stroke="#714b40"/><path d="M548 189.6 551.9 185.9 549.1 182.1 545.2 185.7Z" fill="#747945" stroke="#747945"/><path d="M576.4 159 580.3 156 577.5 152.5 573.6 155.4Z" fill="#795445" stroke="#795445"/><path d="M546.9 197.3 550.8 193.5 548 189.6 544.1 193.3Z" fill="#6f8144" stroke="#6f8144"/><path d="M597.7 154.7 601.5 152.1 598.6 148.8 594.8 151.3Z" fill="#754e42" stroke="#754e42"/><path d="M553 178.5 556.9 175 554.1 171.2 550.2 174.7Z" fill="#796c46" stroke="#796c46"/><path d="M587.1 156.7 590.9 153.9 588.1 150.5 584.2 153.2Z" fill="#775144" stroke="#775144"/><path d="M621.8 154.8 625.5 152.5 622.6 149.3 618.8 151.5Z" fill="#704b40" stroke="#704b40"/><path d="M572.5 162 576.4 159 573.6 155.4 569.7 158.4Z" fill="#7a5745" stroke="#7a5745"/><path d="M548.6 209.2 552.5 205.3 549.7 201.3 545.8 205.2Z" fill="#5b863d" stroke="#5b863d"/><path d="M556.9 175 560.8 171.6 558 167.9 554.1 171.2Z" fill="#7b6646" stroke="#7b6646"/><path d="M550.3 221.4 554.2 217.4 551.4 213.3 547.5 217.3Z" fill="#4b8739" stroke="#4b8739"/><path d="M568.6 165.1 572.5 162 569.7 158.4 565.8 161.5Z" fill="#7b5a46" stroke="#7b5a46"/><path d="M551.9 185.9 555.8 182.3 553 178.5 549.1 182.1Z" fill="#767445" stroke="#767445"/><path d="M560.8 171.6 564.7 168.3 561.9 164.6 558 167.9Z" fill="#7c6147" stroke="#7c6147"/><path d="M604.4 155.5 608.3 153 605.4 149.6 601.5 152.1Z" fill="#744e42" stroke="#744e42"/><path d="M628.5 155.8 632.3 153.6 629.3 150.3 625.5 152.5Z" fill="#6f4b3f" stroke="#6f4b3f"/><path d="M564.7 168.3 568.6 165.1 565.8 161.5 561.9 164.6Z" fill="#7b5d46" stroke="#7b5d46"/><path d="M549.7 201.3 553.6 197.5 550.8 193.5 546.9 197.3Z" fill="#6a8342" stroke="#6a8342"/><path d="M550.8 193.5 554.7 189.8 551.9 185.9 548 189.6Z" fill="#727c45" stroke="#727c45"/><path d="M583.2 159.6 587.1 156.7 584.2 153.2 580.3 156Z" fill="#785344" stroke="#785344"/><path d="M593.8 157.4 597.7 154.7 594.8 151.3 590.9 153.9Z" fill="#765043" stroke="#765043"/><path d="M551.4 213.3 555.3 209.4 552.5 205.3 548.6 209.2Z" fill="#56863b" stroke="#56863b"/><path d="M555.8 182.3 559.7 178.8 556.9 175 553 178.5Z" fill="#786f45" stroke="#786f45"/><path d="M611.2 156.4 615 153.9 612.1 150.6 608.3 153Z" fill="#734d41" stroke="#734d41"/><path d="M579.3 162.6 583.2 159.6 580.3 156 576.4 159Z" fill="#795645" stroke="#795645"/><path d="M552.5 205.3 556.4 201.5 553.6 197.5 549.7 201.3Z" fill="#658540" stroke="#658540"/><path d="M554.7 189.8 558.6 186.2 555.8 182.3 551.9 185.9Z" fill="#757745" stroke="#757745"/><path d="M559.7 178.8 563.7 175.4 560.8 171.6 556.9 175Z" fill="#7a6a46" stroke="#7a6a46"/><path d="M553.6 197.5 557.5 193.8 554.7 189.8 550.8 193.5Z" fill="#718044" stroke="#718044"/><path d="M600.6 158.2 604.4 155.5 601.5 152.1 597.7 154.7Z" fill="#765043" stroke="#765043"/><path d="M575.4 165.6 579.3 162.6 576.4 159 572.5 162Z" fill="#7a5946" stroke="#7a5946"/><path d="M617.9 157.2 621.8 154.8 618.8 151.5 615 153.9Z" fill="#724d41" stroke="#724d41"/><path d="M589.9 160.2 593.8 157.4 590.9 153.9 587.1 156.7Z" fill="#785344" stroke="#785344"/><path d="M554.2 217.4 558.1 213.4 555.3 209.4 551.4 213.3Z" fill="#52873b" stroke="#52873b"/><path d="M563.7 175.4 567.6 172 564.7 168.3 560.8 171.6Z" fill="#7b6447" stroke="#7b6447"/><path d="M571.5 168.8 575.4 165.6 572.5 162 568.6 165.1Z" fill="#7b5c46" stroke="#7b5c46"/><path d="M567.6 172 571.5 168.8 568.6 165.1 564.7 168.3Z" fill="#7c6047" stroke="#7c6047"/><path d="M558.6 186.2 562.6 182.7 559.7 178.8 555.8 182.3Z" fill="#777245" stroke="#777245"/><path d="M624.7 158.1 628.5 155.8 625.5 152.5 621.8 154.8Z" fill="#714d40" stroke="#714d40"/><path d="M555.3 209.4 559.3 205.5 556.4 201.5 552.5 205.3Z" fill="#5f863e" stroke="#5f863e"/><path d="M586 163.2 589.9 160.2 587.1 156.7 583.2 159.6Z" fill="#795545" stroke="#795545"/><path d="M607.3 159 611.2 156.4 608.3 153 604.4 155.5Z" fill="#755042" stroke="#755042"/><path d="M557.5 193.8 561.5 190.1 558.6 186.2 554.7 189.8Z" fill="#747a45" stroke="#747a45"/><path d="M556.4 201.5 560.4 197.7 557.5 193.8 553.6 197.5Z" fill="#6e8244" stroke="#6e8244"/><path d="M596.7 160.9 600.6 158.2 597.7 154.7 593.8 157.4Z" fill="#775244" stroke="#775244"/><path d="M562.6 182.7 566.5 179.2 563.7 175.4 559.7 178.8Z" fill="#796d46" stroke="#796d46"/><path d="M582.1 166.2 586 163.2 583.2 159.6 579.3 162.6Z" fill="#7a5846" stroke="#7a5846"/><path d="M566.5 179.2 570.4 175.8 567.6 172 563.7 175.4Z" fill="#7a6846" stroke="#7a6846"/><path d="M614.1 159.8 617.9 157.2 615 153.9 611.2 156.4Z" fill="#744f42" stroke="#744f42"/><path d="M558.1 213.4 562.1 209.6 559.3 205.5 555.3 209.4Z" fill="#59863c" stroke="#59863c"/><path d="M578.2 169.3 582.1 166.2 579.3 162.6 575.4 165.6Z" fill="#7b5b46" stroke="#7b5b46"/><path d="M570.4 175.8 574.3 172.5 571.5 168.8 567.6 172Z" fill="#7c6347" stroke="#7c6347"/><path d="M561.5 190.1 565.4 186.5 562.6 182.7 558.6 186.2Z" fill="#767545" stroke="#767545"/><path d="M574.3 172.5 578.2 169.3 575.4 165.6 571.5 168.8Z" fill="#7c5f47" stroke="#7c5f47"/><path d="M592.8 163.8 596.7 160.9 593.8 157.4 589.9 160.2Z" fill="#795545" stroke="#795545"/><path d="M559.3 205.5 563.2 201.7 560.4 197.7 556.4 201.5Z" fill="#698442" stroke="#698442"/><path d="M603.5 161.7 607.3 159 604.4 155.5 600.6 158.2Z" fill="#775243" stroke="#775243"/><path d="M560.4 197.7 564.3 194.1 561.5 190.1 557.5 193.8Z" fill="#727e45" stroke="#727e45"/><path d="M620.9 160.6 624.7 158.1 621.8 154.8 617.9 157.2Z" fill="#734f41" stroke="#734f41"/><path d="M565.4 186.5 569.3 183 566.5 179.2 562.6 182.7Z" fill="#787145" stroke="#787145"/><path d="M588.9 166.8 592.8 163.8 589.9 160.2 586 163.2Z" fill="#7a5745" stroke="#7a5745"/><path d="M610.3 162.4 614.1 159.8 611.2 156.4 607.3 159Z" fill="#765243" stroke="#765243"/><path d="M569.3 183 573.2 179.6 570.4 175.8 566.5 179.2Z" fill="#7a6b46" stroke="#7a6b46"/><path d="M564.3 194.1 568.2 190.4 565.4 186.5 561.5 190.1Z" fill="#757845" stroke="#757845"/><path d="M562.1 209.6 566 205.7 563.2 201.7 559.3 205.5Z" fill="#638540" stroke="#638540"/><path d="M599.6 164.5 603.5 161.7 600.6 158.2 596.7 160.9Z" fill="#785444" stroke="#785444"/><path d="M585 169.8 588.9 166.8 586 163.2 582.1 166.2Z" fill="#7b5a46" stroke="#7b5a46"/><path d="M563.2 201.7 567.1 198 564.3 194.1 560.4 197.7Z" fill="#708144" stroke="#708144"/><path d="M573.2 179.6 577.2 176.3 574.3 172.5 570.4 175.8Z" fill="#7b6647" stroke="#7b6647"/><path d="M581.1 173 585 169.8 582.1 166.2 578.2 169.3Z" fill="#7b5e46" stroke="#7b5e46"/><path d="M577.2 176.3 581.1 173 578.2 169.3 574.3 172.5Z" fill="#7c6147" stroke="#7c6147"/><path d="M617 163.2 620.9 160.6 617.9 157.2 614.1 159.8Z" fill="#755142" stroke="#755142"/><path d="M568.2 190.4 572.2 186.9 569.3 183 565.4 186.5Z" fill="#777445" stroke="#777445"/><path d="M595.7 167.4 599.6 164.5 596.7 160.9 592.8 163.8Z" fill="#795745" stroke="#795745"/><path d="M606.4 165.2 610.3 162.4 607.3 159 603.5 161.7Z" fill="#775444" stroke="#775444"/><path d="M567.1 198 571.1 194.3 568.2 190.4 564.3 194.1Z" fill="#737c45" stroke="#737c45"/><path d="M566 205.7 570 202 567.1 198 563.2 201.7Z" fill="#6c8343" stroke="#6c8343"/><path d="M572.2 186.9 576.1 183.4 573.2 179.6 569.3 183Z" fill="#796f46" stroke="#796f46"/><path d="M591.8 170.4 595.7 167.4 592.8 163.8 588.9 166.8Z" fill="#7a5a46" stroke="#7a5a46"/><path d="M576.1 183.4 580 180 577.2 176.3 573.2 179.6Z" fill="#7a6a46" stroke="#7a6a46"/><path d="M587.9 173.5 591.8 170.4 588.9 166.8 585 169.8Z" fill="#7b5d46" stroke="#7b5d46"/><path d="M580 180 583.9 176.7 581.1 173 577.2 176.3Z" fill="#7b6547" stroke="#7b6547"/><path d="M583.9 176.7 587.9 173.5 585 169.8 581.1 173Z" fill="#7c6047" stroke="#7c6047"/><path d="M602.5 168 606.4 165.2 603.5 161.7 599.6 164.5Z" fill="#795645" stroke="#795645"/><path d="M613.2 165.9 617 163.2 614.1 159.8 610.3 162.4Z" fill="#775443" stroke="#775443"/><path d="M571.1 194.3 575 190.8 572.2 186.9 568.2 190.4Z" fill="#767745" stroke="#767745"/><path d="M570 202 573.9 198.3 571.1 194.3 567.1 198Z" fill="#717f45" stroke="#717f45"/><path d="M598.6 171 602.5 168 599.6 164.5 595.7 167.4Z" fill="#7a5945" stroke="#7a5945"/><path d="M575 190.8 578.9 187.3 576.1 183.4 572.2 186.9Z" fill="#787245" stroke="#787245"/><path d="M609.3 168.7 613.2 165.9 610.3 162.4 606.4 165.2Z" fill="#785644" stroke="#785644"/><path d="M578.9 187.3 582.9 183.8 580 180 576.1 183.4Z" fill="#796d46" stroke="#796d46"/><path d="M594.7 174.1 598.6 171 595.7 167.4 591.8 170.4Z" fill="#7b5c46" stroke="#7b5c46"/><path d="M573.9 198.3 577.8 194.7 575 190.8 571.1 194.3Z" fill="#747a45" stroke="#747a45"/><path d="M582.9 183.8 586.8 180.5 583.9 176.7 580 180Z" fill="#7b6846" stroke="#7b6846"/><path d="M590.7 177.2 594.7 174.1 591.8 170.4 587.9 173.5Z" fill="#7c5f47" stroke="#7c5f47"/><path d="M586.8 180.5 590.7 177.2 587.9 173.5 583.9 176.7Z" fill="#7b6347" stroke="#7b6347"/><path d="M605.4 171.6 609.3 168.7 606.4 165.2 602.5 168Z" fill="#795945" stroke="#795945"/><path d="M577.8 194.7 581.8 191.1 578.9 187.3 575 190.8Z" fill="#767545" stroke="#767545"/><path d="M601.5 174.7 605.4 171.6 602.5 168 598.6 171Z" fill="#7a5b46" stroke="#7a5b46"/><path d="M581.8 191.1 585.7 187.7 582.9 183.8 578.9 187.3Z" fill="#787146" stroke="#787146"/><path d="M597.6 177.8 601.5 174.7 598.6 171 594.7 174.1Z" fill="#7b5f46" stroke="#7b5f46"/><path d="M585.7 187.7 589.7 184.3 586.8 180.5 582.9 183.8Z" fill="#7a6c46" stroke="#7a6c46"/><path d="M593.6 181 597.6 177.8 594.7 174.1 590.7 177.2Z" fill="#7b6247" stroke="#7b6247"/><path d="M589.7 184.3 593.6 181 590.7 177.2 586.8 180.5Z" fill="#7b6746" stroke="#7b6746"/></g><clipPath id="clipb"><path d="M419.5,111.5 421,110 422.5,108.9 424,107.4 425.5,106.4 427,104.9 428.5,103.9 430,103 431.5,101.5 433,100.6 434.5,99.2 436,98.3 437.5,97 439,96.1 440.5,95.2 442,93.9 443.5,93.1 445,91.9 446.5,91.1 448,89.9 449.5,89.1 451,88.4 452.5,87.3 454,86.5 455.5,85.5 457,84.8 458.5,84.1 460,83.1 461.5,82.5 463,81.6 464.5,81 466,80.4 467.5,79.5 469,79 470.5,78.2 472,77.7 473.5,77.2 475,76.5 476.5,76 478,75.4 479.5,74.9 481,74.5 482.5,74 484,73.6 485.5,73.1 487,72.8 488.5,72.5 490,72 491.5,71.8 493,71.4 494.5,71.2 496,71 497.5,70.7 499,70.5 500.5,70.3 502,70.2 503.5,70 505,70 506.5,69.9 508,69.8 509.5,69.8 511,69.8 512.5,69.8 514,69.8 515.5,69.9 517,70 518.5,70.1 520,70.2 521.5,70.4 523,70.6 524.5,70.8 526,71.1 527.5,71.3 529,71.6 530.5,71.9 532,72.2 533.5,72.5 535,72.8 536.5,73.2 538,73.5 539.5,73.8 541,74.2 542.5,74.6 544,74.9 545.5,75.3 547,75.7 548.5,76 550,76.4 551.5,76.8 553,77.2 554.5,77.6 556,78 557.5,78.5 559,78.9 560.5,79.3 562,79.8 563.5,80.2 565,80.6 566.5,81.1 568,81.6 569.5,82 571,82.5 572.5,83 574,83.5 575.5,84 577,84.5 578.5,85 580,85.5 581.5,86 583,86.5 584.5,87 586,87.5 587.5,88.1 589,88.6 590.5,89.2 592,89.7 593.5,90.3 595,90.8 596.5,91.4 598,92 599.5,92.6 601,93.1 602.5,93.7 604,94.3 605.5,94.8 607,95.4 608.5,96.2 610,96.8 611.5,97.4 613,98.2 614.5,98.8 616,99.5 617.5,100.1 619,100.8 620.5,101.8 622,102.5 623.5,103.3 625,104 626.5,104.8 628,105.6 629.5,106.7 631,107.5 632.5,108.3 634,109.2 635.5,110.1 637,111 638.5,111.9 640,112.8 641.5,113.7 643,114.6 644.5,115.6 646,116.6 647.5,117.6 649,118.6 650.5,119.9 652,120.9 653.5,122 655,123 656.5,124.1 658,125.2 659.5,125.9 661,127 662.5,128.1 664,129.2 665.5,130.3 667,131.5 668.5,132.6 670,133.8 671.5,134.9 673,136.1 673,136.9 671.5,137.2 670,137.4 668.5,137.8 667,138.3 665.5,138.6 664,139 662.5,139.6 661,139.9 659.5,140.5 658,140.9 656.5,141.6 655,142 653.5,142.7 652,143.2 650.5,143.9 649,144.7 647.5,145.3 646,145.8 644.5,146.7 643,147.3 641.5,148.2 640,148.9 638.5,149.8 637,150.5 635.5,151.5 634,152.2 632.5,153 631,154.1 629.5,154.8 628,155.6 626.5,156.7 625,157.5 623.5,158.8 622,159.6 620.5,160.4 619,161.7 617.5,162.6 616,163.5 614.5,164.9 613,165.8 611.5,166.7 610,168.1 608.5,169.1 607,170.1 605.5,171 604,172.5 602.5,173.5 601,174.6 599.5,176.1 598,177.2 596.5,178.2 595,179.8 593.5,180.9 592,182 590.5,183.1 589,184.8 587.5,185.9 586,187.1 584.5,188.8 583,189.9 581.5,191.1 580,192.3 578.5,194.1 577,195.3 575.5,196.5 574,197.7 572.5,199.5 571,200.8 569.5,202 568,203.9 566.5,205.1 565,206.4 563.5,207.7 562,209.6 560.5,210.9 559,212.2 557.5,214.1 556,215.5 554.5,216.8 553,218.8 551.5,220.1 550,221.4 548.5,222.8 547,224.8 545.5,226.2 544,227.5 542.5,229.6 541,230.9 539.5,232.3 538,234.4 536.5,235.8 535,237.2 533.5,239.3 532,240.7 530.5,242.1 529,244.2 527.5,245.6 526,247 524.5,249.2 523,249.9 521.5,247.8 520,245.6 518.5,243.5 517,240.7 515.5,238.6 514,236.5 512.5,234.4 511,231.6 509.5,229.5 508,227.5 506.5,224.7 505,222.6 503.5,220.6 502,218.5 500.5,215.8 499,213.7 497.5,211.7 496,209 494.5,207 493,204.9 491.5,202.3 490,200.3 488.5,198.3 487,195.7 485.5,193.7 484,191.7 482.5,189.1 481,187.2 479.5,185.3 478,182.7 476.5,180.8 475,178.9 473.5,176.4 472,174.6 470.5,172.1 469,170.3 467.5,168.5 466,166.1 464.5,164.3 463,161.9 461.5,160.2 460,157.9 458.5,156.1 457,153.9 455.5,152.2 454,150 452.5,148.3 451,146.1 449.5,144.5 448,142.4 446.5,140.9 445,138.8 443.5,136.8 442,135.3 440.5,133.3 439,131.8 437.5,129.9 436,128.1 434.5,126.2 433,124.9 431.5,123.1 430,121.4 428.5,119.7 427,118 425.5,116.4 424,114.8 422.5,113.7 421,112.2 419.5,110.7Z"/></clipPath><g clip-path="url(#clipb)"><g transform="translate(479 85.4) rotate(6)" fill="none" stroke="#101008"><ellipse cx="0" cy="0" rx="6" ry="1.8" stroke-width="2.2" stroke-opacity="0.35"/><ellipse cx="0" cy="0" rx="14.3" ry="4.5" stroke-width="1.8" stroke-opacity="0.45"/><ellipse cx="0" cy="0" rx="24" ry="7.5" stroke-width="1.7" stroke-opacity="0.4"/><ellipse cx="0" cy="0" rx="32.5" ry="10.2" stroke-width="1.6" stroke-opacity="0.36"/><ellipse cx="0" cy="0" rx="40.5" ry="12.8" stroke-width="1.5" stroke-opacity="0.32"/><ellipse cx="0" cy="0" rx="48" ry="15.5" stroke-width="1.4" stroke-opacity="0.28"/><ellipse cx="0" cy="0" rx="55" ry="18" stroke-width="1.3" stroke-opacity="0.24"/><ellipse cx="0" cy="0" rx="62" ry="20.5" stroke-width="1.2" stroke-opacity="0.2"/><ellipse cx="0" cy="0" rx="69" ry="23" stroke-width="1.2" stroke-opacity="0.17"/></g><g transform="translate(536.8 168) rotate(-8)" fill="none" stroke="#e0e0a0"><ellipse cx="0" cy="0" rx="6" ry="2.2" stroke-width="2" stroke-opacity="0.1"/><ellipse cx="0" cy="0" rx="14" ry="5" stroke-width="1.8" stroke-opacity="0.1"/><ellipse cx="0" cy="0" rx="24" ry="8.5" stroke-width="1.8" stroke-opacity="0.09"/><ellipse cx="0" cy="0" rx="34" ry="12" stroke-width="1.8" stroke-opacity="0.08"/><ellipse cx="0" cy="0" rx="44" ry="15.5" stroke-width="1.6" stroke-opacity="0.07"/><ellipse cx="0" cy="0" rx="54" ry="19" stroke-width="1.5" stroke-opacity="0.06"/></g></g><circle cx="523.6" cy="248.4" r="2.4" fill="#cc0000" stroke="#800000" stroke-width="0.5"/><circle cx="673.8" cy="138.4" r="2.4" fill="#cc0000" stroke="#800000" stroke-width="0.5"/><circle cx="420.2" cy="111.4" r="2.4" fill="#e89090" stroke="#a04030" stroke-width="0.5"/><circle cx="602.2" cy="177.1" r="2.4" fill="#e89090" stroke="#a04030" stroke-width="0.5"/><circle cx="469.5" cy="172.3" r="2.4" fill="#e89090" stroke="#a04030" stroke-width="0.5"/><circle cx="494.1" cy="68.6" r="2.4" fill="#cc0000" stroke="#800000" stroke-width="0.5"/><circle cx="545.2" cy="100.4" r="2.4" fill="#cc0000" stroke="#800000" stroke-width="0.5"/><circle cx="545.2" cy="105.1" r="2.4" fill="#cc0000" stroke="#800000" stroke-width="0.5"/><line x1="601.2" y1="174.6" x2="601.2" y2="171.0" stroke="#3a3a20" stroke-width="0.8"/><g class="tk" opacity="0.99"><text transform="matrix(1.05 0 0 1 529.2 298.5)">180</text><text transform="matrix(1.05 0 0 1 546.1 288.1)">270</text><text transform="matrix(1.05 0 0 1 563 277.8)">360</text><text transform="matrix(1.05 0 0 1 580 267.4)">450</text><text transform="matrix(1.05 0 0 1 596.9 257.1)">540</text><text transform="matrix(1.05 0 0 1 613.8 246.7)">630</text><text transform="matrix(1.05 0 0 1 630.8 236.3)">720</text><text transform="matrix(1.05 0 0 1 647.7 226)">810</text><text transform="matrix(1.05 0 0 1 664.6 215.6)">900</text><text transform="matrix(1.05 0 0 1 520.9 298)" text-anchor="end">90</text><text transform="matrix(1.05 0 0 1 505.4 279.2)" text-anchor="end">120</text><text transform="matrix(1.05 0 0 1 490 260.4)" text-anchor="end">150</text><text transform="matrix(1.05 0 0 1 474.5 241.6)" text-anchor="end">180</text><text transform="matrix(1.05 0 0 1 459 222.7)" text-anchor="end">210</text><text transform="matrix(1.05 0 0 1 443.6 203.9)" text-anchor="end">240</text><text transform="matrix(1.05 0 0 1 428.1 185.1)" text-anchor="end">270</text><text transform="matrix(1.05 0 0 1 411 73.7)" text-anchor="end">125</text><text transform="matrix(1.05 0 0 1 413.3 87.1)" text-anchor="end">120</text><text transform="matrix(1.05 0 0 1 415.6 100.5)" text-anchor="end">115</text><text transform="matrix(1.05 0 0 1 418 113.8)" text-anchor="end">110</text><text transform="matrix(1.05 0 0 1 420.3 127.2)" text-anchor="end">105</text><text transform="matrix(1.05 0 0 1 422.6 140.6)" text-anchor="end">100</text><text transform="matrix(1.05 0 0 1 424.9 154)" text-anchor="end">95</text></g><g class="ti" opacity="0.99"><text transform="matrix(1.05 0 0 1 603.6 293.9)">A: Power</text><text transform="matrix(1.05 0 0 1 414.3 267.2)">B: Time</text><text transform="matrix(0 -1 1.05 0 386.4 176.6)">Frap (µmol Iron/ml)</text></g><text class="cap" x="534.2" y="342.5">(b)</text></svg></body></html>
